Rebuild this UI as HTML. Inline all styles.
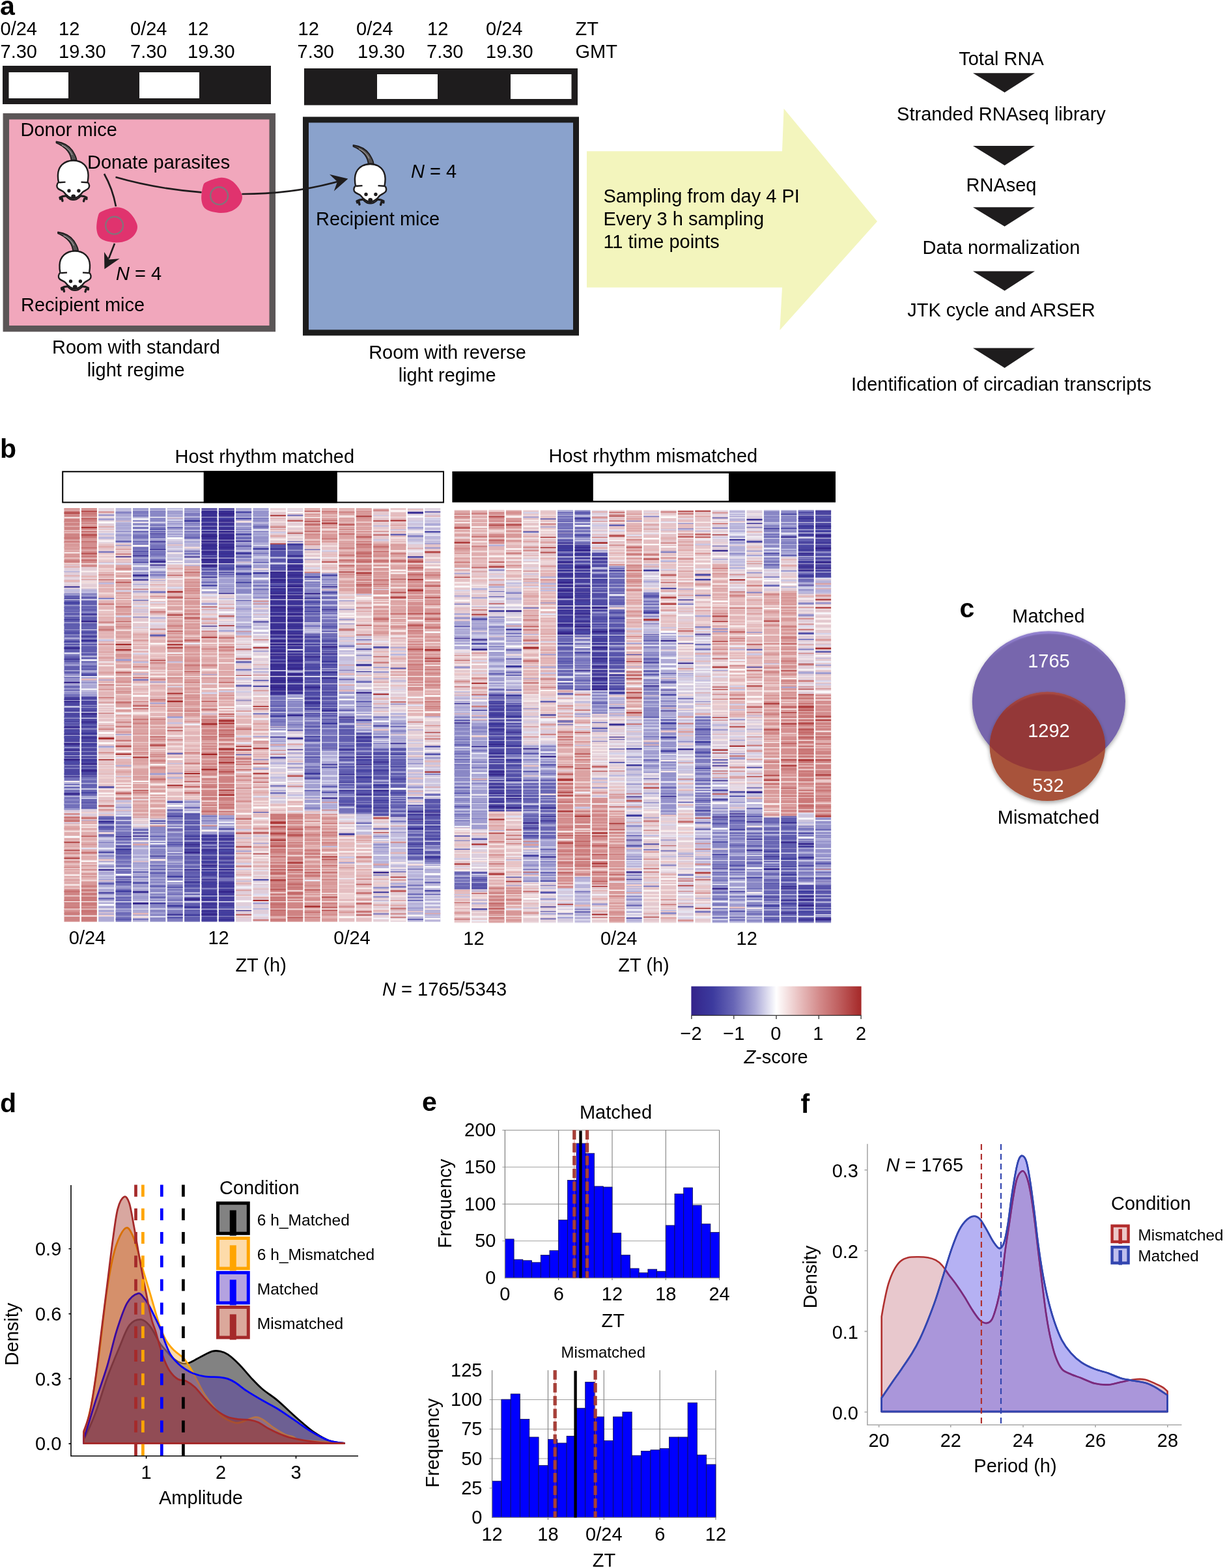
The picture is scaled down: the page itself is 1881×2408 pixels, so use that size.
<!DOCTYPE html>
<html><head><meta charset="utf-8"><title>Figure</title>
<style>
html,body{margin:0;padding:0;background:#fff;}
svg{display:block;}
</style></head><body>
<svg width="1881" height="2408" viewBox="0 0 1881 2408">
<defs><g id="mouse">
<path d="M86.5,217.5 C97,219 106,224 111,231 C114,236 117,240 117.6,246 L109.6,246 C109,240 107,236 104,232 C99,226 93,222 86.5,219.5 Z" fill="#555253" stroke="#1e1c1d" stroke-width="1.8" stroke-linejoin="round"/>
<path d="M95,223 C102,226 108,231 110.8,238" fill="none" stroke="#b8b4b5" stroke-width="1"/>
<path d="M112.5,246.5 C99,246.5 89.5,255 89,268 C88.7,274 89.5,278 90,280 C87,282 86.5,287 89,289.5 C92,292 96,293 98,295 C101,299 105,304 112.5,304.5 C120,304 124,299 127,295 C129,293 133,292 135.5,289.5 C138,287 137.5,282 134.5,280 C135,277 135.8,273 135.5,268 C135,255 126,246.5 112.5,246.5 Z" fill="#fff" stroke="#1e1c1d" stroke-width="2.4"/>
<path d="M91,280.2 L100.5,279.6 M134,280.2 L124.5,279.6" fill="none" stroke="#1e1c1d" stroke-width="2.4"/>
<circle cx="106" cy="293" r="2.7" fill="#1e1c1d"/><circle cx="120.9" cy="293" r="2.7" fill="#1e1c1d"/>
<path d="M101,299.5 C105,303.5 109,305.5 112.7,305.5 C116.5,305.5 120.5,303.5 124.5,299.5 L124.5,302 C120,307 116,308 112.7,308 C109,308 105,307 101,302 Z" fill="#1e1c1d"/>
<ellipse cx="112.7" cy="301.5" rx="3.4" ry="3" fill="#1e1c1d"/>
<path d="M92,303.5 C95,301.5 99,300.5 103,301 M94.5,302.5 L96,308.5 M92.5,305.5 L95,303 M122,301 C126,300.5 130,301.5 133,303.5 M130.5,302.5 L128.5,309 M133,305.5 L130.5,303" fill="none" stroke="#1e1c1d" stroke-width="3.4" stroke-linecap="round"/>
</g></defs>
<rect width="1881" height="2408" fill="#fff"/>
<g font-family="Liberation Sans, Arial, Helvetica, sans-serif" font-size="29" fill="#000">
<text x="0.0" y="22.5" font-size="41" font-weight="bold">a</text>
<text x="0.5" y="54.0">0/24</text>
<text x="90.0" y="54.0">12</text>
<text x="200.0" y="54.0">0/24</text>
<text x="288.0" y="54.0">12</text>
<text x="457.5" y="54.0">12</text>
<text x="547.0" y="54.0">0/24</text>
<text x="656.0" y="54.0">12</text>
<text x="746.0" y="54.0">0/24</text>
<text x="883.5" y="54.0">ZT</text>
<text x="0.5" y="89.0">7.30</text>
<text x="90.0" y="89.0">19.30</text>
<text x="200.0" y="89.0">7.30</text>
<text x="288.0" y="89.0">19.30</text>
<text x="456.5" y="89.0">7.30</text>
<text x="549.0" y="89.0">19.30</text>
<text x="655.0" y="89.0">7.30</text>
<text x="746.0" y="89.0">19.30</text>
<text x="883.5" y="89.0">GMT</text>
<rect x="4" y="101" width="412" height="59" fill="#1e1c1d"/>
<rect x="13.5" y="111" width="91.5" height="40" fill="#fff"/>
<rect x="214" y="111" width="92" height="40" fill="#fff"/>
<rect x="467" y="105" width="420" height="56.5" fill="#1e1c1d"/>
<rect x="579" y="114" width="93" height="38" fill="#fff"/>
<rect x="784" y="114" width="93.5" height="38" fill="#fff"/>
<rect x="9.3" y="178.7" width="409" height="326" fill="#f1a7bc" stroke="#5b5657" stroke-width="9.5"/>
<rect x="469.5" y="183.9" width="415" height="327" fill="#8aa2cc" stroke="#1c1c1c" stroke-width="9"/>
<polygon points="901,232.3 1201,232.3 1203.6,166.7 1347,340 1197.4,507 1201,441.6 901,441.6" fill="#f3f5bd"/>
<text x="926.4" y="310.8">Sampling from day 4 PI</text>
<text x="926.4" y="346.2">Every 3 h sampling</text>
<text x="926.4" y="380.6">11 time points</text>
<text x="1537.5" y="99.6" text-anchor="middle">Total RNA</text>
<text x="1537.5" y="184.6" text-anchor="middle">Stranded RNAseq library</text>
<text x="1537.5" y="293.6" text-anchor="middle">RNAseq</text>
<text x="1537.5" y="390.3" text-anchor="middle">Data normalization</text>
<text x="1537.5" y="485.5" text-anchor="middle">JTK cycle and ARSER</text>
<text x="1537.5" y="600.4" text-anchor="middle">Identification of circadian transcripts</text>
<polygon points="1494,112.2 1589,112.2 1542.6,142" fill="#1e1c1d"/>
<polygon points="1494,224 1589,224 1542.6,254" fill="#1e1c1d"/>
<polygon points="1494,318.2 1589,318.2 1542.6,347.8" fill="#1e1c1d"/>
<polygon points="1494,416.6 1589,416.6 1542.6,446.5" fill="#1e1c1d"/>
<polygon points="1494,534.5 1589,534.5 1542.6,565" fill="#1e1c1d"/>
<text x="31.5" y="209.0">Donor mice</text>
<text x="134.0" y="258.5">Donate parasites</text>
<text x="178.0" y="429.5"><tspan font-style="italic">N</tspan> = 4</text>
<text x="32.0" y="477.8">Recipient mice</text>
<text x="631.0" y="273.0"><tspan font-style="italic">N</tspan> = 4</text>
<text x="485.0" y="346.0">Recipient mice</text>
<text x="209.0" y="543.3" text-anchor="middle">Room with standard</text>
<text x="208.6" y="578.0" text-anchor="middle">light regime</text>
<text x="687.0" y="551.0" text-anchor="middle">Room with reverse</text>
<text x="686.7" y="586.0" text-anchor="middle">light regime</text>
<g transform="translate(0 0)"><path d="M317.8,279.1 C322.1,276.9 332.0,273.6 337.6,273.0 C343.2,272.4 347.3,273.4 351.6,275.3 C355.9,277.2 360.0,280.5 363.4,284.7 C366.8,288.9 371.0,295.8 371.8,300.7 C372.6,305.6 370.7,310.5 368.1,314.3 C365.5,318.1 361.4,321.6 356.3,323.7 C351.2,325.8 344.2,327.4 337.6,327.0 C331.0,326.6 321.1,324.6 316.4,321.3 C311.7,318.0 310.2,313.2 309.4,307.3 C308.6,301.4 310.3,290.8 311.7,286.1 C313.1,281.4 313.5,281.3 317.8,279.1Z" fill="#e0336e"/><circle cx="336.6" cy="300.7" r="13.4" fill="none" stroke="#86717a" stroke-width="2.4"/></g>
<g transform="translate(-161 45.5)"><path d="M317.8,279.1 C322.1,276.9 332.0,273.6 337.6,273.0 C343.2,272.4 347.3,273.4 351.6,275.3 C355.9,277.2 360.0,280.5 363.4,284.7 C366.8,288.9 371.0,295.8 371.8,300.7 C372.6,305.6 370.7,310.5 368.1,314.3 C365.5,318.1 361.4,321.6 356.3,323.7 C351.2,325.8 344.2,327.4 337.6,327.0 C331.0,326.6 321.1,324.6 316.4,321.3 C311.7,318.0 310.2,313.2 309.4,307.3 C308.6,301.4 310.3,290.8 311.7,286.1 C313.1,281.4 313.5,281.3 317.8,279.1Z" fill="#e0336e"/><circle cx="336.6" cy="300.7" r="13.4" fill="none" stroke="#86717a" stroke-width="2.4"/></g>
<path d="M160,267 Q173,290 178,317" fill="none" stroke="#1e1c1d" stroke-width="2.6"/>
<path d="M176,374 L167,397" fill="none" stroke="#1e1c1d" stroke-width="2.6"/>
<path d="M160.4,413.3 L160,387 L167.7,398.6 L183.6,397.3 Z" fill="#1e1c1d"/>
<path d="M177.5,272 Q240,290 309.5,295.4" fill="none" stroke="#1e1c1d" stroke-width="2.6"/>
<path d="M371.4,298 Q450,298 518,279" fill="none" stroke="#1e1c1d" stroke-width="2.6"/>
<path d="M534.4,274.6 L506,267.8 L518,279 L512.8,293.5 Z" fill="#1e1c1d"/>
<use href="#mouse" x="0" y="0"/>
<use href="#mouse" x="2.5" y="139"/>
<use href="#mouse" x="456" y="5.5"/>
<text x="0.0" y="702.7" font-size="41" font-weight="bold">b</text>
<text x="406.3" y="710.6" text-anchor="middle">Host rhythm matched</text>
<text x="1002.9" y="709.9" text-anchor="middle">Host rhythm mismatched</text>
<rect x="96.2" y="724.3" width="584.8" height="47.2" fill="#fff" stroke="#000" stroke-width="2"/>
<rect x="312.7" y="723.3" width="205.1" height="49.2" fill="#000"/>
<rect x="694.4" y="723.9" width="588.6" height="47.6" fill="#000"/>
<rect x="910.8" y="727" width="208.2" height="42" fill="#fff"/>
<g class="hm">
<defs><pattern id="stL" patternUnits="userSpaceOnUse" width="26.3" height="173"><rect x="0" y="0.0" width="26.3" height="1.5" fill="#fff" fill-opacity="0.78"/><rect x="0" y="11.4" width="26.3" height="1.5" fill="#fff" fill-opacity="0.58"/><rect x="0" y="22.7" width="26.3" height="1.0" fill="#fff" fill-opacity="0.44"/><rect x="0" y="30.8" width="26.3" height="1.0" fill="#fff" fill-opacity="0.40"/><rect x="0" y="37.2" width="26.3" height="0.8" fill="#fff" fill-opacity="0.62"/><rect x="0" y="48.1" width="26.3" height="0.8" fill="#fff" fill-opacity="0.65"/><rect x="0" y="55.1" width="26.3" height="1.5" fill="#fff" fill-opacity="0.68"/><rect x="0" y="64.5" width="26.3" height="1.0" fill="#fff" fill-opacity="0.66"/><rect x="0" y="75.2" width="26.3" height="0.8" fill="#fff" fill-opacity="0.38"/><rect x="0" y="80.5" width="26.3" height="1.0" fill="#fff" fill-opacity="0.65"/><rect x="0" y="90.7" width="26.3" height="1.2" fill="#fff" fill-opacity="0.57"/><rect x="0" y="101.7" width="26.3" height="1.0" fill="#fff" fill-opacity="0.67"/><rect x="0" y="109.7" width="26.3" height="0.8" fill="#fff" fill-opacity="0.58"/><rect x="0" y="115.7" width="26.3" height="0.8" fill="#fff" fill-opacity="0.70"/><rect x="0" y="122.0" width="26.3" height="1.0" fill="#fff" fill-opacity="0.61"/><rect x="0" y="126.3" width="26.3" height="0.8" fill="#fff" fill-opacity="0.55"/><rect x="0" y="136.8" width="26.3" height="1.5" fill="#fff" fill-opacity="0.38"/><rect x="0" y="141.5" width="26.3" height="0.8" fill="#fff" fill-opacity="0.46"/><rect x="0" y="152.7" width="26.3" height="0.8" fill="#fff" fill-opacity="0.58"/><rect x="0" y="164.3" width="26.3" height="1.5" fill="#fff" fill-opacity="0.56"/></pattern><pattern id="stR" patternUnits="userSpaceOnUse" width="26.3" height="173"><rect x="0" y="0.0" width="26.3" height="1.5" fill="#fff" fill-opacity="0.48"/><rect x="0" y="8.7" width="26.3" height="1.2" fill="#fff" fill-opacity="0.42"/><rect x="0" y="13.0" width="26.3" height="1.2" fill="#fff" fill-opacity="0.59"/><rect x="0" y="22.4" width="26.3" height="1.5" fill="#fff" fill-opacity="0.70"/><rect x="0" y="31.7" width="26.3" height="0.8" fill="#fff" fill-opacity="0.68"/><rect x="0" y="36.6" width="26.3" height="1.5" fill="#fff" fill-opacity="0.53"/><rect x="0" y="43.9" width="26.3" height="1.0" fill="#fff" fill-opacity="0.38"/><rect x="0" y="54.4" width="26.3" height="0.8" fill="#fff" fill-opacity="0.61"/><rect x="0" y="64.8" width="26.3" height="1.5" fill="#fff" fill-opacity="0.75"/><rect x="0" y="70.0" width="26.3" height="0.8" fill="#fff" fill-opacity="0.76"/><rect x="0" y="79.1" width="26.3" height="1.0" fill="#fff" fill-opacity="0.40"/><rect x="0" y="91.0" width="26.3" height="1.5" fill="#fff" fill-opacity="0.41"/><rect x="0" y="98.8" width="26.3" height="1.0" fill="#fff" fill-opacity="0.62"/><rect x="0" y="109.9" width="26.3" height="1.0" fill="#fff" fill-opacity="0.84"/><rect x="0" y="121.0" width="26.3" height="1.0" fill="#fff" fill-opacity="0.60"/><rect x="0" y="125.7" width="26.3" height="1.5" fill="#fff" fill-opacity="0.68"/><rect x="0" y="133.9" width="26.3" height="1.5" fill="#fff" fill-opacity="0.62"/><rect x="0" y="143.5" width="26.3" height="0.8" fill="#fff" fill-opacity="0.83"/><rect x="0" y="155.1" width="26.3" height="1.2" fill="#fff" fill-opacity="0.53"/><rect x="0" y="162.2" width="26.3" height="1.5" fill="#fff" fill-opacity="0.69"/><rect x="0" y="167.7" width="26.3" height="1.0" fill="#fff" fill-opacity="0.52"/></pattern></defs>
<g transform="translate(98.50 0)"><rect y="780.5" width="24" height="54.0" fill="#cf8484"/><rect y="834.3" width="24" height="33.6" fill="#d89999"/><rect y="867.7" width="24" height="37.1" fill="#e0ceda"/><rect y="904.6" width="24" height="7.2" fill="#c3bcdc"/><rect y="911.6" width="24" height="123.3" fill="#605daf"/><rect y="1034.7" width="24" height="33.6" fill="#9592cb"/><rect y="1068.1" width="24" height="55.2" fill="#4b45a1"/><rect y="1123.1" width="24" height="70.5" fill="#4b45a1"/><rect y="1193.5" width="24" height="49.4" fill="#7370ba"/><rect y="1242.7" width="24" height="10.8" fill="#dbcddd"/><rect y="1253.3" width="24" height="112.7" fill="#dfacad"/><rect y="1365.8" width="24" height="49.9" fill="#cf8484"/><rect y="781.3" width="24" height="1.2" fill="#d08484"/><rect y="786.5" width="24" height="2.5" fill="#b54949"/><rect y="794.8" width="24" height="1.2" fill="#fdfafa"/><rect y="799.7" width="24" height="3.0" fill="#cc7b7b"/><rect y="808.4" width="24" height="1.2" fill="#d59090"/><rect y="815.5" width="24" height="3.0" fill="#e0aaaa"/><rect y="825.2" width="24" height="2.0" fill="#cb7878"/><rect y="831.6" width="24" height="2.5" fill="#cf8080"/><rect y="839.4" width="24" height="2.5" fill="#dda2a2"/><rect y="847.6" width="24" height="2.5" fill="#f5e3e3"/><rect y="854.7" width="24" height="2.0" fill="#d69292"/><rect y="860.7" width="24" height="2.0" fill="#c87171"/><rect y="869.3" width="24" height="2.5" fill="#e1adad"/><rect y="876.8" width="24" height="1.5" fill="#7876be"/><rect y="883.3" width="24" height="2.0" fill="#e2afaf"/><rect y="890.7" width="24" height="3.0" fill="#e3b2b2"/><rect y="900.4" width="24" height="2.5" fill="#36298f"/><rect y="905.4" width="24" height="2.0" fill="#bfbde1"/><rect y="912.2" width="24" height="2.5" fill="#7b79bf"/><rect y="919.4" width="24" height="1.2" fill="#393296"/><rect y="924.7" width="24" height="2.5" fill="#3f3da0"/><rect y="931.8" width="24" height="2.0" fill="#6462b4"/><rect y="935.7" width="24" height="3.0" fill="#6c6ab8"/><rect y="944.9" width="24" height="2.0" fill="#6765b5"/><rect y="951.1" width="24" height="1.2" fill="#3a3599"/><rect y="958.4" width="24" height="3.0" fill="#5e5cb0"/><rect y="966.2" width="24" height="2.5" fill="#4644a4"/><rect y="971.4" width="24" height="1.2" fill="#413fa1"/><rect y="978.4" width="24" height="3.0" fill="#9896ce"/><rect y="985.1" width="24" height="2.0" fill="#3c3a9e"/><rect y="993.8" width="24" height="3.0" fill="#362a8f"/><rect y="1002.0" width="24" height="3.0" fill="#c9c8e6"/><rect y="1011.7" width="24" height="1.2" fill="#35278d"/><rect y="1019.7" width="24" height="3.0" fill="#a6a4d5"/><rect y="1028.6" width="24" height="3.0" fill="#5c5aaf"/><rect y="1038.3" width="24" height="2.5" fill="#5d5bb0"/><rect y="1047.1" width="24" height="3.0" fill="#34248a"/><rect y="1053.9" width="24" height="2.0" fill="#5654ac"/><rect y="1059.7" width="24" height="1.2" fill="#3b379c"/><rect y="1065.8" width="24" height="2.5" fill="#7472bc"/><rect y="1073.1" width="24" height="1.5" fill="#35288d"/><rect y="1077.0" width="24" height="1.2" fill="#34258b"/><rect y="1084.1" width="24" height="2.0" fill="#c9c8e6"/><rect y="1088.0" width="24" height="1.2" fill="#514faa"/><rect y="1093.2" width="24" height="2.0" fill="#3c3a9e"/><rect y="1100.2" width="24" height="2.0" fill="#514faa"/><rect y="1105.3" width="24" height="1.5" fill="#5957ae"/><rect y="1109.2" width="24" height="2.0" fill="#6a68b7"/><rect y="1116.2" width="24" height="2.0" fill="#35278d"/><rect y="1122.3" width="24" height="1.2" fill="#4745a4"/><rect y="1126.8" width="24" height="2.0" fill="#372e93"/><rect y="1130.9" width="24" height="3.0" fill="#4a48a5"/><rect y="1140.7" width="24" height="3.0" fill="#34248a"/><rect y="1146.5" width="24" height="2.5" fill="#716fbb"/><rect y="1151.3" width="24" height="1.5" fill="#34248a"/><rect y="1156.6" width="24" height="1.5" fill="#4e4ca8"/><rect y="1165.0" width="24" height="3.0" fill="#34248a"/><rect y="1169.7" width="24" height="3.0" fill="#4c4aa7"/><rect y="1178.6" width="24" height="2.5" fill="#5f5db1"/><rect y="1187.9" width="24" height="1.2" fill="#4947a5"/><rect y="1192.3" width="24" height="1.2" fill="#35278c"/><rect y="1199.1" width="24" height="2.5" fill="#fbf3f3"/><rect y="1206.2" width="24" height="1.5" fill="#fefcfc"/><rect y="1209.4" width="24" height="1.5" fill="#6f6dba"/><rect y="1217.7" width="24" height="3.0" fill="#35288e"/><rect y="1227.0" width="24" height="3.0" fill="#8785c6"/><rect y="1234.3" width="24" height="2.5" fill="#7270bb"/><rect y="1241.4" width="24" height="2.5" fill="#8684c5"/><rect y="1248.7" width="24" height="2.5" fill="#cf8181"/><rect y="1254.3" width="24" height="2.5" fill="#c87272"/><rect y="1258.4" width="24" height="3.0" fill="#b74d4d"/><rect y="1263.0" width="24" height="1.5" fill="#d0cfe9"/><rect y="1270.7" width="24" height="3.0" fill="#dca0a0"/><rect y="1276.4" width="24" height="1.2" fill="#f9efef"/><rect y="1283.7" width="24" height="3.0" fill="#fafafd"/><rect y="1292.0" width="24" height="2.5" fill="#af3e3e"/><rect y="1300.2" width="24" height="3.0" fill="#dda3a3"/><rect y="1305.2" width="24" height="1.5" fill="#b34646"/><rect y="1309.1" width="24" height="3.0" fill="#d69292"/><rect y="1316.9" width="24" height="2.0" fill="#b24343"/><rect y="1322.4" width="24" height="2.0" fill="#d28787"/><rect y="1331.1" width="24" height="2.5" fill="#d48c8c"/><rect y="1335.8" width="24" height="3.0" fill="#dea6a6"/><rect y="1342.6" width="24" height="2.5" fill="#f9eeee"/><rect y="1351.3" width="24" height="1.5" fill="#d58f8f"/><rect y="1357.7" width="24" height="2.5" fill="#f7e9e9"/><rect y="1362.2" width="24" height="3.0" fill="#dfa9a9"/><rect y="1368.1" width="24" height="2.0" fill="#c76f6f"/><rect y="1374.7" width="24" height="1.2" fill="#e1acac"/><rect y="1381.8" width="24" height="2.0" fill="#cb7878"/><rect y="1385.3" width="24" height="1.2" fill="#c66e6e"/><rect y="1392.9" width="24" height="1.2" fill="#ca7575"/><rect y="1396.6" width="24" height="3.0" fill="#d99999"/><rect y="1402.0" width="24" height="1.5" fill="#ca7777"/><rect y="1405.9" width="24" height="1.2" fill="#f1f0f8"/></g>
<g transform="translate(124.87 0)"><rect y="780.5" width="24" height="54.0" fill="#cb7a7a"/><rect y="834.3" width="24" height="33.6" fill="#d48e8f"/><rect y="867.7" width="24" height="37.1" fill="#e3cdd5"/><rect y="904.6" width="24" height="7.2" fill="#b8b3d9"/><rect y="911.6" width="24" height="125.0" fill="#605daf"/><rect y="1036.5" width="24" height="31.9" fill="#ada9d5"/><rect y="1068.1" width="24" height="55.2" fill="#4b45a1"/><rect y="1123.1" width="24" height="70.5" fill="#4b45a1"/><rect y="1193.5" width="24" height="49.4" fill="#6966b4"/><rect y="1242.7" width="24" height="10.8" fill="#dbcddd"/><rect y="1253.3" width="24" height="75.8" fill="#dfacad"/><rect y="1328.9" width="24" height="37.1" fill="#d89999"/><rect y="1365.8" width="24" height="49.9" fill="#cb7a7a"/><rect y="783.8" width="24" height="2.0" fill="#b34646"/><rect y="790.3" width="24" height="2.5" fill="#d18686"/><rect y="796.0" width="24" height="1.2" fill="#bd5b5b"/><rect y="798.8" width="24" height="2.0" fill="#ce7f7f"/><rect y="804.4" width="24" height="2.5" fill="#dea6a6"/><rect y="808.8" width="24" height="2.0" fill="#a52828"/><rect y="812.9" width="24" height="1.5" fill="#d69292"/><rect y="820.2" width="24" height="3.0" fill="#ba5454"/><rect y="826.7" width="24" height="1.5" fill="#dda4a4"/><rect y="832.7" width="24" height="2.0" fill="#c56b6b"/><rect y="840.7" width="24" height="1.2" fill="#c06161"/><rect y="848.8" width="24" height="2.5" fill="#bb5757"/><rect y="854.6" width="24" height="1.5" fill="#c56a6a"/><rect y="859.8" width="24" height="2.0" fill="#c66e6e"/><rect y="867.6" width="24" height="3.0" fill="#d08484"/><rect y="877.1" width="24" height="2.0" fill="#f6e6e6"/><rect y="883.9" width="24" height="3.0" fill="#e6b9b9"/><rect y="888.9" width="24" height="1.5" fill="#db9e9e"/><rect y="892.3" width="24" height="3.0" fill="#f3dede"/><rect y="901.6" width="24" height="1.2" fill="#f2d9d9"/><rect y="908.4" width="24" height="2.0" fill="#bfbde1"/><rect y="914.6" width="24" height="1.5" fill="#acaad8"/><rect y="919.4" width="24" height="3.0" fill="#9391cb"/><rect y="929.2" width="24" height="1.5" fill="#615fb2"/><rect y="932.9" width="24" height="2.0" fill="#706eba"/><rect y="938.1" width="24" height="3.0" fill="#7c7ac0"/><rect y="943.3" width="24" height="1.5" fill="#372d93"/><rect y="947.1" width="24" height="1.2" fill="#6664b5"/><rect y="953.2" width="24" height="3.0" fill="#34248a"/><rect y="962.3" width="24" height="1.5" fill="#6c6ab8"/><rect y="966.2" width="24" height="1.5" fill="#8e8cc9"/><rect y="970.6" width="24" height="1.2" fill="#4341a2"/><rect y="975.7" width="24" height="2.0" fill="#393196"/><rect y="982.1" width="24" height="3.0" fill="#393297"/><rect y="988.5" width="24" height="2.0" fill="#6361b3"/><rect y="994.7" width="24" height="2.5" fill="#5f5db1"/><rect y="1002.5" width="24" height="3.0" fill="#5553ac"/><rect y="1007.7" width="24" height="1.5" fill="#d1d0e9"/><rect y="1012.3" width="24" height="3.0" fill="#ededf7"/><rect y="1019.0" width="24" height="3.0" fill="#8f8dca"/><rect y="1024.5" width="24" height="2.0" fill="#7775bd"/><rect y="1030.7" width="24" height="2.5" fill="#a5a3d4"/><rect y="1036.0" width="24" height="2.0" fill="#3c3a9e"/><rect y="1042.2" width="24" height="2.5" fill="#e5b8b8"/><rect y="1048.0" width="24" height="3.0" fill="#8280c3"/><rect y="1057.5" width="24" height="2.0" fill="#ffffff"/><rect y="1066.1" width="24" height="3.0" fill="#a09ed2"/><rect y="1074.1" width="24" height="2.0" fill="#6462b4"/><rect y="1082.5" width="24" height="2.0" fill="#8684c5"/><rect y="1087.6" width="24" height="2.0" fill="#5553ab"/><rect y="1095.0" width="24" height="2.5" fill="#36298e"/><rect y="1102.3" width="24" height="1.2" fill="#aeacd9"/><rect y="1108.1" width="24" height="1.5" fill="#34248a"/><rect y="1112.0" width="24" height="2.5" fill="#4846a4"/><rect y="1120.1" width="24" height="1.2" fill="#7a78bf"/><rect y="1125.5" width="24" height="2.5" fill="#3a369a"/><rect y="1132.4" width="24" height="1.5" fill="#35268c"/><rect y="1138.4" width="24" height="1.2" fill="#393195"/><rect y="1142.5" width="24" height="1.2" fill="#3b399d"/><rect y="1146.6" width="24" height="1.2" fill="#5351ab"/><rect y="1153.6" width="24" height="1.2" fill="#3b379b"/><rect y="1158.8" width="24" height="1.5" fill="#6664b5"/><rect y="1166.2" width="24" height="2.5" fill="#3b369a"/><rect y="1172.4" width="24" height="2.0" fill="#34248a"/><rect y="1178.5" width="24" height="1.5" fill="#5351ab"/><rect y="1182.2" width="24" height="3.0" fill="#34248a"/><rect y="1190.3" width="24" height="2.0" fill="#383095"/><rect y="1195.2" width="24" height="3.0" fill="#8785c5"/><rect y="1202.1" width="24" height="1.2" fill="#605eb2"/><rect y="1205.0" width="24" height="3.0" fill="#615fb2"/><rect y="1210.4" width="24" height="1.5" fill="#8f8dca"/><rect y="1216.4" width="24" height="2.0" fill="#4341a2"/><rect y="1224.5" width="24" height="2.5" fill="#cac9e6"/><rect y="1232.8" width="24" height="1.5" fill="#393398"/><rect y="1240.6" width="24" height="1.5" fill="#514fa9"/><rect y="1246.7" width="24" height="2.5" fill="#ebc6c6"/><rect y="1255.7" width="24" height="1.2" fill="#ae3c3c"/><rect y="1259.0" width="24" height="1.2" fill="#7977be"/><rect y="1265.9" width="24" height="1.5" fill="#f5e3e3"/><rect y="1269.3" width="24" height="2.0" fill="#f6e6e6"/><rect y="1275.6" width="24" height="2.0" fill="#ecc9c9"/><rect y="1283.3" width="24" height="2.0" fill="#c36767"/><rect y="1289.2" width="24" height="2.0" fill="#e1adad"/><rect y="1295.7" width="24" height="2.0" fill="#d89797"/><rect y="1301.9" width="24" height="2.5" fill="#d7d6ec"/><rect y="1308.0" width="24" height="3.0" fill="#cb7878"/><rect y="1315.8" width="24" height="3.0" fill="#e1acac"/><rect y="1321.4" width="24" height="2.5" fill="#fcf5f5"/><rect y="1330.5" width="24" height="2.0" fill="#eac3c3"/><rect y="1337.9" width="24" height="2.5" fill="#eecece"/><rect y="1343.9" width="24" height="1.2" fill="#eccbcb"/><rect y="1350.3" width="24" height="3.0" fill="#eecfcf"/><rect y="1359.6" width="24" height="3.0" fill="#cd7e7e"/><rect y="1369.4" width="24" height="1.2" fill="#efd3d3"/><rect y="1375.6" width="24" height="2.0" fill="#ca7575"/><rect y="1382.6" width="24" height="2.5" fill="#cd7e7e"/><rect y="1390.9" width="24" height="2.5" fill="#d89696"/><rect y="1399.2" width="24" height="1.5" fill="#c76f6f"/><rect y="1405.5" width="24" height="2.0" fill="#f3dddd"/></g>
<g transform="translate(151.24 0)"><rect y="780.5" width="24" height="54.0" fill="#e0ceda"/><rect y="834.3" width="24" height="33.6" fill="#e5c4c8"/><rect y="867.7" width="24" height="209.4" fill="#e2b5b7"/><rect y="1076.9" width="24" height="18.3" fill="#e5c4c8"/><rect y="1095.0" width="24" height="158.5" fill="#e5c4c8"/><rect y="1253.3" width="24" height="31.9" fill="#6966b4"/><rect y="1284.9" width="24" height="130.8" fill="#ada9d5"/><rect y="785.3" width="24" height="2.5" fill="#d99898"/><rect y="790.1" width="24" height="2.0" fill="#908eca"/><rect y="796.3" width="24" height="2.5" fill="#9c9ad0"/><rect y="800.8" width="24" height="3.0" fill="#fdf9f9"/><rect y="807.7" width="24" height="2.0" fill="#d48d8d"/><rect y="812.1" width="24" height="1.5" fill="#eac4c4"/><rect y="818.9" width="24" height="2.5" fill="#c0bfe2"/><rect y="824.5" width="24" height="3.0" fill="#b5b3dc"/><rect y="830.2" width="24" height="2.0" fill="#fdf8f8"/><rect y="838.2" width="24" height="3.0" fill="#e1adad"/><rect y="846.4" width="24" height="2.5" fill="#7c7ac0"/><rect y="851.3" width="24" height="3.0" fill="#f2dbdb"/><rect y="857.3" width="24" height="3.0" fill="#f0d6d6"/><rect y="864.0" width="24" height="2.5" fill="#c2c1e2"/><rect y="872.3" width="24" height="3.0" fill="#f0d4d4"/><rect y="882.1" width="24" height="1.5" fill="#d38a8a"/><rect y="889.8" width="24" height="1.2" fill="#c26464"/><rect y="894.7" width="24" height="2.5" fill="#acaad8"/><rect y="903.8" width="24" height="1.5" fill="#e1aeae"/><rect y="910.3" width="24" height="1.5" fill="#f8ebeb"/><rect y="918.0" width="24" height="3.0" fill="#8280c3"/><rect y="926.5" width="24" height="3.0" fill="#cf8080"/><rect y="936.2" width="24" height="2.5" fill="#f5e3e3"/><rect y="941.0" width="24" height="2.5" fill="#e8c0c0"/><rect y="947.0" width="24" height="2.5" fill="#e3b2b2"/><rect y="954.9" width="24" height="2.0" fill="#b54949"/><rect y="958.8" width="24" height="1.5" fill="#fafafd"/><rect y="962.4" width="24" height="1.5" fill="#d18585"/><rect y="965.6" width="24" height="3.0" fill="#b34545"/><rect y="973.9" width="24" height="2.5" fill="#dea6a6"/><rect y="981.7" width="24" height="3.0" fill="#c7c6e5"/><rect y="987.8" width="24" height="3.0" fill="#d69191"/><rect y="996.1" width="24" height="1.2" fill="#e2afaf"/><rect y="1001.2" width="24" height="1.5" fill="#d08484"/><rect y="1009.6" width="24" height="1.5" fill="#d79595"/><rect y="1015.8" width="24" height="1.5" fill="#f1f0f8"/><rect y="1021.3" width="24" height="2.0" fill="#f8ecec"/><rect y="1029.8" width="24" height="1.2" fill="#c26666"/><rect y="1032.7" width="24" height="1.2" fill="#d58f8f"/><rect y="1037.5" width="24" height="3.0" fill="#f9efef"/><rect y="1043.6" width="24" height="1.5" fill="#a8a6d6"/><rect y="1050.8" width="24" height="1.5" fill="#c16363"/><rect y="1058.1" width="24" height="1.2" fill="#d58e8e"/><rect y="1064.5" width="24" height="1.2" fill="#e4b5b5"/><rect y="1070.3" width="24" height="2.0" fill="#cf8181"/><rect y="1078.4" width="24" height="1.2" fill="#d38a8a"/><rect y="1081.3" width="24" height="1.2" fill="#ffffff"/><rect y="1089.2" width="24" height="1.2" fill="#f1d7d7"/><rect y="1094.2" width="24" height="1.5" fill="#bf5e5e"/><rect y="1101.3" width="24" height="1.5" fill="#e6baba"/><rect y="1108.0" width="24" height="2.5" fill="#faf2f2"/><rect y="1113.4" width="24" height="1.5" fill="#d79393"/><rect y="1117.8" width="24" height="3.0" fill="#c56b6b"/><rect y="1124.2" width="24" height="3.0" fill="#fefefe"/><rect y="1132.5" width="24" height="3.0" fill="#a52828"/><rect y="1140.0" width="24" height="3.0" fill="#fcf6f6"/><rect y="1145.6" width="24" height="3.0" fill="#9d9bd1"/><rect y="1154.1" width="24" height="3.0" fill="#d79595"/><rect y="1162.5" width="24" height="1.2" fill="#efd2d2"/><rect y="1166.0" width="24" height="1.5" fill="#a52828"/><rect y="1173.7" width="24" height="1.2" fill="#e0acac"/><rect y="1180.9" width="24" height="2.5" fill="#eac3c3"/><rect y="1187.7" width="24" height="1.2" fill="#e5b7b7"/><rect y="1193.3" width="24" height="2.5" fill="#efd2d2"/><rect y="1201.0" width="24" height="2.5" fill="#e8c0c0"/><rect y="1207.4" width="24" height="3.0" fill="#5351aa"/><rect y="1213.4" width="24" height="2.0" fill="#eac4c4"/><rect y="1217.1" width="24" height="2.5" fill="#fbf4f4"/><rect y="1221.4" width="24" height="2.0" fill="#f5e2e2"/><rect y="1229.3" width="24" height="1.2" fill="#dea5a5"/><rect y="1236.7" width="24" height="2.0" fill="#b84f4f"/><rect y="1242.9" width="24" height="1.5" fill="#ca7777"/><rect y="1247.8" width="24" height="2.0" fill="#c2c1e2"/><rect y="1256.2" width="24" height="2.5" fill="#5d5bb0"/><rect y="1260.8" width="24" height="2.5" fill="#383095"/><rect y="1269.4" width="24" height="3.0" fill="#5755ad"/><rect y="1277.8" width="24" height="3.0" fill="#f4dfdf"/><rect y="1287.7" width="24" height="1.5" fill="#ecebf6"/><rect y="1291.8" width="24" height="2.5" fill="#807ec2"/><rect y="1297.7" width="24" height="3.0" fill="#a6a4d5"/><rect y="1302.6" width="24" height="2.0" fill="#f1f1f9"/><rect y="1307.8" width="24" height="2.0" fill="#3f3da0"/><rect y="1313.0" width="24" height="2.0" fill="#6462b4"/><rect y="1319.3" width="24" height="3.0" fill="#e7bcbc"/><rect y="1324.5" width="24" height="2.0" fill="#fdf9f9"/><rect y="1329.8" width="24" height="1.2" fill="#7f7dc2"/><rect y="1335.0" width="24" height="2.0" fill="#34248a"/><rect y="1343.6" width="24" height="2.5" fill="#cecde8"/><rect y="1352.0" width="24" height="1.2" fill="#e3b3b3"/><rect y="1355.5" width="24" height="3.0" fill="#5e5cb1"/><rect y="1362.7" width="24" height="2.0" fill="#d4d3eb"/><rect y="1370.3" width="24" height="2.0" fill="#3a359a"/><rect y="1379.2" width="24" height="2.0" fill="#5a58ae"/><rect y="1388.1" width="24" height="3.0" fill="#f9f9fc"/><rect y="1395.4" width="24" height="1.2" fill="#f8ecec"/><rect y="1401.2" width="24" height="1.2" fill="#efd1d1"/><rect y="1404.9" width="24" height="2.5" fill="#edcccc"/></g>
<g transform="translate(177.61 0)"><rect y="780.5" width="24" height="54.0" fill="#ada9d5"/><rect y="834.3" width="24" height="33.6" fill="#e5c4c8"/><rect y="867.7" width="24" height="232.5" fill="#dba3a3"/><rect y="1100.0" width="24" height="128.9" fill="#e2b5b7"/><rect y="1228.6" width="24" height="24.8" fill="#c3bcdc"/><rect y="1253.3" width="24" height="44.2" fill="#7370ba"/><rect y="1297.2" width="24" height="17.8" fill="#5854aa"/><rect y="1314.8" width="24" height="100.9" fill="#7370ba"/><rect y="786.4" width="24" height="2.0" fill="#7977be"/><rect y="793.8" width="24" height="1.5" fill="#a2a0d3"/><rect y="799.7" width="24" height="1.2" fill="#e9c1c1"/><rect y="807.1" width="24" height="1.5" fill="#8684c5"/><rect y="814.8" width="24" height="1.2" fill="#7c7ac0"/><rect y="820.8" width="24" height="2.5" fill="#9896ce"/><rect y="829.7" width="24" height="3.0" fill="#615fb2"/><rect y="836.9" width="24" height="1.5" fill="#9a98cf"/><rect y="842.9" width="24" height="1.5" fill="#d79595"/><rect y="850.3" width="24" height="1.2" fill="#bf5f5f"/><rect y="854.4" width="24" height="1.5" fill="#34248a"/><rect y="857.4" width="24" height="3.0" fill="#e9c2c2"/><rect y="864.6" width="24" height="2.5" fill="#aaa8d7"/><rect y="872.0" width="24" height="3.0" fill="#d38a8a"/><rect y="876.7" width="24" height="2.5" fill="#fdf9f9"/><rect y="880.8" width="24" height="2.0" fill="#e9c2c2"/><rect y="887.2" width="24" height="2.0" fill="#ffffff"/><rect y="893.6" width="24" height="2.0" fill="#bd5959"/><rect y="900.2" width="24" height="3.0" fill="#e3b1b1"/><rect y="906.3" width="24" height="2.5" fill="#d5d4eb"/><rect y="915.5" width="24" height="2.5" fill="#e9c2c2"/><rect y="922.8" width="24" height="3.0" fill="#e5b6b6"/><rect y="930.1" width="24" height="3.0" fill="#c87272"/><rect y="935.4" width="24" height="1.5" fill="#dda3a3"/><rect y="940.7" width="24" height="3.0" fill="#d99999"/><rect y="945.4" width="24" height="2.5" fill="#c8c7e5"/><rect y="954.3" width="24" height="1.2" fill="#b95252"/><rect y="962.0" width="24" height="1.2" fill="#ce8080"/><rect y="967.2" width="24" height="2.0" fill="#f1d9d9"/><rect y="974.2" width="24" height="2.5" fill="#da9b9b"/><rect y="982.6" width="24" height="2.5" fill="#f6e5e5"/><rect y="988.6" width="24" height="2.5" fill="#a82e2e"/><rect y="997.1" width="24" height="2.0" fill="#a52828"/><rect y="1005.3" width="24" height="3.0" fill="#cf8080"/><rect y="1012.1" width="24" height="3.0" fill="#9e9cd1"/><rect y="1018.1" width="24" height="2.5" fill="#e7bcbc"/><rect y="1026.4" width="24" height="2.5" fill="#f6e6e6"/><rect y="1031.6" width="24" height="2.5" fill="#c46969"/><rect y="1037.9" width="24" height="1.2" fill="#e5b7b7"/><rect y="1041.4" width="24" height="1.5" fill="#dca0a0"/><rect y="1045.7" width="24" height="2.5" fill="#d79393"/><rect y="1054.0" width="24" height="1.2" fill="#fdfbfb"/><rect y="1061.3" width="24" height="1.2" fill="#c46969"/><rect y="1066.3" width="24" height="1.2" fill="#fbf3f3"/><rect y="1071.0" width="24" height="1.2" fill="#e7bbbb"/><rect y="1077.7" width="24" height="2.5" fill="#c77070"/><rect y="1087.2" width="24" height="2.0" fill="#f9f9fc"/><rect y="1091.7" width="24" height="1.2" fill="#d48c8c"/><rect y="1094.8" width="24" height="2.5" fill="#f4f4fa"/><rect y="1099.5" width="24" height="2.5" fill="#e5b8b8"/><rect y="1108.5" width="24" height="1.2" fill="#c36868"/><rect y="1114.5" width="24" height="2.5" fill="#ce8080"/><rect y="1123.5" width="24" height="1.5" fill="#d38b8b"/><rect y="1127.4" width="24" height="2.0" fill="#9a98cf"/><rect y="1136.4" width="24" height="2.0" fill="#c66e6e"/><rect y="1144.7" width="24" height="3.0" fill="#b84f4f"/><rect y="1152.6" width="24" height="2.5" fill="#fbfbfd"/><rect y="1157.2" width="24" height="2.0" fill="#a52828"/><rect y="1162.1" width="24" height="3.0" fill="#dddcef"/><rect y="1170.1" width="24" height="2.0" fill="#e2b0b0"/><rect y="1174.8" width="24" height="2.0" fill="#908eca"/><rect y="1179.8" width="24" height="1.5" fill="#f3dcdc"/><rect y="1183.9" width="24" height="3.0" fill="#dda4a4"/><rect y="1191.8" width="24" height="1.2" fill="#cbcae7"/><rect y="1195.4" width="24" height="2.5" fill="#eecfcf"/><rect y="1200.9" width="24" height="2.5" fill="#edcdcd"/><rect y="1206.0" width="24" height="2.0" fill="#fbf4f4"/><rect y="1212.8" width="24" height="1.5" fill="#faf2f2"/><rect y="1216.8" width="24" height="3.0" fill="#c36767"/><rect y="1225.1" width="24" height="3.0" fill="#d18585"/><rect y="1232.5" width="24" height="1.5" fill="#ebc7c7"/><rect y="1239.1" width="24" height="1.5" fill="#9492cc"/><rect y="1243.9" width="24" height="1.5" fill="#e7bcbc"/><rect y="1251.8" width="24" height="2.0" fill="#ebebf6"/><rect y="1259.8" width="24" height="1.2" fill="#cdcce8"/><rect y="1265.6" width="24" height="1.2" fill="#6f6db9"/><rect y="1271.5" width="24" height="2.0" fill="#9593cc"/><rect y="1277.3" width="24" height="1.2" fill="#7b79bf"/><rect y="1284.5" width="24" height="1.5" fill="#35288d"/><rect y="1288.0" width="24" height="1.5" fill="#5c5ab0"/><rect y="1295.7" width="24" height="2.0" fill="#cbcae7"/><rect y="1302.5" width="24" height="3.0" fill="#3d3b9f"/><rect y="1308.9" width="24" height="1.2" fill="#5d5bb0"/><rect y="1313.0" width="24" height="1.5" fill="#4846a5"/><rect y="1316.4" width="24" height="1.2" fill="#5c5ab0"/><rect y="1320.8" width="24" height="1.5" fill="#6664b5"/><rect y="1324.0" width="24" height="1.5" fill="#7e7cc1"/><rect y="1332.0" width="24" height="2.0" fill="#c5c4e4"/><rect y="1336.9" width="24" height="2.0" fill="#4f4da8"/><rect y="1341.9" width="24" height="3.0" fill="#f9f9fc"/><rect y="1347.0" width="24" height="1.5" fill="#372c91"/><rect y="1353.3" width="24" height="2.0" fill="#3a3599"/><rect y="1360.2" width="24" height="3.0" fill="#a2a0d3"/><rect y="1367.4" width="24" height="2.5" fill="#3d3b9f"/><rect y="1376.3" width="24" height="2.0" fill="#5e5cb1"/><rect y="1382.8" width="24" height="1.2" fill="#5755ad"/><rect y="1386.8" width="24" height="2.5" fill="#5c5aaf"/><rect y="1392.4" width="24" height="1.2" fill="#6866b6"/><rect y="1398.0" width="24" height="2.5" fill="#9e9cd1"/><rect y="1402.7" width="24" height="1.2" fill="#6765b6"/><rect y="1410.7" width="24" height="2.0" fill="#5755ad"/></g>
<g transform="translate(203.98 0)"><rect y="780.5" width="24" height="29.4" fill="#8987c5"/><rect y="809.7" width="24" height="56.5" fill="#7370ba"/><rect y="865.9" width="24" height="24.8" fill="#a19ed0"/><rect y="890.5" width="24" height="21.3" fill="#dbcddd"/><rect y="911.6" width="24" height="60.0" fill="#e4c9cf"/><rect y="971.4" width="24" height="128.7" fill="#e2b5b7"/><rect y="1100.0" width="24" height="153.5" fill="#dba3a3"/><rect y="1253.3" width="24" height="17.8" fill="#e3cdd5"/><rect y="1270.8" width="24" height="144.9" fill="#ada9d5"/><rect y="785.6" width="24" height="3.0" fill="#7b79c0"/><rect y="791.8" width="24" height="1.5" fill="#716fba"/><rect y="795.6" width="24" height="3.0" fill="#f9f8fc"/><rect y="801.3" width="24" height="2.0" fill="#f9eeee"/><rect y="806.8" width="24" height="2.0" fill="#e0e0f1"/><rect y="812.4" width="24" height="2.5" fill="#e1e0f1"/><rect y="818.6" width="24" height="3.0" fill="#8b89c7"/><rect y="826.9" width="24" height="3.0" fill="#9593cc"/><rect y="836.7" width="24" height="3.0" fill="#fcf6f6"/><rect y="844.7" width="24" height="2.5" fill="#4b49a6"/><rect y="852.8" width="24" height="1.2" fill="#372b90"/><rect y="858.8" width="24" height="2.5" fill="#8684c5"/><rect y="864.3" width="24" height="2.0" fill="#3b379b"/><rect y="868.1" width="24" height="2.5" fill="#efeff8"/><rect y="876.4" width="24" height="1.2" fill="#edecf6"/><rect y="882.3" width="24" height="3.0" fill="#372d93"/><rect y="889.6" width="24" height="2.0" fill="#383095"/><rect y="896.2" width="24" height="2.0" fill="#a9a7d6"/><rect y="904.2" width="24" height="1.5" fill="#cc7a7a"/><rect y="907.7" width="24" height="2.0" fill="#a19fd2"/><rect y="916.0" width="24" height="1.2" fill="#e5b8b8"/><rect y="920.5" width="24" height="2.0" fill="#3d3b9e"/><rect y="925.4" width="24" height="1.2" fill="#c9c8e6"/><rect y="930.0" width="24" height="2.0" fill="#d3d2ea"/><rect y="936.0" width="24" height="1.5" fill="#c5c3e4"/><rect y="939.3" width="24" height="1.2" fill="#b6b4dd"/><rect y="946.9" width="24" height="1.5" fill="#8381c4"/><rect y="954.8" width="24" height="1.2" fill="#fefeff"/><rect y="962.8" width="24" height="1.2" fill="#d5d4eb"/><rect y="969.0" width="24" height="1.5" fill="#efd3d3"/><rect y="974.2" width="24" height="1.5" fill="#d08383"/><rect y="982.5" width="24" height="1.5" fill="#d69090"/><rect y="989.9" width="24" height="2.5" fill="#e7bcbc"/><rect y="997.4" width="24" height="1.5" fill="#f6f6fb"/><rect y="1002.8" width="24" height="2.5" fill="#d5d4eb"/><rect y="1011.9" width="24" height="1.5" fill="#f0d3d3"/><rect y="1015.7" width="24" height="2.5" fill="#b5b3dc"/><rect y="1023.3" width="24" height="1.5" fill="#ca7777"/><rect y="1028.8" width="24" height="2.5" fill="#fefeff"/><rect y="1034.4" width="24" height="1.5" fill="#b3b2db"/><rect y="1038.3" width="24" height="3.0" fill="#c46a6a"/><rect y="1042.9" width="24" height="2.5" fill="#7b79bf"/><rect y="1051.3" width="24" height="1.5" fill="#f5f5fa"/><rect y="1054.4" width="24" height="1.5" fill="#eccbcb"/><rect y="1062.8" width="24" height="1.5" fill="#f3dfdf"/><rect y="1067.1" width="24" height="3.0" fill="#fcf7f7"/><rect y="1076.7" width="24" height="1.5" fill="#d48b8b"/><rect y="1082.6" width="24" height="2.5" fill="#c26565"/><rect y="1087.9" width="24" height="1.2" fill="#b95151"/><rect y="1094.4" width="24" height="3.0" fill="#f8ebeb"/><rect y="1102.5" width="24" height="3.0" fill="#c66d6d"/><rect y="1109.6" width="24" height="3.0" fill="#d18585"/><rect y="1117.6" width="24" height="2.5" fill="#d38a8a"/><rect y="1126.1" width="24" height="1.2" fill="#d79393"/><rect y="1134.2" width="24" height="1.5" fill="#dca0a0"/><rect y="1141.9" width="24" height="2.5" fill="#e2b0b0"/><rect y="1147.4" width="24" height="2.5" fill="#d69191"/><rect y="1154.5" width="24" height="2.0" fill="#d18585"/><rect y="1162.2" width="24" height="2.5" fill="#ac3636"/><rect y="1169.3" width="24" height="2.5" fill="#dfa8a8"/><rect y="1177.1" width="24" height="1.5" fill="#f1d9d9"/><rect y="1185.2" width="24" height="2.0" fill="#dca1a1"/><rect y="1191.9" width="24" height="1.5" fill="#d69191"/><rect y="1198.9" width="24" height="2.0" fill="#fefefe"/><rect y="1207.5" width="24" height="2.0" fill="#dea4a4"/><rect y="1212.5" width="24" height="2.5" fill="#c56b6b"/><rect y="1216.6" width="24" height="1.5" fill="#cb7878"/><rect y="1220.0" width="24" height="3.0" fill="#e2afaf"/><rect y="1227.4" width="24" height="1.5" fill="#eeeef7"/><rect y="1231.8" width="24" height="1.5" fill="#e8bebe"/><rect y="1237.8" width="24" height="2.5" fill="#dfa9a9"/><rect y="1246.9" width="24" height="1.5" fill="#e7bdbd"/><rect y="1254.3" width="24" height="1.2" fill="#d18686"/><rect y="1259.3" width="24" height="1.5" fill="#f0d4d4"/><rect y="1265.5" width="24" height="1.5" fill="#cccbe7"/><rect y="1273.6" width="24" height="2.5" fill="#4d4ba7"/><rect y="1278.4" width="24" height="1.5" fill="#3a3599"/><rect y="1283.3" width="24" height="1.5" fill="#34248a"/><rect y="1287.6" width="24" height="1.5" fill="#6664b5"/><rect y="1291.1" width="24" height="2.0" fill="#f5e3e3"/><rect y="1295.7" width="24" height="2.5" fill="#dda4a4"/><rect y="1303.1" width="24" height="1.2" fill="#cac8e6"/><rect y="1309.2" width="24" height="2.5" fill="#aba9d7"/><rect y="1317.8" width="24" height="2.0" fill="#d6d5ec"/><rect y="1322.2" width="24" height="1.5" fill="#ebc6c6"/><rect y="1325.7" width="24" height="2.5" fill="#8785c5"/><rect y="1333.2" width="24" height="1.5" fill="#a8a6d6"/><rect y="1338.4" width="24" height="1.5" fill="#4846a5"/><rect y="1345.9" width="24" height="2.5" fill="#6d6bb8"/><rect y="1354.4" width="24" height="3.0" fill="#5351aa"/><rect y="1360.3" width="24" height="1.2" fill="#8886c6"/><rect y="1368.4" width="24" height="3.0" fill="#372d92"/><rect y="1375.0" width="24" height="2.5" fill="#6866b6"/><rect y="1379.2" width="24" height="1.5" fill="#9896ce"/><rect y="1385.9" width="24" height="3.0" fill="#35278d"/><rect y="1395.7" width="24" height="2.5" fill="#a9a7d6"/><rect y="1401.9" width="24" height="2.5" fill="#e5b7b7"/><rect y="1406.6" width="24" height="3.0" fill="#f3dddd"/><rect y="1411.2" width="24" height="1.2" fill="#5452ab"/></g>
<g transform="translate(230.35 0)"><rect y="780.5" width="24" height="29.4" fill="#8987c5"/><rect y="809.7" width="24" height="56.5" fill="#7370ba"/><rect y="865.9" width="24" height="26.6" fill="#ada9d5"/><rect y="892.3" width="24" height="19.5" fill="#e3cdd5"/><rect y="911.6" width="24" height="33.6" fill="#e4bdc0"/><rect y="945.0" width="24" height="26.6" fill="#e0ceda"/><rect y="971.4" width="24" height="128.7" fill="#e2b5b7"/><rect y="1100.0" width="24" height="157.0" fill="#dba3a3"/><rect y="1256.8" width="24" height="10.8" fill="#ccc4dd"/><rect y="1267.3" width="24" height="148.4" fill="#8987c5"/><rect y="785.4" width="24" height="2.0" fill="#8987c7"/><rect y="793.9" width="24" height="1.2" fill="#fcf7f7"/><rect y="801.3" width="24" height="2.5" fill="#c6c4e4"/><rect y="806.3" width="24" height="1.5" fill="#5e5cb0"/><rect y="812.1" width="24" height="3.0" fill="#5856ad"/><rect y="818.6" width="24" height="1.5" fill="#3a3398"/><rect y="827.0" width="24" height="1.2" fill="#dcdbef"/><rect y="831.6" width="24" height="1.2" fill="#35288d"/><rect y="835.3" width="24" height="1.5" fill="#8987c7"/><rect y="843.0" width="24" height="2.0" fill="#3a3398"/><rect y="846.8" width="24" height="3.0" fill="#7977bf"/><rect y="853.5" width="24" height="2.5" fill="#8e8cc9"/><rect y="861.0" width="24" height="2.5" fill="#35288d"/><rect y="866.5" width="24" height="2.0" fill="#34248a"/><rect y="873.1" width="24" height="2.5" fill="#e0dff0"/><rect y="877.1" width="24" height="2.0" fill="#6563b4"/><rect y="881.5" width="24" height="3.0" fill="#7e7cc1"/><rect y="889.0" width="24" height="2.0" fill="#eecfcf"/><rect y="896.9" width="24" height="2.0" fill="#e2b1b1"/><rect y="902.7" width="24" height="3.0" fill="#ebc6c6"/><rect y="907.8" width="24" height="3.0" fill="#7775be"/><rect y="915.2" width="24" height="1.2" fill="#d28888"/><rect y="919.9" width="24" height="3.0" fill="#faf1f1"/><rect y="924.6" width="24" height="2.0" fill="#dad9ed"/><rect y="931.6" width="24" height="3.0" fill="#fbf5f5"/><rect y="938.6" width="24" height="3.0" fill="#c77070"/><rect y="948.1" width="24" height="2.0" fill="#b4b2dc"/><rect y="953.6" width="24" height="1.5" fill="#eac3c3"/><rect y="957.2" width="24" height="2.0" fill="#dcdbee"/><rect y="965.5" width="24" height="2.5" fill="#c36666"/><rect y="974.2" width="24" height="3.0" fill="#4341a2"/><rect y="980.7" width="24" height="1.2" fill="#e3b2b2"/><rect y="987.7" width="24" height="2.5" fill="#fbf4f4"/><rect y="994.8" width="24" height="3.0" fill="#e3b2b2"/><rect y="1003.2" width="24" height="2.0" fill="#f1d9d9"/><rect y="1008.9" width="24" height="1.5" fill="#efd2d2"/><rect y="1013.4" width="24" height="1.5" fill="#b54a4a"/><rect y="1016.9" width="24" height="2.5" fill="#c36868"/><rect y="1025.3" width="24" height="1.5" fill="#db9e9e"/><rect y="1032.8" width="24" height="1.2" fill="#fffefe"/><rect y="1037.1" width="24" height="3.0" fill="#eecfcf"/><rect y="1042.3" width="24" height="2.5" fill="#d18585"/><rect y="1046.5" width="24" height="2.0" fill="#a9a7d7"/><rect y="1052.3" width="24" height="1.5" fill="#dfa8a8"/><rect y="1058.6" width="24" height="3.0" fill="#ebc7c7"/><rect y="1065.4" width="24" height="1.5" fill="#e1aeae"/><rect y="1073.8" width="24" height="3.0" fill="#be5c5c"/><rect y="1078.9" width="24" height="2.0" fill="#a6a4d5"/><rect y="1084.4" width="24" height="2.5" fill="#d89696"/><rect y="1090.3" width="24" height="3.0" fill="#e9c2c2"/><rect y="1099.9" width="24" height="1.2" fill="#faf0f0"/><rect y="1102.7" width="24" height="2.5" fill="#c97575"/><rect y="1109.7" width="24" height="1.2" fill="#d99898"/><rect y="1113.7" width="24" height="1.2" fill="#edcbcb"/><rect y="1121.6" width="24" height="1.5" fill="#dfa9a9"/><rect y="1125.7" width="24" height="2.0" fill="#db9f9f"/><rect y="1131.0" width="24" height="1.2" fill="#be5c5c"/><rect y="1134.8" width="24" height="1.5" fill="#cf8181"/><rect y="1143.0" width="24" height="3.0" fill="#bb5656"/><rect y="1149.9" width="24" height="2.5" fill="#f0d5d5"/><rect y="1159.0" width="24" height="3.0" fill="#c66e6e"/><rect y="1167.2" width="24" height="2.5" fill="#cd7c7c"/><rect y="1173.0" width="24" height="2.5" fill="#faf2f2"/><rect y="1178.1" width="24" height="3.0" fill="#c77171"/><rect y="1187.2" width="24" height="3.0" fill="#a2a0d3"/><rect y="1195.3" width="24" height="3.0" fill="#c77070"/><rect y="1203.9" width="24" height="2.5" fill="#f8ebeb"/><rect y="1211.2" width="24" height="1.5" fill="#ca7575"/><rect y="1217.1" width="24" height="3.0" fill="#fefbfb"/><rect y="1225.8" width="24" height="2.5" fill="#eccbcb"/><rect y="1231.5" width="24" height="3.0" fill="#e9c2c2"/><rect y="1240.1" width="24" height="2.5" fill="#f4e0e0"/><rect y="1246.9" width="24" height="1.5" fill="#d69292"/><rect y="1253.8" width="24" height="2.0" fill="#e9c1c1"/><rect y="1259.4" width="24" height="2.5" fill="#4a48a6"/><rect y="1263.7" width="24" height="1.2" fill="#5c5ab0"/><rect y="1266.4" width="24" height="3.0" fill="#d58e8e"/><rect y="1275.0" width="24" height="2.0" fill="#5856ad"/><rect y="1280.2" width="24" height="1.2" fill="#b6b4dd"/><rect y="1284.1" width="24" height="1.2" fill="#5553ac"/><rect y="1291.3" width="24" height="1.2" fill="#fbfbfd"/><rect y="1294.7" width="24" height="2.0" fill="#fcfcfe"/><rect y="1299.5" width="24" height="1.5" fill="#6866b6"/><rect y="1306.6" width="24" height="3.0" fill="#8381c4"/><rect y="1312.8" width="24" height="2.5" fill="#3a3498"/><rect y="1319.1" width="24" height="3.0" fill="#f4e0e0"/><rect y="1328.3" width="24" height="1.5" fill="#6b69b7"/><rect y="1333.6" width="24" height="1.5" fill="#4240a1"/><rect y="1340.0" width="24" height="1.5" fill="#4c4aa7"/><rect y="1347.0" width="24" height="2.5" fill="#8f8dc9"/><rect y="1356.4" width="24" height="2.0" fill="#b1afda"/><rect y="1359.9" width="24" height="2.0" fill="#5c5aaf"/><rect y="1364.2" width="24" height="2.0" fill="#9492cc"/><rect y="1370.1" width="24" height="2.0" fill="#cdcce7"/><rect y="1375.4" width="24" height="3.0" fill="#4d4ba7"/><rect y="1380.5" width="24" height="2.0" fill="#b0aeda"/><rect y="1386.3" width="24" height="2.0" fill="#3a359a"/><rect y="1394.0" width="24" height="2.5" fill="#aeacd9"/><rect y="1401.3" width="24" height="2.0" fill="#a9a7d6"/><rect y="1407.2" width="24" height="1.5" fill="#f7f6fb"/></g>
<g transform="translate(256.72 0)"><rect y="780.5" width="24" height="46.9" fill="#a19ed0"/><rect y="827.2" width="24" height="38.9" fill="#ccc4dd"/><rect y="865.9" width="24" height="45.9" fill="#e5c4c8"/><rect y="911.6" width="24" height="188.5" fill="#dba3a3"/><rect y="1100.0" width="24" height="128.9" fill="#e4bdc0"/><rect y="1228.6" width="24" height="17.8" fill="#b8b3d9"/><rect y="1246.2" width="24" height="169.5" fill="#7e7bbf"/><rect y="781.5" width="24" height="2.0" fill="#cecde8"/><rect y="790.1" width="24" height="1.2" fill="#bdbbe0"/><rect y="795.1" width="24" height="1.2" fill="#eed0d0"/><rect y="798.1" width="24" height="1.2" fill="#ffffff"/><rect y="805.2" width="24" height="3.0" fill="#b2b0db"/><rect y="809.7" width="24" height="1.5" fill="#5d5bb0"/><rect y="815.9" width="24" height="3.0" fill="#adabd8"/><rect y="821.8" width="24" height="1.5" fill="#cac8e6"/><rect y="825.1" width="24" height="3.0" fill="#fefdfd"/><rect y="833.5" width="24" height="1.2" fill="#9a98cf"/><rect y="836.3" width="24" height="1.5" fill="#e7bdbd"/><rect y="842.0" width="24" height="1.2" fill="#e5e4f3"/><rect y="845.7" width="24" height="1.2" fill="#8381c3"/><rect y="848.7" width="24" height="2.0" fill="#f9eded"/><rect y="856.8" width="24" height="1.5" fill="#a7a5d6"/><rect y="861.1" width="24" height="2.0" fill="#fbf4f4"/><rect y="865.1" width="24" height="1.5" fill="#d2d1ea"/><rect y="872.4" width="24" height="1.5" fill="#dea5a5"/><rect y="879.5" width="24" height="1.2" fill="#dfa8a8"/><rect y="882.7" width="24" height="1.5" fill="#bd5959"/><rect y="888.6" width="24" height="1.5" fill="#f5f5fa"/><rect y="895.6" width="24" height="2.0" fill="#ecc8c8"/><rect y="901.1" width="24" height="3.0" fill="#d0cfe9"/><rect y="907.7" width="24" height="2.5" fill="#a93131"/><rect y="916.2" width="24" height="2.5" fill="#bd5959"/><rect y="925.1" width="24" height="1.5" fill="#e7bcbc"/><rect y="928.5" width="24" height="2.5" fill="#e5b6b6"/><rect y="937.3" width="24" height="3.0" fill="#f3dede"/><rect y="943.7" width="24" height="2.0" fill="#a52828"/><rect y="949.4" width="24" height="2.0" fill="#eccaca"/><rect y="955.5" width="24" height="1.2" fill="#c87272"/><rect y="960.3" width="24" height="2.0" fill="#cc7b7b"/><rect y="968.6" width="24" height="1.5" fill="#c05f5f"/><rect y="972.5" width="24" height="1.5" fill="#d69191"/><rect y="978.8" width="24" height="1.5" fill="#d58e8e"/><rect y="983.8" width="24" height="2.0" fill="#c56a6a"/><rect y="989.0" width="24" height="2.5" fill="#ae3a3a"/><rect y="993.8" width="24" height="2.0" fill="#af3e3e"/><rect y="1002.0" width="24" height="2.0" fill="#f5f5fa"/><rect y="1005.9" width="24" height="1.5" fill="#e4b4b4"/><rect y="1009.1" width="24" height="1.5" fill="#dca0a0"/><rect y="1015.7" width="24" height="2.0" fill="#bebde0"/><rect y="1023.9" width="24" height="3.0" fill="#dfa9a9"/><rect y="1031.9" width="24" height="2.0" fill="#e4b5b5"/><rect y="1040.6" width="24" height="1.2" fill="#d28787"/><rect y="1048.7" width="24" height="3.0" fill="#e8bfbf"/><rect y="1053.5" width="24" height="2.0" fill="#dad9ed"/><rect y="1058.8" width="24" height="2.5" fill="#db9e9e"/><rect y="1064.1" width="24" height="2.0" fill="#ae3b3b"/><rect y="1071.4" width="24" height="1.2" fill="#c56b6b"/><rect y="1075.3" width="24" height="3.0" fill="#a52828"/><rect y="1084.7" width="24" height="1.5" fill="#d79595"/><rect y="1090.9" width="24" height="3.0" fill="#d48c8c"/><rect y="1100.3" width="24" height="3.0" fill="#9593cd"/><rect y="1109.2" width="24" height="2.5" fill="#c5c3e4"/><rect y="1116.4" width="24" height="2.5" fill="#d08383"/><rect y="1121.5" width="24" height="1.2" fill="#ae3b3b"/><rect y="1125.7" width="24" height="1.5" fill="#e9c0c0"/><rect y="1129.8" width="24" height="1.5" fill="#faf2f2"/><rect y="1135.5" width="24" height="1.5" fill="#cd7d7d"/><rect y="1141.9" width="24" height="1.5" fill="#e1adad"/><rect y="1145.3" width="24" height="1.5" fill="#f9eded"/><rect y="1152.1" width="24" height="1.2" fill="#f5e3e3"/><rect y="1156.0" width="24" height="2.5" fill="#6b69b8"/><rect y="1164.7" width="24" height="2.5" fill="#ffffff"/><rect y="1171.8" width="24" height="1.5" fill="#c2c1e3"/><rect y="1178.5" width="24" height="3.0" fill="#e7bdbd"/><rect y="1186.6" width="24" height="2.0" fill="#908eca"/><rect y="1193.3" width="24" height="2.5" fill="#b7b5dd"/><rect y="1199.1" width="24" height="1.2" fill="#f1d8d8"/><rect y="1205.4" width="24" height="2.0" fill="#a52828"/><rect y="1209.0" width="24" height="1.5" fill="#d79393"/><rect y="1213.4" width="24" height="2.0" fill="#f6e5e5"/><rect y="1221.7" width="24" height="2.5" fill="#eecfcf"/><rect y="1226.6" width="24" height="2.0" fill="#e8bebe"/><rect y="1230.4" width="24" height="2.5" fill="#4846a5"/><rect y="1235.9" width="24" height="3.0" fill="#fdf9f9"/><rect y="1243.1" width="24" height="2.0" fill="#4e4ca8"/><rect y="1248.4" width="24" height="2.0" fill="#4341a2"/><rect y="1252.4" width="24" height="2.0" fill="#3a369a"/><rect y="1260.7" width="24" height="2.5" fill="#6866b6"/><rect y="1270.1" width="24" height="1.5" fill="#e1e0f1"/><rect y="1274.5" width="24" height="1.5" fill="#34248a"/><rect y="1277.9" width="24" height="1.2" fill="#d2d1ea"/><rect y="1283.7" width="24" height="2.0" fill="#8b89c7"/><rect y="1292.3" width="24" height="1.5" fill="#3d3b9f"/><rect y="1295.4" width="24" height="3.0" fill="#5b59af"/><rect y="1303.8" width="24" height="2.5" fill="#a8a6d6"/><rect y="1308.1" width="24" height="2.0" fill="#d2d0ea"/><rect y="1316.2" width="24" height="2.5" fill="#7e7cc1"/><rect y="1323.2" width="24" height="1.2" fill="#ebebf6"/><rect y="1328.3" width="24" height="2.0" fill="#8381c4"/><rect y="1336.9" width="24" height="1.2" fill="#9b99d0"/><rect y="1344.9" width="24" height="3.0" fill="#4341a2"/><rect y="1352.5" width="24" height="2.5" fill="#f6f6fb"/><rect y="1356.5" width="24" height="1.5" fill="#c6c5e4"/><rect y="1362.0" width="24" height="1.5" fill="#4543a3"/><rect y="1367.8" width="24" height="2.5" fill="#9c9ad0"/><rect y="1373.2" width="24" height="1.5" fill="#7472bc"/><rect y="1378.0" width="24" height="1.5" fill="#9f9dd2"/><rect y="1383.9" width="24" height="1.5" fill="#382f94"/><rect y="1390.0" width="24" height="2.5" fill="#3b389c"/><rect y="1395.7" width="24" height="3.0" fill="#8785c6"/><rect y="1403.6" width="24" height="2.0" fill="#393196"/><rect y="1408.6" width="24" height="1.5" fill="#4341a2"/></g>
<g transform="translate(283.09 0)"><rect y="780.5" width="24" height="46.9" fill="#7e7bbf"/><rect y="827.2" width="24" height="42.4" fill="#b8b3d9"/><rect y="869.4" width="24" height="230.7" fill="#d89999"/><rect y="1100.0" width="24" height="128.9" fill="#e2b5b7"/><rect y="1228.6" width="24" height="19.5" fill="#b8b3d9"/><rect y="1248.0" width="24" height="37.1" fill="#605daf"/><rect y="1284.9" width="24" height="26.6" fill="#4b45a1"/><rect y="1311.3" width="24" height="104.4" fill="#605daf"/><rect y="785.4" width="24" height="2.0" fill="#aba9d7"/><rect y="792.5" width="24" height="1.5" fill="#a7a5d5"/><rect y="798.9" width="24" height="2.5" fill="#3b389c"/><rect y="804.9" width="24" height="1.5" fill="#9290cb"/><rect y="808.2" width="24" height="1.2" fill="#b3b1db"/><rect y="813.3" width="24" height="1.5" fill="#a09ed2"/><rect y="818.9" width="24" height="3.0" fill="#8280c3"/><rect y="824.5" width="24" height="3.0" fill="#6664b5"/><rect y="831.5" width="24" height="2.5" fill="#a19fd3"/><rect y="839.6" width="24" height="3.0" fill="#f3dddd"/><rect y="845.6" width="24" height="1.2" fill="#393296"/><rect y="848.7" width="24" height="3.0" fill="#7977be"/><rect y="854.5" width="24" height="2.0" fill="#35288e"/><rect y="858.5" width="24" height="1.2" fill="#f7eaea"/><rect y="865.3" width="24" height="2.0" fill="#efd2d2"/><rect y="871.6" width="24" height="1.5" fill="#e4b4b4"/><rect y="876.8" width="24" height="2.5" fill="#c06060"/><rect y="885.5" width="24" height="3.0" fill="#eed0d0"/><rect y="890.8" width="24" height="1.5" fill="#e0abab"/><rect y="894.9" width="24" height="1.5" fill="#ce7f7f"/><rect y="902.8" width="24" height="1.5" fill="#cf8282"/><rect y="906.1" width="24" height="1.5" fill="#d28787"/><rect y="914.5" width="24" height="3.0" fill="#e1adad"/><rect y="919.1" width="24" height="2.5" fill="#c76f6f"/><rect y="927.0" width="24" height="2.0" fill="#da9a9a"/><rect y="933.7" width="24" height="2.0" fill="#edcbcb"/><rect y="941.9" width="24" height="2.0" fill="#cc7a7a"/><rect y="947.9" width="24" height="2.5" fill="#c06060"/><rect y="952.4" width="24" height="1.2" fill="#edcbcb"/><rect y="959.7" width="24" height="3.0" fill="#dda3a3"/><rect y="969.3" width="24" height="2.0" fill="#dca0a0"/><rect y="976.1" width="24" height="2.5" fill="#edcccc"/><rect y="981.9" width="24" height="2.5" fill="#c16363"/><rect y="986.8" width="24" height="3.0" fill="#e4e3f2"/><rect y="992.4" width="24" height="3.0" fill="#d18686"/><rect y="998.6" width="24" height="3.0" fill="#dc9f9f"/><rect y="1007.3" width="24" height="2.0" fill="#dea4a4"/><rect y="1012.8" width="24" height="3.0" fill="#d69090"/><rect y="1020.6" width="24" height="2.5" fill="#cb7979"/><rect y="1030.0" width="24" height="1.5" fill="#a52828"/><rect y="1034.7" width="24" height="2.5" fill="#e0aaaa"/><rect y="1040.9" width="24" height="2.0" fill="#e5b8b8"/><rect y="1047.7" width="24" height="3.0" fill="#cf8282"/><rect y="1052.6" width="24" height="3.0" fill="#e7bcbc"/><rect y="1058.8" width="24" height="1.5" fill="#dda4a4"/><rect y="1064.2" width="24" height="2.0" fill="#ecc9c9"/><rect y="1068.2" width="24" height="2.5" fill="#cd7d7d"/><rect y="1076.6" width="24" height="1.5" fill="#dca0a0"/><rect y="1083.7" width="24" height="1.5" fill="#e8bebe"/><rect y="1091.5" width="24" height="3.0" fill="#c97575"/><rect y="1101.4" width="24" height="1.5" fill="#dfa9a9"/><rect y="1107.3" width="24" height="1.5" fill="#d58e8e"/><rect y="1111.0" width="24" height="3.0" fill="#ecebf6"/><rect y="1120.2" width="24" height="3.0" fill="#eac4c4"/><rect y="1129.0" width="24" height="2.0" fill="#ebc6c6"/><rect y="1136.8" width="24" height="1.5" fill="#e9c2c2"/><rect y="1141.1" width="24" height="2.5" fill="#eccaca"/><rect y="1148.7" width="24" height="1.5" fill="#eac4c4"/><rect y="1154.6" width="24" height="3.0" fill="#d18686"/><rect y="1163.0" width="24" height="2.0" fill="#e6baba"/><rect y="1171.4" width="24" height="2.0" fill="#c87373"/><rect y="1175.1" width="24" height="2.5" fill="#e9c1c1"/><rect y="1184.0" width="24" height="1.5" fill="#d48c8c"/><rect y="1187.0" width="24" height="2.0" fill="#a52828"/><rect y="1190.7" width="24" height="3.0" fill="#d28787"/><rect y="1199.7" width="24" height="1.2" fill="#b34444"/><rect y="1207.2" width="24" height="2.0" fill="#c06060"/><rect y="1216.1" width="24" height="3.0" fill="#c87373"/><rect y="1224.6" width="24" height="2.5" fill="#eecece"/><rect y="1230.6" width="24" height="2.0" fill="#8785c6"/><rect y="1239.2" width="24" height="2.5" fill="#6664b5"/><rect y="1246.2" width="24" height="1.5" fill="#fdfdfe"/><rect y="1250.3" width="24" height="1.5" fill="#5755ad"/><rect y="1257.0" width="24" height="2.5" fill="#5f5db1"/><rect y="1265.3" width="24" height="2.5" fill="#4947a5"/><rect y="1273.8" width="24" height="3.0" fill="#504ea9"/><rect y="1278.3" width="24" height="2.5" fill="#6e6cb9"/><rect y="1283.1" width="24" height="1.5" fill="#3c399d"/><rect y="1289.9" width="24" height="2.0" fill="#8684c5"/><rect y="1296.6" width="24" height="1.2" fill="#34258b"/><rect y="1302.1" width="24" height="1.5" fill="#383095"/><rect y="1308.3" width="24" height="2.0" fill="#34248a"/><rect y="1312.5" width="24" height="1.5" fill="#4745a4"/><rect y="1320.7" width="24" height="1.2" fill="#4543a3"/><rect y="1325.4" width="24" height="1.5" fill="#4b49a6"/><rect y="1328.5" width="24" height="1.2" fill="#9795ce"/><rect y="1335.4" width="24" height="3.0" fill="#393196"/><rect y="1343.2" width="24" height="1.2" fill="#6d6bb8"/><rect y="1346.6" width="24" height="2.5" fill="#3b369a"/><rect y="1352.8" width="24" height="3.0" fill="#393296"/><rect y="1359.4" width="24" height="2.0" fill="#4745a4"/><rect y="1366.2" width="24" height="2.0" fill="#5d5bb0"/><rect y="1370.3" width="24" height="2.0" fill="#c6c5e4"/><rect y="1374.4" width="24" height="3.0" fill="#a8a6d6"/><rect y="1379.4" width="24" height="3.0" fill="#34248a"/><rect y="1384.4" width="24" height="2.5" fill="#9694cd"/><rect y="1391.7" width="24" height="3.0" fill="#3b369b"/><rect y="1399.7" width="24" height="3.0" fill="#6664b5"/><rect y="1404.3" width="24" height="3.0" fill="#3b389c"/></g>
<g transform="translate(309.46 0)"><rect y="780.5" width="24" height="87.4" fill="#3b3094"/><rect y="867.7" width="24" height="16.0" fill="#5854aa"/><rect y="883.5" width="24" height="28.3" fill="#a19ed0"/><rect y="911.6" width="24" height="14.3" fill="#e3cdd5"/><rect y="925.7" width="24" height="45.9" fill="#dbcddd"/><rect y="971.4" width="24" height="128.7" fill="#dfacad"/><rect y="1100.0" width="24" height="151.7" fill="#cf8484"/><rect y="1251.5" width="24" height="30.1" fill="#a19ed0"/><rect y="1281.4" width="24" height="134.3" fill="#463e9d"/><rect y="785.7" width="24" height="2.5" fill="#362a90"/><rect y="792.1" width="24" height="1.2" fill="#35278d"/><rect y="798.7" width="24" height="2.5" fill="#3b369a"/><rect y="804.4" width="24" height="3.0" fill="#3a3398"/><rect y="812.5" width="24" height="2.5" fill="#4947a5"/><rect y="821.9" width="24" height="3.0" fill="#34248a"/><rect y="829.9" width="24" height="2.0" fill="#34248a"/><rect y="833.5" width="24" height="1.5" fill="#34248a"/><rect y="837.1" width="24" height="2.0" fill="#362a90"/><rect y="842.0" width="24" height="2.0" fill="#382f94"/><rect y="847.2" width="24" height="1.2" fill="#34248a"/><rect y="852.7" width="24" height="1.5" fill="#7270bb"/><rect y="858.1" width="24" height="3.0" fill="#35288e"/><rect y="867.6" width="24" height="3.0" fill="#34248a"/><rect y="872.2" width="24" height="1.5" fill="#8d8bc8"/><rect y="879.4" width="24" height="3.0" fill="#6b69b8"/><rect y="885.5" width="24" height="2.0" fill="#393196"/><rect y="893.0" width="24" height="3.0" fill="#7371bc"/><rect y="898.1" width="24" height="2.0" fill="#4341a2"/><rect y="904.9" width="24" height="3.0" fill="#fcf7f7"/><rect y="912.8" width="24" height="3.0" fill="#dcdbef"/><rect y="919.2" width="24" height="1.2" fill="#f2dada"/><rect y="922.5" width="24" height="1.2" fill="#ebc8c8"/><rect y="925.9" width="24" height="3.0" fill="#a3a1d4"/><rect y="931.3" width="24" height="1.5" fill="#bb5555"/><rect y="935.5" width="24" height="1.5" fill="#dfa8a8"/><rect y="942.3" width="24" height="3.0" fill="#ebc7c7"/><rect y="949.2" width="24" height="3.0" fill="#dc9f9f"/><rect y="955.1" width="24" height="3.0" fill="#d79393"/><rect y="961.0" width="24" height="1.2" fill="#34248a"/><rect y="968.4" width="24" height="2.5" fill="#d38a8a"/><rect y="974.8" width="24" height="1.2" fill="#ce8080"/><rect y="977.6" width="24" height="2.5" fill="#b44848"/><rect y="986.9" width="24" height="2.5" fill="#f1d7d7"/><rect y="995.9" width="24" height="1.5" fill="#cd7c7c"/><rect y="1003.2" width="24" height="1.5" fill="#dea4a4"/><rect y="1006.6" width="24" height="2.5" fill="#eac5c5"/><rect y="1012.4" width="24" height="1.5" fill="#dea6a6"/><rect y="1020.3" width="24" height="3.0" fill="#d18686"/><rect y="1026.9" width="24" height="2.5" fill="#f8ecec"/><rect y="1035.2" width="24" height="1.2" fill="#a6a4d5"/><rect y="1040.5" width="24" height="2.0" fill="#da9b9b"/><rect y="1049.5" width="24" height="1.5" fill="#d2d1ea"/><rect y="1056.8" width="24" height="2.5" fill="#faf1f1"/><rect y="1062.9" width="24" height="3.0" fill="#d5d4eb"/><rect y="1072.2" width="24" height="1.5" fill="#dda4a4"/><rect y="1075.8" width="24" height="2.0" fill="#c16262"/><rect y="1083.1" width="24" height="2.5" fill="#da9a9a"/><rect y="1088.5" width="24" height="2.5" fill="#c97474"/><rect y="1095.6" width="24" height="1.5" fill="#cecde8"/><rect y="1103.8" width="24" height="3.0" fill="#cf8181"/><rect y="1110.7" width="24" height="3.0" fill="#a52828"/><rect y="1115.3" width="24" height="2.5" fill="#d79494"/><rect y="1124.5" width="24" height="1.5" fill="#d79292"/><rect y="1129.7" width="24" height="2.5" fill="#cc7b7b"/><rect y="1137.2" width="24" height="1.5" fill="#e4b5b5"/><rect y="1142.5" width="24" height="3.0" fill="#dea6a6"/><rect y="1151.6" width="24" height="1.2" fill="#e8bebe"/><rect y="1157.4" width="24" height="3.0" fill="#a52828"/><rect y="1166.2" width="24" height="1.2" fill="#f0d6d6"/><rect y="1169.4" width="24" height="2.0" fill="#dda3a3"/><rect y="1175.4" width="24" height="1.2" fill="#d89696"/><rect y="1180.3" width="24" height="2.5" fill="#a62a2a"/><rect y="1184.5" width="24" height="3.0" fill="#d79494"/><rect y="1192.1" width="24" height="2.5" fill="#f4e1e1"/><rect y="1198.8" width="24" height="1.5" fill="#e5b7b7"/><rect y="1202.1" width="24" height="3.0" fill="#d18585"/><rect y="1207.1" width="24" height="1.2" fill="#c87272"/><rect y="1213.1" width="24" height="2.0" fill="#d58e8e"/><rect y="1220.9" width="24" height="1.2" fill="#ca7575"/><rect y="1225.2" width="24" height="2.0" fill="#cd7c7c"/><rect y="1229.2" width="24" height="2.5" fill="#efd1d1"/><rect y="1238.0" width="24" height="1.5" fill="#edcccc"/><rect y="1245.8" width="24" height="2.0" fill="#c46868"/><rect y="1252.7" width="24" height="1.5" fill="#6d6bb9"/><rect y="1259.1" width="24" height="1.5" fill="#4543a3"/><rect y="1266.7" width="24" height="2.0" fill="#c46868"/><rect y="1274.1" width="24" height="3.0" fill="#f7eaea"/><rect y="1283.4" width="24" height="1.5" fill="#3b369b"/><rect y="1287.3" width="24" height="1.5" fill="#3f3da0"/><rect y="1292.5" width="24" height="1.5" fill="#382f94"/><rect y="1296.4" width="24" height="3.0" fill="#8d8bc8"/><rect y="1305.5" width="24" height="1.2" fill="#372d92"/><rect y="1309.9" width="24" height="1.5" fill="#4d4ba7"/><rect y="1315.1" width="24" height="1.2" fill="#5b59af"/><rect y="1321.7" width="24" height="2.0" fill="#3d3b9e"/><rect y="1326.8" width="24" height="2.5" fill="#34248a"/><rect y="1332.6" width="24" height="1.2" fill="#504ea9"/><rect y="1338.2" width="24" height="3.0" fill="#413fa1"/><rect y="1345.2" width="24" height="3.0" fill="#6260b3"/><rect y="1352.7" width="24" height="1.5" fill="#382f94"/><rect y="1355.8" width="24" height="2.0" fill="#413fa1"/><rect y="1364.3" width="24" height="2.0" fill="#716fba"/><rect y="1372.8" width="24" height="2.0" fill="#3a3499"/><rect y="1376.4" width="24" height="2.5" fill="#3e3c9f"/><rect y="1380.6" width="24" height="1.2" fill="#36298e"/><rect y="1383.9" width="24" height="1.2" fill="#7270bb"/><rect y="1387.7" width="24" height="1.5" fill="#382e93"/><rect y="1394.0" width="24" height="1.2" fill="#372d92"/><rect y="1399.1" width="24" height="1.2" fill="#34248a"/><rect y="1402.8" width="24" height="3.0" fill="#35268c"/><rect y="1412.5" width="24" height="1.2" fill="#3b379b"/></g>
<g transform="translate(335.83 0)"><rect y="780.5" width="24" height="87.4" fill="#3b3094"/><rect y="867.7" width="24" height="16.0" fill="#5854aa"/><rect y="883.5" width="24" height="28.3" fill="#a19ed0"/><rect y="911.6" width="24" height="14.3" fill="#e3cdd5"/><rect y="925.7" width="24" height="45.9" fill="#dbcddd"/><rect y="971.4" width="24" height="128.7" fill="#dfacad"/><rect y="1100.0" width="24" height="151.7" fill="#cf8484"/><rect y="1251.5" width="24" height="30.1" fill="#a19ed0"/><rect y="1281.4" width="24" height="134.3" fill="#463e9d"/><rect y="782.4" width="24" height="3.0" fill="#383095"/><rect y="787.4" width="24" height="3.0" fill="#35278d"/><rect y="794.9" width="24" height="2.0" fill="#4543a3"/><rect y="799.8" width="24" height="3.0" fill="#34248a"/><rect y="807.2" width="24" height="2.5" fill="#3b379b"/><rect y="812.7" width="24" height="1.5" fill="#362a90"/><rect y="816.5" width="24" height="3.0" fill="#34248a"/><rect y="822.1" width="24" height="1.2" fill="#34248a"/><rect y="825.6" width="24" height="2.0" fill="#34248a"/><rect y="831.3" width="24" height="2.5" fill="#34248a"/><rect y="839.9" width="24" height="1.2" fill="#34248a"/><rect y="847.0" width="24" height="1.2" fill="#3b389c"/><rect y="851.8" width="24" height="2.0" fill="#3c399d"/><rect y="858.6" width="24" height="1.5" fill="#3a3499"/><rect y="866.8" width="24" height="3.0" fill="#5a58ae"/><rect y="871.5" width="24" height="3.0" fill="#4846a4"/><rect y="880.0" width="24" height="1.5" fill="#9391cb"/><rect y="884.3" width="24" height="1.5" fill="#807ec2"/><rect y="891.9" width="24" height="2.0" fill="#a2a0d3"/><rect y="895.5" width="24" height="1.2" fill="#acaad8"/><rect y="901.4" width="24" height="2.5" fill="#8886c6"/><rect y="910.7" width="24" height="1.5" fill="#383094"/><rect y="918.8" width="24" height="2.5" fill="#b7b5dd"/><rect y="927.6" width="24" height="1.2" fill="#dda4a4"/><rect y="933.0" width="24" height="2.0" fill="#dca1a1"/><rect y="938.9" width="24" height="3.0" fill="#fefcfc"/><rect y="944.9" width="24" height="2.5" fill="#a52828"/><rect y="950.8" width="24" height="3.0" fill="#f4dfdf"/><rect y="960.1" width="24" height="1.5" fill="#a52828"/><rect y="966.8" width="24" height="3.0" fill="#9f9dd1"/><rect y="971.5" width="24" height="3.0" fill="#f3dfdf"/><rect y="978.7" width="24" height="2.5" fill="#c16464"/><rect y="986.9" width="24" height="1.5" fill="#f7eaea"/><rect y="992.4" width="24" height="3.0" fill="#cc7b7b"/><rect y="997.1" width="24" height="3.0" fill="#d38b8b"/><rect y="1004.5" width="24" height="3.0" fill="#d99999"/><rect y="1009.9" width="24" height="2.0" fill="#edcdcd"/><rect y="1017.4" width="24" height="1.5" fill="#fcf6f6"/><rect y="1025.6" width="24" height="2.0" fill="#dfa9a9"/><rect y="1029.8" width="24" height="2.0" fill="#d69090"/><rect y="1036.7" width="24" height="1.5" fill="#dfa9a9"/><rect y="1040.9" width="24" height="1.2" fill="#d48d8d"/><rect y="1047.1" width="24" height="2.5" fill="#ca7575"/><rect y="1055.9" width="24" height="2.5" fill="#fcf7f7"/><rect y="1060.5" width="24" height="2.5" fill="#c4c2e3"/><rect y="1067.6" width="24" height="1.2" fill="#cc7b7b"/><rect y="1071.7" width="24" height="1.5" fill="#d99999"/><rect y="1077.7" width="24" height="3.0" fill="#e6bbbb"/><rect y="1084.7" width="24" height="2.0" fill="#f9efef"/><rect y="1089.5" width="24" height="1.5" fill="#fffefe"/><rect y="1096.4" width="24" height="1.2" fill="#b34646"/><rect y="1101.5" width="24" height="1.5" fill="#e7e7f4"/><rect y="1105.8" width="24" height="2.5" fill="#a52828"/><rect y="1110.0" width="24" height="2.0" fill="#b34545"/><rect y="1117.0" width="24" height="1.5" fill="#cf8181"/><rect y="1120.2" width="24" height="2.5" fill="#c76f6f"/><rect y="1127.9" width="24" height="2.5" fill="#a52828"/><rect y="1132.9" width="24" height="1.2" fill="#ebc7c7"/><rect y="1137.9" width="24" height="3.0" fill="#e5b7b7"/><rect y="1144.7" width="24" height="2.5" fill="#eac3c3"/><rect y="1149.1" width="24" height="2.5" fill="#a52828"/><rect y="1154.0" width="24" height="2.5" fill="#c16262"/><rect y="1162.3" width="24" height="3.0" fill="#b84f4f"/><rect y="1170.2" width="24" height="2.0" fill="#a92f2f"/><rect y="1175.3" width="24" height="2.0" fill="#d28787"/><rect y="1184.0" width="24" height="2.5" fill="#bc5858"/><rect y="1189.5" width="24" height="2.0" fill="#e4b4b4"/><rect y="1196.0" width="24" height="3.0" fill="#cf8181"/><rect y="1204.1" width="24" height="2.0" fill="#cb7979"/><rect y="1211.5" width="24" height="2.5" fill="#a52929"/><rect y="1219.9" width="24" height="2.0" fill="#a52828"/><rect y="1226.1" width="24" height="1.5" fill="#cb7878"/><rect y="1230.0" width="24" height="2.5" fill="#d99999"/><rect y="1234.3" width="24" height="1.2" fill="#b84f4f"/><rect y="1240.6" width="24" height="1.2" fill="#c06060"/><rect y="1243.6" width="24" height="1.2" fill="#fcf7f7"/><rect y="1249.8" width="24" height="2.0" fill="#d89696"/><rect y="1256.6" width="24" height="1.2" fill="#7371bc"/><rect y="1261.4" width="24" height="2.5" fill="#efeff8"/><rect y="1267.0" width="24" height="1.5" fill="#cecce8"/><rect y="1271.9" width="24" height="2.5" fill="#504ea9"/><rect y="1278.3" width="24" height="2.5" fill="#6c6ab8"/><rect y="1287.0" width="24" height="2.0" fill="#382e93"/><rect y="1295.8" width="24" height="2.5" fill="#6a68b7"/><rect y="1305.2" width="24" height="3.0" fill="#4b49a6"/><rect y="1314.6" width="24" height="1.5" fill="#5e5cb1"/><rect y="1322.2" width="24" height="1.2" fill="#6c6ab8"/><rect y="1327.9" width="24" height="2.5" fill="#514faa"/><rect y="1335.3" width="24" height="1.5" fill="#383095"/><rect y="1342.5" width="24" height="2.0" fill="#5654ac"/><rect y="1349.6" width="24" height="2.5" fill="#7a78bf"/><rect y="1356.3" width="24" height="1.2" fill="#393196"/><rect y="1360.3" width="24" height="1.5" fill="#3a3599"/><rect y="1368.3" width="24" height="2.5" fill="#34248a"/><rect y="1375.6" width="24" height="2.0" fill="#3a3499"/><rect y="1384.2" width="24" height="2.0" fill="#6866b6"/><rect y="1392.0" width="24" height="3.0" fill="#514fa9"/><rect y="1400.6" width="24" height="1.5" fill="#413fa1"/><rect y="1404.6" width="24" height="1.5" fill="#3c3a9e"/><rect y="1411.5" width="24" height="2.5" fill="#383095"/></g>
<g transform="translate(362.20 0)"><rect y="780.5" width="24" height="85.6" fill="#9592cb"/><rect y="865.9" width="24" height="49.4" fill="#8987c5"/><rect y="915.2" width="24" height="63.5" fill="#b8b3d9"/><rect y="978.5" width="24" height="121.7" fill="#e0ceda"/><rect y="1100.0" width="24" height="181.6" fill="#e2b5b7"/><rect y="1281.4" width="24" height="77.6" fill="#e5c4c8"/><rect y="1358.8" width="24" height="56.9" fill="#e0ceda"/><rect y="785.7" width="24" height="2.0" fill="#413fa1"/><rect y="792.2" width="24" height="1.2" fill="#7876be"/><rect y="795.3" width="24" height="2.0" fill="#4644a4"/><rect y="799.6" width="24" height="3.0" fill="#f3dede"/><rect y="807.6" width="24" height="2.0" fill="#a7a5d6"/><rect y="813.0" width="24" height="1.2" fill="#716fbb"/><rect y="818.9" width="24" height="3.0" fill="#4a48a6"/><rect y="825.1" width="24" height="2.5" fill="#6260b3"/><rect y="829.4" width="24" height="2.5" fill="#393196"/><rect y="838.1" width="24" height="1.2" fill="#3a3599"/><rect y="845.5" width="24" height="1.2" fill="#dad9ee"/><rect y="848.3" width="24" height="3.0" fill="#3b369a"/><rect y="854.7" width="24" height="2.5" fill="#4d4ba7"/><rect y="862.7" width="24" height="1.5" fill="#f1d7d7"/><rect y="868.6" width="24" height="3.0" fill="#514fa9"/><rect y="875.3" width="24" height="1.5" fill="#9997ce"/><rect y="879.9" width="24" height="3.0" fill="#413fa1"/><rect y="885.8" width="24" height="1.2" fill="#9290cb"/><rect y="893.7" width="24" height="2.5" fill="#4745a4"/><rect y="902.7" width="24" height="2.0" fill="#aaa8d7"/><rect y="911.7" width="24" height="3.0" fill="#d0cfe9"/><rect y="921.1" width="24" height="1.5" fill="#3c3a9e"/><rect y="927.4" width="24" height="3.0" fill="#b9b7de"/><rect y="934.1" width="24" height="2.5" fill="#9e9cd1"/><rect y="941.6" width="24" height="2.0" fill="#bfbde1"/><rect y="945.9" width="24" height="2.0" fill="#908eca"/><rect y="954.7" width="24" height="1.2" fill="#e7e7f4"/><rect y="962.0" width="24" height="1.2" fill="#7f7dc1"/><rect y="966.1" width="24" height="1.5" fill="#cbcae7"/><rect y="969.3" width="24" height="1.2" fill="#d58d8d"/><rect y="976.0" width="24" height="3.0" fill="#e0abab"/><rect y="984.1" width="24" height="1.2" fill="#fbf4f4"/><rect y="988.7" width="24" height="1.2" fill="#e5b8b8"/><rect y="996.0" width="24" height="2.5" fill="#c56c6c"/><rect y="1004.6" width="24" height="1.5" fill="#efeff8"/><rect y="1010.5" width="24" height="2.5" fill="#c36767"/><rect y="1015.5" width="24" height="3.0" fill="#5856ad"/><rect y="1022.1" width="24" height="3.0" fill="#eed0d0"/><rect y="1027.6" width="24" height="3.0" fill="#6563b5"/><rect y="1036.8" width="24" height="1.2" fill="#b54949"/><rect y="1041.1" width="24" height="2.5" fill="#c5c4e4"/><rect y="1045.6" width="24" height="1.2" fill="#fdfafa"/><rect y="1051.6" width="24" height="3.0" fill="#6462b4"/><rect y="1061.3" width="24" height="2.0" fill="#c7c6e5"/><rect y="1070.1" width="24" height="1.5" fill="#f6e5e5"/><rect y="1074.8" width="24" height="1.5" fill="#382e93"/><rect y="1082.9" width="24" height="2.0" fill="#fdfcfe"/><rect y="1091.2" width="24" height="2.5" fill="#d99898"/><rect y="1098.9" width="24" height="2.0" fill="#e4b5b5"/><rect y="1103.0" width="24" height="2.0" fill="#e4b6b6"/><rect y="1111.6" width="24" height="1.5" fill="#f9efef"/><rect y="1117.7" width="24" height="3.0" fill="#b64b4b"/><rect y="1124.8" width="24" height="1.5" fill="#e3b3b3"/><rect y="1130.1" width="24" height="2.0" fill="#d5d4eb"/><rect y="1134.2" width="24" height="1.2" fill="#d38a8a"/><rect y="1139.8" width="24" height="3.0" fill="#e1e0f1"/><rect y="1145.6" width="24" height="1.5" fill="#a52828"/><rect y="1150.6" width="24" height="2.0" fill="#a52828"/><rect y="1158.4" width="24" height="1.5" fill="#5d5bb0"/><rect y="1163.7" width="24" height="2.5" fill="#b84f4f"/><rect y="1169.2" width="24" height="1.5" fill="#c97373"/><rect y="1172.8" width="24" height="2.5" fill="#ca7676"/><rect y="1181.4" width="24" height="1.5" fill="#c36767"/><rect y="1185.3" width="24" height="2.0" fill="#eeedf7"/><rect y="1190.7" width="24" height="2.0" fill="#c36666"/><rect y="1197.3" width="24" height="1.5" fill="#cf8181"/><rect y="1202.9" width="24" height="3.0" fill="#e1adad"/><rect y="1210.4" width="24" height="2.0" fill="#a52828"/><rect y="1218.3" width="24" height="1.5" fill="#dea6a6"/><rect y="1222.7" width="24" height="1.5" fill="#bc5959"/><rect y="1229.5" width="24" height="2.0" fill="#d18686"/><rect y="1237.1" width="24" height="1.5" fill="#e3b3b3"/><rect y="1242.3" width="24" height="3.0" fill="#e4b4b4"/><rect y="1248.6" width="24" height="2.5" fill="#fbf3f3"/><rect y="1256.4" width="24" height="2.5" fill="#c46a6a"/><rect y="1264.5" width="24" height="2.0" fill="#e0aaaa"/><rect y="1273.2" width="24" height="2.5" fill="#c9c7e5"/><rect y="1278.4" width="24" height="2.5" fill="#c06060"/><rect y="1286.3" width="24" height="1.2" fill="#acaad8"/><rect y="1292.3" width="24" height="1.2" fill="#d38b8b"/><rect y="1299.2" width="24" height="3.0" fill="#bc5858"/><rect y="1306.2" width="24" height="2.0" fill="#a5a3d5"/><rect y="1310.0" width="24" height="1.5" fill="#d99898"/><rect y="1317.1" width="24" height="1.5" fill="#d99a9a"/><rect y="1325.2" width="24" height="2.5" fill="#c8c7e5"/><rect y="1329.7" width="24" height="1.5" fill="#c66d6d"/><rect y="1333.9" width="24" height="2.0" fill="#d4d3eb"/><rect y="1342.7" width="24" height="1.2" fill="#dca1a1"/><rect y="1346.2" width="24" height="3.0" fill="#f0eff8"/><rect y="1352.4" width="24" height="1.5" fill="#b2b1db"/><rect y="1356.5" width="24" height="1.2" fill="#dea6a6"/><rect y="1361.0" width="24" height="3.0" fill="#edecf6"/><rect y="1366.3" width="24" height="2.0" fill="#db9f9f"/><rect y="1374.2" width="24" height="2.0" fill="#dda3a3"/><rect y="1382.6" width="24" height="2.5" fill="#fdfdfe"/><rect y="1391.7" width="24" height="2.5" fill="#d5d4eb"/><rect y="1397.9" width="24" height="1.2" fill="#372d92"/><rect y="1403.8" width="24" height="2.0" fill="#bd5a5a"/><rect y="1407.5" width="24" height="1.2" fill="#e7bcbc"/></g>
<g transform="translate(388.57 0)"><rect y="780.5" width="24" height="54.0" fill="#9592cb"/><rect y="834.3" width="24" height="81.1" fill="#a19ed0"/><rect y="915.2" width="24" height="61.7" fill="#c3bcdc"/><rect y="976.7" width="24" height="89.9" fill="#e0ceda"/><rect y="1066.4" width="24" height="33.8" fill="#e5c4c8"/><rect y="1100.0" width="24" height="181.6" fill="#e4bdc0"/><rect y="1281.4" width="24" height="68.8" fill="#e4c9cf"/><rect y="1350.0" width="24" height="65.7" fill="#e0ceda"/><rect y="784.3" width="24" height="2.0" fill="#9997cf"/><rect y="789.1" width="24" height="2.0" fill="#9a98cf"/><rect y="795.4" width="24" height="1.5" fill="#7b79bf"/><rect y="798.5" width="24" height="2.5" fill="#8e8cc9"/><rect y="802.7" width="24" height="2.0" fill="#bcbadf"/><rect y="807.3" width="24" height="2.5" fill="#3c399d"/><rect y="812.9" width="24" height="1.5" fill="#fefdfd"/><rect y="820.7" width="24" height="3.0" fill="#acabd8"/><rect y="829.0" width="24" height="1.2" fill="#5755ad"/><rect y="836.7" width="24" height="1.5" fill="#eeeef7"/><rect y="841.5" width="24" height="3.0" fill="#4341a2"/><rect y="849.2" width="24" height="1.2" fill="#6664b5"/><rect y="853.8" width="24" height="2.5" fill="#cbc9e6"/><rect y="863.0" width="24" height="3.0" fill="#7371bc"/><rect y="872.7" width="24" height="2.5" fill="#f6e5e5"/><rect y="879.0" width="24" height="2.5" fill="#3c3a9e"/><rect y="884.2" width="24" height="1.2" fill="#908eca"/><rect y="887.3" width="24" height="3.0" fill="#f1f1f9"/><rect y="893.2" width="24" height="2.5" fill="#8381c4"/><rect y="898.9" width="24" height="1.2" fill="#5b59af"/><rect y="904.2" width="24" height="2.0" fill="#716fba"/><rect y="911.4" width="24" height="3.0" fill="#908eca"/><rect y="915.9" width="24" height="3.0" fill="#9391cc"/><rect y="922.3" width="24" height="2.0" fill="#d69191"/><rect y="926.7" width="24" height="1.5" fill="#d58f8f"/><rect y="933.4" width="24" height="2.5" fill="#f1d9d9"/><rect y="940.4" width="24" height="1.2" fill="#e7e6f4"/><rect y="943.2" width="24" height="1.2" fill="#e9c2c2"/><rect y="948.8" width="24" height="3.0" fill="#faf1f1"/><rect y="954.2" width="24" height="2.5" fill="#3a3498"/><rect y="961.8" width="24" height="1.5" fill="#ededf7"/><rect y="967.3" width="24" height="3.0" fill="#ffffff"/><rect y="973.6" width="24" height="2.0" fill="#fbf4f4"/><rect y="981.7" width="24" height="1.5" fill="#ca7575"/><rect y="988.4" width="24" height="3.0" fill="#fcfcfe"/><rect y="993.7" width="24" height="2.0" fill="#a52828"/><rect y="999.2" width="24" height="2.0" fill="#a7a5d6"/><rect y="1007.4" width="24" height="3.0" fill="#fbf3f3"/><rect y="1015.5" width="24" height="1.2" fill="#f6e6e6"/><rect y="1020.0" width="24" height="1.5" fill="#e4b4b4"/><rect y="1026.6" width="24" height="1.2" fill="#9f9dd1"/><rect y="1030.7" width="24" height="2.0" fill="#b2b0db"/><rect y="1036.3" width="24" height="1.2" fill="#d28787"/><rect y="1044.1" width="24" height="2.0" fill="#6a68b7"/><rect y="1052.9" width="24" height="2.0" fill="#4644a4"/><rect y="1059.8" width="24" height="2.0" fill="#d08383"/><rect y="1068.3" width="24" height="2.0" fill="#f8f8fc"/><rect y="1075.0" width="24" height="1.5" fill="#eccaca"/><rect y="1080.1" width="24" height="1.2" fill="#f2dada"/><rect y="1084.0" width="24" height="2.0" fill="#b34444"/><rect y="1087.7" width="24" height="2.0" fill="#cb7878"/><rect y="1094.9" width="24" height="2.5" fill="#8280c3"/><rect y="1103.2" width="24" height="2.5" fill="#ececf6"/><rect y="1110.6" width="24" height="2.5" fill="#dca0a0"/><rect y="1118.8" width="24" height="2.5" fill="#d99999"/><rect y="1123.3" width="24" height="1.5" fill="#fdfafa"/><rect y="1130.2" width="24" height="2.0" fill="#a8a6d6"/><rect y="1134.4" width="24" height="2.5" fill="#fefcfc"/><rect y="1138.6" width="24" height="3.0" fill="#c77070"/><rect y="1147.9" width="24" height="2.5" fill="#a52828"/><rect y="1154.0" width="24" height="1.5" fill="#e7bdbd"/><rect y="1158.9" width="24" height="3.0" fill="#dca0a0"/><rect y="1165.8" width="24" height="1.5" fill="#8a88c7"/><rect y="1171.9" width="24" height="1.5" fill="#b44747"/><rect y="1175.1" width="24" height="1.5" fill="#fbfbfd"/><rect y="1178.8" width="24" height="3.0" fill="#9d9bd0"/><rect y="1183.3" width="24" height="2.0" fill="#f7e8e8"/><rect y="1187.1" width="24" height="2.0" fill="#ad3939"/><rect y="1194.2" width="24" height="1.5" fill="#c76f6f"/><rect y="1200.5" width="24" height="2.0" fill="#c66d6d"/><rect y="1208.2" width="24" height="1.5" fill="#d79494"/><rect y="1215.4" width="24" height="3.0" fill="#e1acac"/><rect y="1222.2" width="24" height="2.5" fill="#cbcae7"/><rect y="1229.5" width="24" height="2.5" fill="#f3dddd"/><rect y="1234.8" width="24" height="1.2" fill="#f3dede"/><rect y="1238.6" width="24" height="3.0" fill="#fffefe"/><rect y="1246.9" width="24" height="1.5" fill="#4e4ca8"/><rect y="1255.4" width="24" height="3.0" fill="#f4f4fa"/><rect y="1264.9" width="24" height="1.2" fill="#f9efef"/><rect y="1271.2" width="24" height="2.5" fill="#d69090"/><rect y="1277.6" width="24" height="3.0" fill="#be5d5d"/><rect y="1283.3" width="24" height="1.5" fill="#c7c6e5"/><rect y="1289.4" width="24" height="1.2" fill="#e8bfbf"/><rect y="1294.5" width="24" height="1.5" fill="#a7a5d5"/><rect y="1299.9" width="24" height="3.0" fill="#d48c8c"/><rect y="1307.5" width="24" height="1.5" fill="#fcf6f6"/><rect y="1310.8" width="24" height="1.2" fill="#a93030"/><rect y="1316.0" width="24" height="2.5" fill="#f7e8e8"/><rect y="1323.2" width="24" height="2.0" fill="#e5b8b8"/><rect y="1329.3" width="24" height="2.0" fill="#dfa8a8"/><rect y="1336.1" width="24" height="1.5" fill="#dbdbee"/><rect y="1343.7" width="24" height="1.2" fill="#ebebf6"/><rect y="1350.0" width="24" height="2.5" fill="#5250aa"/><rect y="1355.7" width="24" height="1.2" fill="#ffffff"/><rect y="1360.4" width="24" height="1.2" fill="#e2e1f1"/><rect y="1364.3" width="24" height="1.2" fill="#dca1a1"/><rect y="1372.5" width="24" height="2.5" fill="#dcdbef"/><rect y="1377.1" width="24" height="3.0" fill="#e1adad"/><rect y="1381.8" width="24" height="2.5" fill="#a52828"/><rect y="1385.9" width="24" height="2.5" fill="#a09ed2"/><rect y="1395.0" width="24" height="2.0" fill="#8280c3"/><rect y="1403.6" width="24" height="3.0" fill="#dfdff0"/><rect y="1411.8" width="24" height="2.5" fill="#cd7c7c"/></g>
<g transform="translate(414.94 0)"><rect y="780.5" width="24" height="54.0" fill="#e4c9cf"/><rect y="834.3" width="24" height="42.4" fill="#5854aa"/><rect y="876.5" width="24" height="190.1" fill="#3b3094"/><rect y="1066.4" width="24" height="33.8" fill="#7370ba"/><rect y="1100.0" width="24" height="21.6" fill="#7370ba"/><rect y="1121.4" width="24" height="26.6" fill="#b8b3d9"/><rect y="1147.8" width="24" height="88.1" fill="#d4cade"/><rect y="1235.7" width="24" height="14.3" fill="#e4bdc0"/><rect y="1249.7" width="24" height="166.0" fill="#cb7a7a"/><rect y="784.3" width="24" height="1.5" fill="#fcf7f7"/><rect y="790.8" width="24" height="2.0" fill="#ad3939"/><rect y="795.1" width="24" height="1.5" fill="#e3b3b3"/><rect y="800.5" width="24" height="1.5" fill="#f3dddd"/><rect y="807.4" width="24" height="3.0" fill="#c87373"/><rect y="812.5" width="24" height="2.5" fill="#e1acac"/><rect y="816.7" width="24" height="2.5" fill="#c3c2e3"/><rect y="822.0" width="24" height="2.5" fill="#dea5a5"/><rect y="827.0" width="24" height="2.0" fill="#f8ecec"/><rect y="834.1" width="24" height="2.0" fill="#b54a4a"/><rect y="842.0" width="24" height="3.0" fill="#393196"/><rect y="849.7" width="24" height="3.0" fill="#5654ac"/><rect y="855.3" width="24" height="1.2" fill="#dad9ee"/><rect y="863.4" width="24" height="3.0" fill="#b3b1db"/><rect y="871.3" width="24" height="1.2" fill="#4a48a5"/><rect y="878.4" width="24" height="1.5" fill="#34248a"/><rect y="885.3" width="24" height="3.0" fill="#362b90"/><rect y="890.1" width="24" height="1.5" fill="#34248a"/><rect y="897.2" width="24" height="2.5" fill="#5452ab"/><rect y="906.5" width="24" height="1.5" fill="#3f3da0"/><rect y="914.0" width="24" height="2.5" fill="#34248a"/><rect y="920.0" width="24" height="2.0" fill="#372d92"/><rect y="928.1" width="24" height="1.2" fill="#413fa1"/><rect y="931.3" width="24" height="2.5" fill="#34248a"/><rect y="939.3" width="24" height="1.5" fill="#3a359a"/><rect y="946.4" width="24" height="2.0" fill="#362a8f"/><rect y="955.2" width="24" height="1.5" fill="#382f94"/><rect y="961.5" width="24" height="2.0" fill="#382e93"/><rect y="969.4" width="24" height="3.0" fill="#35278d"/><rect y="978.9" width="24" height="2.0" fill="#5d5bb0"/><rect y="983.7" width="24" height="1.2" fill="#34248a"/><rect y="987.1" width="24" height="2.5" fill="#34248a"/><rect y="995.8" width="24" height="1.2" fill="#5a58af"/><rect y="1000.6" width="24" height="2.0" fill="#34248a"/><rect y="1005.4" width="24" height="3.0" fill="#34248a"/><rect y="1012.3" width="24" height="2.0" fill="#6866b6"/><rect y="1021.2" width="24" height="2.5" fill="#372b90"/><rect y="1029.1" width="24" height="1.5" fill="#a9a7d7"/><rect y="1036.9" width="24" height="1.2" fill="#35288e"/><rect y="1044.9" width="24" height="1.5" fill="#34248a"/><rect y="1048.7" width="24" height="1.5" fill="#34248a"/><rect y="1053.9" width="24" height="3.0" fill="#34248a"/><rect y="1059.5" width="24" height="1.5" fill="#34248a"/><rect y="1065.9" width="24" height="1.2" fill="#372c92"/><rect y="1070.1" width="24" height="2.0" fill="#7573bc"/><rect y="1075.5" width="24" height="1.5" fill="#6664b5"/><rect y="1082.9" width="24" height="2.5" fill="#6260b3"/><rect y="1090.8" width="24" height="2.0" fill="#5654ac"/><rect y="1098.5" width="24" height="2.5" fill="#403ea0"/><rect y="1104.4" width="24" height="2.5" fill="#7d7bc1"/><rect y="1110.1" width="24" height="1.2" fill="#9997cf"/><rect y="1115.6" width="24" height="1.2" fill="#f1d8d8"/><rect y="1118.3" width="24" height="1.5" fill="#d1d0e9"/><rect y="1122.0" width="24" height="2.5" fill="#fefcfc"/><rect y="1131.3" width="24" height="1.5" fill="#3b369b"/><rect y="1137.5" width="24" height="3.0" fill="#9d9bd1"/><rect y="1142.9" width="24" height="2.0" fill="#dca1a1"/><rect y="1151.9" width="24" height="1.2" fill="#d18585"/><rect y="1157.6" width="24" height="1.5" fill="#d38989"/><rect y="1162.4" width="24" height="3.0" fill="#393397"/><rect y="1170.8" width="24" height="2.5" fill="#b2b0db"/><rect y="1178.0" width="24" height="1.5" fill="#fcf6f6"/><rect y="1185.7" width="24" height="2.5" fill="#f3dede"/><rect y="1193.1" width="24" height="2.5" fill="#bdbbe0"/><rect y="1200.7" width="24" height="2.0" fill="#fdfbfb"/><rect y="1206.0" width="24" height="2.0" fill="#716fba"/><rect y="1212.9" width="24" height="1.2" fill="#a2a0d3"/><rect y="1216.7" width="24" height="2.5" fill="#6f6db9"/><rect y="1222.6" width="24" height="1.2" fill="#cf8181"/><rect y="1227.7" width="24" height="1.2" fill="#fefdfd"/><rect y="1234.1" width="24" height="1.5" fill="#e3b2b2"/><rect y="1238.2" width="24" height="3.0" fill="#f8eaea"/><rect y="1245.9" width="24" height="1.2" fill="#f6e6e6"/><rect y="1254.0" width="24" height="1.2" fill="#ce7f7f"/><rect y="1261.9" width="24" height="3.0" fill="#ac3636"/><rect y="1268.9" width="24" height="1.5" fill="#b54949"/><rect y="1272.7" width="24" height="2.0" fill="#d58f8f"/><rect y="1278.9" width="24" height="2.5" fill="#b34444"/><rect y="1283.6" width="24" height="3.0" fill="#dc9f9f"/><rect y="1289.4" width="24" height="2.5" fill="#a82e2e"/><rect y="1298.1" width="24" height="3.0" fill="#be5b5b"/><rect y="1305.4" width="24" height="1.2" fill="#cf8181"/><rect y="1310.1" width="24" height="1.5" fill="#d99999"/><rect y="1317.0" width="24" height="3.0" fill="#dca0a0"/><rect y="1322.4" width="24" height="1.5" fill="#e2afaf"/><rect y="1325.4" width="24" height="3.0" fill="#d38989"/><rect y="1330.7" width="24" height="3.0" fill="#cd7c7c"/><rect y="1335.7" width="24" height="1.2" fill="#c06161"/><rect y="1340.4" width="24" height="1.5" fill="#be5b5b"/><rect y="1343.9" width="24" height="2.5" fill="#e7bbbb"/><rect y="1350.9" width="24" height="2.5" fill="#a52828"/><rect y="1355.1" width="24" height="2.0" fill="#d28888"/><rect y="1363.9" width="24" height="2.5" fill="#b95252"/><rect y="1369.6" width="24" height="2.5" fill="#ecc9c9"/><rect y="1376.8" width="24" height="1.2" fill="#c87171"/><rect y="1383.4" width="24" height="2.5" fill="#c16363"/><rect y="1387.5" width="24" height="2.5" fill="#c66e6e"/><rect y="1396.5" width="24" height="1.5" fill="#bc5858"/><rect y="1401.1" width="24" height="2.5" fill="#ce7f7f"/><rect y="1407.7" width="24" height="3.0" fill="#e3b2b2"/></g>
<g transform="translate(441.31 0)"><rect y="780.5" width="24" height="54.0" fill="#e3cdd5"/><rect y="834.3" width="24" height="24.8" fill="#605daf"/><rect y="858.9" width="24" height="207.7" fill="#3e3497"/><rect y="1066.4" width="24" height="33.8" fill="#8987c5"/><rect y="1100.0" width="24" height="21.6" fill="#9592cb"/><rect y="1121.4" width="24" height="105.7" fill="#dbcddd"/><rect y="1226.9" width="24" height="23.1" fill="#e2b5b7"/><rect y="1249.7" width="24" height="166.0" fill="#cf8484"/><rect y="782.8" width="24" height="1.2" fill="#d5d4eb"/><rect y="785.9" width="24" height="2.0" fill="#fdfdfe"/><rect y="790.5" width="24" height="2.0" fill="#6b69b7"/><rect y="798.5" width="24" height="2.5" fill="#c16262"/><rect y="807.6" width="24" height="2.5" fill="#f9eded"/><rect y="813.6" width="24" height="2.5" fill="#e8bfbf"/><rect y="817.7" width="24" height="2.0" fill="#a52828"/><rect y="823.8" width="24" height="2.0" fill="#f5e4e4"/><rect y="831.1" width="24" height="1.2" fill="#6e6cb9"/><rect y="835.0" width="24" height="2.5" fill="#3a369a"/><rect y="844.2" width="24" height="1.5" fill="#7b79bf"/><rect y="852.5" width="24" height="2.5" fill="#382f94"/><rect y="860.9" width="24" height="3.0" fill="#3c399d"/><rect y="869.4" width="24" height="1.2" fill="#34248a"/><rect y="874.8" width="24" height="2.5" fill="#34258b"/><rect y="882.4" width="24" height="2.0" fill="#36298f"/><rect y="889.8" width="24" height="2.5" fill="#3b389c"/><rect y="899.3" width="24" height="3.0" fill="#34248a"/><rect y="908.5" width="24" height="2.0" fill="#5b59af"/><rect y="913.1" width="24" height="2.5" fill="#34248a"/><rect y="918.6" width="24" height="3.0" fill="#34248a"/><rect y="925.4" width="24" height="2.0" fill="#393297"/><rect y="934.0" width="24" height="2.5" fill="#35278d"/><rect y="943.1" width="24" height="2.0" fill="#34248a"/><rect y="951.2" width="24" height="3.0" fill="#35288e"/><rect y="960.6" width="24" height="2.0" fill="#372d92"/><rect y="968.0" width="24" height="1.5" fill="#3c3a9e"/><rect y="973.3" width="24" height="1.2" fill="#34248a"/><rect y="976.7" width="24" height="1.2" fill="#34248a"/><rect y="980.4" width="24" height="3.0" fill="#35278d"/><rect y="989.9" width="24" height="2.0" fill="#34248a"/><rect y="996.8" width="24" height="2.0" fill="#e0e0f1"/><rect y="1000.9" width="24" height="2.5" fill="#383095"/><rect y="1006.5" width="24" height="2.0" fill="#34248a"/><rect y="1013.6" width="24" height="1.5" fill="#34248a"/><rect y="1017.1" width="24" height="1.5" fill="#34248a"/><rect y="1020.7" width="24" height="1.2" fill="#36288e"/><rect y="1025.4" width="24" height="2.0" fill="#34248a"/><rect y="1030.6" width="24" height="2.5" fill="#b5b4dc"/><rect y="1034.8" width="24" height="2.0" fill="#34248a"/><rect y="1043.6" width="24" height="2.0" fill="#35278d"/><rect y="1048.0" width="24" height="2.0" fill="#4947a5"/><rect y="1056.0" width="24" height="1.2" fill="#372b90"/><rect y="1059.4" width="24" height="1.5" fill="#34248a"/><rect y="1066.8" width="24" height="1.5" fill="#b6b4dd"/><rect y="1071.4" width="24" height="2.0" fill="#fdfbfb"/><rect y="1078.0" width="24" height="2.5" fill="#908eca"/><rect y="1085.0" width="24" height="2.5" fill="#8a88c7"/><rect y="1092.4" width="24" height="2.5" fill="#7371bb"/><rect y="1097.0" width="24" height="3.0" fill="#382f94"/><rect y="1102.0" width="24" height="1.5" fill="#5957ae"/><rect y="1106.9" width="24" height="1.2" fill="#c3c1e3"/><rect y="1112.6" width="24" height="1.5" fill="#4b49a6"/><rect y="1121.0" width="24" height="1.5" fill="#5957ae"/><rect y="1127.5" width="24" height="1.2" fill="#faf0f0"/><rect y="1132.5" width="24" height="3.0" fill="#3a3398"/><rect y="1137.3" width="24" height="2.5" fill="#e3e2f2"/><rect y="1142.1" width="24" height="2.0" fill="#dfa7a7"/><rect y="1150.7" width="24" height="1.2" fill="#362b90"/><rect y="1155.9" width="24" height="1.2" fill="#8f8dca"/><rect y="1162.2" width="24" height="1.5" fill="#b1b0db"/><rect y="1168.5" width="24" height="1.5" fill="#e6baba"/><rect y="1172.0" width="24" height="2.0" fill="#9c9ad0"/><rect y="1178.6" width="24" height="1.2" fill="#6361b3"/><rect y="1184.0" width="24" height="2.5" fill="#fcf8f8"/><rect y="1190.0" width="24" height="3.0" fill="#b34444"/><rect y="1199.1" width="24" height="1.5" fill="#fdfcfe"/><rect y="1202.1" width="24" height="2.0" fill="#e6b9b9"/><rect y="1206.8" width="24" height="1.5" fill="#ca7777"/><rect y="1213.6" width="24" height="2.5" fill="#fbf3f3"/><rect y="1220.2" width="24" height="3.0" fill="#bfbde1"/><rect y="1226.9" width="24" height="3.0" fill="#f9eeee"/><rect y="1236.6" width="24" height="3.0" fill="#fdf9f9"/><rect y="1244.9" width="24" height="2.5" fill="#e4e4f2"/><rect y="1252.6" width="24" height="1.5" fill="#cb7878"/><rect y="1257.7" width="24" height="2.0" fill="#d99999"/><rect y="1262.4" width="24" height="2.5" fill="#d79494"/><rect y="1268.8" width="24" height="1.2" fill="#d99898"/><rect y="1272.3" width="24" height="3.0" fill="#c36666"/><rect y="1281.1" width="24" height="3.0" fill="#ba5555"/><rect y="1287.4" width="24" height="3.0" fill="#dea7a7"/><rect y="1295.4" width="24" height="1.2" fill="#e0aaaa"/><rect y="1303.1" width="24" height="1.2" fill="#e9c2c2"/><rect y="1306.2" width="24" height="1.2" fill="#e4b5b5"/><rect y="1313.7" width="24" height="1.5" fill="#f2dbdb"/><rect y="1319.7" width="24" height="1.2" fill="#c46a6a"/><rect y="1324.3" width="24" height="2.0" fill="#a52828"/><rect y="1331.4" width="24" height="2.0" fill="#c56c6c"/><rect y="1335.8" width="24" height="1.2" fill="#ae3a3a"/><rect y="1340.5" width="24" height="2.5" fill="#e2b1b1"/><rect y="1349.5" width="24" height="1.2" fill="#ca7575"/><rect y="1357.2" width="24" height="1.2" fill="#b95151"/><rect y="1363.2" width="24" height="1.5" fill="#b03e3e"/><rect y="1367.3" width="24" height="1.5" fill="#fbf4f4"/><rect y="1370.4" width="24" height="3.0" fill="#c36767"/><rect y="1376.6" width="24" height="2.0" fill="#ca7676"/><rect y="1380.3" width="24" height="1.5" fill="#e7bcbc"/><rect y="1387.5" width="24" height="1.2" fill="#d38a8a"/><rect y="1391.0" width="24" height="1.2" fill="#d38a8a"/><rect y="1395.0" width="24" height="3.0" fill="#dea5a5"/><rect y="1399.9" width="24" height="2.0" fill="#cf8181"/><rect y="1408.4" width="24" height="1.5" fill="#bd5b5b"/></g>
<g transform="translate(467.68 0)"><rect y="780.5" width="24" height="54.0" fill="#d89999"/><rect y="834.3" width="24" height="45.9" fill="#e4c9cf"/><rect y="880.0" width="24" height="31.9" fill="#8987c5"/><rect y="911.6" width="24" height="42.4" fill="#6966b4"/><rect y="953.8" width="24" height="21.3" fill="#ada9d5"/><rect y="974.9" width="24" height="125.2" fill="#514ca6"/><rect y="1100.0" width="24" height="93.7" fill="#7370ba"/><rect y="1193.5" width="24" height="51.2" fill="#a19ed0"/><rect y="1244.5" width="24" height="5.5" fill="#dbcddd"/><rect y="1249.7" width="24" height="166.0" fill="#d89999"/><rect y="784.2" width="24" height="1.2" fill="#ba5353"/><rect y="786.9" width="24" height="1.5" fill="#f7eaea"/><rect y="790.9" width="24" height="1.2" fill="#e7bcbc"/><rect y="794.0" width="24" height="1.5" fill="#f7e8e8"/><rect y="800.0" width="24" height="2.0" fill="#b95353"/><rect y="804.3" width="24" height="3.0" fill="#c46a6a"/><rect y="809.3" width="24" height="1.5" fill="#db9d9d"/><rect y="814.7" width="24" height="1.2" fill="#ab3535"/><rect y="820.1" width="24" height="1.2" fill="#d08383"/><rect y="827.6" width="24" height="2.5" fill="#e7bdbd"/><rect y="834.2" width="24" height="3.0" fill="#d59090"/><rect y="843.4" width="24" height="1.5" fill="#5d5bb0"/><rect y="850.0" width="24" height="1.5" fill="#faf0f0"/><rect y="855.3" width="24" height="1.5" fill="#fbf3f3"/><rect y="858.6" width="24" height="1.2" fill="#9b99cf"/><rect y="866.6" width="24" height="1.2" fill="#faf2f2"/><rect y="871.2" width="24" height="2.5" fill="#d9d8ed"/><rect y="877.6" width="24" height="2.5" fill="#d08282"/><rect y="885.0" width="24" height="2.5" fill="#4a48a6"/><rect y="891.1" width="24" height="1.5" fill="#fbf5f5"/><rect y="894.8" width="24" height="3.0" fill="#7876be"/><rect y="903.4" width="24" height="1.2" fill="#aaa8d7"/><rect y="910.8" width="24" height="2.0" fill="#34248a"/><rect y="914.8" width="24" height="1.2" fill="#9d9bd0"/><rect y="918.6" width="24" height="2.5" fill="#3a3599"/><rect y="923.7" width="24" height="2.0" fill="#4846a5"/><rect y="932.2" width="24" height="1.2" fill="#3c3a9e"/><rect y="938.6" width="24" height="1.5" fill="#403ea0"/><rect y="946.0" width="24" height="1.2" fill="#4a48a6"/><rect y="953.5" width="24" height="2.0" fill="#5c5aaf"/><rect y="960.2" width="24" height="2.5" fill="#7371bc"/><rect y="968.8" width="24" height="2.5" fill="#cecce8"/><rect y="973.4" width="24" height="1.5" fill="#3b369b"/><rect y="979.7" width="24" height="1.2" fill="#5c5ab0"/><rect y="984.8" width="24" height="2.5" fill="#5250aa"/><rect y="991.0" width="24" height="2.0" fill="#5755ad"/><rect y="999.7" width="24" height="3.0" fill="#4442a2"/><rect y="1006.7" width="24" height="3.0" fill="#362a8f"/><rect y="1015.3" width="24" height="2.0" fill="#8684c5"/><rect y="1024.2" width="24" height="2.0" fill="#4a48a5"/><rect y="1032.4" width="24" height="2.5" fill="#403ea0"/><rect y="1038.0" width="24" height="2.0" fill="#acaad8"/><rect y="1044.3" width="24" height="2.0" fill="#6361b3"/><rect y="1048.1" width="24" height="2.0" fill="#5c5ab0"/><rect y="1054.1" width="24" height="3.0" fill="#362a90"/><rect y="1063.3" width="24" height="1.5" fill="#4b49a6"/><rect y="1067.7" width="24" height="2.0" fill="#504ea9"/><rect y="1072.3" width="24" height="1.2" fill="#372d92"/><rect y="1078.1" width="24" height="3.0" fill="#382f94"/><rect y="1086.6" width="24" height="1.2" fill="#413fa1"/><rect y="1090.8" width="24" height="1.5" fill="#9b99d0"/><rect y="1096.3" width="24" height="2.5" fill="#6b69b8"/><rect y="1101.1" width="24" height="2.5" fill="#6e6cb9"/><rect y="1105.3" width="24" height="3.0" fill="#adabd8"/><rect y="1114.7" width="24" height="1.2" fill="#4e4ca8"/><rect y="1119.5" width="24" height="2.0" fill="#5654ac"/><rect y="1126.0" width="24" height="2.5" fill="#7977be"/><rect y="1130.1" width="24" height="2.0" fill="#4b49a6"/><rect y="1135.4" width="24" height="3.0" fill="#5250aa"/><rect y="1140.1" width="24" height="3.0" fill="#a09ed2"/><rect y="1145.1" width="24" height="2.0" fill="#7c7ac0"/><rect y="1152.7" width="24" height="3.0" fill="#6f6dba"/><rect y="1162.6" width="24" height="2.5" fill="#504ea9"/><rect y="1171.6" width="24" height="3.0" fill="#a4a2d4"/><rect y="1179.5" width="24" height="1.5" fill="#817fc3"/><rect y="1186.8" width="24" height="2.5" fill="#3b379b"/><rect y="1193.6" width="24" height="3.0" fill="#514fa9"/><rect y="1198.5" width="24" height="1.5" fill="#cccae7"/><rect y="1206.8" width="24" height="1.5" fill="#a3a1d3"/><rect y="1213.2" width="24" height="2.0" fill="#6a68b7"/><rect y="1221.4" width="24" height="1.5" fill="#a5a3d4"/><rect y="1226.7" width="24" height="1.2" fill="#f4e0e0"/><rect y="1233.2" width="24" height="2.0" fill="#e4e3f2"/><rect y="1240.5" width="24" height="2.0" fill="#6866b6"/><rect y="1246.2" width="24" height="2.5" fill="#e6b9b9"/><rect y="1252.2" width="24" height="3.0" fill="#dda2a2"/><rect y="1257.4" width="24" height="2.5" fill="#e5b9b9"/><rect y="1262.8" width="24" height="2.0" fill="#f4e1e1"/><rect y="1269.6" width="24" height="2.0" fill="#ca7777"/><rect y="1276.1" width="24" height="2.5" fill="#e0a9a9"/><rect y="1280.9" width="24" height="2.5" fill="#ce7f7f"/><rect y="1290.1" width="24" height="1.5" fill="#cc7a7a"/><rect y="1297.4" width="24" height="3.0" fill="#e5b6b6"/><rect y="1305.0" width="24" height="2.0" fill="#cc7b7b"/><rect y="1310.7" width="24" height="2.0" fill="#c26666"/><rect y="1315.5" width="24" height="1.2" fill="#c87171"/><rect y="1318.6" width="24" height="2.0" fill="#eecfcf"/><rect y="1324.8" width="24" height="2.5" fill="#dfa9a9"/><rect y="1330.2" width="24" height="3.0" fill="#d79292"/><rect y="1335.5" width="24" height="1.5" fill="#d28888"/><rect y="1339.1" width="24" height="2.0" fill="#c26464"/><rect y="1343.4" width="24" height="3.0" fill="#ca7676"/><rect y="1350.8" width="24" height="2.5" fill="#e8e7f4"/><rect y="1359.4" width="24" height="1.2" fill="#cf8282"/><rect y="1365.7" width="24" height="2.0" fill="#c26565"/><rect y="1371.8" width="24" height="1.2" fill="#e8bebe"/><rect y="1379.8" width="24" height="2.0" fill="#d28787"/><rect y="1385.5" width="24" height="2.0" fill="#d79494"/><rect y="1390.9" width="24" height="2.5" fill="#a93030"/><rect y="1399.8" width="24" height="2.0" fill="#c87171"/><rect y="1407.8" width="24" height="1.5" fill="#c97373"/></g>
<g transform="translate(494.05 0)"><rect y="780.5" width="24" height="54.0" fill="#d89999"/><rect y="834.3" width="24" height="45.9" fill="#e5c4c8"/><rect y="880.0" width="24" height="31.9" fill="#a19ed0"/><rect y="911.6" width="24" height="60.0" fill="#7370ba"/><rect y="971.4" width="24" height="128.7" fill="#5854aa"/><rect y="1100.0" width="24" height="51.5" fill="#7370ba"/><rect y="1151.3" width="24" height="93.4" fill="#ada9d5"/><rect y="1244.5" width="24" height="5.5" fill="#dbcddd"/><rect y="1249.7" width="24" height="166.0" fill="#d89999"/><rect y="784.0" width="24" height="3.0" fill="#d18686"/><rect y="789.9" width="24" height="2.0" fill="#e9c3c3"/><rect y="794.1" width="24" height="2.5" fill="#dea5a5"/><rect y="798.8" width="24" height="1.2" fill="#c66d6d"/><rect y="802.1" width="24" height="2.5" fill="#aa3232"/><rect y="811.5" width="24" height="2.5" fill="#f1d7d7"/><rect y="819.0" width="24" height="1.5" fill="#dfa7a7"/><rect y="826.7" width="24" height="2.0" fill="#c97575"/><rect y="832.1" width="24" height="1.5" fill="#dfa8a8"/><rect y="837.6" width="24" height="2.0" fill="#f6e5e5"/><rect y="844.8" width="24" height="2.5" fill="#cbcae7"/><rect y="851.2" width="24" height="1.5" fill="#e7bbbb"/><rect y="856.0" width="24" height="1.2" fill="#ebebf6"/><rect y="861.7" width="24" height="2.5" fill="#c26464"/><rect y="871.2" width="24" height="1.5" fill="#e4b4b4"/><rect y="875.7" width="24" height="2.5" fill="#f5e3e3"/><rect y="882.3" width="24" height="2.5" fill="#4846a5"/><rect y="887.8" width="24" height="3.0" fill="#817fc3"/><rect y="896.9" width="24" height="1.2" fill="#7270bb"/><rect y="900.4" width="24" height="2.5" fill="#372d92"/><rect y="904.9" width="24" height="1.5" fill="#ebc8c8"/><rect y="908.4" width="24" height="3.0" fill="#5250aa"/><rect y="914.1" width="24" height="1.5" fill="#d6d5ec"/><rect y="917.7" width="24" height="1.2" fill="#6a68b7"/><rect y="920.9" width="24" height="2.0" fill="#a8a6d6"/><rect y="927.9" width="24" height="2.5" fill="#a7a5d6"/><rect y="935.7" width="24" height="1.2" fill="#372d92"/><rect y="943.0" width="24" height="2.5" fill="#a9a7d7"/><rect y="948.7" width="24" height="2.5" fill="#a6a4d5"/><rect y="955.7" width="24" height="1.5" fill="#5654ac"/><rect y="961.2" width="24" height="2.5" fill="#5856ad"/><rect y="966.7" width="24" height="1.5" fill="#7d7bc0"/><rect y="971.2" width="24" height="1.2" fill="#fefbfb"/><rect y="977.9" width="24" height="1.2" fill="#9e9cd1"/><rect y="980.6" width="24" height="2.0" fill="#403ea0"/><rect y="986.5" width="24" height="1.2" fill="#6462b4"/><rect y="991.6" width="24" height="3.0" fill="#34248a"/><rect y="998.3" width="24" height="1.2" fill="#8f8dca"/><rect y="1001.7" width="24" height="3.0" fill="#372d92"/><rect y="1008.0" width="24" height="2.0" fill="#514faa"/><rect y="1014.8" width="24" height="3.0" fill="#3b389c"/><rect y="1020.1" width="24" height="1.5" fill="#4442a2"/><rect y="1026.3" width="24" height="1.5" fill="#b3b1db"/><rect y="1030.5" width="24" height="3.0" fill="#383095"/><rect y="1040.4" width="24" height="2.0" fill="#372c91"/><rect y="1043.9" width="24" height="2.5" fill="#5654ac"/><rect y="1052.8" width="24" height="2.5" fill="#5e5cb1"/><rect y="1061.9" width="24" height="1.2" fill="#3a3498"/><rect y="1068.9" width="24" height="2.0" fill="#7e7cc1"/><rect y="1076.9" width="24" height="1.5" fill="#7371bb"/><rect y="1082.2" width="24" height="1.5" fill="#7876be"/><rect y="1090.0" width="24" height="3.0" fill="#393297"/><rect y="1096.5" width="24" height="1.2" fill="#908eca"/><rect y="1103.3" width="24" height="1.2" fill="#3b369b"/><rect y="1109.9" width="24" height="2.5" fill="#3d3b9f"/><rect y="1117.6" width="24" height="2.5" fill="#817fc3"/><rect y="1124.4" width="24" height="3.0" fill="#7d7bc0"/><rect y="1131.6" width="24" height="2.0" fill="#6c6ab8"/><rect y="1139.3" width="24" height="1.2" fill="#8381c4"/><rect y="1143.0" width="24" height="2.5" fill="#6b69b8"/><rect y="1147.6" width="24" height="1.5" fill="#372d92"/><rect y="1151.1" width="24" height="2.0" fill="#8482c4"/><rect y="1158.7" width="24" height="2.0" fill="#bab8df"/><rect y="1165.8" width="24" height="3.0" fill="#cdcce8"/><rect y="1173.3" width="24" height="2.5" fill="#3a3599"/><rect y="1177.4" width="24" height="2.5" fill="#514faa"/><rect y="1182.2" width="24" height="1.5" fill="#bfbee1"/><rect y="1190.4" width="24" height="2.5" fill="#d6d5ec"/><rect y="1197.9" width="24" height="3.0" fill="#d0cfe9"/><rect y="1206.6" width="24" height="2.5" fill="#615fb2"/><rect y="1215.5" width="24" height="2.5" fill="#5a58af"/><rect y="1224.7" width="24" height="2.0" fill="#36288e"/><rect y="1231.5" width="24" height="1.5" fill="#da9a9a"/><rect y="1237.9" width="24" height="1.5" fill="#b0aeda"/><rect y="1243.4" width="24" height="1.5" fill="#d28787"/><rect y="1251.9" width="24" height="2.0" fill="#ecc8c8"/><rect y="1257.3" width="24" height="1.2" fill="#cd7e7e"/><rect y="1261.2" width="24" height="1.2" fill="#e3b3b3"/><rect y="1264.2" width="24" height="1.2" fill="#cc7b7b"/><rect y="1269.8" width="24" height="1.2" fill="#e8bebe"/><rect y="1276.6" width="24" height="3.0" fill="#cf8181"/><rect y="1282.0" width="24" height="1.2" fill="#cb7979"/><rect y="1287.1" width="24" height="1.5" fill="#ecc9c9"/><rect y="1292.6" width="24" height="3.0" fill="#d18585"/><rect y="1299.1" width="24" height="2.0" fill="#c1bfe2"/><rect y="1307.8" width="24" height="3.0" fill="#f6e6e6"/><rect y="1315.1" width="24" height="1.5" fill="#ac3737"/><rect y="1319.4" width="24" height="2.0" fill="#b34444"/><rect y="1328.1" width="24" height="2.0" fill="#cc7a7a"/><rect y="1335.1" width="24" height="2.0" fill="#dea5a5"/><rect y="1339.2" width="24" height="1.2" fill="#c06060"/><rect y="1342.2" width="24" height="1.5" fill="#e7bcbc"/><rect y="1345.5" width="24" height="1.2" fill="#d99898"/><rect y="1349.8" width="24" height="3.0" fill="#d28989"/><rect y="1359.3" width="24" height="2.5" fill="#dea5a5"/><rect y="1364.3" width="24" height="1.2" fill="#d08282"/><rect y="1371.3" width="24" height="1.5" fill="#faf0f0"/><rect y="1376.4" width="24" height="2.0" fill="#ad3a3a"/><rect y="1383.3" width="24" height="1.2" fill="#d89797"/><rect y="1386.4" width="24" height="2.0" fill="#ce7e7e"/><rect y="1392.8" width="24" height="1.2" fill="#b74d4d"/><rect y="1397.5" width="24" height="1.5" fill="#b85050"/><rect y="1403.6" width="24" height="2.0" fill="#d48c8c"/><rect y="1408.0" width="24" height="2.5" fill="#e4b5b5"/></g>
<g transform="translate(520.42 0)"><rect y="780.5" width="24" height="131.3" fill="#dba3a3"/><rect y="911.6" width="24" height="63.5" fill="#e3cdd5"/><rect y="974.9" width="24" height="84.6" fill="#c3bcdc"/><rect y="1059.3" width="24" height="40.8" fill="#a19ed0"/><rect y="1100.0" width="24" height="150.0" fill="#605daf"/><rect y="1249.7" width="24" height="31.9" fill="#e0ceda"/><rect y="1281.4" width="24" height="134.3" fill="#e4bdc0"/><rect y="786.2" width="24" height="1.5" fill="#cf8080"/><rect y="791.3" width="24" height="3.0" fill="#f4e0e0"/><rect y="797.1" width="24" height="2.0" fill="#dea6a6"/><rect y="804.6" width="24" height="2.5" fill="#be5b5b"/><rect y="813.3" width="24" height="1.2" fill="#bf5f5f"/><rect y="818.5" width="24" height="2.5" fill="#c56b6b"/><rect y="827.4" width="24" height="3.0" fill="#e4b5b5"/><rect y="833.4" width="24" height="1.5" fill="#d08383"/><rect y="841.2" width="24" height="1.2" fill="#c56c6c"/><rect y="845.7" width="24" height="1.2" fill="#e9c1c1"/><rect y="851.9" width="24" height="1.5" fill="#c26666"/><rect y="856.7" width="24" height="1.2" fill="#eac3c3"/><rect y="859.7" width="24" height="2.5" fill="#c87373"/><rect y="867.8" width="24" height="2.0" fill="#c66d6d"/><rect y="872.7" width="24" height="1.5" fill="#ecc8c8"/><rect y="877.0" width="24" height="2.0" fill="#a52828"/><rect y="881.6" width="24" height="1.2" fill="#d28888"/><rect y="888.5" width="24" height="3.0" fill="#ebc7c7"/><rect y="897.6" width="24" height="1.2" fill="#d89797"/><rect y="901.0" width="24" height="2.0" fill="#e1adad"/><rect y="907.9" width="24" height="3.0" fill="#e8c0c0"/><rect y="916.0" width="24" height="3.0" fill="#eac5c5"/><rect y="921.8" width="24" height="1.5" fill="#9a98cf"/><rect y="928.7" width="24" height="2.0" fill="#f4dfdf"/><rect y="935.3" width="24" height="1.2" fill="#7f7dc1"/><rect y="941.8" width="24" height="2.0" fill="#fefdfd"/><rect y="945.5" width="24" height="2.5" fill="#f9eded"/><rect y="950.4" width="24" height="2.0" fill="#9694cd"/><rect y="954.5" width="24" height="1.2" fill="#f9f9fc"/><rect y="957.5" width="24" height="1.2" fill="#9997ce"/><rect y="965.6" width="24" height="3.0" fill="#ae3a3a"/><rect y="975.1" width="24" height="3.0" fill="#e8bfbf"/><rect y="983.4" width="24" height="2.0" fill="#f0d4d4"/><rect y="991.0" width="24" height="2.0" fill="#4442a3"/><rect y="995.9" width="24" height="2.5" fill="#fcf6f6"/><rect y="1004.9" width="24" height="3.0" fill="#f9efef"/><rect y="1014.9" width="24" height="1.2" fill="#d1d0ea"/><rect y="1020.7" width="24" height="1.5" fill="#dfa7a7"/><rect y="1028.9" width="24" height="1.5" fill="#35268c"/><rect y="1033.7" width="24" height="3.0" fill="#e6b9b9"/><rect y="1042.4" width="24" height="2.0" fill="#6462b4"/><rect y="1050.9" width="24" height="2.0" fill="#e0a9a9"/><rect y="1059.5" width="24" height="2.5" fill="#e0a9a9"/><rect y="1066.1" width="24" height="2.0" fill="#fdfafa"/><rect y="1073.0" width="24" height="2.0" fill="#fbf5f5"/><rect y="1081.8" width="24" height="2.5" fill="#e6e5f3"/><rect y="1090.1" width="24" height="1.2" fill="#3b379b"/><rect y="1094.2" width="24" height="1.2" fill="#c7c6e5"/><rect y="1101.2" width="24" height="3.0" fill="#35278c"/><rect y="1110.4" width="24" height="2.5" fill="#c8c7e5"/><rect y="1118.9" width="24" height="2.5" fill="#504ea9"/><rect y="1127.3" width="24" height="1.5" fill="#5654ac"/><rect y="1134.6" width="24" height="1.2" fill="#5d5bb0"/><rect y="1142.0" width="24" height="1.5" fill="#8d8bc8"/><rect y="1150.3" width="24" height="2.0" fill="#383095"/><rect y="1157.6" width="24" height="1.5" fill="#9b99cf"/><rect y="1162.8" width="24" height="2.0" fill="#383095"/><rect y="1169.3" width="24" height="3.0" fill="#b4b3dc"/><rect y="1176.1" width="24" height="3.0" fill="#5553ac"/><rect y="1181.1" width="24" height="2.0" fill="#6967b6"/><rect y="1188.7" width="24" height="1.5" fill="#372d92"/><rect y="1196.5" width="24" height="1.5" fill="#7573bc"/><rect y="1201.0" width="24" height="2.5" fill="#393397"/><rect y="1206.6" width="24" height="3.0" fill="#7f7dc2"/><rect y="1213.8" width="24" height="1.2" fill="#362a8f"/><rect y="1219.1" width="24" height="3.0" fill="#8482c4"/><rect y="1229.0" width="24" height="3.0" fill="#5654ac"/><rect y="1233.7" width="24" height="2.0" fill="#372c91"/><rect y="1238.5" width="24" height="2.5" fill="#c9c8e6"/><rect y="1244.9" width="24" height="1.2" fill="#9997cf"/><rect y="1251.4" width="24" height="1.2" fill="#f8eaea"/><rect y="1256.8" width="24" height="2.5" fill="#e1e1f1"/><rect y="1263.2" width="24" height="2.0" fill="#dda4a4"/><rect y="1270.2" width="24" height="3.0" fill="#f9eded"/><rect y="1279.6" width="24" height="3.0" fill="#3d3b9e"/><rect y="1286.1" width="24" height="1.5" fill="#fffefe"/><rect y="1294.3" width="24" height="3.0" fill="#e6baba"/><rect y="1302.9" width="24" height="2.5" fill="#e5b6b6"/><rect y="1307.2" width="24" height="2.0" fill="#fdf8f8"/><rect y="1315.2" width="24" height="3.0" fill="#cccae7"/><rect y="1324.0" width="24" height="2.0" fill="#a4a2d4"/><rect y="1332.7" width="24" height="1.2" fill="#a52828"/><rect y="1337.5" width="24" height="2.0" fill="#e8c0c0"/><rect y="1344.7" width="24" height="1.2" fill="#eccbcb"/><rect y="1349.0" width="24" height="1.5" fill="#e7e6f4"/><rect y="1357.4" width="24" height="1.2" fill="#f6e6e6"/><rect y="1363.7" width="24" height="1.2" fill="#e4b4b4"/><rect y="1371.1" width="24" height="3.0" fill="#f3dede"/><rect y="1378.1" width="24" height="2.0" fill="#f2dada"/><rect y="1384.3" width="24" height="3.0" fill="#eac5c5"/><rect y="1390.8" width="24" height="3.0" fill="#d79494"/><rect y="1399.6" width="24" height="2.5" fill="#d99999"/><rect y="1407.1" width="24" height="3.0" fill="#faf2f2"/></g>
<g transform="translate(546.79 0)"><rect y="780.5" width="24" height="50.5" fill="#d89999"/><rect y="830.8" width="24" height="81.1" fill="#cf8484"/><rect y="911.6" width="24" height="63.5" fill="#e5c4c8"/><rect y="974.9" width="24" height="84.6" fill="#d4cade"/><rect y="1059.3" width="24" height="40.8" fill="#a19ed0"/><rect y="1100.0" width="24" height="21.6" fill="#a19ed0"/><rect y="1121.4" width="24" height="128.6" fill="#5854aa"/><rect y="1249.7" width="24" height="31.9" fill="#c3bcdc"/><rect y="1281.4" width="24" height="134.3" fill="#e4bdc0"/><rect y="782.1" width="24" height="3.0" fill="#d48d8d"/><rect y="792.1" width="24" height="3.0" fill="#a72c2c"/><rect y="800.5" width="24" height="2.5" fill="#e6baba"/><rect y="809.7" width="24" height="3.0" fill="#dda3a3"/><rect y="817.2" width="24" height="1.5" fill="#db9d9d"/><rect y="823.6" width="24" height="2.0" fill="#ba5454"/><rect y="832.3" width="24" height="1.2" fill="#d58f8f"/><rect y="835.2" width="24" height="1.5" fill="#c36868"/><rect y="842.2" width="24" height="1.5" fill="#dfa8a8"/><rect y="848.1" width="24" height="3.0" fill="#c46a6a"/><rect y="854.2" width="24" height="2.0" fill="#c97474"/><rect y="860.9" width="24" height="2.0" fill="#c26565"/><rect y="866.5" width="24" height="1.5" fill="#dfa7a7"/><rect y="869.5" width="24" height="3.0" fill="#db9e9e"/><rect y="876.1" width="24" height="1.5" fill="#d08282"/><rect y="879.2" width="24" height="2.0" fill="#ad3939"/><rect y="884.9" width="24" height="1.5" fill="#e4b4b4"/><rect y="892.3" width="24" height="1.5" fill="#ecc9c9"/><rect y="896.4" width="24" height="3.0" fill="#c06060"/><rect y="903.0" width="24" height="1.5" fill="#d18585"/><rect y="909.5" width="24" height="1.2" fill="#d08484"/><rect y="912.5" width="24" height="1.5" fill="#9d9bd0"/><rect y="916.5" width="24" height="3.0" fill="#fbf4f4"/><rect y="925.2" width="24" height="1.5" fill="#d99a9a"/><rect y="932.7" width="24" height="1.5" fill="#cc7a7a"/><rect y="938.5" width="24" height="1.2" fill="#dca1a1"/><rect y="946.7" width="24" height="2.0" fill="#faf0f0"/><rect y="951.6" width="24" height="2.5" fill="#ecc9c9"/><rect y="959.6" width="24" height="1.5" fill="#b95151"/><rect y="966.2" width="24" height="2.0" fill="#ebc6c6"/><rect y="974.2" width="24" height="2.0" fill="#b54a4a"/><rect y="981.7" width="24" height="1.5" fill="#5f5db1"/><rect y="987.4" width="24" height="2.5" fill="#cf8080"/><rect y="995.8" width="24" height="2.5" fill="#5654ac"/><rect y="1001.5" width="24" height="1.5" fill="#dfdef0"/><rect y="1005.8" width="24" height="1.5" fill="#5f5db1"/><rect y="1013.0" width="24" height="2.5" fill="#edcdcd"/><rect y="1019.8" width="24" height="3.0" fill="#393398"/><rect y="1024.6" width="24" height="1.5" fill="#f2d9d9"/><rect y="1030.6" width="24" height="1.5" fill="#393297"/><rect y="1036.4" width="24" height="3.0" fill="#e5b7b7"/><rect y="1045.6" width="24" height="3.0" fill="#6d6bb9"/><rect y="1055.4" width="24" height="2.5" fill="#fdf8f8"/><rect y="1062.9" width="24" height="2.0" fill="#34248a"/><rect y="1068.2" width="24" height="1.5" fill="#9391cb"/><rect y="1076.0" width="24" height="2.5" fill="#6563b4"/><rect y="1085.2" width="24" height="1.2" fill="#4b49a6"/><rect y="1092.6" width="24" height="1.2" fill="#9c9ad0"/><rect y="1096.6" width="24" height="2.0" fill="#faf2f2"/><rect y="1104.8" width="24" height="2.5" fill="#3f3da0"/><rect y="1111.1" width="24" height="1.2" fill="#e2b1b1"/><rect y="1115.4" width="24" height="1.5" fill="#f1d9d9"/><rect y="1122.0" width="24" height="3.0" fill="#c5c3e4"/><rect y="1131.4" width="24" height="2.0" fill="#372c92"/><rect y="1137.4" width="24" height="2.0" fill="#383095"/><rect y="1143.0" width="24" height="2.0" fill="#4b49a6"/><rect y="1151.8" width="24" height="2.0" fill="#8a88c7"/><rect y="1155.5" width="24" height="1.5" fill="#6260b3"/><rect y="1162.1" width="24" height="1.5" fill="#34248a"/><rect y="1166.5" width="24" height="1.5" fill="#3c399e"/><rect y="1173.6" width="24" height="2.0" fill="#34248a"/><rect y="1182.5" width="24" height="2.5" fill="#4442a2"/><rect y="1186.9" width="24" height="2.5" fill="#6462b4"/><rect y="1192.0" width="24" height="3.0" fill="#3c399d"/><rect y="1200.1" width="24" height="1.5" fill="#4c4aa7"/><rect y="1203.7" width="24" height="2.5" fill="#7a78bf"/><rect y="1210.5" width="24" height="3.0" fill="#3b389c"/><rect y="1219.0" width="24" height="1.5" fill="#362a90"/><rect y="1222.5" width="24" height="1.2" fill="#5856ad"/><rect y="1230.1" width="24" height="1.2" fill="#8785c5"/><rect y="1237.0" width="24" height="2.5" fill="#3e3c9f"/><rect y="1242.1" width="24" height="1.5" fill="#393397"/><rect y="1247.7" width="24" height="1.5" fill="#3b379b"/><rect y="1253.8" width="24" height="3.0" fill="#c6c4e4"/><rect y="1263.3" width="24" height="1.5" fill="#4e4ca8"/><rect y="1267.3" width="24" height="2.0" fill="#a2a0d3"/><rect y="1274.4" width="24" height="2.5" fill="#e7e6f4"/><rect y="1280.0" width="24" height="1.5" fill="#bbb9df"/><rect y="1284.6" width="24" height="3.0" fill="#d79494"/><rect y="1290.4" width="24" height="2.0" fill="#d38a8a"/><rect y="1295.1" width="24" height="1.5" fill="#f0f0f8"/><rect y="1302.0" width="24" height="1.5" fill="#fefefe"/><rect y="1306.9" width="24" height="2.5" fill="#fbf3f3"/><rect y="1315.1" width="24" height="2.5" fill="#ca7777"/><rect y="1321.1" width="24" height="2.0" fill="#d69292"/><rect y="1325.6" width="24" height="2.5" fill="#e7e6f4"/><rect y="1334.9" width="24" height="3.0" fill="#e3b2b2"/><rect y="1343.5" width="24" height="3.0" fill="#e2afaf"/><rect y="1349.3" width="24" height="1.2" fill="#c36767"/><rect y="1357.2" width="24" height="2.0" fill="#c56b6b"/><rect y="1363.3" width="24" height="2.0" fill="#f6e7e7"/><rect y="1370.3" width="24" height="2.5" fill="#c56c6c"/><rect y="1376.9" width="24" height="1.5" fill="#f0d5d5"/><rect y="1380.1" width="24" height="2.5" fill="#da9c9c"/><rect y="1386.2" width="24" height="3.0" fill="#c46a6a"/><rect y="1394.4" width="24" height="1.2" fill="#e8c0c0"/><rect y="1398.9" width="24" height="2.5" fill="#c56c6c"/><rect y="1404.6" width="24" height="1.2" fill="#a52828"/><rect y="1408.2" width="24" height="1.2" fill="#f9efef"/></g>
<g transform="translate(573.16 0)"><rect y="780.5" width="24" height="54.0" fill="#e4c9cf"/><rect y="834.3" width="24" height="140.9" fill="#d89999"/><rect y="974.9" width="24" height="84.6" fill="#e4c9cf"/><rect y="1059.3" width="24" height="40.8" fill="#dbcddd"/><rect y="1100.0" width="24" height="48.0" fill="#ada9d5"/><rect y="1147.8" width="24" height="105.7" fill="#5854aa"/><rect y="1253.3" width="24" height="28.3" fill="#e4c9cf"/><rect y="1281.4" width="24" height="56.5" fill="#b8b3d9"/><rect y="1337.7" width="24" height="78.0" fill="#e3cdd5"/><rect y="782.0" width="24" height="3.0" fill="#c16363"/><rect y="791.0" width="24" height="1.2" fill="#cac9e6"/><rect y="798.8" width="24" height="2.5" fill="#be5d5d"/><rect y="807.1" width="24" height="1.5" fill="#9b99d0"/><rect y="812.3" width="24" height="1.2" fill="#f1d8d8"/><rect y="815.1" width="24" height="1.5" fill="#d48d8d"/><rect y="820.5" width="24" height="2.0" fill="#c16262"/><rect y="828.4" width="24" height="2.0" fill="#b3b1db"/><rect y="832.5" width="24" height="2.5" fill="#dfa8a8"/><rect y="838.2" width="24" height="3.0" fill="#c87373"/><rect y="845.7" width="24" height="2.0" fill="#c97474"/><rect y="851.7" width="24" height="3.0" fill="#d58e8e"/><rect y="857.4" width="24" height="1.2" fill="#e3b1b1"/><rect y="860.5" width="24" height="2.0" fill="#c06060"/><rect y="865.4" width="24" height="1.5" fill="#e5b6b6"/><rect y="870.1" width="24" height="2.0" fill="#f8ecec"/><rect y="875.8" width="24" height="1.5" fill="#d38a8a"/><rect y="883.4" width="24" height="1.5" fill="#dea6a6"/><rect y="889.7" width="24" height="2.5" fill="#cb7979"/><rect y="895.9" width="24" height="2.0" fill="#c36666"/><rect y="904.8" width="24" height="1.2" fill="#dcdbee"/><rect y="913.0" width="24" height="3.0" fill="#f6f6fb"/><rect y="922.6" width="24" height="2.5" fill="#f1d8d8"/><rect y="926.8" width="24" height="3.0" fill="#f6e6e6"/><rect y="933.9" width="24" height="3.0" fill="#eac3c3"/><rect y="943.4" width="24" height="2.0" fill="#dda2a2"/><rect y="949.2" width="24" height="3.0" fill="#c56c6c"/><rect y="956.8" width="24" height="3.0" fill="#ebc7c7"/><rect y="963.1" width="24" height="2.0" fill="#e6baba"/><rect y="967.9" width="24" height="2.0" fill="#dfa7a7"/><rect y="975.0" width="24" height="1.5" fill="#d99a9a"/><rect y="979.6" width="24" height="1.2" fill="#e8bebe"/><rect y="983.9" width="24" height="2.5" fill="#e8e7f4"/><rect y="992.6" width="24" height="3.0" fill="#504ea9"/><rect y="1000.0" width="24" height="3.0" fill="#e4b5b5"/><rect y="1007.4" width="24" height="2.0" fill="#c66e6e"/><rect y="1011.2" width="24" height="3.0" fill="#ebc6c6"/><rect y="1016.5" width="24" height="2.5" fill="#bf5e5e"/><rect y="1024.0" width="24" height="2.0" fill="#a4a2d4"/><rect y="1030.8" width="24" height="2.5" fill="#9795ce"/><rect y="1038.5" width="24" height="1.5" fill="#c56c6c"/><rect y="1041.8" width="24" height="1.2" fill="#9c9ad0"/><rect y="1046.6" width="24" height="2.0" fill="#e0abab"/><rect y="1054.7" width="24" height="1.2" fill="#fefefe"/><rect y="1061.9" width="24" height="1.2" fill="#fdf9f9"/><rect y="1065.2" width="24" height="2.0" fill="#a52828"/><rect y="1071.8" width="24" height="3.0" fill="#e5b6b6"/><rect y="1079.8" width="24" height="2.0" fill="#e2aeae"/><rect y="1086.0" width="24" height="1.2" fill="#34248a"/><rect y="1091.8" width="24" height="2.5" fill="#e4b5b5"/><rect y="1100.4" width="24" height="3.0" fill="#6c6ab8"/><rect y="1106.5" width="24" height="2.5" fill="#fafafd"/><rect y="1113.3" width="24" height="2.5" fill="#413fa0"/><rect y="1119.5" width="24" height="2.5" fill="#e9c2c2"/><rect y="1126.7" width="24" height="1.5" fill="#8c8ac8"/><rect y="1130.5" width="24" height="2.5" fill="#5f5db1"/><rect y="1136.2" width="24" height="1.2" fill="#fefcfc"/><rect y="1140.9" width="24" height="1.2" fill="#6d6bb9"/><rect y="1147.9" width="24" height="2.5" fill="#817fc3"/><rect y="1152.1" width="24" height="1.5" fill="#8785c6"/><rect y="1155.4" width="24" height="2.0" fill="#4c4aa7"/><rect y="1159.6" width="24" height="1.5" fill="#5a58ae"/><rect y="1164.4" width="24" height="1.5" fill="#4f4da8"/><rect y="1169.6" width="24" height="1.5" fill="#372b90"/><rect y="1174.3" width="24" height="3.0" fill="#5250aa"/><rect y="1179.8" width="24" height="1.2" fill="#5755ad"/><rect y="1182.7" width="24" height="1.5" fill="#393398"/><rect y="1189.8" width="24" height="1.2" fill="#605eb2"/><rect y="1197.5" width="24" height="3.0" fill="#b3b1db"/><rect y="1204.9" width="24" height="2.5" fill="#3c3a9e"/><rect y="1213.0" width="24" height="2.5" fill="#372c91"/><rect y="1220.2" width="24" height="1.2" fill="#3c3a9e"/><rect y="1226.0" width="24" height="1.2" fill="#6462b4"/><rect y="1228.9" width="24" height="1.2" fill="#3b379c"/><rect y="1232.7" width="24" height="1.5" fill="#3b379b"/><rect y="1240.2" width="24" height="2.5" fill="#393195"/><rect y="1247.7" width="24" height="3.0" fill="#5553ac"/><rect y="1254.9" width="24" height="3.0" fill="#c06060"/><rect y="1264.4" width="24" height="1.5" fill="#dad9ed"/><rect y="1271.6" width="24" height="2.5" fill="#716fbb"/><rect y="1278.0" width="24" height="1.2" fill="#b34545"/><rect y="1284.2" width="24" height="1.2" fill="#8785c5"/><rect y="1288.3" width="24" height="2.0" fill="#fbf5f5"/><rect y="1292.2" width="24" height="2.0" fill="#e8c0c0"/><rect y="1296.1" width="24" height="2.0" fill="#908eca"/><rect y="1301.3" width="24" height="1.5" fill="#4f4da8"/><rect y="1307.3" width="24" height="1.2" fill="#a2a0d3"/><rect y="1312.7" width="24" height="1.5" fill="#ffffff"/><rect y="1316.7" width="24" height="1.2" fill="#b9b7de"/><rect y="1319.8" width="24" height="3.0" fill="#b9b8de"/><rect y="1326.3" width="24" height="2.5" fill="#d18585"/><rect y="1333.8" width="24" height="3.0" fill="#fdf8f8"/><rect y="1338.7" width="24" height="2.5" fill="#35268b"/><rect y="1342.8" width="24" height="2.0" fill="#8886c6"/><rect y="1348.8" width="24" height="2.0" fill="#e1aeae"/><rect y="1355.5" width="24" height="3.0" fill="#eecece"/><rect y="1362.1" width="24" height="3.0" fill="#8482c4"/><rect y="1369.3" width="24" height="2.0" fill="#3a359a"/><rect y="1375.7" width="24" height="2.5" fill="#7270bb"/><rect y="1383.1" width="24" height="1.5" fill="#a19fd2"/><rect y="1388.9" width="24" height="2.0" fill="#dda3a3"/><rect y="1397.3" width="24" height="3.0" fill="#e5b7b7"/><rect y="1402.5" width="24" height="2.0" fill="#7674bd"/><rect y="1409.2" width="24" height="2.5" fill="#f5f4fa"/></g>
<g transform="translate(599.53 0)"><rect y="780.5" width="24" height="54.0" fill="#e4bdc0"/><rect y="834.3" width="24" height="140.9" fill="#dba3a3"/><rect y="974.9" width="24" height="67.0" fill="#e5c4c8"/><rect y="1041.8" width="24" height="58.4" fill="#e0ceda"/><rect y="1100.0" width="24" height="48.0" fill="#ada9d5"/><rect y="1147.8" width="24" height="105.7" fill="#605daf"/><rect y="1253.3" width="24" height="84.6" fill="#c3bcdc"/><rect y="1337.7" width="24" height="78.0" fill="#e3cdd5"/><rect y="783.5" width="24" height="3.0" fill="#fbf3f3"/><rect y="791.2" width="24" height="1.2" fill="#e6b9b9"/><rect y="798.5" width="24" height="2.0" fill="#a92f2f"/><rect y="805.9" width="24" height="2.5" fill="#dca1a1"/><rect y="813.1" width="24" height="2.0" fill="#bcbadf"/><rect y="819.8" width="24" height="2.5" fill="#6260b3"/><rect y="825.0" width="24" height="2.5" fill="#f5e4e4"/><rect y="832.7" width="24" height="2.0" fill="#edcccc"/><rect y="836.5" width="24" height="2.0" fill="#da9c9c"/><rect y="845.0" width="24" height="2.5" fill="#f4e0e0"/><rect y="849.6" width="24" height="1.5" fill="#c66e6e"/><rect y="854.8" width="24" height="1.2" fill="#e1adad"/><rect y="860.3" width="24" height="2.5" fill="#c16363"/><rect y="866.5" width="24" height="3.0" fill="#e1adad"/><rect y="874.7" width="24" height="2.0" fill="#fcf8f8"/><rect y="879.0" width="24" height="2.5" fill="#f9efef"/><rect y="888.5" width="24" height="1.2" fill="#aa3333"/><rect y="896.6" width="24" height="1.2" fill="#e9c0c0"/><rect y="901.2" width="24" height="2.5" fill="#f2dbdb"/><rect y="909.0" width="24" height="1.5" fill="#b24343"/><rect y="916.0" width="24" height="3.0" fill="#b64b4b"/><rect y="925.6" width="24" height="2.0" fill="#e0a9a9"/><rect y="933.3" width="24" height="2.5" fill="#e0aaaa"/><rect y="941.0" width="24" height="3.0" fill="#ce7e7e"/><rect y="948.9" width="24" height="1.2" fill="#f9efef"/><rect y="954.8" width="24" height="1.5" fill="#e2b0b0"/><rect y="958.4" width="24" height="1.2" fill="#fbf4f4"/><rect y="961.7" width="24" height="2.0" fill="#d38989"/><rect y="968.0" width="24" height="2.5" fill="#f8eaea"/><rect y="976.4" width="24" height="1.5" fill="#f5f5fa"/><rect y="980.0" width="24" height="1.2" fill="#d58e8e"/><rect y="985.5" width="24" height="2.0" fill="#efd3d3"/><rect y="993.5" width="24" height="2.0" fill="#a9a7d6"/><rect y="999.1" width="24" height="2.5" fill="#cbcae7"/><rect y="1004.0" width="24" height="3.0" fill="#b8b6dd"/><rect y="1009.9" width="24" height="3.0" fill="#e2b0b0"/><rect y="1017.6" width="24" height="1.2" fill="#f2f2f9"/><rect y="1025.4" width="24" height="2.0" fill="#5553ac"/><rect y="1031.0" width="24" height="1.2" fill="#d48d8d"/><rect y="1035.8" width="24" height="2.5" fill="#dda4a4"/><rect y="1045.0" width="24" height="1.5" fill="#b1afda"/><rect y="1051.7" width="24" height="2.5" fill="#e9c2c2"/><rect y="1058.2" width="24" height="1.5" fill="#d7d6ec"/><rect y="1063.4" width="24" height="1.2" fill="#fefdfd"/><rect y="1070.7" width="24" height="2.5" fill="#e9c1c1"/><rect y="1077.1" width="24" height="2.0" fill="#c66e6e"/><rect y="1080.7" width="24" height="1.2" fill="#7e7cc1"/><rect y="1087.7" width="24" height="1.5" fill="#f7eaea"/><rect y="1094.8" width="24" height="3.0" fill="#b8b6de"/><rect y="1104.4" width="24" height="1.2" fill="#f1f1f8"/><rect y="1110.1" width="24" height="2.5" fill="#918fca"/><rect y="1115.0" width="24" height="1.2" fill="#4f4da8"/><rect y="1121.3" width="24" height="3.0" fill="#8886c6"/><rect y="1127.6" width="24" height="1.2" fill="#ebc8c8"/><rect y="1133.0" width="24" height="1.5" fill="#a2a0d3"/><rect y="1140.1" width="24" height="2.5" fill="#382f94"/><rect y="1149.2" width="24" height="2.5" fill="#5250aa"/><rect y="1153.4" width="24" height="1.2" fill="#9795cd"/><rect y="1157.7" width="24" height="1.2" fill="#3f3da0"/><rect y="1161.7" width="24" height="1.2" fill="#807ec2"/><rect y="1169.0" width="24" height="1.2" fill="#6b69b8"/><rect y="1174.4" width="24" height="3.0" fill="#3b379b"/><rect y="1184.4" width="24" height="2.5" fill="#a5a3d5"/><rect y="1190.5" width="24" height="3.0" fill="#5e5cb1"/><rect y="1195.8" width="24" height="1.2" fill="#3a3499"/><rect y="1203.8" width="24" height="1.2" fill="#6e6cb9"/><rect y="1209.8" width="24" height="3.0" fill="#fcf6f6"/><rect y="1216.5" width="24" height="2.5" fill="#4a48a6"/><rect y="1225.4" width="24" height="1.5" fill="#a19fd3"/><rect y="1229.0" width="24" height="1.2" fill="#aaa8d7"/><rect y="1235.6" width="24" height="2.0" fill="#6967b7"/><rect y="1241.9" width="24" height="3.0" fill="#8583c5"/><rect y="1247.3" width="24" height="3.0" fill="#8b89c8"/><rect y="1253.1" width="24" height="1.2" fill="#382f94"/><rect y="1259.7" width="24" height="3.0" fill="#7d7bc1"/><rect y="1267.6" width="24" height="1.5" fill="#dfa7a7"/><rect y="1272.0" width="24" height="1.5" fill="#a19fd2"/><rect y="1277.6" width="24" height="1.5" fill="#9b99cf"/><rect y="1285.3" width="24" height="3.0" fill="#cfcee9"/><rect y="1292.2" width="24" height="2.5" fill="#d38989"/><rect y="1301.6" width="24" height="1.2" fill="#f7e9e9"/><rect y="1308.7" width="24" height="2.5" fill="#e4b6b6"/><rect y="1316.3" width="24" height="2.0" fill="#b1b0db"/><rect y="1323.5" width="24" height="3.0" fill="#f9eded"/><rect y="1332.1" width="24" height="2.0" fill="#f3dddd"/><rect y="1338.0" width="24" height="1.5" fill="#5f5db1"/><rect y="1346.2" width="24" height="2.0" fill="#b24343"/><rect y="1351.0" width="24" height="1.2" fill="#c97575"/><rect y="1355.7" width="24" height="3.0" fill="#afadd9"/><rect y="1360.5" width="24" height="3.0" fill="#7371bc"/><rect y="1366.9" width="24" height="3.0" fill="#c06060"/><rect y="1376.7" width="24" height="1.2" fill="#f2dcdc"/><rect y="1382.5" width="24" height="2.5" fill="#db9e9e"/><rect y="1389.3" width="24" height="2.5" fill="#e0abab"/><rect y="1394.3" width="24" height="3.0" fill="#b03f3f"/><rect y="1402.7" width="24" height="1.5" fill="#c87272"/><rect y="1407.8" width="24" height="1.5" fill="#c16262"/><rect y="1411.2" width="24" height="2.5" fill="#f9eeee"/></g>
<g transform="translate(625.90 0)"><rect y="780.5" width="24" height="18.8" fill="#dbcddd"/><rect y="799.1" width="24" height="35.4" fill="#ccc4dd"/><rect y="834.3" width="24" height="23.1" fill="#e3cdd5"/><rect y="857.1" width="24" height="205.9" fill="#d48e8f"/><rect y="1062.9" width="24" height="37.3" fill="#e2b5b7"/><rect y="1100.0" width="24" height="48.0" fill="#e3cdd5"/><rect y="1147.8" width="24" height="88.1" fill="#c3bcdc"/><rect y="1235.7" width="24" height="88.1" fill="#605daf"/><rect y="1323.6" width="24" height="92.1" fill="#b8b3d9"/><rect y="781.8" width="24" height="2.0" fill="#dfa9a9"/><rect y="785.9" width="24" height="3.0" fill="#393095"/><rect y="791.6" width="24" height="3.0" fill="#f7f6fb"/><rect y="801.2" width="24" height="2.5" fill="#c8c7e5"/><rect y="809.0" width="24" height="3.0" fill="#a5a3d5"/><rect y="815.3" width="24" height="3.0" fill="#f9eeee"/><rect y="821.9" width="24" height="3.0" fill="#8583c5"/><rect y="828.7" width="24" height="1.5" fill="#8e8cc9"/><rect y="832.6" width="24" height="3.0" fill="#d5d4eb"/><rect y="841.5" width="24" height="1.2" fill="#dca0a0"/><rect y="845.4" width="24" height="3.0" fill="#ecebf6"/><rect y="854.3" width="24" height="3.0" fill="#393196"/><rect y="860.7" width="24" height="3.0" fill="#b95252"/><rect y="867.7" width="24" height="1.2" fill="#d18585"/><rect y="871.4" width="24" height="1.5" fill="#ba5353"/><rect y="877.2" width="24" height="1.5" fill="#f3dcdc"/><rect y="881.5" width="24" height="2.0" fill="#c16363"/><rect y="888.6" width="24" height="2.5" fill="#b03f3f"/><rect y="897.1" width="24" height="1.5" fill="#d89797"/><rect y="905.1" width="24" height="3.0" fill="#ae3a3a"/><rect y="912.5" width="24" height="2.0" fill="#dda2a2"/><rect y="916.3" width="24" height="2.0" fill="#da9a9a"/><rect y="922.8" width="24" height="1.5" fill="#ecc8c8"/><rect y="929.1" width="24" height="1.2" fill="#c66d6d"/><rect y="936.1" width="24" height="3.0" fill="#d48b8b"/><rect y="940.9" width="24" height="2.5" fill="#c16262"/><rect y="945.4" width="24" height="2.5" fill="#dea5a5"/><rect y="951.6" width="24" height="3.0" fill="#f9efef"/><rect y="959.2" width="24" height="2.5" fill="#bb5656"/><rect y="967.4" width="24" height="1.5" fill="#c06161"/><rect y="973.9" width="24" height="3.0" fill="#d99898"/><rect y="978.7" width="24" height="2.5" fill="#e5b6b6"/><rect y="982.8" width="24" height="1.5" fill="#e6b9b9"/><rect y="988.9" width="24" height="2.5" fill="#d58d8d"/><rect y="996.0" width="24" height="2.5" fill="#ba5454"/><rect y="1002.2" width="24" height="1.2" fill="#cd7d7d"/><rect y="1006.5" width="24" height="1.5" fill="#d79595"/><rect y="1012.1" width="24" height="1.2" fill="#eccaca"/><rect y="1019.0" width="24" height="3.0" fill="#cd7d7d"/><rect y="1028.5" width="24" height="2.0" fill="#c26565"/><rect y="1037.4" width="24" height="2.5" fill="#d69191"/><rect y="1045.3" width="24" height="1.5" fill="#e5b6b6"/><rect y="1053.0" width="24" height="2.0" fill="#f0d5d5"/><rect y="1061.3" width="24" height="2.0" fill="#e6b9b9"/><rect y="1070.1" width="24" height="2.0" fill="#f9f9fc"/><rect y="1078.1" width="24" height="1.5" fill="#d79494"/><rect y="1081.7" width="24" height="3.0" fill="#e1e0f1"/><rect y="1088.7" width="24" height="1.2" fill="#fcf7f7"/><rect y="1091.9" width="24" height="2.5" fill="#e5b8b8"/><rect y="1099.6" width="24" height="3.0" fill="#f8ecec"/><rect y="1107.8" width="24" height="2.0" fill="#d38a8a"/><rect y="1114.1" width="24" height="1.2" fill="#fdf9f9"/><rect y="1120.1" width="24" height="1.5" fill="#b1afda"/><rect y="1127.7" width="24" height="1.2" fill="#f5e2e2"/><rect y="1131.3" width="24" height="1.2" fill="#f1d9d9"/><rect y="1135.9" width="24" height="1.5" fill="#c0bee1"/><rect y="1139.8" width="24" height="2.0" fill="#c0bfe2"/><rect y="1148.2" width="24" height="1.2" fill="#a7a5d6"/><rect y="1153.2" width="24" height="1.5" fill="#f0d5d5"/><rect y="1159.5" width="24" height="3.0" fill="#e8bebe"/><rect y="1165.1" width="24" height="2.0" fill="#9e9cd1"/><rect y="1172.0" width="24" height="1.2" fill="#8987c7"/><rect y="1178.6" width="24" height="3.0" fill="#f9f9fc"/><rect y="1185.9" width="24" height="1.5" fill="#efd2d2"/><rect y="1194.2" width="24" height="2.5" fill="#e9c1c1"/><rect y="1203.2" width="24" height="2.0" fill="#efd1d1"/><rect y="1207.7" width="24" height="3.0" fill="#9a98cf"/><rect y="1214.4" width="24" height="2.0" fill="#e3b2b2"/><rect y="1219.8" width="24" height="2.0" fill="#e9c2c2"/><rect y="1224.1" width="24" height="2.5" fill="#6361b3"/><rect y="1229.2" width="24" height="2.5" fill="#edcccc"/><rect y="1233.9" width="24" height="1.5" fill="#f7e9e9"/><rect y="1238.3" width="24" height="2.0" fill="#9c9ad0"/><rect y="1245.9" width="24" height="2.0" fill="#36288e"/><rect y="1250.5" width="24" height="1.5" fill="#393398"/><rect y="1257.6" width="24" height="3.0" fill="#34248a"/><rect y="1266.9" width="24" height="1.2" fill="#6d6bb8"/><rect y="1271.0" width="24" height="3.0" fill="#393297"/><rect y="1278.5" width="24" height="1.5" fill="#adabd9"/><rect y="1284.6" width="24" height="1.2" fill="#b8b6de"/><rect y="1291.6" width="24" height="1.2" fill="#5351ab"/><rect y="1295.7" width="24" height="1.2" fill="#382f94"/><rect y="1303.7" width="24" height="1.2" fill="#3c3a9e"/><rect y="1310.5" width="24" height="1.2" fill="#4240a1"/><rect y="1314.1" width="24" height="1.5" fill="#817fc3"/><rect y="1321.6" width="24" height="3.0" fill="#dedef0"/><rect y="1326.4" width="24" height="3.0" fill="#f1d7d7"/><rect y="1333.7" width="24" height="1.2" fill="#4745a4"/><rect y="1340.2" width="24" height="2.5" fill="#c5c4e4"/><rect y="1349.0" width="24" height="3.0" fill="#9593cd"/><rect y="1358.8" width="24" height="1.5" fill="#5b59af"/><rect y="1364.2" width="24" height="1.2" fill="#3a359a"/><rect y="1371.9" width="24" height="3.0" fill="#7876be"/><rect y="1376.5" width="24" height="2.5" fill="#7e7cc1"/><rect y="1382.4" width="24" height="2.5" fill="#5d5bb0"/><rect y="1390.0" width="24" height="2.5" fill="#bdbce0"/><rect y="1394.4" width="24" height="3.0" fill="#7977bf"/><rect y="1399.0" width="24" height="1.5" fill="#ebc7c7"/><rect y="1404.6" width="24" height="2.5" fill="#fbf4f4"/><rect y="1411.2" width="24" height="1.5" fill="#4b49a6"/></g>
<g transform="translate(652.27 0)"><rect y="780.5" width="24" height="18.8" fill="#dbcddd"/><rect y="799.1" width="24" height="35.4" fill="#c3bcdc"/><rect y="834.3" width="24" height="40.6" fill="#e5c4c8"/><rect y="874.7" width="24" height="225.5" fill="#d89999"/><rect y="1100.0" width="24" height="48.0" fill="#e3cdd5"/><rect y="1147.8" width="24" height="79.3" fill="#ccc4dd"/><rect y="1226.9" width="24" height="96.9" fill="#5854aa"/><rect y="1323.6" width="24" height="92.1" fill="#b8b3d9"/><rect y="785.5" width="24" height="1.5" fill="#4a48a6"/><rect y="792.1" width="24" height="1.2" fill="#db9e9e"/><rect y="795.8" width="24" height="3.0" fill="#d2d1ea"/><rect y="804.2" width="24" height="2.5" fill="#a9a7d7"/><rect y="808.3" width="24" height="1.5" fill="#fefbfb"/><rect y="815.8" width="24" height="2.0" fill="#3c3a9e"/><rect y="820.4" width="24" height="2.5" fill="#e9e8f5"/><rect y="824.8" width="24" height="2.0" fill="#b8b6dd"/><rect y="833.7" width="24" height="2.0" fill="#9492cc"/><rect y="840.5" width="24" height="2.0" fill="#9896ce"/><rect y="846.4" width="24" height="3.0" fill="#b54949"/><rect y="855.2" width="24" height="3.0" fill="#f1d7d7"/><rect y="862.8" width="24" height="1.2" fill="#c6c4e4"/><rect y="869.9" width="24" height="2.5" fill="#fdf9f9"/><rect y="874.4" width="24" height="2.5" fill="#dfa9a9"/><rect y="882.5" width="24" height="1.5" fill="#c87171"/><rect y="889.9" width="24" height="3.0" fill="#f9eeee"/><rect y="898.8" width="24" height="2.0" fill="#bd5a5a"/><rect y="904.1" width="24" height="1.2" fill="#f2d9d9"/><rect y="911.1" width="24" height="2.5" fill="#e3b2b2"/><rect y="917.0" width="24" height="1.2" fill="#ae3c3c"/><rect y="920.1" width="24" height="2.0" fill="#b85050"/><rect y="927.5" width="24" height="1.5" fill="#cd7c7c"/><rect y="931.2" width="24" height="3.0" fill="#f0d5d5"/><rect y="940.4" width="24" height="3.0" fill="#c05f5f"/><rect y="949.5" width="24" height="2.5" fill="#c06161"/><rect y="956.3" width="24" height="1.2" fill="#f3dede"/><rect y="962.2" width="24" height="3.0" fill="#ca7676"/><rect y="969.4" width="24" height="3.0" fill="#fbfbfd"/><rect y="979.0" width="24" height="2.5" fill="#da9c9c"/><rect y="985.6" width="24" height="1.5" fill="#f1d8d8"/><rect y="989.3" width="24" height="2.0" fill="#e8c0c0"/><rect y="996.9" width="24" height="2.5" fill="#a52828"/><rect y="1001.8" width="24" height="2.0" fill="#dca1a1"/><rect y="1010.2" width="24" height="2.0" fill="#b74e4e"/><rect y="1014.7" width="24" height="1.2" fill="#ac3737"/><rect y="1021.0" width="24" height="1.5" fill="#fefdfd"/><rect y="1028.2" width="24" height="2.0" fill="#bf5e5e"/><rect y="1033.6" width="24" height="1.5" fill="#cf8181"/><rect y="1038.9" width="24" height="1.2" fill="#e7bcbc"/><rect y="1045.8" width="24" height="1.5" fill="#cf8181"/><rect y="1049.4" width="24" height="3.0" fill="#c76f6f"/><rect y="1057.7" width="24" height="2.5" fill="#f0d6d6"/><rect y="1062.6" width="24" height="3.0" fill="#e8bfbf"/><rect y="1067.2" width="24" height="3.0" fill="#fcf6f6"/><rect y="1076.9" width="24" height="1.5" fill="#ca7676"/><rect y="1085.1" width="24" height="2.5" fill="#c06060"/><rect y="1092.2" width="24" height="3.0" fill="#f8ebeb"/><rect y="1100.2" width="24" height="1.2" fill="#aba9d7"/><rect y="1104.5" width="24" height="3.0" fill="#f7e9e9"/><rect y="1113.2" width="24" height="2.0" fill="#d58e8e"/><rect y="1117.4" width="24" height="3.0" fill="#ebc6c6"/><rect y="1124.3" width="24" height="1.2" fill="#a52828"/><rect y="1128.9" width="24" height="2.0" fill="#d28989"/><rect y="1133.7" width="24" height="2.0" fill="#cc7a7a"/><rect y="1141.4" width="24" height="1.2" fill="#fdf9f9"/><rect y="1145.4" width="24" height="2.5" fill="#4644a4"/><rect y="1151.7" width="24" height="2.5" fill="#fbf3f3"/><rect y="1156.9" width="24" height="3.0" fill="#5b59af"/><rect y="1163.6" width="24" height="1.5" fill="#5351ab"/><rect y="1167.7" width="24" height="3.0" fill="#e5b8b8"/><rect y="1174.7" width="24" height="2.0" fill="#e1aeae"/><rect y="1180.1" width="24" height="1.2" fill="#d6d5ec"/><rect y="1184.6" width="24" height="2.0" fill="#a52828"/><rect y="1188.2" width="24" height="2.0" fill="#817fc2"/><rect y="1193.5" width="24" height="1.2" fill="#fcf7f7"/><rect y="1200.1" width="24" height="1.2" fill="#cccbe7"/><rect y="1208.0" width="24" height="1.5" fill="#e1aeae"/><rect y="1215.6" width="24" height="2.0" fill="#faf0f0"/><rect y="1219.1" width="24" height="3.0" fill="#6b69b7"/><rect y="1227.5" width="24" height="1.5" fill="#514faa"/><rect y="1235.8" width="24" height="1.5" fill="#6361b4"/><rect y="1243.5" width="24" height="1.5" fill="#403ea0"/><rect y="1246.7" width="24" height="2.0" fill="#34248a"/><rect y="1251.0" width="24" height="1.2" fill="#34248a"/><rect y="1257.0" width="24" height="1.2" fill="#5f5db1"/><rect y="1264.9" width="24" height="1.2" fill="#4947a5"/><rect y="1268.6" width="24" height="1.2" fill="#3c399d"/><rect y="1273.4" width="24" height="3.0" fill="#5654ac"/><rect y="1280.1" width="24" height="1.5" fill="#7977bf"/><rect y="1286.3" width="24" height="2.0" fill="#3d3b9f"/><rect y="1291.1" width="24" height="1.2" fill="#d0cfe9"/><rect y="1297.8" width="24" height="2.5" fill="#a19fd3"/><rect y="1303.8" width="24" height="3.0" fill="#bcbbe0"/><rect y="1311.2" width="24" height="2.0" fill="#8381c3"/><rect y="1315.2" width="24" height="2.5" fill="#3a3398"/><rect y="1324.0" width="24" height="3.0" fill="#8987c7"/><rect y="1330.2" width="24" height="2.0" fill="#fdf9f9"/><rect y="1335.8" width="24" height="3.0" fill="#9f9dd2"/><rect y="1340.9" width="24" height="3.0" fill="#fefefe"/><rect y="1346.2" width="24" height="1.5" fill="#9694cd"/><rect y="1354.3" width="24" height="2.0" fill="#5856ad"/><rect y="1360.6" width="24" height="3.0" fill="#fefdfd"/><rect y="1367.1" width="24" height="2.0" fill="#403ea0"/><rect y="1373.0" width="24" height="1.2" fill="#5a58ae"/><rect y="1378.9" width="24" height="1.2" fill="#e1e1f1"/><rect y="1383.2" width="24" height="3.0" fill="#d1d0ea"/><rect y="1389.0" width="24" height="2.5" fill="#eae9f5"/><rect y="1395.1" width="24" height="2.0" fill="#edcccc"/><rect y="1402.2" width="24" height="1.5" fill="#dfa8a8"/><rect y="1409.7" width="24" height="2.5" fill="#fdf9f9"/></g>
<rect x="98.5" y="780.5" width="580.1" height="635.0" fill="url(#stL)"/>
<g transform="translate(697.70 0)"><rect y="783.4" width="24" height="93.3" fill="#dba3a3"/><rect y="876.5" width="24" height="28.3" fill="#e4c1c4"/><rect y="904.6" width="24" height="49.4" fill="#e4cbd2"/><rect y="953.8" width="24" height="44.2" fill="#ada9d5"/><rect y="997.8" width="24" height="68.8" fill="#e4c9cf"/><rect y="1066.4" width="24" height="33.8" fill="#b8b3d9"/><rect y="1100.0" width="24" height="171.1" fill="#8987c5"/><rect y="1270.8" width="24" height="67.0" fill="#e4c9cf"/><rect y="1337.7" width="24" height="28.3" fill="#6966b4"/><rect y="1365.8" width="24" height="51.4" fill="#e4bdc0"/><rect y="789.1" width="24" height="1.2" fill="#c87272"/><rect y="792.8" width="24" height="2.0" fill="#cf8282"/><rect y="797.6" width="24" height="1.5" fill="#f7e9e9"/><rect y="801.5" width="24" height="2.5" fill="#f2dada"/><rect y="809.0" width="24" height="3.0" fill="#be5c5c"/><rect y="816.0" width="24" height="2.0" fill="#e7bcbc"/><rect y="824.4" width="24" height="1.2" fill="#efeef7"/><rect y="832.1" width="24" height="2.5" fill="#ad3a3a"/><rect y="841.0" width="24" height="3.0" fill="#d48d8d"/><rect y="846.8" width="24" height="1.5" fill="#cf8181"/><rect y="851.6" width="24" height="1.5" fill="#f5e2e2"/><rect y="857.4" width="24" height="3.0" fill="#dea6a6"/><rect y="862.9" width="24" height="2.5" fill="#d18484"/><rect y="871.9" width="24" height="2.0" fill="#ebebf6"/><rect y="879.7" width="24" height="2.0" fill="#aba9d8"/><rect y="885.7" width="24" height="2.5" fill="#ba5454"/><rect y="893.6" width="24" height="2.5" fill="#f9f0f0"/><rect y="899.2" width="24" height="2.5" fill="#fcfcfe"/><rect y="905.9" width="24" height="2.0" fill="#d8d7ed"/><rect y="914.4" width="24" height="2.0" fill="#a7a5d6"/><rect y="921.0" width="24" height="3.0" fill="#fbf4f4"/><rect y="926.7" width="24" height="2.0" fill="#908eca"/><rect y="934.7" width="24" height="1.5" fill="#d18484"/><rect y="942.0" width="24" height="2.5" fill="#a4a2d4"/><rect y="947.7" width="24" height="3.0" fill="#9593cc"/><rect y="955.6" width="24" height="2.5" fill="#7f7dc2"/><rect y="961.3" width="24" height="1.5" fill="#5755ad"/><rect y="968.0" width="24" height="1.2" fill="#b4b2dc"/><rect y="975.0" width="24" height="2.0" fill="#8c8ac8"/><rect y="979.6" width="24" height="1.2" fill="#34248a"/><rect y="982.6" width="24" height="1.2" fill="#a2a0d3"/><rect y="990.1" width="24" height="1.2" fill="#fefdfd"/><rect y="997.0" width="24" height="1.5" fill="#e3e2f2"/><rect y="1001.1" width="24" height="1.2" fill="#e0e0f1"/><rect y="1006.2" width="24" height="1.2" fill="#d38a8a"/><rect y="1010.2" width="24" height="1.2" fill="#e7bcbc"/><rect y="1013.4" width="24" height="1.2" fill="#b95151"/><rect y="1016.2" width="24" height="2.0" fill="#eac3c3"/><rect y="1020.4" width="24" height="1.5" fill="#f6e7e7"/><rect y="1023.4" width="24" height="3.0" fill="#9391cb"/><rect y="1028.2" width="24" height="1.5" fill="#edcccc"/><rect y="1033.1" width="24" height="3.0" fill="#ebc6c6"/><rect y="1041.0" width="24" height="1.2" fill="#fbf5f5"/><rect y="1045.4" width="24" height="3.0" fill="#ca7777"/><rect y="1054.1" width="24" height="1.2" fill="#c26464"/><rect y="1061.6" width="24" height="1.5" fill="#aeacd9"/><rect y="1067.2" width="24" height="1.5" fill="#e7bbbb"/><rect y="1074.8" width="24" height="1.2" fill="#f4e1e1"/><rect y="1079.9" width="24" height="1.5" fill="#383095"/><rect y="1085.6" width="24" height="2.0" fill="#a5a3d4"/><rect y="1089.9" width="24" height="2.0" fill="#b3b1db"/><rect y="1095.7" width="24" height="1.2" fill="#e3b3b3"/><rect y="1102.3" width="24" height="1.5" fill="#6765b5"/><rect y="1106.0" width="24" height="1.5" fill="#5755ad"/><rect y="1109.5" width="24" height="1.5" fill="#34248a"/><rect y="1117.6" width="24" height="1.5" fill="#7775be"/><rect y="1121.9" width="24" height="2.5" fill="#a19fd2"/><rect y="1127.2" width="24" height="3.0" fill="#9290cb"/><rect y="1135.6" width="24" height="2.0" fill="#6967b7"/><rect y="1143.2" width="24" height="1.5" fill="#5351ab"/><rect y="1146.4" width="24" height="2.5" fill="#b9b7de"/><rect y="1150.9" width="24" height="1.2" fill="#ddddef"/><rect y="1154.1" width="24" height="1.5" fill="#8381c4"/><rect y="1157.3" width="24" height="2.5" fill="#615fb2"/><rect y="1163.8" width="24" height="3.0" fill="#6361b3"/><rect y="1173.3" width="24" height="1.5" fill="#5e5cb0"/><rect y="1180.3" width="24" height="2.5" fill="#7472bc"/><rect y="1187.5" width="24" height="2.5" fill="#8b89c7"/><rect y="1196.6" width="24" height="3.0" fill="#9290cb"/><rect y="1205.5" width="24" height="2.0" fill="#a4a2d4"/><rect y="1209.2" width="24" height="1.2" fill="#5957ae"/><rect y="1217.3" width="24" height="2.0" fill="#5e5cb1"/><rect y="1222.5" width="24" height="2.5" fill="#bebce0"/><rect y="1231.1" width="24" height="1.2" fill="#acaad8"/><rect y="1238.2" width="24" height="1.2" fill="#4745a4"/><rect y="1242.1" width="24" height="3.0" fill="#b6b5dd"/><rect y="1250.0" width="24" height="1.2" fill="#7371bb"/><rect y="1257.8" width="24" height="1.2" fill="#d7d6ec"/><rect y="1261.7" width="24" height="2.5" fill="#a8a6d6"/><rect y="1267.9" width="24" height="2.5" fill="#f1f1f9"/><rect y="1272.6" width="24" height="2.0" fill="#fafafd"/><rect y="1276.8" width="24" height="1.2" fill="#e8bebe"/><rect y="1282.9" width="24" height="2.0" fill="#6765b6"/><rect y="1290.2" width="24" height="1.2" fill="#4e4ca8"/><rect y="1296.3" width="24" height="2.5" fill="#e9c1c1"/><rect y="1303.0" width="24" height="2.0" fill="#6a68b7"/><rect y="1311.8" width="24" height="1.5" fill="#eac5c5"/><rect y="1317.7" width="24" height="2.5" fill="#cbc9e6"/><rect y="1325.7" width="24" height="2.5" fill="#b34646"/><rect y="1331.3" width="24" height="1.5" fill="#c6c5e4"/><rect y="1335.2" width="24" height="3.0" fill="#f5e2e2"/><rect y="1343.4" width="24" height="1.2" fill="#a2a0d3"/><rect y="1349.3" width="24" height="3.0" fill="#8f8dc9"/><rect y="1359.3" width="24" height="1.5" fill="#7f7dc1"/><rect y="1366.7" width="24" height="1.2" fill="#d58e8e"/><rect y="1373.2" width="24" height="1.2" fill="#6664b5"/><rect y="1376.6" width="24" height="2.0" fill="#c0bee1"/><rect y="1385.0" width="24" height="2.0" fill="#ca7777"/><rect y="1390.9" width="24" height="3.0" fill="#eecfcf"/><rect y="1400.8" width="24" height="2.5" fill="#d89696"/><rect y="1405.3" width="24" height="3.0" fill="#eac3c3"/><rect y="1410.8" width="24" height="1.5" fill="#c46868"/></g>
<g transform="translate(724.10 0)"><rect y="783.4" width="24" height="86.2" fill="#dfacad"/><rect y="869.4" width="24" height="77.6" fill="#e5c7cc"/><rect y="946.8" width="24" height="51.2" fill="#ada9d5"/><rect y="997.8" width="24" height="68.8" fill="#e5c4c8"/><rect y="1066.4" width="24" height="33.8" fill="#c3bcdc"/><rect y="1100.0" width="24" height="171.1" fill="#a19ed0"/><rect y="1270.8" width="24" height="67.0" fill="#dbcddd"/><rect y="1337.7" width="24" height="28.3" fill="#5854aa"/><rect y="1365.8" width="24" height="51.4" fill="#e4c9cf"/><rect y="787.6" width="24" height="2.5" fill="#cf8080"/><rect y="795.8" width="24" height="1.5" fill="#f3dede"/><rect y="801.4" width="24" height="1.2" fill="#d79494"/><rect y="808.1" width="24" height="2.5" fill="#faf1f1"/><rect y="814.9" width="24" height="2.5" fill="#e4b6b6"/><rect y="823.0" width="24" height="2.5" fill="#cc7b7b"/><rect y="830.8" width="24" height="2.5" fill="#f7e9e9"/><rect y="838.8" width="24" height="1.2" fill="#c66e6e"/><rect y="845.7" width="24" height="1.5" fill="#f2dcdc"/><rect y="853.2" width="24" height="2.5" fill="#e5b7b7"/><rect y="862.5" width="24" height="1.2" fill="#eed0d0"/><rect y="870.2" width="24" height="2.5" fill="#c97575"/><rect y="877.8" width="24" height="1.2" fill="#a52828"/><rect y="884.5" width="24" height="3.0" fill="#e8bebe"/><rect y="891.1" width="24" height="1.5" fill="#e5b6b6"/><rect y="898.6" width="24" height="1.5" fill="#faf2f2"/><rect y="903.1" width="24" height="3.0" fill="#b3b2dc"/><rect y="911.0" width="24" height="1.2" fill="#efeff8"/><rect y="917.1" width="24" height="2.5" fill="#9f9dd2"/><rect y="922.0" width="24" height="1.5" fill="#ecc9c9"/><rect y="930.4" width="24" height="1.2" fill="#9694cd"/><rect y="936.0" width="24" height="1.2" fill="#b24343"/><rect y="942.8" width="24" height="2.5" fill="#a82e2e"/><rect y="949.4" width="24" height="3.0" fill="#5250aa"/><rect y="956.4" width="24" height="1.2" fill="#6765b6"/><rect y="963.3" width="24" height="2.5" fill="#706eba"/><rect y="968.7" width="24" height="1.5" fill="#f2dbdb"/><rect y="977.1" width="24" height="2.0" fill="#dbdaee"/><rect y="981.5" width="24" height="2.0" fill="#34248a"/><rect y="987.0" width="24" height="3.0" fill="#5957ae"/><rect y="996.2" width="24" height="3.0" fill="#362a8f"/><rect y="1002.4" width="24" height="1.5" fill="#d69292"/><rect y="1008.0" width="24" height="3.0" fill="#f5e2e2"/><rect y="1014.0" width="24" height="2.0" fill="#d8d7ed"/><rect y="1019.1" width="24" height="2.0" fill="#f9f8fc"/><rect y="1027.3" width="24" height="1.2" fill="#d8d8ed"/><rect y="1032.8" width="24" height="1.5" fill="#c8c6e5"/><rect y="1040.4" width="24" height="3.0" fill="#d48c8c"/><rect y="1048.4" width="24" height="2.0" fill="#a52828"/><rect y="1055.0" width="24" height="3.0" fill="#d99a9a"/><rect y="1061.0" width="24" height="1.2" fill="#bf5d5d"/><rect y="1065.8" width="24" height="2.0" fill="#c66d6d"/><rect y="1070.5" width="24" height="2.0" fill="#eac4c4"/><rect y="1074.9" width="24" height="2.5" fill="#faf1f1"/><rect y="1083.7" width="24" height="2.5" fill="#cd7e7e"/><rect y="1090.1" width="24" height="1.5" fill="#4240a1"/><rect y="1098.2" width="24" height="2.0" fill="#e5b6b6"/><rect y="1104.3" width="24" height="2.0" fill="#e6b9b9"/><rect y="1108.8" width="24" height="1.5" fill="#b2b1db"/><rect y="1116.3" width="24" height="2.5" fill="#615fb2"/><rect y="1122.5" width="24" height="2.0" fill="#8280c3"/><rect y="1129.2" width="24" height="3.0" fill="#ebc8c8"/><rect y="1137.5" width="24" height="2.0" fill="#9795ce"/><rect y="1145.8" width="24" height="2.0" fill="#383095"/><rect y="1152.2" width="24" height="1.2" fill="#6361b3"/><rect y="1155.9" width="24" height="2.0" fill="#efeff8"/><rect y="1161.8" width="24" height="1.2" fill="#d4d3eb"/><rect y="1169.8" width="24" height="1.5" fill="#7a78bf"/><rect y="1178.1" width="24" height="1.2" fill="#6b69b7"/><rect y="1185.9" width="24" height="2.5" fill="#f1f1f9"/><rect y="1189.9" width="24" height="2.0" fill="#adabd9"/><rect y="1195.6" width="24" height="2.0" fill="#e2afaf"/><rect y="1201.6" width="24" height="1.5" fill="#7775bd"/><rect y="1207.4" width="24" height="1.5" fill="#d6d5ec"/><rect y="1214.7" width="24" height="2.0" fill="#9e9cd1"/><rect y="1219.6" width="24" height="2.0" fill="#faf2f2"/><rect y="1224.1" width="24" height="1.5" fill="#9a98cf"/><rect y="1232.3" width="24" height="3.0" fill="#8280c3"/><rect y="1237.1" width="24" height="1.5" fill="#adabd9"/><rect y="1242.5" width="24" height="2.0" fill="#c0bee1"/><rect y="1246.8" width="24" height="3.0" fill="#7674bd"/><rect y="1254.8" width="24" height="3.0" fill="#8987c7"/><rect y="1264.6" width="24" height="1.5" fill="#fcf6f6"/><rect y="1270.2" width="24" height="3.0" fill="#9d9bd0"/><rect y="1279.5" width="24" height="3.0" fill="#e2b1b1"/><rect y="1287.2" width="24" height="3.0" fill="#605eb2"/><rect y="1295.4" width="24" height="2.5" fill="#ae3b3b"/><rect y="1301.9" width="24" height="2.5" fill="#eae9f5"/><rect y="1308.0" width="24" height="2.5" fill="#edcccc"/><rect y="1317.5" width="24" height="1.5" fill="#faf0f0"/><rect y="1321.1" width="24" height="3.0" fill="#f1d8d8"/><rect y="1327.3" width="24" height="1.2" fill="#dfdef0"/><rect y="1331.4" width="24" height="2.0" fill="#fdfafa"/><rect y="1337.3" width="24" height="1.2" fill="#f6e6e6"/><rect y="1341.8" width="24" height="2.5" fill="#d0cfe9"/><rect y="1347.1" width="24" height="2.5" fill="#6c6ab8"/><rect y="1351.9" width="24" height="1.2" fill="#7371bb"/><rect y="1354.9" width="24" height="1.5" fill="#7d7bc0"/><rect y="1360.9" width="24" height="1.2" fill="#6563b4"/><rect y="1367.4" width="24" height="1.5" fill="#a09ed2"/><rect y="1371.2" width="24" height="2.5" fill="#c66e6e"/><rect y="1376.5" width="24" height="2.5" fill="#f2dada"/><rect y="1381.7" width="24" height="1.2" fill="#a5a3d4"/><rect y="1386.2" width="24" height="2.5" fill="#b2b0db"/><rect y="1395.2" width="24" height="3.0" fill="#3c399d"/><rect y="1400.6" width="24" height="1.2" fill="#f6e5e5"/><rect y="1407.9" width="24" height="1.5" fill="#f0f0f8"/><rect y="1413.0" width="24" height="2.0" fill="#eeeef7"/></g>
<g transform="translate(750.50 0)"><rect y="783.4" width="24" height="52.8" fill="#d48e8f"/><rect y="836.0" width="24" height="33.6" fill="#e2b5b7"/><rect y="869.4" width="24" height="81.1" fill="#dbcddd"/><rect y="950.3" width="24" height="116.3" fill="#a19ed0"/><rect y="1066.4" width="24" height="33.8" fill="#463e9d"/><rect y="1100.0" width="24" height="146.5" fill="#4b45a1"/><rect y="1246.2" width="24" height="116.3" fill="#e2b5b7"/><rect y="1362.3" width="24" height="54.9" fill="#cf8484"/><rect y="784.3" width="24" height="1.5" fill="#f3dede"/><rect y="791.7" width="24" height="3.0" fill="#bc5858"/><rect y="796.8" width="24" height="2.0" fill="#dca0a0"/><rect y="805.7" width="24" height="1.5" fill="#ad3a3a"/><rect y="811.0" width="24" height="1.5" fill="#dea6a6"/><rect y="814.2" width="24" height="3.0" fill="#f2dbdb"/><rect y="822.8" width="24" height="1.5" fill="#ca7676"/><rect y="829.4" width="24" height="1.2" fill="#b85050"/><rect y="836.2" width="24" height="2.5" fill="#b0aeda"/><rect y="844.9" width="24" height="1.5" fill="#f1d9d9"/><rect y="852.5" width="24" height="3.0" fill="#f7e7e7"/><rect y="862.5" width="24" height="1.5" fill="#bb5656"/><rect y="869.0" width="24" height="3.0" fill="#b95252"/><rect y="874.0" width="24" height="2.5" fill="#8381c3"/><rect y="881.4" width="24" height="1.5" fill="#ecc9c9"/><rect y="888.9" width="24" height="3.0" fill="#e1adad"/><rect y="896.6" width="24" height="2.5" fill="#ce7f7f"/><rect y="900.8" width="24" height="2.0" fill="#7d7bc1"/><rect y="907.9" width="24" height="1.2" fill="#6765b5"/><rect y="915.8" width="24" height="1.2" fill="#5957ae"/><rect y="919.7" width="24" height="2.0" fill="#edecf6"/><rect y="926.4" width="24" height="1.5" fill="#bd5959"/><rect y="931.8" width="24" height="1.5" fill="#a19fd2"/><rect y="937.2" width="24" height="2.5" fill="#3b379b"/><rect y="946.6" width="24" height="2.5" fill="#8e8cc9"/><rect y="951.6" width="24" height="2.5" fill="#aaa8d7"/><rect y="958.1" width="24" height="2.5" fill="#d8d7ed"/><rect y="962.5" width="24" height="2.0" fill="#5f5db1"/><rect y="969.3" width="24" height="2.5" fill="#b6b5dd"/><rect y="976.9" width="24" height="1.5" fill="#f1d9d9"/><rect y="983.7" width="24" height="2.0" fill="#fbfafd"/><rect y="991.7" width="24" height="1.2" fill="#5553ac"/><rect y="994.5" width="24" height="1.2" fill="#bbb9df"/><rect y="998.9" width="24" height="2.0" fill="#f8f8fc"/><rect y="1006.8" width="24" height="2.0" fill="#afadd9"/><rect y="1012.9" width="24" height="1.2" fill="#7e7cc1"/><rect y="1017.1" width="24" height="3.0" fill="#c7c6e5"/><rect y="1025.0" width="24" height="2.5" fill="#cbcae7"/><rect y="1032.9" width="24" height="3.0" fill="#5d5bb0"/><rect y="1037.9" width="24" height="2.5" fill="#b9b7de"/><rect y="1046.3" width="24" height="1.5" fill="#d3d2ea"/><rect y="1054.6" width="24" height="1.5" fill="#e9e8f5"/><rect y="1058.7" width="24" height="2.0" fill="#3d3b9f"/><rect y="1065.1" width="24" height="1.5" fill="#5957ae"/><rect y="1071.6" width="24" height="3.0" fill="#7472bc"/><rect y="1076.9" width="24" height="3.0" fill="#4c4aa7"/><rect y="1085.4" width="24" height="2.5" fill="#5755ad"/><rect y="1091.6" width="24" height="2.5" fill="#5452ab"/><rect y="1097.2" width="24" height="1.5" fill="#3c3a9e"/><rect y="1104.7" width="24" height="1.2" fill="#7775bd"/><rect y="1110.7" width="24" height="3.0" fill="#3b379b"/><rect y="1119.1" width="24" height="2.5" fill="#3a3398"/><rect y="1124.3" width="24" height="2.0" fill="#6664b5"/><rect y="1130.7" width="24" height="2.5" fill="#5b59af"/><rect y="1137.9" width="24" height="2.5" fill="#3b389d"/><rect y="1142.0" width="24" height="2.5" fill="#362b90"/><rect y="1146.3" width="24" height="1.5" fill="#4543a3"/><rect y="1149.5" width="24" height="1.5" fill="#5b59af"/><rect y="1156.1" width="24" height="1.2" fill="#36298e"/><rect y="1162.5" width="24" height="1.5" fill="#34258b"/><rect y="1167.9" width="24" height="1.5" fill="#7472bc"/><rect y="1172.4" width="24" height="1.2" fill="#4745a4"/><rect y="1180.3" width="24" height="2.0" fill="#4240a1"/><rect y="1184.3" width="24" height="2.0" fill="#34248a"/><rect y="1188.4" width="24" height="2.0" fill="#34248a"/><rect y="1195.4" width="24" height="2.5" fill="#a19fd2"/><rect y="1204.3" width="24" height="3.0" fill="#383095"/><rect y="1209.1" width="24" height="2.5" fill="#393397"/><rect y="1217.7" width="24" height="1.2" fill="#34248a"/><rect y="1223.3" width="24" height="1.2" fill="#bdbbe0"/><rect y="1230.8" width="24" height="1.2" fill="#393095"/><rect y="1237.7" width="24" height="2.5" fill="#34248a"/><rect y="1244.0" width="24" height="1.5" fill="#4341a2"/><rect y="1250.3" width="24" height="2.0" fill="#dea5a5"/><rect y="1257.5" width="24" height="2.0" fill="#a72c2c"/><rect y="1266.3" width="24" height="3.0" fill="#dea6a6"/><rect y="1275.1" width="24" height="1.5" fill="#9c9ad0"/><rect y="1278.7" width="24" height="3.0" fill="#c06060"/><rect y="1288.3" width="24" height="1.5" fill="#e4b4b4"/><rect y="1291.3" width="24" height="2.5" fill="#d28888"/><rect y="1295.7" width="24" height="2.0" fill="#f7eaea"/><rect y="1302.1" width="24" height="3.0" fill="#f0d4d4"/><rect y="1311.7" width="24" height="2.5" fill="#d89797"/><rect y="1318.0" width="24" height="2.5" fill="#edcdcd"/><rect y="1326.1" width="24" height="1.2" fill="#bf5f5f"/><rect y="1331.6" width="24" height="2.5" fill="#ecc9c9"/><rect y="1340.8" width="24" height="3.0" fill="#b14141"/><rect y="1348.9" width="24" height="1.5" fill="#f5e4e4"/><rect y="1354.6" width="24" height="1.5" fill="#dc9f9f"/><rect y="1359.0" width="24" height="1.5" fill="#f3dcdc"/><rect y="1367.4" width="24" height="2.5" fill="#dfa7a7"/><rect y="1373.8" width="24" height="2.5" fill="#d79393"/><rect y="1378.8" width="24" height="2.5" fill="#d18787"/><rect y="1387.0" width="24" height="1.2" fill="#c06161"/><rect y="1394.2" width="24" height="3.0" fill="#c46868"/><rect y="1403.8" width="24" height="1.2" fill="#e4b3b3"/><rect y="1411.9" width="24" height="3.0" fill="#e1acac"/></g>
<g transform="translate(776.90 0)"><rect y="783.4" width="24" height="52.8" fill="#d89999"/><rect y="836.0" width="24" height="54.7" fill="#e2b5b7"/><rect y="890.5" width="24" height="63.5" fill="#d4cade"/><rect y="953.8" width="24" height="112.7" fill="#b8b3d9"/><rect y="1066.4" width="24" height="33.8" fill="#605daf"/><rect y="1100.0" width="24" height="146.5" fill="#5854aa"/><rect y="1246.2" width="24" height="116.3" fill="#e5c4c8"/><rect y="1362.3" width="24" height="54.9" fill="#d89999"/><rect y="786.2" width="24" height="2.5" fill="#d69090"/><rect y="792.2" width="24" height="3.0" fill="#faf1f1"/><rect y="799.8" width="24" height="3.0" fill="#d08383"/><rect y="805.1" width="24" height="2.0" fill="#b04040"/><rect y="811.0" width="24" height="3.0" fill="#e4b5b5"/><rect y="819.2" width="24" height="1.5" fill="#d99999"/><rect y="827.5" width="24" height="1.2" fill="#fbf2f2"/><rect y="832.6" width="24" height="2.5" fill="#ebc7c7"/><rect y="841.9" width="24" height="2.5" fill="#fcf6f6"/><rect y="848.4" width="24" height="2.0" fill="#c56b6b"/><rect y="852.8" width="24" height="1.5" fill="#f9eded"/><rect y="859.4" width="24" height="1.5" fill="#f3f3f9"/><rect y="867.9" width="24" height="1.5" fill="#d28989"/><rect y="873.1" width="24" height="2.0" fill="#fbfbfd"/><rect y="880.2" width="24" height="2.0" fill="#f2dbdb"/><rect y="887.3" width="24" height="1.2" fill="#eccbcb"/><rect y="892.5" width="24" height="1.2" fill="#fdf9f9"/><rect y="895.3" width="24" height="2.0" fill="#b5b3dc"/><rect y="901.0" width="24" height="2.0" fill="#e5b8b8"/><rect y="908.8" width="24" height="3.0" fill="#7d7bc1"/><rect y="918.4" width="24" height="2.5" fill="#9997cf"/><rect y="927.3" width="24" height="3.0" fill="#faf0f0"/><rect y="934.5" width="24" height="1.2" fill="#f3f2f9"/><rect y="937.2" width="24" height="2.5" fill="#34248a"/><rect y="946.6" width="24" height="2.5" fill="#f8ecec"/><rect y="954.1" width="24" height="3.0" fill="#f9f9fc"/><rect y="960.4" width="24" height="2.0" fill="#dca1a1"/><rect y="965.5" width="24" height="2.5" fill="#3c399d"/><rect y="972.1" width="24" height="2.0" fill="#7472bc"/><rect y="976.1" width="24" height="1.5" fill="#7472bc"/><rect y="983.7" width="24" height="1.5" fill="#9795ce"/><rect y="991.6" width="24" height="3.0" fill="#fcf8f8"/><rect y="997.4" width="24" height="3.0" fill="#3b389c"/><rect y="1004.5" width="24" height="2.5" fill="#f4dfdf"/><rect y="1011.3" width="24" height="1.5" fill="#5856ad"/><rect y="1014.3" width="24" height="2.5" fill="#b1afda"/><rect y="1022.0" width="24" height="3.0" fill="#3c399e"/><rect y="1031.6" width="24" height="2.5" fill="#4341a2"/><rect y="1036.3" width="24" height="1.5" fill="#4d4ba7"/><rect y="1044.8" width="24" height="1.5" fill="#f2f2f9"/><rect y="1052.1" width="24" height="1.5" fill="#bdbbe0"/><rect y="1059.1" width="24" height="2.0" fill="#3b379c"/><rect y="1062.7" width="24" height="1.2" fill="#eac5c5"/><rect y="1067.1" width="24" height="3.0" fill="#3c399d"/><rect y="1072.0" width="24" height="2.5" fill="#7f7dc1"/><rect y="1077.0" width="24" height="2.5" fill="#9f9dd2"/><rect y="1082.4" width="24" height="2.5" fill="#3b369b"/><rect y="1089.4" width="24" height="3.0" fill="#4d4ba7"/><rect y="1098.9" width="24" height="3.0" fill="#3a369a"/><rect y="1108.3" width="24" height="1.5" fill="#c8c7e5"/><rect y="1112.4" width="24" height="2.0" fill="#8583c5"/><rect y="1118.4" width="24" height="1.5" fill="#817fc2"/><rect y="1123.9" width="24" height="1.2" fill="#36288e"/><rect y="1127.5" width="24" height="1.5" fill="#6664b5"/><rect y="1132.2" width="24" height="1.2" fill="#393397"/><rect y="1139.5" width="24" height="1.5" fill="#5a58ae"/><rect y="1144.3" width="24" height="2.0" fill="#3a3499"/><rect y="1148.4" width="24" height="1.2" fill="#34248a"/><rect y="1156.4" width="24" height="3.0" fill="#4b49a6"/><rect y="1161.7" width="24" height="1.5" fill="#aaa8d7"/><rect y="1165.8" width="24" height="3.0" fill="#3c399d"/><rect y="1174.5" width="24" height="1.2" fill="#403ea0"/><rect y="1177.6" width="24" height="3.0" fill="#6361b3"/><rect y="1186.2" width="24" height="1.5" fill="#8d8bc9"/><rect y="1191.5" width="24" height="2.0" fill="#4543a3"/><rect y="1197.6" width="24" height="2.0" fill="#3a359a"/><rect y="1202.0" width="24" height="1.2" fill="#cecde8"/><rect y="1204.7" width="24" height="1.2" fill="#7270bb"/><rect y="1212.1" width="24" height="1.5" fill="#3b379b"/><rect y="1220.3" width="24" height="3.0" fill="#372d92"/><rect y="1225.5" width="24" height="1.5" fill="#34248a"/><rect y="1231.6" width="24" height="1.5" fill="#8482c4"/><rect y="1239.4" width="24" height="2.5" fill="#34248a"/><rect y="1244.6" width="24" height="1.2" fill="#615fb2"/><rect y="1252.4" width="24" height="3.0" fill="#deddef"/><rect y="1258.8" width="24" height="1.5" fill="#fefdfd"/><rect y="1266.5" width="24" height="1.5" fill="#f1d7d7"/><rect y="1273.3" width="24" height="2.5" fill="#cb7878"/><rect y="1281.4" width="24" height="2.0" fill="#c16262"/><rect y="1288.2" width="24" height="1.2" fill="#b64c4c"/><rect y="1294.9" width="24" height="1.5" fill="#cd7d7d"/><rect y="1299.0" width="24" height="3.0" fill="#f4e0e0"/><rect y="1308.7" width="24" height="1.5" fill="#f9efef"/><rect y="1314.5" width="24" height="1.5" fill="#eeedf7"/><rect y="1320.0" width="24" height="2.0" fill="#9a98cf"/><rect y="1324.7" width="24" height="2.0" fill="#e9c2c2"/><rect y="1328.9" width="24" height="2.0" fill="#eac5c5"/><rect y="1334.3" width="24" height="1.5" fill="#faf2f2"/><rect y="1338.1" width="24" height="1.5" fill="#da9b9b"/><rect y="1346.2" width="24" height="1.5" fill="#3d3b9f"/><rect y="1352.8" width="24" height="2.5" fill="#a93030"/><rect y="1359.3" width="24" height="1.2" fill="#9997cf"/><rect y="1366.6" width="24" height="1.5" fill="#c77070"/><rect y="1372.0" width="24" height="1.5" fill="#d28787"/><rect y="1376.7" width="24" height="1.5" fill="#efd1d1"/><rect y="1380.7" width="24" height="2.0" fill="#cd7d7d"/><rect y="1389.5" width="24" height="2.0" fill="#f5e2e2"/><rect y="1394.7" width="24" height="2.5" fill="#e0dff0"/><rect y="1400.8" width="24" height="2.0" fill="#d89696"/><rect y="1409.7" width="24" height="1.5" fill="#e7bcbc"/></g>
<g transform="translate(803.30 0)"><rect y="783.4" width="24" height="51.1" fill="#e5c4c8"/><rect y="834.3" width="24" height="56.5" fill="#e4c9cf"/><rect y="890.5" width="24" height="176.0" fill="#e2b5b7"/><rect y="1066.4" width="24" height="33.8" fill="#e4c9cf"/><rect y="1100.0" width="24" height="44.5" fill="#e0ceda"/><rect y="1144.2" width="24" height="53.0" fill="#ada9d5"/><rect y="1197.0" width="24" height="91.6" fill="#6966b4"/><rect y="1288.4" width="24" height="67.0" fill="#ada9d5"/><rect y="1355.2" width="24" height="62.0" fill="#e4c9cf"/><rect y="786.2" width="24" height="2.5" fill="#d4d3eb"/><rect y="793.3" width="24" height="2.0" fill="#a4a2d4"/><rect y="798.2" width="24" height="2.5" fill="#f8ecec"/><rect y="807.1" width="24" height="2.5" fill="#f9efef"/><rect y="815.8" width="24" height="3.0" fill="#5654ac"/><rect y="822.9" width="24" height="2.0" fill="#e1aeae"/><rect y="830.8" width="24" height="1.5" fill="#db9d9d"/><rect y="839.3" width="24" height="2.5" fill="#d58e8e"/><rect y="844.3" width="24" height="2.5" fill="#d48d8d"/><rect y="853.2" width="24" height="1.5" fill="#dea6a6"/><rect y="858.7" width="24" height="3.0" fill="#dad9ee"/><rect y="863.7" width="24" height="2.0" fill="#fdf9f9"/><rect y="871.6" width="24" height="1.2" fill="#dbdaee"/><rect y="876.7" width="24" height="1.2" fill="#cf8080"/><rect y="881.0" width="24" height="1.5" fill="#cbcae6"/><rect y="888.0" width="24" height="1.5" fill="#ae3b3b"/><rect y="894.2" width="24" height="1.5" fill="#c2c1e2"/><rect y="899.9" width="24" height="2.0" fill="#d1cfe9"/><rect y="904.3" width="24" height="3.0" fill="#f2dbdb"/><rect y="914.1" width="24" height="3.0" fill="#dda4a4"/><rect y="922.9" width="24" height="1.5" fill="#ebc6c6"/><rect y="928.9" width="24" height="2.0" fill="#edcbcb"/><rect y="932.7" width="24" height="2.0" fill="#7a78bf"/><rect y="937.2" width="24" height="1.2" fill="#e0a9a9"/><rect y="944.0" width="24" height="2.0" fill="#cf8282"/><rect y="951.2" width="24" height="2.0" fill="#cc7c7c"/><rect y="957.0" width="24" height="1.5" fill="#dea5a5"/><rect y="961.0" width="24" height="2.5" fill="#c77070"/><rect y="966.6" width="24" height="1.5" fill="#c36767"/><rect y="973.8" width="24" height="1.2" fill="#a9a7d6"/><rect y="981.9" width="24" height="3.0" fill="#ca7676"/><rect y="987.2" width="24" height="1.2" fill="#9997cf"/><rect y="993.5" width="24" height="3.0" fill="#a62a2a"/><rect y="1000.6" width="24" height="3.0" fill="#efd3d3"/><rect y="1009.7" width="24" height="1.2" fill="#fdfbfb"/><rect y="1013.6" width="24" height="3.0" fill="#c87272"/><rect y="1022.9" width="24" height="1.2" fill="#c4c3e3"/><rect y="1026.5" width="24" height="2.0" fill="#e6b9b9"/><rect y="1033.2" width="24" height="2.0" fill="#e0aaaa"/><rect y="1041.7" width="24" height="1.2" fill="#aaa8d7"/><rect y="1047.8" width="24" height="1.5" fill="#bb5656"/><rect y="1053.1" width="24" height="1.5" fill="#e2b0b0"/><rect y="1059.5" width="24" height="2.5" fill="#d48c8c"/><rect y="1066.5" width="24" height="1.2" fill="#f9f9fc"/><rect y="1072.4" width="24" height="1.2" fill="#faf0f0"/><rect y="1076.3" width="24" height="1.5" fill="#fbf5f5"/><rect y="1084.3" width="24" height="1.2" fill="#e5e4f3"/><rect y="1087.9" width="24" height="1.2" fill="#8e8cc9"/><rect y="1092.2" width="24" height="1.2" fill="#d0cfe9"/><rect y="1099.7" width="24" height="1.5" fill="#bcbadf"/><rect y="1107.9" width="24" height="1.2" fill="#8684c5"/><rect y="1112.6" width="24" height="1.5" fill="#f1d9d9"/><rect y="1115.6" width="24" height="1.5" fill="#d59090"/><rect y="1123.1" width="24" height="3.0" fill="#deddef"/><rect y="1130.6" width="24" height="2.0" fill="#d89595"/><rect y="1139.6" width="24" height="1.2" fill="#f1d8d8"/><rect y="1147.8" width="24" height="3.0" fill="#34248a"/><rect y="1155.9" width="24" height="3.0" fill="#6462b4"/><rect y="1165.4" width="24" height="2.5" fill="#8b89c8"/><rect y="1174.9" width="24" height="2.5" fill="#eac3c3"/><rect y="1184.1" width="24" height="1.5" fill="#4846a5"/><rect y="1190.7" width="24" height="1.5" fill="#eecece"/><rect y="1194.0" width="24" height="1.2" fill="#6b69b8"/><rect y="1200.1" width="24" height="2.5" fill="#9b99d0"/><rect y="1206.7" width="24" height="3.0" fill="#6765b6"/><rect y="1214.8" width="24" height="2.5" fill="#7876be"/><rect y="1220.7" width="24" height="2.5" fill="#5856ad"/><rect y="1225.4" width="24" height="3.0" fill="#5b59af"/><rect y="1235.0" width="24" height="1.2" fill="#deddf0"/><rect y="1237.8" width="24" height="1.5" fill="#4a48a6"/><rect y="1245.9" width="24" height="1.5" fill="#d5d4eb"/><rect y="1250.0" width="24" height="1.2" fill="#7b79bf"/><rect y="1253.4" width="24" height="3.0" fill="#6462b4"/><rect y="1263.0" width="24" height="2.5" fill="#35268c"/><rect y="1271.1" width="24" height="1.2" fill="#34258b"/><rect y="1274.8" width="24" height="1.5" fill="#6866b6"/><rect y="1281.7" width="24" height="3.0" fill="#4f4da9"/><rect y="1291.3" width="24" height="2.0" fill="#d28888"/><rect y="1295.8" width="24" height="3.0" fill="#db9e9e"/><rect y="1301.9" width="24" height="3.0" fill="#edcbcb"/><rect y="1306.6" width="24" height="1.2" fill="#fcf7f7"/><rect y="1313.0" width="24" height="2.5" fill="#3c399d"/><rect y="1320.2" width="24" height="1.5" fill="#cfcee8"/><rect y="1327.7" width="24" height="2.0" fill="#8a88c7"/><rect y="1335.0" width="24" height="1.2" fill="#6b69b8"/><rect y="1338.6" width="24" height="1.5" fill="#c16363"/><rect y="1343.2" width="24" height="2.5" fill="#e4b5b5"/><rect y="1352.6" width="24" height="2.0" fill="#7e7cc1"/><rect y="1357.9" width="24" height="1.5" fill="#fdfafa"/><rect y="1364.1" width="24" height="1.5" fill="#e5b8b8"/><rect y="1367.8" width="24" height="2.5" fill="#cb7979"/><rect y="1375.4" width="24" height="2.0" fill="#f5e3e3"/><rect y="1379.1" width="24" height="2.5" fill="#fefdfd"/><rect y="1387.1" width="24" height="1.5" fill="#e5b9b9"/><rect y="1393.6" width="24" height="1.2" fill="#b0aeda"/><rect y="1400.6" width="24" height="3.0" fill="#d79494"/><rect y="1407.6" width="24" height="2.0" fill="#f8ebeb"/></g>
<g transform="translate(829.70 0)"><rect y="783.4" width="24" height="93.3" fill="#e5c4c8"/><rect y="876.5" width="24" height="190.1" fill="#e2b5b7"/><rect y="1066.4" width="24" height="33.8" fill="#e5c4c8"/><rect y="1100.0" width="24" height="44.5" fill="#dbcddd"/><rect y="1144.2" width="24" height="53.0" fill="#9592cb"/><rect y="1197.0" width="24" height="91.6" fill="#6966b4"/><rect y="1288.4" width="24" height="67.0" fill="#a19ed0"/><rect y="1355.2" width="24" height="62.0" fill="#e0ceda"/><rect y="788.7" width="24" height="1.5" fill="#eccbcb"/><rect y="796.2" width="24" height="1.5" fill="#5856ad"/><rect y="804.1" width="24" height="1.5" fill="#c87272"/><rect y="808.6" width="24" height="1.5" fill="#a6a4d5"/><rect y="813.8" width="24" height="2.5" fill="#f5e4e4"/><rect y="821.5" width="24" height="1.2" fill="#f2dbdb"/><rect y="824.6" width="24" height="1.5" fill="#a52828"/><rect y="831.5" width="24" height="3.0" fill="#dda3a3"/><rect y="840.2" width="24" height="1.5" fill="#a93131"/><rect y="846.9" width="24" height="2.5" fill="#a52828"/><rect y="856.4" width="24" height="3.0" fill="#e5b7b7"/><rect y="862.4" width="24" height="1.2" fill="#faf2f2"/><rect y="868.6" width="24" height="2.0" fill="#d89696"/><rect y="876.6" width="24" height="2.5" fill="#dea5a5"/><rect y="885.4" width="24" height="2.5" fill="#adabd8"/><rect y="889.5" width="24" height="2.0" fill="#d79292"/><rect y="895.3" width="24" height="3.0" fill="#a3a1d3"/><rect y="901.0" width="24" height="2.5" fill="#a6a4d5"/><rect y="905.5" width="24" height="2.5" fill="#c0bee1"/><rect y="912.6" width="24" height="2.0" fill="#edcccc"/><rect y="919.5" width="24" height="1.5" fill="#f1d9d9"/><rect y="925.3" width="24" height="1.2" fill="#918fca"/><rect y="929.8" width="24" height="1.2" fill="#ececf6"/><rect y="936.0" width="24" height="2.5" fill="#ffffff"/><rect y="941.8" width="24" height="3.0" fill="#dfdff0"/><rect y="946.6" width="24" height="1.5" fill="#fcf8f8"/><rect y="950.4" width="24" height="2.0" fill="#e8c0c0"/><rect y="958.4" width="24" height="1.5" fill="#efd2d2"/><rect y="966.2" width="24" height="1.2" fill="#e2afaf"/><rect y="973.1" width="24" height="2.5" fill="#dca0a0"/><rect y="979.3" width="24" height="1.5" fill="#f1d6d6"/><rect y="984.6" width="24" height="2.0" fill="#d1d0e9"/><rect y="989.0" width="24" height="3.0" fill="#e5b7b7"/><rect y="998.0" width="24" height="2.0" fill="#ce7f7f"/><rect y="1004.2" width="24" height="2.0" fill="#a3a1d4"/><rect y="1009.5" width="24" height="1.2" fill="#da9c9c"/><rect y="1015.6" width="24" height="1.2" fill="#e6b9b9"/><rect y="1023.3" width="24" height="2.5" fill="#aaa8d7"/><rect y="1032.6" width="24" height="2.5" fill="#b5b3dc"/><rect y="1038.1" width="24" height="1.2" fill="#cecde8"/><rect y="1042.2" width="24" height="1.2" fill="#bc5959"/><rect y="1046.8" width="24" height="1.5" fill="#e7bdbd"/><rect y="1055.0" width="24" height="1.2" fill="#c97474"/><rect y="1059.4" width="24" height="2.0" fill="#fdfafa"/><rect y="1063.1" width="24" height="2.0" fill="#f1d7d7"/><rect y="1071.8" width="24" height="1.5" fill="#e1e1f1"/><rect y="1076.2" width="24" height="2.5" fill="#5d5bb0"/><rect y="1083.2" width="24" height="2.0" fill="#f3dede"/><rect y="1089.8" width="24" height="3.0" fill="#e8bebe"/><rect y="1096.8" width="24" height="2.5" fill="#4f4da8"/><rect y="1101.3" width="24" height="1.2" fill="#cd7d7d"/><rect y="1104.6" width="24" height="2.5" fill="#f8f8fc"/><rect y="1111.3" width="24" height="3.0" fill="#da9c9c"/><rect y="1118.2" width="24" height="2.0" fill="#ebc7c7"/><rect y="1126.8" width="24" height="2.5" fill="#cf8282"/><rect y="1133.7" width="24" height="2.5" fill="#f9efef"/><rect y="1142.6" width="24" height="1.5" fill="#cbcae7"/><rect y="1146.6" width="24" height="2.0" fill="#7b79bf"/><rect y="1154.0" width="24" height="2.0" fill="#f7f7fb"/><rect y="1161.1" width="24" height="2.0" fill="#34248a"/><rect y="1166.8" width="24" height="1.5" fill="#bebce0"/><rect y="1172.6" width="24" height="3.0" fill="#4e4ca8"/><rect y="1179.1" width="24" height="2.0" fill="#cecce8"/><rect y="1184.2" width="24" height="1.5" fill="#918fca"/><rect y="1187.3" width="24" height="1.5" fill="#716fba"/><rect y="1191.4" width="24" height="2.0" fill="#d6d5ec"/><rect y="1199.8" width="24" height="3.0" fill="#6967b7"/><rect y="1205.6" width="24" height="1.2" fill="#6a68b7"/><rect y="1210.4" width="24" height="1.5" fill="#4c4aa7"/><rect y="1218.7" width="24" height="2.5" fill="#f2dada"/><rect y="1227.3" width="24" height="2.0" fill="#9e9cd1"/><rect y="1231.6" width="24" height="3.0" fill="#7a78bf"/><rect y="1239.6" width="24" height="2.5" fill="#383095"/><rect y="1248.1" width="24" height="1.5" fill="#9997ce"/><rect y="1253.4" width="24" height="1.5" fill="#382f94"/><rect y="1259.9" width="24" height="1.5" fill="#372e93"/><rect y="1266.7" width="24" height="2.5" fill="#adabd8"/><rect y="1275.7" width="24" height="2.0" fill="#6967b7"/><rect y="1280.4" width="24" height="2.5" fill="#7775be"/><rect y="1285.4" width="24" height="1.5" fill="#6563b5"/><rect y="1290.3" width="24" height="3.0" fill="#a8a6d6"/><rect y="1300.0" width="24" height="1.2" fill="#e5e4f3"/><rect y="1303.2" width="24" height="2.0" fill="#5654ac"/><rect y="1310.9" width="24" height="1.5" fill="#8f8dca"/><rect y="1315.1" width="24" height="2.0" fill="#383095"/><rect y="1321.1" width="24" height="3.0" fill="#8684c5"/><rect y="1327.5" width="24" height="1.5" fill="#8987c6"/><rect y="1332.8" width="24" height="3.0" fill="#a4a2d4"/><rect y="1339.5" width="24" height="1.5" fill="#504ea9"/><rect y="1344.1" width="24" height="1.5" fill="#6260b3"/><rect y="1352.0" width="24" height="2.0" fill="#5250aa"/><rect y="1359.3" width="24" height="1.2" fill="#6d6bb8"/><rect y="1362.9" width="24" height="2.0" fill="#c2c1e3"/><rect y="1369.2" width="24" height="3.0" fill="#5755ad"/><rect y="1379.0" width="24" height="3.0" fill="#9b99d0"/><rect y="1384.7" width="24" height="2.0" fill="#cecde8"/><rect y="1391.9" width="24" height="2.0" fill="#34248a"/><rect y="1399.0" width="24" height="1.2" fill="#5f5db1"/><rect y="1401.7" width="24" height="3.0" fill="#b1afda"/><rect y="1410.5" width="24" height="1.2" fill="#3e3c9f"/></g>
<g transform="translate(856.10 0)"><rect y="783.4" width="24" height="49.3" fill="#7370ba"/><rect y="832.5" width="24" height="144.4" fill="#41399a"/><rect y="976.7" width="24" height="82.8" fill="#6966b4"/><rect y="1059.3" width="24" height="40.8" fill="#e0ceda"/><rect y="1100.0" width="24" height="21.6" fill="#e4c9cf"/><rect y="1121.4" width="24" height="72.3" fill="#dfacad"/><rect y="1193.5" width="24" height="170.8" fill="#d48e8f"/><rect y="1364.0" width="24" height="53.2" fill="#d4cade"/><rect y="784.6" width="24" height="1.2" fill="#c6c5e4"/><rect y="788.2" width="24" height="1.5" fill="#918fca"/><rect y="794.5" width="24" height="2.0" fill="#8f8dca"/><rect y="801.2" width="24" height="1.2" fill="#4a48a6"/><rect y="807.7" width="24" height="3.0" fill="#7a78bf"/><rect y="817.2" width="24" height="2.5" fill="#34248a"/><rect y="825.5" width="24" height="1.5" fill="#918fcb"/><rect y="829.2" width="24" height="1.5" fill="#5452ab"/><rect y="834.0" width="24" height="1.2" fill="#382e93"/><rect y="839.1" width="24" height="1.2" fill="#3d3b9f"/><rect y="842.9" width="24" height="2.5" fill="#3e3c9f"/><rect y="848.3" width="24" height="2.5" fill="#605eb2"/><rect y="855.8" width="24" height="1.5" fill="#7f7dc1"/><rect y="859.2" width="24" height="1.5" fill="#504ea9"/><rect y="863.4" width="24" height="2.5" fill="#35268c"/><rect y="868.4" width="24" height="3.0" fill="#4644a4"/><rect y="874.4" width="24" height="3.0" fill="#3a3498"/><rect y="881.9" width="24" height="2.0" fill="#372d92"/><rect y="888.5" width="24" height="1.5" fill="#3c399d"/><rect y="893.7" width="24" height="2.5" fill="#34248a"/><rect y="899.3" width="24" height="2.0" fill="#34258b"/><rect y="906.4" width="24" height="2.5" fill="#34248a"/><rect y="915.9" width="24" height="2.0" fill="#34248a"/><rect y="920.0" width="24" height="1.5" fill="#a19fd2"/><rect y="928.2" width="24" height="2.5" fill="#372c91"/><rect y="934.4" width="24" height="2.5" fill="#382e93"/><rect y="943.6" width="24" height="1.2" fill="#5553ab"/><rect y="950.1" width="24" height="1.5" fill="#4442a2"/><rect y="958.5" width="24" height="2.0" fill="#34248a"/><rect y="965.3" width="24" height="3.0" fill="#5e5cb1"/><rect y="971.2" width="24" height="3.0" fill="#34248a"/><rect y="978.0" width="24" height="1.5" fill="#7977bf"/><rect y="986.1" width="24" height="3.0" fill="#4a48a6"/><rect y="994.6" width="24" height="1.5" fill="#4c4aa7"/><rect y="998.2" width="24" height="1.2" fill="#3b389c"/><rect y="1005.4" width="24" height="1.5" fill="#7c7ac0"/><rect y="1010.1" width="24" height="1.5" fill="#605eb2"/><rect y="1015.4" width="24" height="1.5" fill="#5654ac"/><rect y="1019.4" width="24" height="3.0" fill="#5856ad"/><rect y="1024.5" width="24" height="1.5" fill="#7e7cc1"/><rect y="1028.7" width="24" height="1.5" fill="#6967b6"/><rect y="1033.0" width="24" height="1.2" fill="#6866b6"/><rect y="1038.5" width="24" height="3.0" fill="#d4d3eb"/><rect y="1045.9" width="24" height="2.0" fill="#fdfafa"/><rect y="1050.7" width="24" height="3.0" fill="#6563b4"/><rect y="1060.0" width="24" height="2.5" fill="#ba5454"/><rect y="1064.2" width="24" height="3.0" fill="#6260b3"/><rect y="1071.6" width="24" height="1.2" fill="#d99898"/><rect y="1075.3" width="24" height="3.0" fill="#f8ecec"/><rect y="1082.4" width="24" height="3.0" fill="#d79393"/><rect y="1087.0" width="24" height="2.5" fill="#dfa8a8"/><rect y="1094.4" width="24" height="2.5" fill="#e1adad"/><rect y="1099.0" width="24" height="2.5" fill="#dea7a7"/><rect y="1106.6" width="24" height="3.0" fill="#393196"/><rect y="1112.3" width="24" height="1.2" fill="#5e5cb0"/><rect y="1116.7" width="24" height="2.5" fill="#eac5c5"/><rect y="1123.4" width="24" height="2.0" fill="#c77070"/><rect y="1130.1" width="24" height="2.5" fill="#c56b6b"/><rect y="1135.8" width="24" height="1.2" fill="#b34444"/><rect y="1143.3" width="24" height="1.2" fill="#c36666"/><rect y="1147.8" width="24" height="2.0" fill="#dea4a4"/><rect y="1156.3" width="24" height="2.0" fill="#f3dede"/><rect y="1163.4" width="24" height="2.0" fill="#ae3a3a"/><rect y="1167.4" width="24" height="3.0" fill="#e9c0c0"/><rect y="1172.5" width="24" height="1.2" fill="#c46868"/><rect y="1176.6" width="24" height="2.0" fill="#b95151"/><rect y="1183.3" width="24" height="1.2" fill="#e4e3f2"/><rect y="1187.7" width="24" height="2.5" fill="#bf5e5e"/><rect y="1196.1" width="24" height="3.0" fill="#ab3434"/><rect y="1202.8" width="24" height="2.0" fill="#c56b6b"/><rect y="1210.1" width="24" height="2.0" fill="#bf5e5e"/><rect y="1216.1" width="24" height="1.2" fill="#a52828"/><rect y="1220.4" width="24" height="2.0" fill="#ab3434"/><rect y="1224.3" width="24" height="2.0" fill="#eac3c3"/><rect y="1230.6" width="24" height="3.0" fill="#c87373"/><rect y="1237.1" width="24" height="2.0" fill="#d38a8a"/><rect y="1244.8" width="24" height="3.0" fill="#b24343"/><rect y="1254.7" width="24" height="3.0" fill="#d28888"/><rect y="1262.5" width="24" height="2.0" fill="#d48d8d"/><rect y="1269.6" width="24" height="1.2" fill="#c36666"/><rect y="1276.8" width="24" height="1.5" fill="#f8ebeb"/><rect y="1280.5" width="24" height="3.0" fill="#ba5353"/><rect y="1288.5" width="24" height="2.0" fill="#f7f7fb"/><rect y="1293.4" width="24" height="2.5" fill="#b54949"/><rect y="1297.6" width="24" height="2.5" fill="#d69090"/><rect y="1305.8" width="24" height="2.5" fill="#cc7a7a"/><rect y="1310.6" width="24" height="1.2" fill="#ba5353"/><rect y="1314.8" width="24" height="3.0" fill="#dfa9a9"/><rect y="1323.9" width="24" height="2.5" fill="#c77070"/><rect y="1332.0" width="24" height="1.2" fill="#f0d4d4"/><rect y="1339.6" width="24" height="1.5" fill="#bc5757"/><rect y="1345.3" width="24" height="1.2" fill="#d28888"/><rect y="1349.3" width="24" height="3.0" fill="#d89696"/><rect y="1358.5" width="24" height="1.5" fill="#f7e7e7"/><rect y="1365.0" width="24" height="3.0" fill="#c9c8e6"/><rect y="1373.4" width="24" height="3.0" fill="#c7c6e5"/><rect y="1382.3" width="24" height="1.5" fill="#efd2d2"/><rect y="1387.9" width="24" height="2.0" fill="#b95252"/><rect y="1394.0" width="24" height="1.2" fill="#fcf7f7"/><rect y="1398.1" width="24" height="3.0" fill="#f9efef"/><rect y="1402.7" width="24" height="1.2" fill="#5e5cb1"/><rect y="1407.5" width="24" height="3.0" fill="#a7a5d6"/></g>
<g transform="translate(882.50 0)"><rect y="783.4" width="24" height="51.1" fill="#7370ba"/><rect y="834.3" width="24" height="142.6" fill="#463e9d"/><rect y="976.7" width="24" height="82.8" fill="#7e7bbf"/><rect y="1059.3" width="24" height="40.8" fill="#e0ceda"/><rect y="1100.0" width="24" height="48.0" fill="#e4bdc0"/><rect y="1147.8" width="24" height="96.9" fill="#dba3a3"/><rect y="1244.5" width="24" height="102.2" fill="#cf8484"/><rect y="1346.5" width="24" height="70.7" fill="#b8b3d9"/><rect y="787.2" width="24" height="1.2" fill="#4341a2"/><rect y="791.8" width="24" height="2.0" fill="#bfbee1"/><rect y="795.4" width="24" height="2.0" fill="#3b379b"/><rect y="801.7" width="24" height="2.5" fill="#9d9bd0"/><rect y="806.3" width="24" height="2.5" fill="#fefcfc"/><rect y="814.8" width="24" height="2.5" fill="#7775bd"/><rect y="820.7" width="24" height="2.5" fill="#4f4da9"/><rect y="828.5" width="24" height="3.0" fill="#c2c0e2"/><rect y="834.8" width="24" height="1.5" fill="#372d92"/><rect y="840.0" width="24" height="1.2" fill="#34248a"/><rect y="844.2" width="24" height="2.0" fill="#34248a"/><rect y="850.0" width="24" height="3.0" fill="#3a3599"/><rect y="858.9" width="24" height="1.5" fill="#9d9bd0"/><rect y="862.6" width="24" height="3.0" fill="#6260b3"/><rect y="869.4" width="24" height="3.0" fill="#34248a"/><rect y="879.3" width="24" height="2.0" fill="#3b379b"/><rect y="886.6" width="24" height="2.5" fill="#382e93"/><rect y="895.0" width="24" height="2.0" fill="#7a78bf"/><rect y="900.1" width="24" height="3.0" fill="#34248a"/><rect y="907.9" width="24" height="3.0" fill="#372c91"/><rect y="914.7" width="24" height="1.2" fill="#3b369a"/><rect y="919.7" width="24" height="1.5" fill="#34248a"/><rect y="924.5" width="24" height="2.5" fill="#4543a3"/><rect y="933.2" width="24" height="2.0" fill="#35268c"/><rect y="942.0" width="24" height="2.5" fill="#35288d"/><rect y="949.4" width="24" height="2.5" fill="#6462b4"/><rect y="954.7" width="24" height="1.5" fill="#34258b"/><rect y="961.5" width="24" height="3.0" fill="#34248a"/><rect y="969.3" width="24" height="3.0" fill="#4c4aa7"/><rect y="979.3" width="24" height="1.5" fill="#f7eaea"/><rect y="984.5" width="24" height="2.5" fill="#cdcce8"/><rect y="993.2" width="24" height="2.0" fill="#fdf9f9"/><rect y="1001.0" width="24" height="2.5" fill="#4d4ba7"/><rect y="1006.6" width="24" height="1.5" fill="#9694cd"/><rect y="1012.7" width="24" height="2.0" fill="#7270bb"/><rect y="1016.4" width="24" height="2.0" fill="#817fc3"/><rect y="1020.1" width="24" height="2.0" fill="#4c4aa7"/><rect y="1027.7" width="24" height="2.5" fill="#35268c"/><rect y="1032.9" width="24" height="3.0" fill="#d6d5ec"/><rect y="1040.5" width="24" height="1.5" fill="#8a88c7"/><rect y="1044.6" width="24" height="2.5" fill="#605eb2"/><rect y="1052.9" width="24" height="1.2" fill="#6f6dba"/><rect y="1058.0" width="24" height="2.5" fill="#5654ac"/><rect y="1065.5" width="24" height="2.5" fill="#d08383"/><rect y="1069.9" width="24" height="1.2" fill="#dad9ed"/><rect y="1076.9" width="24" height="2.5" fill="#bdbbe0"/><rect y="1081.3" width="24" height="3.0" fill="#e6b9b9"/><rect y="1089.6" width="24" height="2.0" fill="#c97575"/><rect y="1095.4" width="24" height="2.5" fill="#a2a0d3"/><rect y="1099.4" width="24" height="1.5" fill="#adabd9"/><rect y="1107.4" width="24" height="2.5" fill="#cc7b7b"/><rect y="1112.1" width="24" height="3.0" fill="#ebeaf5"/><rect y="1118.8" width="24" height="2.5" fill="#d7d7ec"/><rect y="1123.9" width="24" height="2.0" fill="#c36767"/><rect y="1129.6" width="24" height="1.2" fill="#e5e5f3"/><rect y="1137.5" width="24" height="3.0" fill="#da9a9a"/><rect y="1143.9" width="24" height="1.5" fill="#c0bfe1"/><rect y="1148.0" width="24" height="2.0" fill="#da9c9c"/><rect y="1156.8" width="24" height="3.0" fill="#bf5e5e"/><rect y="1161.5" width="24" height="1.2" fill="#cc7a7a"/><rect y="1164.9" width="24" height="3.0" fill="#d28787"/><rect y="1173.7" width="24" height="1.2" fill="#cc7a7a"/><rect y="1179.6" width="24" height="2.0" fill="#bb5555"/><rect y="1187.2" width="24" height="3.0" fill="#dda2a2"/><rect y="1192.8" width="24" height="2.0" fill="#ce7e7e"/><rect y="1201.0" width="24" height="2.5" fill="#e4b4b4"/><rect y="1209.0" width="24" height="2.0" fill="#d38989"/><rect y="1215.7" width="24" height="3.0" fill="#efeef7"/><rect y="1220.5" width="24" height="2.0" fill="#c77070"/><rect y="1225.7" width="24" height="2.5" fill="#d99999"/><rect y="1234.3" width="24" height="2.0" fill="#d58f8f"/><rect y="1238.9" width="24" height="3.0" fill="#c8c6e5"/><rect y="1248.8" width="24" height="1.5" fill="#d89696"/><rect y="1252.5" width="24" height="2.5" fill="#b03f3f"/><rect y="1258.7" width="24" height="2.0" fill="#d58e8e"/><rect y="1264.9" width="24" height="1.5" fill="#fbf5f5"/><rect y="1272.4" width="24" height="2.0" fill="#faf1f1"/><rect y="1275.9" width="24" height="1.2" fill="#e2afaf"/><rect y="1282.0" width="24" height="1.2" fill="#c16262"/><rect y="1285.7" width="24" height="1.2" fill="#cf8282"/><rect y="1290.3" width="24" height="2.0" fill="#ba5353"/><rect y="1297.7" width="24" height="1.5" fill="#c36767"/><rect y="1305.4" width="24" height="2.0" fill="#ce7e7e"/><rect y="1309.7" width="24" height="2.0" fill="#b85050"/><rect y="1314.5" width="24" height="2.5" fill="#e3b2b2"/><rect y="1319.6" width="24" height="2.5" fill="#c26565"/><rect y="1327.7" width="24" height="2.0" fill="#c97474"/><rect y="1335.2" width="24" height="1.5" fill="#e5b6b6"/><rect y="1339.4" width="24" height="1.2" fill="#e8c0c0"/><rect y="1347.2" width="24" height="1.2" fill="#9e9cd1"/><rect y="1355.3" width="24" height="2.5" fill="#e4e3f2"/><rect y="1364.3" width="24" height="1.2" fill="#f9efef"/><rect y="1368.9" width="24" height="1.2" fill="#6664b5"/><rect y="1373.0" width="24" height="2.0" fill="#a4a2d4"/><rect y="1381.2" width="24" height="1.2" fill="#bab9df"/><rect y="1389.2" width="24" height="3.0" fill="#e4b5b5"/><rect y="1396.3" width="24" height="1.5" fill="#504ea9"/><rect y="1399.8" width="24" height="1.5" fill="#4b49a6"/><rect y="1405.0" width="24" height="1.2" fill="#9c9ad0"/><rect y="1412.1" width="24" height="1.2" fill="#f9f8fc"/></g>
<g transform="translate(908.90 0)"><rect y="783.4" width="24" height="65.1" fill="#dbcddd"/><rect y="848.3" width="24" height="130.3" fill="#514ca6"/><rect y="978.5" width="24" height="81.1" fill="#463e9d"/><rect y="1059.3" width="24" height="40.8" fill="#8987c5"/><rect y="1100.0" width="24" height="93.7" fill="#e3cdd5"/><rect y="1193.5" width="24" height="31.9" fill="#e5c4c8"/><rect y="1225.1" width="24" height="133.8" fill="#d48e8f"/><rect y="1358.8" width="24" height="58.4" fill="#e4c9cf"/><rect y="785.2" width="24" height="2.0" fill="#e2afaf"/><rect y="793.3" width="24" height="3.0" fill="#d79494"/><rect y="800.0" width="24" height="1.5" fill="#dca0a0"/><rect y="805.8" width="24" height="2.5" fill="#cac9e6"/><rect y="813.1" width="24" height="1.5" fill="#e7bdbd"/><rect y="820.4" width="24" height="1.5" fill="#e9c1c1"/><rect y="824.6" width="24" height="2.0" fill="#ca7676"/><rect y="832.5" width="24" height="2.5" fill="#a52828"/><rect y="840.0" width="24" height="3.0" fill="#e4b5b5"/><rect y="845.0" width="24" height="2.5" fill="#a5a3d5"/><rect y="852.5" width="24" height="2.0" fill="#4947a5"/><rect y="857.5" width="24" height="2.0" fill="#35278d"/><rect y="864.8" width="24" height="2.0" fill="#3c399d"/><rect y="870.9" width="24" height="3.0" fill="#c0bfe1"/><rect y="879.0" width="24" height="2.5" fill="#9c9ad0"/><rect y="888.2" width="24" height="2.5" fill="#3d3b9e"/><rect y="896.6" width="24" height="1.2" fill="#4240a1"/><rect y="904.3" width="24" height="2.0" fill="#7371bb"/><rect y="909.4" width="24" height="1.5" fill="#8d8bc8"/><rect y="917.5" width="24" height="2.5" fill="#6c6ab8"/><rect y="926.9" width="24" height="1.5" fill="#4c4aa7"/><rect y="932.1" width="24" height="2.5" fill="#34248a"/><rect y="939.3" width="24" height="3.0" fill="#9c9ad0"/><rect y="946.1" width="24" height="1.2" fill="#6765b6"/><rect y="952.2" width="24" height="2.5" fill="#5c5ab0"/><rect y="960.1" width="24" height="2.0" fill="#6e6cb9"/><rect y="968.6" width="24" height="3.0" fill="#34248a"/><rect y="976.6" width="24" height="2.0" fill="#4745a4"/><rect y="984.5" width="24" height="2.5" fill="#3b379c"/><rect y="993.8" width="24" height="2.0" fill="#34248a"/><rect y="1000.1" width="24" height="1.5" fill="#7b79c0"/><rect y="1004.8" width="24" height="1.5" fill="#4745a4"/><rect y="1009.8" width="24" height="2.5" fill="#393196"/><rect y="1017.4" width="24" height="3.0" fill="#5c5ab0"/><rect y="1022.8" width="24" height="1.2" fill="#34248a"/><rect y="1026.8" width="24" height="3.0" fill="#382e93"/><rect y="1032.5" width="24" height="2.0" fill="#35278c"/><rect y="1041.5" width="24" height="2.0" fill="#34248a"/><rect y="1046.1" width="24" height="3.0" fill="#4341a2"/><rect y="1052.4" width="24" height="2.0" fill="#362a90"/><rect y="1057.7" width="24" height="2.5" fill="#35268c"/><rect y="1064.9" width="24" height="1.5" fill="#d3d2eb"/><rect y="1069.6" width="24" height="2.5" fill="#a19fd3"/><rect y="1078.6" width="24" height="2.0" fill="#5e5cb1"/><rect y="1087.1" width="24" height="3.0" fill="#a8a6d6"/><rect y="1096.4" width="24" height="3.0" fill="#f1d7d7"/><rect y="1103.4" width="24" height="1.5" fill="#f5e3e3"/><rect y="1108.3" width="24" height="2.0" fill="#6664b5"/><rect y="1116.8" width="24" height="3.0" fill="#5250aa"/><rect y="1121.3" width="24" height="2.5" fill="#9593cd"/><rect y="1127.0" width="24" height="1.2" fill="#f0d4d4"/><rect y="1131.9" width="24" height="1.2" fill="#c3c2e3"/><rect y="1137.5" width="24" height="1.2" fill="#5c5ab0"/><rect y="1142.2" width="24" height="2.5" fill="#f4e1e1"/><rect y="1151.2" width="24" height="2.5" fill="#f7e8e8"/><rect y="1156.5" width="24" height="1.2" fill="#fdfafa"/><rect y="1164.0" width="24" height="1.5" fill="#e0aaaa"/><rect y="1168.4" width="24" height="2.0" fill="#ececf6"/><rect y="1175.9" width="24" height="3.0" fill="#c46969"/><rect y="1183.7" width="24" height="1.5" fill="#bf5f5f"/><rect y="1191.3" width="24" height="1.2" fill="#f7e9e9"/><rect y="1194.3" width="24" height="3.0" fill="#b4b2dc"/><rect y="1200.1" width="24" height="2.0" fill="#8583c4"/><rect y="1208.9" width="24" height="2.0" fill="#9694cd"/><rect y="1215.8" width="24" height="3.0" fill="#da9b9b"/><rect y="1221.6" width="24" height="2.0" fill="#c5c3e4"/><rect y="1227.2" width="24" height="1.5" fill="#d79494"/><rect y="1234.2" width="24" height="1.5" fill="#efeff7"/><rect y="1240.7" width="24" height="1.5" fill="#e5b7b7"/><rect y="1245.2" width="24" height="2.5" fill="#d08383"/><rect y="1251.3" width="24" height="2.5" fill="#d08484"/><rect y="1260.4" width="24" height="1.5" fill="#dca0a0"/><rect y="1268.5" width="24" height="2.5" fill="#dfa8a8"/><rect y="1272.5" width="24" height="1.5" fill="#cd7c7c"/><rect y="1278.2" width="24" height="2.5" fill="#ad3939"/><rect y="1283.2" width="24" height="2.0" fill="#be5d5d"/><rect y="1288.0" width="24" height="1.2" fill="#d18585"/><rect y="1292.0" width="24" height="2.5" fill="#eed0d0"/><rect y="1297.5" width="24" height="2.5" fill="#c16363"/><rect y="1303.8" width="24" height="1.5" fill="#dea5a5"/><rect y="1311.7" width="24" height="1.5" fill="#ba5454"/><rect y="1320.2" width="24" height="1.2" fill="#f4f4fa"/><rect y="1324.8" width="24" height="2.5" fill="#af3d3d"/><rect y="1329.6" width="24" height="2.0" fill="#bd5a5a"/><rect y="1334.1" width="24" height="1.5" fill="#fdfafa"/><rect y="1338.2" width="24" height="1.5" fill="#b74e4e"/><rect y="1345.8" width="24" height="3.0" fill="#d69090"/><rect y="1352.9" width="24" height="2.5" fill="#b64c4c"/><rect y="1360.6" width="24" height="1.5" fill="#a52828"/><rect y="1367.1" width="24" height="1.2" fill="#d89797"/><rect y="1372.9" width="24" height="2.5" fill="#e3e3f2"/><rect y="1378.8" width="24" height="2.5" fill="#db9d9d"/><rect y="1387.2" width="24" height="3.0" fill="#9d9bd1"/><rect y="1393.4" width="24" height="2.0" fill="#e0e0f1"/><rect y="1397.8" width="24" height="2.5" fill="#e2afaf"/><rect y="1403.5" width="24" height="2.0" fill="#a52828"/><rect y="1408.0" width="24" height="1.2" fill="#c16262"/><rect y="1410.8" width="24" height="2.0" fill="#f5e4e4"/></g>
<g transform="translate(935.30 0)"><rect y="783.4" width="24" height="86.2" fill="#e5c4c8"/><rect y="869.4" width="24" height="84.6" fill="#6966b4"/><rect y="953.8" width="24" height="112.7" fill="#5854aa"/><rect y="1066.4" width="24" height="33.8" fill="#b8b3d9"/><rect y="1100.0" width="24" height="93.7" fill="#e0ceda"/><rect y="1193.5" width="24" height="51.2" fill="#e3cdd5"/><rect y="1244.5" width="24" height="172.7" fill="#d89999"/><rect y="785.9" width="24" height="2.0" fill="#cb7878"/><rect y="790.3" width="24" height="3.0" fill="#ad3939"/><rect y="799.0" width="24" height="2.0" fill="#ce7f7f"/><rect y="805.5" width="24" height="2.5" fill="#615fb2"/><rect y="813.4" width="24" height="3.0" fill="#d6d5ec"/><rect y="821.4" width="24" height="3.0" fill="#b74d4d"/><rect y="828.7" width="24" height="2.0" fill="#fdfdfe"/><rect y="836.2" width="24" height="1.5" fill="#c66d6d"/><rect y="841.0" width="24" height="3.0" fill="#f0d6d6"/><rect y="848.0" width="24" height="2.0" fill="#e1acac"/><rect y="852.0" width="24" height="1.2" fill="#ebc8c8"/><rect y="855.3" width="24" height="2.5" fill="#e8bfbf"/><rect y="860.7" width="24" height="1.2" fill="#eaeaf5"/><rect y="866.1" width="24" height="2.0" fill="#d08383"/><rect y="870.0" width="24" height="2.0" fill="#a2a0d3"/><rect y="875.8" width="24" height="1.5" fill="#3a3499"/><rect y="881.3" width="24" height="3.0" fill="#7977be"/><rect y="888.1" width="24" height="1.2" fill="#5e5cb0"/><rect y="894.5" width="24" height="2.5" fill="#5d5bb0"/><rect y="903.9" width="24" height="2.0" fill="#6c6ab8"/><rect y="912.3" width="24" height="3.0" fill="#eae9f5"/><rect y="918.7" width="24" height="2.5" fill="#5654ac"/><rect y="924.6" width="24" height="3.0" fill="#5e5cb1"/><rect y="932.3" width="24" height="3.0" fill="#efd2d2"/><rect y="939.6" width="24" height="2.0" fill="#4b49a6"/><rect y="948.4" width="24" height="2.0" fill="#3b389c"/><rect y="954.3" width="24" height="1.5" fill="#716fbb"/><rect y="960.6" width="24" height="2.0" fill="#5d5bb0"/><rect y="967.6" width="24" height="2.5" fill="#362a90"/><rect y="976.5" width="24" height="2.0" fill="#4f4da8"/><rect y="983.2" width="24" height="3.0" fill="#5553ab"/><rect y="992.2" width="24" height="2.5" fill="#7e7cc1"/><rect y="999.6" width="24" height="2.5" fill="#7573bd"/><rect y="1004.5" width="24" height="3.0" fill="#5755ad"/><rect y="1013.5" width="24" height="1.5" fill="#4442a2"/><rect y="1020.1" width="24" height="1.2" fill="#4341a2"/><rect y="1028.2" width="24" height="1.2" fill="#4b49a6"/><rect y="1032.9" width="24" height="2.0" fill="#f7e8e8"/><rect y="1036.8" width="24" height="2.0" fill="#34248a"/><rect y="1042.2" width="24" height="2.5" fill="#7a78bf"/><rect y="1051.3" width="24" height="1.5" fill="#5553ac"/><rect y="1057.0" width="24" height="1.5" fill="#4341a2"/><rect y="1062.6" width="24" height="3.0" fill="#413fa1"/><rect y="1067.6" width="24" height="2.5" fill="#ecc9c9"/><rect y="1073.6" width="24" height="2.0" fill="#9795cd"/><rect y="1081.0" width="24" height="1.2" fill="#e0aaaa"/><rect y="1086.4" width="24" height="1.5" fill="#372d92"/><rect y="1091.8" width="24" height="1.2" fill="#c8c7e5"/><rect y="1095.8" width="24" height="1.2" fill="#e3b3b3"/><rect y="1103.7" width="24" height="1.2" fill="#dda3a3"/><rect y="1111.3" width="24" height="3.0" fill="#372d92"/><rect y="1118.2" width="24" height="1.5" fill="#edcccc"/><rect y="1125.0" width="24" height="1.5" fill="#e4e4f3"/><rect y="1131.4" width="24" height="1.2" fill="#34248a"/><rect y="1135.1" width="24" height="1.2" fill="#6260b3"/><rect y="1141.6" width="24" height="2.0" fill="#eaeaf5"/><rect y="1149.7" width="24" height="1.2" fill="#4e4ca8"/><rect y="1155.7" width="24" height="3.0" fill="#d4d3eb"/><rect y="1164.5" width="24" height="1.2" fill="#f4e1e1"/><rect y="1170.0" width="24" height="2.5" fill="#5e5cb0"/><rect y="1177.6" width="24" height="2.0" fill="#f2dada"/><rect y="1183.5" width="24" height="1.2" fill="#ce7f7f"/><rect y="1189.9" width="24" height="2.5" fill="#bdbbe0"/><rect y="1198.7" width="24" height="2.0" fill="#d9d8ed"/><rect y="1207.6" width="24" height="2.0" fill="#eac3c3"/><rect y="1211.8" width="24" height="2.5" fill="#e5b8b8"/><rect y="1219.1" width="24" height="2.5" fill="#cd7d7d"/><rect y="1223.1" width="24" height="3.0" fill="#ca7676"/><rect y="1230.9" width="24" height="3.0" fill="#e8c0c0"/><rect y="1238.4" width="24" height="1.5" fill="#be5c5c"/><rect y="1242.6" width="24" height="2.0" fill="#eccaca"/><rect y="1250.7" width="24" height="2.5" fill="#ebc8c8"/><rect y="1258.7" width="24" height="1.5" fill="#da9b9b"/><rect y="1263.9" width="24" height="2.5" fill="#a52828"/><rect y="1273.1" width="24" height="2.0" fill="#c46a6a"/><rect y="1277.1" width="24" height="2.5" fill="#ce8080"/><rect y="1285.3" width="24" height="2.0" fill="#efd3d3"/><rect y="1293.9" width="24" height="2.5" fill="#ebc7c7"/><rect y="1301.2" width="24" height="2.5" fill="#be5b5b"/><rect y="1309.7" width="24" height="2.5" fill="#c76f6f"/><rect y="1318.5" width="24" height="1.2" fill="#d58f8f"/><rect y="1326.4" width="24" height="2.5" fill="#db9d9d"/><rect y="1334.9" width="24" height="3.0" fill="#d69292"/><rect y="1342.4" width="24" height="2.0" fill="#c36868"/><rect y="1349.1" width="24" height="2.0" fill="#c56c6c"/><rect y="1353.4" width="24" height="2.0" fill="#e2e2f1"/><rect y="1360.8" width="24" height="1.2" fill="#dca1a1"/><rect y="1366.9" width="24" height="1.2" fill="#fefcfc"/><rect y="1374.3" width="24" height="3.0" fill="#d38a8a"/><rect y="1381.0" width="24" height="2.0" fill="#ebc7c7"/><rect y="1388.5" width="24" height="2.0" fill="#ecc9c9"/><rect y="1394.6" width="24" height="2.5" fill="#dfa9a9"/><rect y="1401.1" width="24" height="1.2" fill="#d28787"/><rect y="1406.6" width="24" height="3.0" fill="#d28787"/></g>
<g transform="translate(961.70 0)"><rect y="783.4" width="24" height="82.7" fill="#e2b5b7"/><rect y="865.9" width="24" height="35.4" fill="#d89999"/><rect y="901.1" width="24" height="140.9" fill="#e2b5b7"/><rect y="1041.8" width="24" height="58.4" fill="#dba3a3"/><rect y="1100.0" width="24" height="176.4" fill="#ccc4dd"/><rect y="1276.1" width="24" height="141.1" fill="#b8b3d9"/><rect y="789.0" width="24" height="1.5" fill="#d89696"/><rect y="796.2" width="24" height="1.2" fill="#d79595"/><rect y="799.5" width="24" height="1.5" fill="#9694cd"/><rect y="806.8" width="24" height="3.0" fill="#e1aeae"/><rect y="812.0" width="24" height="3.0" fill="#d89696"/><rect y="820.8" width="24" height="2.5" fill="#e0dff0"/><rect y="827.6" width="24" height="2.5" fill="#d38b8b"/><rect y="834.7" width="24" height="2.5" fill="#efd3d3"/><rect y="839.1" width="24" height="3.0" fill="#c87171"/><rect y="844.0" width="24" height="3.0" fill="#da9a9a"/><rect y="849.8" width="24" height="3.0" fill="#cc7b7b"/><rect y="856.8" width="24" height="2.0" fill="#d99a9a"/><rect y="864.3" width="24" height="2.0" fill="#e9c2c2"/><rect y="868.0" width="24" height="1.2" fill="#cf8282"/><rect y="875.0" width="24" height="1.5" fill="#bf5d5d"/><rect y="883.1" width="24" height="2.0" fill="#d48c8c"/><rect y="886.7" width="24" height="3.0" fill="#d28989"/><rect y="891.9" width="24" height="1.2" fill="#ce7f7f"/><rect y="897.0" width="24" height="1.2" fill="#e2b0b0"/><rect y="904.7" width="24" height="3.0" fill="#d18686"/><rect y="910.3" width="24" height="1.5" fill="#e8bebe"/><rect y="914.5" width="24" height="2.0" fill="#eac5c5"/><rect y="920.3" width="24" height="2.5" fill="#dca0a0"/><rect y="924.6" width="24" height="2.5" fill="#dea6a6"/><rect y="930.9" width="24" height="2.0" fill="#e5b8b8"/><rect y="938.1" width="24" height="2.5" fill="#d79393"/><rect y="943.7" width="24" height="2.5" fill="#d18686"/><rect y="948.8" width="24" height="1.2" fill="#fefbfb"/><rect y="955.7" width="24" height="1.5" fill="#c97575"/><rect y="958.7" width="24" height="1.5" fill="#eac4c4"/><rect y="964.6" width="24" height="3.0" fill="#cbcae7"/><rect y="971.7" width="24" height="1.5" fill="#dcdbee"/><rect y="975.1" width="24" height="3.0" fill="#d69191"/><rect y="981.6" width="24" height="1.5" fill="#faf0f0"/><rect y="986.7" width="24" height="2.5" fill="#a9a7d6"/><rect y="993.9" width="24" height="2.0" fill="#dca0a0"/><rect y="998.3" width="24" height="1.2" fill="#fefdfd"/><rect y="1004.8" width="24" height="1.2" fill="#4e4ca8"/><rect y="1011.3" width="24" height="2.0" fill="#da9c9c"/><rect y="1014.9" width="24" height="2.0" fill="#bd5a5a"/><rect y="1023.4" width="24" height="1.2" fill="#b3b1db"/><rect y="1027.4" width="24" height="2.0" fill="#fbf5f5"/><rect y="1031.1" width="24" height="2.5" fill="#c36666"/><rect y="1035.7" width="24" height="3.0" fill="#bf5f5f"/><rect y="1041.7" width="24" height="1.2" fill="#a52828"/><rect y="1045.6" width="24" height="1.2" fill="#fbfbfd"/><rect y="1052.5" width="24" height="3.0" fill="#f2f1f9"/><rect y="1057.6" width="24" height="2.5" fill="#d58f8f"/><rect y="1062.6" width="24" height="2.0" fill="#b74d4d"/><rect y="1069.6" width="24" height="3.0" fill="#af3c3c"/><rect y="1079.3" width="24" height="1.2" fill="#f9efef"/><rect y="1086.7" width="24" height="3.0" fill="#f7e9e9"/><rect y="1093.1" width="24" height="2.5" fill="#b14141"/><rect y="1102.4" width="24" height="2.0" fill="#e1aeae"/><rect y="1111.1" width="24" height="2.0" fill="#c97575"/><rect y="1119.8" width="24" height="1.5" fill="#e6e6f3"/><rect y="1122.9" width="24" height="1.5" fill="#ebc7c7"/><rect y="1131.1" width="24" height="1.2" fill="#f1d7d7"/><rect y="1138.2" width="24" height="1.2" fill="#fcf6f6"/><rect y="1142.1" width="24" height="1.2" fill="#f6e6e6"/><rect y="1148.2" width="24" height="3.0" fill="#3b379c"/><rect y="1156.0" width="24" height="2.5" fill="#dbdaee"/><rect y="1161.9" width="24" height="3.0" fill="#9694cd"/><rect y="1167.8" width="24" height="2.5" fill="#dcdcef"/><rect y="1173.9" width="24" height="2.5" fill="#3b379b"/><rect y="1180.5" width="24" height="2.5" fill="#7e7cc1"/><rect y="1188.4" width="24" height="2.5" fill="#b0aeda"/><rect y="1195.6" width="24" height="3.0" fill="#cbcae6"/><rect y="1203.5" width="24" height="2.0" fill="#9795cd"/><rect y="1211.3" width="24" height="1.2" fill="#c0bfe2"/><rect y="1218.6" width="24" height="1.2" fill="#b85151"/><rect y="1222.9" width="24" height="2.5" fill="#34248a"/><rect y="1228.4" width="24" height="3.0" fill="#bd5b5b"/><rect y="1237.9" width="24" height="2.5" fill="#d79494"/><rect y="1244.0" width="24" height="2.5" fill="#f6e6e6"/><rect y="1251.0" width="24" height="3.0" fill="#413fa1"/><rect y="1258.6" width="24" height="1.2" fill="#eaeaf5"/><rect y="1262.8" width="24" height="1.2" fill="#e1aeae"/><rect y="1267.1" width="24" height="3.0" fill="#918fcb"/><rect y="1276.1" width="24" height="1.5" fill="#9f9dd1"/><rect y="1282.3" width="24" height="2.0" fill="#6e6cb9"/><rect y="1289.4" width="24" height="2.0" fill="#34248a"/><rect y="1297.4" width="24" height="3.0" fill="#5d5bb0"/><rect y="1302.2" width="24" height="2.0" fill="#e0abab"/><rect y="1307.9" width="24" height="2.0" fill="#d1d0e9"/><rect y="1314.8" width="24" height="1.5" fill="#9593cd"/><rect y="1319.1" width="24" height="1.2" fill="#7977be"/><rect y="1323.0" width="24" height="3.0" fill="#c9c7e5"/><rect y="1327.8" width="24" height="1.2" fill="#dad9ee"/><rect y="1333.3" width="24" height="3.0" fill="#ecc9c9"/><rect y="1338.0" width="24" height="2.5" fill="#34248a"/><rect y="1344.0" width="24" height="2.0" fill="#6563b4"/><rect y="1349.9" width="24" height="1.2" fill="#3c3a9e"/><rect y="1358.0" width="24" height="3.0" fill="#edcbcb"/><rect y="1362.8" width="24" height="1.2" fill="#f2d9d9"/><rect y="1370.0" width="24" height="2.0" fill="#e1adad"/><rect y="1375.8" width="24" height="1.5" fill="#8583c4"/><rect y="1379.6" width="24" height="3.0" fill="#9593cd"/><rect y="1389.5" width="24" height="2.0" fill="#605eb1"/><rect y="1395.9" width="24" height="3.0" fill="#e8e7f4"/><rect y="1402.4" width="24" height="2.0" fill="#fbf5f5"/><rect y="1406.0" width="24" height="1.2" fill="#f9eeee"/><rect y="1409.4" width="24" height="1.5" fill="#4846a5"/></g>
<g transform="translate(988.10 0)"><rect y="783.4" width="24" height="38.8" fill="#e4c9cf"/><rect y="822.0" width="24" height="47.7" fill="#e4bdc0"/><rect y="869.4" width="24" height="42.4" fill="#d4cade"/><rect y="911.6" width="24" height="31.9" fill="#7370ba"/><rect y="943.3" width="24" height="33.6" fill="#c3bcdc"/><rect y="976.7" width="24" height="123.5" fill="#8987c5"/><rect y="1100.0" width="24" height="90.2" fill="#a19ed0"/><rect y="1190.0" width="24" height="53.0" fill="#d4cade"/><rect y="1242.7" width="24" height="174.5" fill="#e4c9cf"/><rect y="786.1" width="24" height="1.2" fill="#dddcef"/><rect y="792.2" width="24" height="2.0" fill="#8c8ac8"/><rect y="798.4" width="24" height="3.0" fill="#ecc8c8"/><rect y="805.3" width="24" height="1.5" fill="#d79393"/><rect y="812.3" width="24" height="1.5" fill="#c77070"/><rect y="818.9" width="24" height="1.2" fill="#dddcef"/><rect y="826.1" width="24" height="2.5" fill="#fdfafa"/><rect y="835.3" width="24" height="2.0" fill="#fffefe"/><rect y="842.9" width="24" height="2.0" fill="#e6b9b9"/><rect y="850.3" width="24" height="3.0" fill="#cd7d7d"/><rect y="857.4" width="24" height="3.0" fill="#b95252"/><rect y="866.5" width="24" height="1.2" fill="#b6b4dd"/><rect y="869.7" width="24" height="1.5" fill="#dca1a1"/><rect y="874.4" width="24" height="3.0" fill="#3b389c"/><rect y="883.8" width="24" height="2.0" fill="#fafafd"/><rect y="891.6" width="24" height="3.0" fill="#acaad8"/><rect y="896.3" width="24" height="1.2" fill="#c9c8e6"/><rect y="902.7" width="24" height="2.5" fill="#efd2d2"/><rect y="909.3" width="24" height="3.0" fill="#7c7ac0"/><rect y="914.2" width="24" height="2.5" fill="#514faa"/><rect y="919.7" width="24" height="3.0" fill="#a19fd3"/><rect y="925.4" width="24" height="1.2" fill="#c8c7e5"/><rect y="932.0" width="24" height="1.5" fill="#8583c5"/><rect y="938.9" width="24" height="3.0" fill="#4543a3"/><rect y="945.4" width="24" height="2.0" fill="#8280c3"/><rect y="950.3" width="24" height="3.0" fill="#ab3535"/><rect y="956.9" width="24" height="1.5" fill="#6563b5"/><rect y="963.4" width="24" height="3.0" fill="#c1bfe2"/><rect y="969.1" width="24" height="3.0" fill="#bbbadf"/><rect y="974.0" width="24" height="2.5" fill="#3b379b"/><rect y="983.0" width="24" height="1.2" fill="#5351aa"/><rect y="990.4" width="24" height="1.5" fill="#e6e6f3"/><rect y="996.4" width="24" height="1.2" fill="#d3d2ea"/><rect y="1001.6" width="24" height="2.5" fill="#9492cc"/><rect y="1010.6" width="24" height="3.0" fill="#6361b3"/><rect y="1016.6" width="24" height="1.5" fill="#3b379b"/><rect y="1024.3" width="24" height="2.5" fill="#a19fd3"/><rect y="1030.1" width="24" height="1.2" fill="#3c3a9e"/><rect y="1035.5" width="24" height="1.5" fill="#4c4aa7"/><rect y="1040.0" width="24" height="2.5" fill="#e4e3f2"/><rect y="1046.3" width="24" height="1.5" fill="#8785c6"/><rect y="1052.4" width="24" height="2.0" fill="#372c91"/><rect y="1059.5" width="24" height="1.5" fill="#3c399d"/><rect y="1067.5" width="24" height="1.2" fill="#f1d7d7"/><rect y="1075.2" width="24" height="1.2" fill="#a4a2d4"/><rect y="1079.7" width="24" height="2.0" fill="#a7a5d5"/><rect y="1084.4" width="24" height="1.5" fill="#c1c0e2"/><rect y="1091.9" width="24" height="1.2" fill="#4947a5"/><rect y="1100.1" width="24" height="3.0" fill="#6765b5"/><rect y="1106.9" width="24" height="2.5" fill="#9b99cf"/><rect y="1112.4" width="24" height="1.5" fill="#cdcce8"/><rect y="1117.4" width="24" height="2.0" fill="#d3d2ea"/><rect y="1123.1" width="24" height="1.2" fill="#cccbe7"/><rect y="1129.5" width="24" height="2.5" fill="#7371bc"/><rect y="1136.6" width="24" height="3.0" fill="#e9c0c0"/><rect y="1143.1" width="24" height="1.5" fill="#e2afaf"/><rect y="1150.1" width="24" height="2.0" fill="#d0cfe9"/><rect y="1158.9" width="24" height="1.2" fill="#9896ce"/><rect y="1166.4" width="24" height="2.0" fill="#6664b5"/><rect y="1171.5" width="24" height="1.2" fill="#bfbde1"/><rect y="1175.8" width="24" height="1.2" fill="#7b79c0"/><rect y="1182.5" width="24" height="2.5" fill="#b9b8de"/><rect y="1187.3" width="24" height="2.5" fill="#f9efef"/><rect y="1195.3" width="24" height="1.2" fill="#5f5db1"/><rect y="1202.6" width="24" height="3.0" fill="#d79494"/><rect y="1208.7" width="24" height="3.0" fill="#ba5353"/><rect y="1217.2" width="24" height="2.5" fill="#a9a7d6"/><rect y="1224.5" width="24" height="3.0" fill="#f8ecec"/><rect y="1232.5" width="24" height="1.5" fill="#5f5db1"/><rect y="1239.6" width="24" height="1.2" fill="#fefcfc"/><rect y="1245.3" width="24" height="3.0" fill="#f8ecec"/><rect y="1254.9" width="24" height="1.5" fill="#7c7ac0"/><rect y="1259.8" width="24" height="2.5" fill="#cc7a7a"/><rect y="1266.8" width="24" height="1.2" fill="#e2b1b1"/><rect y="1271.3" width="24" height="1.2" fill="#fdf9f9"/><rect y="1274.9" width="24" height="2.0" fill="#c16363"/><rect y="1282.0" width="24" height="2.5" fill="#c0bee1"/><rect y="1286.3" width="24" height="2.5" fill="#fdfdfe"/><rect y="1295.4" width="24" height="2.0" fill="#5250aa"/><rect y="1303.9" width="24" height="2.0" fill="#807ec2"/><rect y="1307.5" width="24" height="2.0" fill="#d99999"/><rect y="1311.6" width="24" height="3.0" fill="#f3dddd"/><rect y="1318.3" width="24" height="3.0" fill="#db9d9d"/><rect y="1327.4" width="24" height="2.5" fill="#e5b8b8"/><rect y="1332.9" width="24" height="1.5" fill="#c26464"/><rect y="1338.1" width="24" height="2.0" fill="#cf8181"/><rect y="1345.5" width="24" height="3.0" fill="#e4b5b5"/><rect y="1354.4" width="24" height="2.0" fill="#cac9e6"/><rect y="1360.1" width="24" height="2.0" fill="#807ec2"/><rect y="1364.3" width="24" height="1.2" fill="#e8bfbf"/><rect y="1367.2" width="24" height="2.0" fill="#fdf8f8"/><rect y="1372.7" width="24" height="3.0" fill="#ebc8c8"/><rect y="1377.6" width="24" height="2.5" fill="#f6e6e6"/><rect y="1382.2" width="24" height="2.5" fill="#eecfcf"/><rect y="1391.4" width="24" height="1.2" fill="#f8eaea"/><rect y="1399.3" width="24" height="1.2" fill="#f2d9d9"/><rect y="1402.4" width="24" height="1.2" fill="#dda3a3"/><rect y="1406.9" width="24" height="2.0" fill="#a52929"/></g>
<g transform="translate(1014.50 0)"><rect y="783.4" width="24" height="188.2" fill="#e5c4c8"/><rect y="971.4" width="24" height="128.7" fill="#ada9d5"/><rect y="1100.0" width="24" height="153.5" fill="#9592cb"/><rect y="1253.3" width="24" height="88.1" fill="#e0ceda"/><rect y="1341.2" width="24" height="76.0" fill="#e5c4c8"/><rect y="785.3" width="24" height="2.0" fill="#ce7f7f"/><rect y="792.6" width="24" height="3.0" fill="#fefdfd"/><rect y="800.8" width="24" height="2.5" fill="#d9d8ed"/><rect y="809.3" width="24" height="1.2" fill="#eed1d1"/><rect y="812.8" width="24" height="1.5" fill="#9c9ad0"/><rect y="818.7" width="24" height="1.2" fill="#f3f2f9"/><rect y="825.5" width="24" height="2.5" fill="#cb7878"/><rect y="833.2" width="24" height="1.5" fill="#ca7676"/><rect y="838.8" width="24" height="2.0" fill="#fffefe"/><rect y="846.5" width="24" height="2.5" fill="#5351ab"/><rect y="855.2" width="24" height="2.5" fill="#d69090"/><rect y="860.0" width="24" height="3.0" fill="#b5b3dc"/><rect y="866.0" width="24" height="1.5" fill="#e2b0b0"/><rect y="873.9" width="24" height="2.0" fill="#c0bee1"/><rect y="881.9" width="24" height="2.5" fill="#be5b5b"/><rect y="889.4" width="24" height="1.5" fill="#e6b9b9"/><rect y="894.0" width="24" height="1.2" fill="#be5c5c"/><rect y="902.2" width="24" height="2.5" fill="#3a3498"/><rect y="907.1" width="24" height="1.2" fill="#d69292"/><rect y="910.3" width="24" height="2.5" fill="#eeeef7"/><rect y="916.3" width="24" height="3.0" fill="#b34545"/><rect y="922.5" width="24" height="2.0" fill="#f9eeee"/><rect y="926.0" width="24" height="3.0" fill="#b85050"/><rect y="935.7" width="24" height="2.0" fill="#d58f8f"/><rect y="939.9" width="24" height="2.5" fill="#eeeef7"/><rect y="944.9" width="24" height="1.2" fill="#d69191"/><rect y="950.3" width="24" height="1.2" fill="#eecfcf"/><rect y="955.2" width="24" height="1.2" fill="#e1acac"/><rect y="963.2" width="24" height="2.0" fill="#aeacd9"/><rect y="968.7" width="24" height="3.0" fill="#ffffff"/><rect y="974.2" width="24" height="1.2" fill="#fdf9f9"/><rect y="978.1" width="24" height="1.2" fill="#d2d1ea"/><rect y="983.1" width="24" height="2.0" fill="#362a8f"/><rect y="989.9" width="24" height="2.0" fill="#c7c5e5"/><rect y="997.6" width="24" height="1.2" fill="#edcccc"/><rect y="1004.2" width="24" height="1.2" fill="#9b99d0"/><rect y="1009.4" width="24" height="2.5" fill="#f7f6fb"/><rect y="1018.8" width="24" height="2.5" fill="#f9f8fc"/><rect y="1025.1" width="24" height="2.5" fill="#f5f5fa"/><rect y="1033.1" width="24" height="1.5" fill="#3c399d"/><rect y="1041.1" width="24" height="1.5" fill="#ecc9c9"/><rect y="1045.9" width="24" height="3.0" fill="#3a3599"/><rect y="1054.4" width="24" height="2.5" fill="#fcf7f7"/><rect y="1059.2" width="24" height="2.5" fill="#372c92"/><rect y="1065.8" width="24" height="2.5" fill="#4c4aa7"/><rect y="1075.1" width="24" height="2.0" fill="#5f5db1"/><rect y="1079.3" width="24" height="1.5" fill="#acaad8"/><rect y="1083.2" width="24" height="2.0" fill="#716fba"/><rect y="1086.8" width="24" height="1.2" fill="#e1aeae"/><rect y="1091.1" width="24" height="2.0" fill="#382f94"/><rect y="1099.6" width="24" height="1.2" fill="#c5c3e4"/><rect y="1103.9" width="24" height="2.5" fill="#6462b4"/><rect y="1109.2" width="24" height="3.0" fill="#4341a2"/><rect y="1117.2" width="24" height="2.5" fill="#6765b5"/><rect y="1121.7" width="24" height="3.0" fill="#ecc8c8"/><rect y="1130.9" width="24" height="3.0" fill="#4846a4"/><rect y="1137.3" width="24" height="1.2" fill="#dbdaee"/><rect y="1142.9" width="24" height="3.0" fill="#9896ce"/><rect y="1152.2" width="24" height="2.5" fill="#403ea0"/><rect y="1157.6" width="24" height="1.2" fill="#f0f0f8"/><rect y="1160.9" width="24" height="2.5" fill="#bab8df"/><rect y="1166.7" width="24" height="2.5" fill="#f9efef"/><rect y="1171.1" width="24" height="2.5" fill="#6c6ab8"/><rect y="1176.4" width="24" height="2.5" fill="#b9b7de"/><rect y="1183.6" width="24" height="2.5" fill="#f8ebeb"/><rect y="1192.9" width="24" height="1.2" fill="#5e5cb1"/><rect y="1199.4" width="24" height="3.0" fill="#cdcce7"/><rect y="1208.7" width="24" height="3.0" fill="#6664b5"/><rect y="1218.5" width="24" height="2.0" fill="#6361b3"/><rect y="1222.4" width="24" height="3.0" fill="#372d92"/><rect y="1232.0" width="24" height="2.0" fill="#9795ce"/><rect y="1240.9" width="24" height="1.2" fill="#9492cc"/><rect y="1246.1" width="24" height="2.5" fill="#8a88c7"/><rect y="1251.1" width="24" height="2.5" fill="#eac4c4"/><rect y="1260.5" width="24" height="2.0" fill="#eed0d0"/><rect y="1265.6" width="24" height="2.0" fill="#d0cfe9"/><rect y="1274.4" width="24" height="3.0" fill="#f4dfdf"/><rect y="1283.0" width="24" height="2.0" fill="#e8e7f4"/><rect y="1289.6" width="24" height="1.5" fill="#6d6bb9"/><rect y="1298.1" width="24" height="1.2" fill="#c36767"/><rect y="1305.9" width="24" height="1.5" fill="#6765b6"/><rect y="1314.4" width="24" height="2.0" fill="#bdbbe0"/><rect y="1321.8" width="24" height="3.0" fill="#ecc9c9"/><rect y="1327.7" width="24" height="2.0" fill="#8280c3"/><rect y="1334.4" width="24" height="1.5" fill="#faf9fc"/><rect y="1341.6" width="24" height="2.0" fill="#e0abab"/><rect y="1348.9" width="24" height="2.0" fill="#fffefe"/><rect y="1357.8" width="24" height="1.5" fill="#fffefe"/><rect y="1365.8" width="24" height="3.0" fill="#eecfcf"/><rect y="1373.8" width="24" height="2.0" fill="#e8bebe"/><rect y="1381.0" width="24" height="1.2" fill="#d38a8a"/><rect y="1388.5" width="24" height="1.5" fill="#c97474"/><rect y="1397.0" width="24" height="2.0" fill="#a7a5d6"/><rect y="1401.0" width="24" height="3.0" fill="#8d8bc8"/><rect y="1408.4" width="24" height="3.0" fill="#e1acac"/></g>
<g transform="translate(1040.90 0)"><rect y="783.4" width="24" height="126.7" fill="#e4bdc0"/><rect y="909.9" width="24" height="44.2" fill="#e0ceda"/><rect y="953.8" width="24" height="53.0" fill="#e4c9cf"/><rect y="1006.6" width="24" height="60.0" fill="#d4cade"/><rect y="1066.4" width="24" height="33.8" fill="#c3bcdc"/><rect y="1100.0" width="24" height="142.9" fill="#ccc4dd"/><rect y="1242.7" width="24" height="98.7" fill="#e3cdd5"/><rect y="1341.2" width="24" height="76.0" fill="#dbcddd"/><rect y="784.3" width="24" height="2.0" fill="#b24343"/><rect y="788.2" width="24" height="2.0" fill="#c97474"/><rect y="795.9" width="24" height="1.5" fill="#e7e7f4"/><rect y="803.0" width="24" height="1.5" fill="#9a98cf"/><rect y="811.4" width="24" height="3.0" fill="#8b89c8"/><rect y="818.9" width="24" height="2.0" fill="#d28888"/><rect y="823.2" width="24" height="2.5" fill="#bf5f5f"/><rect y="831.4" width="24" height="1.2" fill="#d99a9a"/><rect y="835.6" width="24" height="2.0" fill="#d18585"/><rect y="843.6" width="24" height="2.5" fill="#e2afaf"/><rect y="850.3" width="24" height="2.0" fill="#f0d5d5"/><rect y="857.3" width="24" height="2.5" fill="#d28888"/><rect y="863.4" width="24" height="2.5" fill="#ebc6c6"/><rect y="869.3" width="24" height="1.2" fill="#fefdfd"/><rect y="877.4" width="24" height="1.5" fill="#ca7676"/><rect y="885.6" width="24" height="2.0" fill="#e0a9a9"/><rect y="891.9" width="24" height="1.5" fill="#fbfbfd"/><rect y="895.3" width="24" height="3.0" fill="#d99898"/><rect y="904.0" width="24" height="1.5" fill="#aba9d8"/><rect y="908.2" width="24" height="3.0" fill="#e8c0c0"/><rect y="913.3" width="24" height="2.0" fill="#dca1a1"/><rect y="920.5" width="24" height="1.5" fill="#382e93"/><rect y="926.5" width="24" height="2.5" fill="#8f8dc9"/><rect y="931.2" width="24" height="1.2" fill="#e9c1c1"/><rect y="934.4" width="24" height="2.0" fill="#db9e9e"/><rect y="938.7" width="24" height="1.2" fill="#e2b0b0"/><rect y="943.4" width="24" height="2.5" fill="#fbf5f5"/><rect y="948.7" width="24" height="1.2" fill="#ebc7c7"/><rect y="956.1" width="24" height="1.5" fill="#db9e9e"/><rect y="964.5" width="24" height="1.5" fill="#d89696"/><rect y="967.8" width="24" height="2.5" fill="#c87171"/><rect y="975.2" width="24" height="3.0" fill="#b7b5dd"/><rect y="984.3" width="24" height="1.5" fill="#fefdfd"/><rect y="987.5" width="24" height="1.5" fill="#6765b6"/><rect y="994.1" width="24" height="2.0" fill="#f6e7e7"/><rect y="999.2" width="24" height="2.0" fill="#f0d4d4"/><rect y="1007.6" width="24" height="2.0" fill="#eecfcf"/><rect y="1012.0" width="24" height="3.0" fill="#eccaca"/><rect y="1017.6" width="24" height="2.0" fill="#362a8f"/><rect y="1026.1" width="24" height="3.0" fill="#cb7878"/><rect y="1034.0" width="24" height="1.2" fill="#9896ce"/><rect y="1037.0" width="24" height="3.0" fill="#acaad8"/><rect y="1045.1" width="24" height="1.5" fill="#dcdbef"/><rect y="1049.4" width="24" height="2.5" fill="#fbf3f3"/><rect y="1055.7" width="24" height="1.5" fill="#e5e5f3"/><rect y="1061.7" width="24" height="1.2" fill="#fcf6f6"/><rect y="1065.8" width="24" height="3.0" fill="#f2dbdb"/><rect y="1072.2" width="24" height="1.5" fill="#6260b3"/><rect y="1080.0" width="24" height="2.5" fill="#f7eaea"/><rect y="1087.9" width="24" height="2.5" fill="#f1d7d7"/><rect y="1092.3" width="24" height="1.2" fill="#f7e9e9"/><rect y="1099.7" width="24" height="2.5" fill="#dca0a0"/><rect y="1106.6" width="24" height="1.2" fill="#c9c8e6"/><rect y="1110.3" width="24" height="2.0" fill="#ce7f7f"/><rect y="1118.9" width="24" height="2.0" fill="#e8c0c0"/><rect y="1122.4" width="24" height="3.0" fill="#dc9f9f"/><rect y="1128.9" width="24" height="1.5" fill="#d99999"/><rect y="1136.7" width="24" height="3.0" fill="#8f8dc9"/><rect y="1141.8" width="24" height="2.0" fill="#f0d4d4"/><rect y="1149.4" width="24" height="2.5" fill="#372e93"/><rect y="1158.7" width="24" height="2.0" fill="#f3f3f9"/><rect y="1165.6" width="24" height="2.0" fill="#f6e6e6"/><rect y="1171.0" width="24" height="1.5" fill="#cf8282"/><rect y="1174.2" width="24" height="1.2" fill="#f1f1f9"/><rect y="1180.7" width="24" height="2.5" fill="#b4b2dc"/><rect y="1188.0" width="24" height="3.0" fill="#f8ebeb"/><rect y="1195.9" width="24" height="1.5" fill="#cd7d7d"/><rect y="1201.7" width="24" height="3.0" fill="#e8bfbf"/><rect y="1211.5" width="24" height="3.0" fill="#e5b7b7"/><rect y="1219.2" width="24" height="2.5" fill="#8785c5"/><rect y="1228.5" width="24" height="1.5" fill="#f8ebeb"/><rect y="1231.5" width="24" height="1.5" fill="#6967b6"/><rect y="1234.8" width="24" height="2.5" fill="#e7bcbc"/><rect y="1240.7" width="24" height="2.5" fill="#f7f7fb"/><rect y="1248.8" width="24" height="2.5" fill="#e6bbbb"/><rect y="1255.0" width="24" height="3.0" fill="#e5b8b8"/><rect y="1260.5" width="24" height="3.0" fill="#c56b6b"/><rect y="1266.5" width="24" height="3.0" fill="#fdfdfe"/><rect y="1271.1" width="24" height="2.5" fill="#eecfcf"/><rect y="1276.5" width="24" height="3.0" fill="#ebc8c8"/><rect y="1282.9" width="24" height="3.0" fill="#dfdef0"/><rect y="1291.2" width="24" height="2.0" fill="#fbf4f4"/><rect y="1298.4" width="24" height="1.5" fill="#eecfcf"/><rect y="1303.1" width="24" height="3.0" fill="#eed0d0"/><rect y="1309.3" width="24" height="3.0" fill="#9b99cf"/><rect y="1314.3" width="24" height="1.5" fill="#aaa8d7"/><rect y="1321.2" width="24" height="1.2" fill="#bebde1"/><rect y="1325.3" width="24" height="2.0" fill="#eac3c3"/><rect y="1333.6" width="24" height="1.5" fill="#c8c7e5"/><rect y="1339.1" width="24" height="1.5" fill="#faf0f0"/><rect y="1342.5" width="24" height="2.5" fill="#6e6cb9"/><rect y="1349.0" width="24" height="1.5" fill="#cf8282"/><rect y="1352.2" width="24" height="1.5" fill="#c26565"/><rect y="1359.2" width="24" height="2.0" fill="#b85050"/><rect y="1368.2" width="24" height="1.2" fill="#cf8282"/><rect y="1373.2" width="24" height="2.0" fill="#f0f0f8"/><rect y="1379.8" width="24" height="1.5" fill="#ecc8c8"/><rect y="1386.7" width="24" height="1.2" fill="#e0aaaa"/><rect y="1391.7" width="24" height="2.0" fill="#393195"/><rect y="1399.2" width="24" height="2.5" fill="#e8e8f4"/><rect y="1407.1" width="24" height="3.0" fill="#d8d7ed"/><rect y="1412.2" width="24" height="3.0" fill="#d79393"/></g>
<g transform="translate(1067.30 0)"><rect y="783.4" width="24" height="188.2" fill="#e5c4c8"/><rect y="971.4" width="24" height="128.7" fill="#d4cade"/><rect y="1100.0" width="24" height="153.5" fill="#7e7bbf"/><rect y="1253.3" width="24" height="88.1" fill="#c3bcdc"/><rect y="1341.2" width="24" height="76.0" fill="#e4c9cf"/><rect y="783.8" width="24" height="2.0" fill="#a52828"/><rect y="790.9" width="24" height="3.0" fill="#e0a9a9"/><rect y="800.9" width="24" height="1.2" fill="#f3dddd"/><rect y="808.8" width="24" height="1.5" fill="#ececf6"/><rect y="814.5" width="24" height="2.0" fill="#c5c4e4"/><rect y="819.1" width="24" height="3.0" fill="#c56c6c"/><rect y="824.0" width="24" height="2.0" fill="#bf5e5e"/><rect y="828.0" width="24" height="2.0" fill="#efeff8"/><rect y="834.8" width="24" height="2.5" fill="#aeacd9"/><rect y="842.6" width="24" height="2.5" fill="#f4e0e0"/><rect y="848.7" width="24" height="2.5" fill="#da9b9b"/><rect y="857.9" width="24" height="2.0" fill="#f5e4e4"/><rect y="864.0" width="24" height="2.5" fill="#f9efef"/><rect y="872.8" width="24" height="3.0" fill="#deddef"/><rect y="881.3" width="24" height="3.0" fill="#4c4aa7"/><rect y="888.4" width="24" height="3.0" fill="#403ea0"/><rect y="895.8" width="24" height="3.0" fill="#cb7979"/><rect y="902.8" width="24" height="2.5" fill="#fcf6f6"/><rect y="910.6" width="24" height="1.2" fill="#e7bdbd"/><rect y="913.4" width="24" height="2.0" fill="#6d6bb8"/><rect y="920.5" width="24" height="2.0" fill="#fcf6f6"/><rect y="926.9" width="24" height="1.5" fill="#f8ebeb"/><rect y="931.3" width="24" height="2.0" fill="#dca0a0"/><rect y="937.3" width="24" height="1.2" fill="#db9e9e"/><rect y="944.4" width="24" height="3.0" fill="#a7a5d6"/><rect y="953.9" width="24" height="1.5" fill="#f3dddd"/><rect y="961.9" width="24" height="3.0" fill="#7b79bf"/><rect y="967.0" width="24" height="2.5" fill="#e1e0f1"/><rect y="973.4" width="24" height="3.0" fill="#34248a"/><rect y="978.2" width="24" height="2.0" fill="#e3e3f2"/><rect y="982.5" width="24" height="2.0" fill="#f3f3fa"/><rect y="988.9" width="24" height="3.0" fill="#5957ae"/><rect y="995.8" width="24" height="3.0" fill="#7775be"/><rect y="1002.8" width="24" height="2.5" fill="#e0a9a9"/><rect y="1007.3" width="24" height="1.2" fill="#a09ed2"/><rect y="1014.6" width="24" height="2.0" fill="#e6bbbb"/><rect y="1021.0" width="24" height="2.0" fill="#f5e2e2"/><rect y="1025.9" width="24" height="2.0" fill="#dcdbee"/><rect y="1030.8" width="24" height="1.5" fill="#f8f8fc"/><rect y="1038.0" width="24" height="1.2" fill="#c26666"/><rect y="1044.2" width="24" height="1.5" fill="#c0bfe2"/><rect y="1047.3" width="24" height="2.0" fill="#f0eff8"/><rect y="1054.8" width="24" height="1.5" fill="#f9efef"/><rect y="1063.3" width="24" height="1.5" fill="#e4b5b5"/><rect y="1071.4" width="24" height="1.2" fill="#f7e9e9"/><rect y="1076.7" width="24" height="1.2" fill="#9290cb"/><rect y="1081.0" width="24" height="1.2" fill="#db9f9f"/><rect y="1085.7" width="24" height="3.0" fill="#f8ebeb"/><rect y="1095.0" width="24" height="3.0" fill="#e1adad"/><rect y="1101.4" width="24" height="3.0" fill="#6d6bb9"/><rect y="1106.6" width="24" height="2.0" fill="#6866b6"/><rect y="1112.8" width="24" height="2.5" fill="#a2a0d3"/><rect y="1118.5" width="24" height="3.0" fill="#504ea9"/><rect y="1128.1" width="24" height="1.5" fill="#5957ae"/><rect y="1133.3" width="24" height="3.0" fill="#8987c7"/><rect y="1137.9" width="24" height="3.0" fill="#4240a1"/><rect y="1145.1" width="24" height="2.5" fill="#cac9e6"/><rect y="1154.2" width="24" height="2.5" fill="#504ea9"/><rect y="1159.8" width="24" height="2.0" fill="#6563b4"/><rect y="1167.0" width="24" height="1.2" fill="#7977be"/><rect y="1174.3" width="24" height="1.2" fill="#bebce0"/><rect y="1179.2" width="24" height="3.0" fill="#4a48a5"/><rect y="1184.8" width="24" height="1.2" fill="#cfcee8"/><rect y="1190.3" width="24" height="2.5" fill="#b1afda"/><rect y="1198.5" width="24" height="1.2" fill="#5755ad"/><rect y="1206.5" width="24" height="1.5" fill="#f5f5fa"/><rect y="1211.9" width="24" height="1.2" fill="#c9c7e5"/><rect y="1214.9" width="24" height="2.0" fill="#e6e5f3"/><rect y="1221.3" width="24" height="1.2" fill="#716fbb"/><rect y="1228.9" width="24" height="1.2" fill="#504ea9"/><rect y="1236.7" width="24" height="1.2" fill="#d2d1ea"/><rect y="1243.4" width="24" height="2.0" fill="#3c399d"/><rect y="1248.4" width="24" height="1.2" fill="#3b379c"/><rect y="1255.5" width="24" height="1.5" fill="#a52828"/><rect y="1262.3" width="24" height="2.5" fill="#6b69b7"/><rect y="1267.3" width="24" height="2.0" fill="#f3dfdf"/><rect y="1272.5" width="24" height="2.0" fill="#5a58ae"/><rect y="1280.6" width="24" height="2.0" fill="#c5c4e4"/><rect y="1287.2" width="24" height="2.0" fill="#7f7dc1"/><rect y="1294.7" width="24" height="1.5" fill="#d28787"/><rect y="1302.8" width="24" height="2.0" fill="#c26666"/><rect y="1308.8" width="24" height="1.2" fill="#ebc7c7"/><rect y="1311.8" width="24" height="2.5" fill="#efd2d2"/><rect y="1318.2" width="24" height="1.5" fill="#9290cb"/><rect y="1326.0" width="24" height="2.5" fill="#d38b8b"/><rect y="1330.6" width="24" height="2.0" fill="#ffffff"/><rect y="1335.8" width="24" height="1.2" fill="#aeacd9"/><rect y="1338.9" width="24" height="3.0" fill="#b74d4d"/><rect y="1345.0" width="24" height="2.5" fill="#8684c5"/><rect y="1350.4" width="24" height="1.2" fill="#b14040"/><rect y="1356.7" width="24" height="1.2" fill="#ededf7"/><rect y="1360.9" width="24" height="2.0" fill="#e9c3c3"/><rect y="1367.5" width="24" height="1.2" fill="#dea5a5"/><rect y="1370.2" width="24" height="2.5" fill="#d99999"/><rect y="1378.9" width="24" height="1.2" fill="#8482c4"/><rect y="1383.9" width="24" height="2.5" fill="#f2dbdb"/><rect y="1388.4" width="24" height="3.0" fill="#e0dff1"/><rect y="1393.9" width="24" height="2.0" fill="#b74e4e"/><rect y="1398.7" width="24" height="3.0" fill="#7977bf"/><rect y="1407.6" width="24" height="3.0" fill="#e7e6f4"/></g>
<g transform="translate(1093.70 0)"><rect y="783.4" width="24" height="82.7" fill="#e0ceda"/><rect y="865.9" width="24" height="140.9" fill="#dfacad"/><rect y="1006.6" width="24" height="93.6" fill="#e4c9cf"/><rect y="1100.0" width="24" height="93.7" fill="#dbcddd"/><rect y="1193.5" width="24" height="53.0" fill="#b8b3d9"/><rect y="1246.2" width="24" height="171.0" fill="#8987c5"/><rect y="786.5" width="24" height="2.0" fill="#d69292"/><rect y="794.8" width="24" height="1.2" fill="#4442a2"/><rect y="798.8" width="24" height="1.2" fill="#fdfafa"/><rect y="802.7" width="24" height="2.5" fill="#d18585"/><rect y="809.9" width="24" height="2.0" fill="#8c8ac8"/><rect y="816.6" width="24" height="1.2" fill="#edcbcb"/><rect y="820.8" width="24" height="1.2" fill="#a52828"/><rect y="825.0" width="24" height="2.5" fill="#c0bee1"/><rect y="833.0" width="24" height="1.2" fill="#eed0d0"/><rect y="838.0" width="24" height="1.2" fill="#706eba"/><rect y="844.6" width="24" height="2.5" fill="#36298e"/><rect y="853.0" width="24" height="2.5" fill="#faf1f1"/><rect y="858.5" width="24" height="1.5" fill="#9b99cf"/><rect y="865.6" width="24" height="1.5" fill="#db9e9e"/><rect y="872.3" width="24" height="2.0" fill="#c97474"/><rect y="880.4" width="24" height="1.2" fill="#d69292"/><rect y="888.2" width="24" height="3.0" fill="#efd1d1"/><rect y="895.5" width="24" height="2.5" fill="#f4dfdf"/><rect y="902.3" width="24" height="1.2" fill="#cf8181"/><rect y="909.7" width="24" height="1.5" fill="#efd2d2"/><rect y="914.6" width="24" height="2.5" fill="#e7bdbd"/><rect y="922.1" width="24" height="3.0" fill="#fefefe"/><rect y="927.2" width="24" height="1.5" fill="#f9efef"/><rect y="930.5" width="24" height="1.5" fill="#e2aeae"/><rect y="937.2" width="24" height="1.2" fill="#e4b5b5"/><rect y="941.9" width="24" height="1.5" fill="#d38a8a"/><rect y="945.0" width="24" height="2.5" fill="#b74d4d"/><rect y="953.8" width="24" height="1.2" fill="#a52828"/><rect y="957.6" width="24" height="2.5" fill="#f2dada"/><rect y="965.0" width="24" height="1.5" fill="#8482c4"/><rect y="968.9" width="24" height="2.0" fill="#9e9cd1"/><rect y="975.5" width="24" height="2.5" fill="#e5b8b8"/><rect y="984.3" width="24" height="2.0" fill="#b64c4c"/><rect y="988.7" width="24" height="3.0" fill="#da9a9a"/><rect y="996.5" width="24" height="2.0" fill="#d79393"/><rect y="1003.1" width="24" height="1.2" fill="#d58e8e"/><rect y="1010.5" width="24" height="2.0" fill="#c66e6e"/><rect y="1016.6" width="24" height="2.5" fill="#f7eaea"/><rect y="1023.3" width="24" height="2.5" fill="#b14242"/><rect y="1028.3" width="24" height="2.0" fill="#a09ed2"/><rect y="1032.8" width="24" height="1.2" fill="#e6e5f3"/><rect y="1038.1" width="24" height="2.5" fill="#d7d6ec"/><rect y="1047.0" width="24" height="1.5" fill="#f6f5fb"/><rect y="1054.5" width="24" height="1.2" fill="#b24242"/><rect y="1058.0" width="24" height="2.0" fill="#c87373"/><rect y="1065.7" width="24" height="1.2" fill="#cc7a7a"/><rect y="1073.1" width="24" height="2.0" fill="#d38a8a"/><rect y="1079.7" width="24" height="3.0" fill="#efd1d1"/><rect y="1085.3" width="24" height="1.5" fill="#eccbcb"/><rect y="1090.7" width="24" height="2.0" fill="#f6e6e6"/><rect y="1094.9" width="24" height="2.5" fill="#f1d8d8"/><rect y="1101.0" width="24" height="2.5" fill="#bc5858"/><rect y="1105.2" width="24" height="1.5" fill="#d99999"/><rect y="1112.3" width="24" height="2.5" fill="#b7b6dd"/><rect y="1119.8" width="24" height="2.0" fill="#9593cc"/><rect y="1127.1" width="24" height="1.2" fill="#e5b6b6"/><rect y="1134.7" width="24" height="2.5" fill="#f3dede"/><rect y="1143.4" width="24" height="1.5" fill="#fbf4f4"/><rect y="1150.8" width="24" height="2.0" fill="#a52828"/><rect y="1155.9" width="24" height="1.2" fill="#b14141"/><rect y="1163.1" width="24" height="1.2" fill="#dda2a2"/><rect y="1166.2" width="24" height="1.5" fill="#4442a2"/><rect y="1170.7" width="24" height="2.5" fill="#4644a4"/><rect y="1175.3" width="24" height="1.5" fill="#34248a"/><rect y="1180.2" width="24" height="1.2" fill="#e8e7f4"/><rect y="1183.5" width="24" height="1.2" fill="#be5d5d"/><rect y="1187.2" width="24" height="1.5" fill="#d38b8b"/><rect y="1193.3" width="24" height="1.5" fill="#cb7777"/><rect y="1198.3" width="24" height="1.5" fill="#372b91"/><rect y="1205.0" width="24" height="3.0" fill="#f3f3fa"/><rect y="1212.0" width="24" height="3.0" fill="#4d4ba7"/><rect y="1218.6" width="24" height="2.0" fill="#ac3636"/><rect y="1226.5" width="24" height="3.0" fill="#4846a4"/><rect y="1231.6" width="24" height="3.0" fill="#fbf5f5"/><rect y="1240.9" width="24" height="1.5" fill="#7775be"/><rect y="1247.9" width="24" height="1.5" fill="#b4b2dc"/><rect y="1253.9" width="24" height="2.5" fill="#34248a"/><rect y="1257.9" width="24" height="1.5" fill="#5654ac"/><rect y="1263.8" width="24" height="3.0" fill="#3c3a9e"/><rect y="1271.3" width="24" height="3.0" fill="#f9f9fc"/><rect y="1276.6" width="24" height="1.2" fill="#6765b6"/><rect y="1281.9" width="24" height="1.5" fill="#c0bfe2"/><rect y="1286.8" width="24" height="2.0" fill="#b7b6dd"/><rect y="1292.5" width="24" height="1.5" fill="#4a48a6"/><rect y="1295.6" width="24" height="1.5" fill="#8b89c7"/><rect y="1303.4" width="24" height="1.5" fill="#f5e3e3"/><rect y="1311.3" width="24" height="2.0" fill="#4a48a6"/><rect y="1315.5" width="24" height="1.2" fill="#716fba"/><rect y="1320.4" width="24" height="1.5" fill="#8684c5"/><rect y="1326.9" width="24" height="2.5" fill="#6e6cb9"/><rect y="1331.5" width="24" height="2.5" fill="#372c91"/><rect y="1339.0" width="24" height="1.2" fill="#6563b4"/><rect y="1341.7" width="24" height="2.5" fill="#7e7cc1"/><rect y="1351.2" width="24" height="2.0" fill="#7a78bf"/><rect y="1357.4" width="24" height="1.5" fill="#f9f9fc"/><rect y="1363.8" width="24" height="3.0" fill="#34248a"/><rect y="1370.1" width="24" height="1.5" fill="#6a68b7"/><rect y="1373.5" width="24" height="1.2" fill="#9c9ad0"/><rect y="1378.5" width="24" height="2.5" fill="#5250aa"/><rect y="1382.9" width="24" height="3.0" fill="#d7d6ec"/><rect y="1388.4" width="24" height="1.2" fill="#6d6bb8"/><rect y="1391.9" width="24" height="2.0" fill="#f8ebeb"/><rect y="1400.2" width="24" height="2.5" fill="#7977be"/><rect y="1408.3" width="24" height="1.2" fill="#716fbb"/><rect y="1411.3" width="24" height="2.0" fill="#dedef0"/></g>
<g transform="translate(1120.10 0)"><rect y="783.4" width="24" height="86.2" fill="#b8b3d9"/><rect y="869.4" width="24" height="38.9" fill="#e0ceda"/><rect y="908.1" width="24" height="192.0" fill="#e2b5b7"/><rect y="1100.0" width="24" height="118.3" fill="#e0ceda"/><rect y="1218.1" width="24" height="26.6" fill="#c3bcdc"/><rect y="1244.5" width="24" height="96.9" fill="#7e7bbf"/><rect y="1341.2" width="24" height="76.0" fill="#a19ed0"/><rect y="787.5" width="24" height="1.5" fill="#e1e0f1"/><rect y="794.6" width="24" height="1.2" fill="#fefbfb"/><rect y="800.5" width="24" height="2.0" fill="#ebc6c6"/><rect y="805.3" width="24" height="2.5" fill="#bfbde1"/><rect y="814.3" width="24" height="3.0" fill="#b4b2dc"/><rect y="819.6" width="24" height="3.0" fill="#eeedf7"/><rect y="824.1" width="24" height="1.5" fill="#9c9ad0"/><rect y="828.0" width="24" height="2.0" fill="#3a3499"/><rect y="832.5" width="24" height="2.5" fill="#a19fd3"/><rect y="837.1" width="24" height="1.2" fill="#f2d9d9"/><rect y="840.6" width="24" height="3.0" fill="#b3b1db"/><rect y="849.4" width="24" height="2.0" fill="#8c8ac8"/><rect y="856.3" width="24" height="1.5" fill="#f9efef"/><rect y="862.3" width="24" height="2.0" fill="#c7c6e5"/><rect y="871.0" width="24" height="3.0" fill="#b6b4dd"/><rect y="878.3" width="24" height="1.2" fill="#f2d9d9"/><rect y="881.8" width="24" height="1.5" fill="#d38989"/><rect y="889.5" width="24" height="2.0" fill="#a52828"/><rect y="894.3" width="24" height="2.5" fill="#e3b3b3"/><rect y="901.6" width="24" height="1.5" fill="#e7e6f4"/><rect y="908.6" width="24" height="1.2" fill="#a52828"/><rect y="913.4" width="24" height="3.0" fill="#d08383"/><rect y="921.7" width="24" height="2.5" fill="#eac4c4"/><rect y="930.1" width="24" height="1.2" fill="#f5e2e2"/><rect y="933.0" width="24" height="3.0" fill="#d08484"/><rect y="942.9" width="24" height="3.0" fill="#eed0d0"/><rect y="950.9" width="24" height="3.0" fill="#eac5c5"/><rect y="960.2" width="24" height="3.0" fill="#f8ebeb"/><rect y="969.0" width="24" height="3.0" fill="#c87272"/><rect y="974.7" width="24" height="2.5" fill="#eac3c3"/><rect y="979.5" width="24" height="2.0" fill="#d08383"/><rect y="983.4" width="24" height="1.5" fill="#d28888"/><rect y="991.4" width="24" height="2.5" fill="#e8e7f4"/><rect y="996.6" width="24" height="2.0" fill="#b8b6de"/><rect y="1000.6" width="24" height="1.5" fill="#efd1d1"/><rect y="1003.8" width="24" height="3.0" fill="#ebc8c8"/><rect y="1012.3" width="24" height="3.0" fill="#eeeef7"/><rect y="1016.9" width="24" height="3.0" fill="#f9eeee"/><rect y="1021.8" width="24" height="1.2" fill="#c87272"/><rect y="1027.3" width="24" height="2.5" fill="#fefbfb"/><rect y="1033.7" width="24" height="2.0" fill="#fdfafa"/><rect y="1040.3" width="24" height="1.2" fill="#f3dcdc"/><rect y="1048.3" width="24" height="2.0" fill="#f9efef"/><rect y="1052.8" width="24" height="2.5" fill="#d2d1ea"/><rect y="1058.1" width="24" height="2.5" fill="#c3c1e3"/><rect y="1065.7" width="24" height="3.0" fill="#d59090"/><rect y="1072.6" width="24" height="1.5" fill="#bc5959"/><rect y="1080.8" width="24" height="2.5" fill="#c7c6e5"/><rect y="1089.1" width="24" height="2.0" fill="#c9c7e5"/><rect y="1096.9" width="24" height="1.2" fill="#dea5a5"/><rect y="1099.9" width="24" height="1.5" fill="#e4b4b4"/><rect y="1103.0" width="24" height="3.0" fill="#8e8cc9"/><rect y="1110.5" width="24" height="1.2" fill="#e1acac"/><rect y="1115.1" width="24" height="2.5" fill="#b95252"/><rect y="1121.8" width="24" height="2.0" fill="#c6c5e4"/><rect y="1130.4" width="24" height="2.0" fill="#d4d3eb"/><rect y="1136.4" width="24" height="1.5" fill="#706eba"/><rect y="1144.8" width="24" height="2.0" fill="#a52828"/><rect y="1151.0" width="24" height="1.2" fill="#fcf6f6"/><rect y="1157.1" width="24" height="1.2" fill="#8e8cc9"/><rect y="1160.4" width="24" height="1.2" fill="#a52828"/><rect y="1163.3" width="24" height="2.5" fill="#4240a2"/><rect y="1167.6" width="24" height="1.2" fill="#f7e7e7"/><rect y="1171.6" width="24" height="2.0" fill="#ebc7c7"/><rect y="1177.2" width="24" height="2.5" fill="#d38b8b"/><rect y="1183.8" width="24" height="1.2" fill="#d28787"/><rect y="1187.4" width="24" height="2.5" fill="#d4d3eb"/><rect y="1192.3" width="24" height="3.0" fill="#cc7a7a"/><rect y="1200.9" width="24" height="2.0" fill="#ebc6c6"/><rect y="1208.2" width="24" height="1.2" fill="#ebeaf6"/><rect y="1215.1" width="24" height="2.5" fill="#4846a4"/><rect y="1221.7" width="24" height="2.5" fill="#5d5bb0"/><rect y="1226.3" width="24" height="1.2" fill="#bebce0"/><rect y="1231.5" width="24" height="2.5" fill="#9c9ad0"/><rect y="1239.5" width="24" height="2.0" fill="#eccaca"/><rect y="1248.1" width="24" height="2.0" fill="#34248a"/><rect y="1253.6" width="24" height="2.0" fill="#382e93"/><rect y="1259.6" width="24" height="2.0" fill="#4e4ca8"/><rect y="1263.5" width="24" height="3.0" fill="#6664b5"/><rect y="1272.9" width="24" height="2.5" fill="#4b49a6"/><rect y="1279.8" width="24" height="2.5" fill="#615fb2"/><rect y="1284.3" width="24" height="2.0" fill="#a3a1d3"/><rect y="1292.0" width="24" height="3.0" fill="#a8a6d6"/><rect y="1297.6" width="24" height="1.5" fill="#5f5db1"/><rect y="1304.0" width="24" height="1.5" fill="#908eca"/><rect y="1311.8" width="24" height="3.0" fill="#b8b6dd"/><rect y="1319.4" width="24" height="2.0" fill="#7674bd"/><rect y="1328.0" width="24" height="2.0" fill="#5452ab"/><rect y="1335.3" width="24" height="2.0" fill="#4846a5"/><rect y="1342.2" width="24" height="2.0" fill="#8c8ac8"/><rect y="1348.2" width="24" height="1.5" fill="#5e5cb1"/><rect y="1352.6" width="24" height="2.5" fill="#dbdbee"/><rect y="1361.8" width="24" height="1.5" fill="#fefdfd"/><rect y="1368.8" width="24" height="1.2" fill="#393196"/><rect y="1376.7" width="24" height="1.5" fill="#6765b5"/><rect y="1380.9" width="24" height="2.0" fill="#8d8bc8"/><rect y="1385.8" width="24" height="1.5" fill="#dad9ed"/><rect y="1392.5" width="24" height="2.5" fill="#e2aeae"/><rect y="1397.9" width="24" height="2.5" fill="#514faa"/><rect y="1406.8" width="24" height="2.0" fill="#393398"/><rect y="1412.3" width="24" height="1.2" fill="#5856ad"/></g>
<g transform="translate(1146.50 0)"><rect y="783.4" width="24" height="47.6" fill="#dbcddd"/><rect y="830.8" width="24" height="60.0" fill="#e3cdd5"/><rect y="890.5" width="24" height="209.6" fill="#e4bdc0"/><rect y="1100.0" width="24" height="118.3" fill="#dbcddd"/><rect y="1218.1" width="24" height="26.6" fill="#b8b3d9"/><rect y="1244.5" width="24" height="172.7" fill="#8987c5"/><rect y="788.4" width="24" height="1.5" fill="#f7e9e9"/><rect y="796.8" width="24" height="2.5" fill="#382f94"/><rect y="802.5" width="24" height="2.0" fill="#382f94"/><rect y="809.3" width="24" height="1.2" fill="#6664b5"/><rect y="816.3" width="24" height="2.0" fill="#dda3a3"/><rect y="823.6" width="24" height="1.5" fill="#fcfcfd"/><rect y="830.4" width="24" height="3.0" fill="#4846a5"/><rect y="839.4" width="24" height="2.0" fill="#e7bbbb"/><rect y="845.6" width="24" height="2.0" fill="#9795ce"/><rect y="851.9" width="24" height="3.0" fill="#a6a4d5"/><rect y="861.1" width="24" height="2.0" fill="#e2afaf"/><rect y="865.0" width="24" height="1.2" fill="#a72c2c"/><rect y="871.3" width="24" height="3.0" fill="#fdfafa"/><rect y="878.3" width="24" height="2.0" fill="#7876be"/><rect y="886.2" width="24" height="1.5" fill="#d28787"/><rect y="889.6" width="24" height="1.5" fill="#fdf9f9"/><rect y="898.0" width="24" height="2.5" fill="#d08383"/><rect y="903.6" width="24" height="1.2" fill="#eccaca"/><rect y="908.8" width="24" height="2.0" fill="#6a68b7"/><rect y="915.7" width="24" height="1.5" fill="#f6f6fb"/><rect y="919.9" width="24" height="2.5" fill="#dda4a4"/><rect y="927.7" width="24" height="2.5" fill="#e6bbbb"/><rect y="933.3" width="24" height="3.0" fill="#cf8181"/><rect y="942.3" width="24" height="1.2" fill="#d48b8b"/><rect y="946.2" width="24" height="1.2" fill="#f3dfdf"/><rect y="952.7" width="24" height="2.5" fill="#f6e4e4"/><rect y="962.1" width="24" height="2.0" fill="#e6baba"/><rect y="970.5" width="24" height="1.5" fill="#9694cd"/><rect y="975.6" width="24" height="1.5" fill="#ffffff"/><rect y="983.2" width="24" height="2.5" fill="#e3b2b2"/><rect y="989.1" width="24" height="3.0" fill="#b95252"/><rect y="996.6" width="24" height="2.5" fill="#6361b3"/><rect y="1003.3" width="24" height="3.0" fill="#cac9e6"/><rect y="1007.8" width="24" height="3.0" fill="#d99898"/><rect y="1017.7" width="24" height="2.5" fill="#e8bebe"/><rect y="1023.8" width="24" height="1.5" fill="#4240a1"/><rect y="1028.1" width="24" height="2.5" fill="#c26464"/><rect y="1034.6" width="24" height="2.0" fill="#dea5a5"/><rect y="1038.1" width="24" height="2.5" fill="#cd7e7e"/><rect y="1046.5" width="24" height="1.5" fill="#fffefe"/><rect y="1052.2" width="24" height="2.5" fill="#b85050"/><rect y="1060.4" width="24" height="1.5" fill="#f0d6d6"/><rect y="1068.7" width="24" height="3.0" fill="#fcf5f5"/><rect y="1076.4" width="24" height="3.0" fill="#fdf8f8"/><rect y="1084.5" width="24" height="2.5" fill="#c16262"/><rect y="1093.0" width="24" height="1.5" fill="#c36666"/><rect y="1098.3" width="24" height="1.2" fill="#bdbbe0"/><rect y="1101.4" width="24" height="3.0" fill="#e3b3b3"/><rect y="1110.8" width="24" height="2.5" fill="#f6e5e5"/><rect y="1119.6" width="24" height="1.2" fill="#aaa8d7"/><rect y="1125.1" width="24" height="3.0" fill="#f1d8d8"/><rect y="1131.0" width="24" height="1.2" fill="#d28787"/><rect y="1136.5" width="24" height="1.2" fill="#e7bdbd"/><rect y="1143.8" width="24" height="2.0" fill="#ca7777"/><rect y="1151.7" width="24" height="3.0" fill="#d99999"/><rect y="1156.9" width="24" height="2.0" fill="#d3d2ea"/><rect y="1164.4" width="24" height="3.0" fill="#dda4a4"/><rect y="1171.6" width="24" height="3.0" fill="#fdf8f8"/><rect y="1177.8" width="24" height="1.5" fill="#3c3a9e"/><rect y="1181.2" width="24" height="2.0" fill="#f8ecec"/><rect y="1187.2" width="24" height="1.2" fill="#dda2a2"/><rect y="1192.0" width="24" height="2.0" fill="#b03f3f"/><rect y="1200.5" width="24" height="2.5" fill="#e3b1b1"/><rect y="1209.4" width="24" height="1.2" fill="#4947a5"/><rect y="1215.1" width="24" height="3.0" fill="#35288e"/><rect y="1223.7" width="24" height="3.0" fill="#dda3a3"/><rect y="1232.0" width="24" height="2.5" fill="#fdfafa"/><rect y="1237.5" width="24" height="1.2" fill="#dfdff0"/><rect y="1241.1" width="24" height="2.0" fill="#514fa9"/><rect y="1244.9" width="24" height="2.0" fill="#bab8de"/><rect y="1253.2" width="24" height="2.0" fill="#4e4ca8"/><rect y="1261.3" width="24" height="1.5" fill="#34248a"/><rect y="1267.8" width="24" height="2.5" fill="#f8ebeb"/><rect y="1272.4" width="24" height="1.2" fill="#403ea0"/><rect y="1280.1" width="24" height="1.5" fill="#3c399d"/><rect y="1283.9" width="24" height="1.2" fill="#5c5ab0"/><rect y="1288.1" width="24" height="1.5" fill="#382e93"/><rect y="1291.3" width="24" height="1.2" fill="#8482c4"/><rect y="1298.5" width="24" height="1.2" fill="#3c399d"/><rect y="1304.8" width="24" height="2.0" fill="#382f94"/><rect y="1313.0" width="24" height="1.2" fill="#fefdfd"/><rect y="1319.5" width="24" height="2.5" fill="#615fb2"/><rect y="1324.4" width="24" height="2.0" fill="#514fa9"/><rect y="1331.9" width="24" height="2.5" fill="#ffffff"/><rect y="1337.0" width="24" height="2.5" fill="#9a98cf"/><rect y="1346.2" width="24" height="2.5" fill="#4a48a6"/><rect y="1354.5" width="24" height="1.2" fill="#6664b5"/><rect y="1357.9" width="24" height="1.2" fill="#8a88c7"/><rect y="1364.6" width="24" height="1.2" fill="#5e5cb0"/><rect y="1369.6" width="24" height="3.0" fill="#faf2f2"/><rect y="1375.4" width="24" height="2.5" fill="#5553ac"/><rect y="1382.9" width="24" height="1.2" fill="#fdfdfe"/><rect y="1389.7" width="24" height="2.0" fill="#5957ae"/><rect y="1394.1" width="24" height="2.0" fill="#faf0f0"/><rect y="1403.0" width="24" height="1.2" fill="#5e5cb1"/><rect y="1409.5" width="24" height="3.0" fill="#b1afda"/></g>
<g transform="translate(1172.90 0)"><rect y="783.4" width="24" height="89.8" fill="#8987c5"/><rect y="873.0" width="24" height="35.4" fill="#dbcddd"/><rect y="908.1" width="24" height="158.5" fill="#dfacad"/><rect y="1066.4" width="24" height="33.8" fill="#d89999"/><rect y="1100.0" width="24" height="153.5" fill="#d89999"/><rect y="1253.3" width="24" height="163.9" fill="#6966b4"/><rect y="783.4" width="24" height="1.2" fill="#b9b7de"/><rect y="790.6" width="24" height="1.2" fill="#5a58ae"/><rect y="795.7" width="24" height="1.2" fill="#9a98cf"/><rect y="803.8" width="24" height="1.5" fill="#d1d0ea"/><rect y="811.4" width="24" height="3.0" fill="#3a359a"/><rect y="818.9" width="24" height="2.0" fill="#6c6ab8"/><rect y="823.9" width="24" height="2.0" fill="#6765b6"/><rect y="828.9" width="24" height="1.5" fill="#8d8bc8"/><rect y="834.2" width="24" height="3.0" fill="#9997ce"/><rect y="840.9" width="24" height="3.0" fill="#e4e4f3"/><rect y="845.6" width="24" height="2.0" fill="#bbb9df"/><rect y="849.3" width="24" height="1.5" fill="#4b49a6"/><rect y="854.5" width="24" height="1.2" fill="#d4d3eb"/><rect y="860.6" width="24" height="1.5" fill="#6361b3"/><rect y="865.9" width="24" height="2.0" fill="#4f4da8"/><rect y="870.0" width="24" height="1.2" fill="#9694cd"/><rect y="872.9" width="24" height="1.2" fill="#bbb9df"/><rect y="878.6" width="24" height="1.2" fill="#d0cfe9"/><rect y="885.3" width="24" height="2.0" fill="#7876be"/><rect y="890.1" width="24" height="3.0" fill="#fdfafa"/><rect y="897.7" width="24" height="3.0" fill="#6967b7"/><rect y="902.4" width="24" height="1.2" fill="#f2dbdb"/><rect y="908.6" width="24" height="1.2" fill="#f5e3e3"/><rect y="911.8" width="24" height="2.5" fill="#d18686"/><rect y="919.6" width="24" height="2.0" fill="#db9d9d"/><rect y="924.3" width="24" height="2.5" fill="#db9e9e"/><rect y="933.2" width="24" height="2.5" fill="#f9efef"/><rect y="939.1" width="24" height="1.2" fill="#d28787"/><rect y="946.8" width="24" height="1.2" fill="#f5e3e3"/><rect y="952.5" width="24" height="2.5" fill="#bd5a5a"/><rect y="959.4" width="24" height="2.0" fill="#d38989"/><rect y="965.9" width="24" height="1.5" fill="#e1adad"/><rect y="973.4" width="24" height="2.0" fill="#e8bebe"/><rect y="980.8" width="24" height="1.2" fill="#e2b1b1"/><rect y="987.9" width="24" height="1.2" fill="#d28787"/><rect y="991.0" width="24" height="2.5" fill="#eac3c3"/><rect y="995.3" width="24" height="2.0" fill="#e5b7b7"/><rect y="1003.8" width="24" height="1.5" fill="#d38b8b"/><rect y="1011.5" width="24" height="1.2" fill="#f5e4e4"/><rect y="1018.7" width="24" height="1.5" fill="#c5c4e4"/><rect y="1024.3" width="24" height="3.0" fill="#d59090"/><rect y="1031.3" width="24" height="3.0" fill="#c46969"/><rect y="1040.1" width="24" height="1.5" fill="#e2afaf"/><rect y="1044.2" width="24" height="3.0" fill="#dea4a4"/><rect y="1053.0" width="24" height="1.2" fill="#efd2d2"/><rect y="1060.6" width="24" height="3.0" fill="#eccbcb"/><rect y="1068.4" width="24" height="1.2" fill="#d69191"/><rect y="1071.8" width="24" height="2.5" fill="#db9f9f"/><rect y="1079.4" width="24" height="3.0" fill="#b14141"/><rect y="1086.9" width="24" height="2.5" fill="#e9c1c1"/><rect y="1096.1" width="24" height="1.2" fill="#c46a6a"/><rect y="1100.5" width="24" height="1.5" fill="#e3b2b2"/><rect y="1103.8" width="24" height="3.0" fill="#dda4a4"/><rect y="1109.9" width="24" height="2.5" fill="#d89595"/><rect y="1114.1" width="24" height="2.5" fill="#eccbcb"/><rect y="1119.3" width="24" height="2.5" fill="#bb5757"/><rect y="1124.8" width="24" height="2.5" fill="#d08484"/><rect y="1129.0" width="24" height="1.2" fill="#d38b8b"/><rect y="1132.1" width="24" height="2.0" fill="#e5b8b8"/><rect y="1139.1" width="24" height="2.0" fill="#f4dfdf"/><rect y="1147.6" width="24" height="1.2" fill="#ebc7c7"/><rect y="1152.3" width="24" height="3.0" fill="#e5b6b6"/><rect y="1158.1" width="24" height="1.2" fill="#d48d8d"/><rect y="1165.0" width="24" height="1.2" fill="#e3e3f2"/><rect y="1169.6" width="24" height="1.5" fill="#c66e6e"/><rect y="1175.3" width="24" height="1.5" fill="#d79393"/><rect y="1181.4" width="24" height="1.5" fill="#dfa9a9"/><rect y="1189.8" width="24" height="2.0" fill="#b85050"/><rect y="1196.9" width="24" height="2.0" fill="#b03f3f"/><rect y="1203.2" width="24" height="2.0" fill="#c56b6b"/><rect y="1211.2" width="24" height="1.2" fill="#eac5c5"/><rect y="1218.1" width="24" height="3.0" fill="#dca0a0"/><rect y="1226.3" width="24" height="2.5" fill="#e0acac"/><rect y="1233.8" width="24" height="2.5" fill="#f7e8e8"/><rect y="1240.3" width="24" height="3.0" fill="#e7bdbd"/><rect y="1245.4" width="24" height="1.5" fill="#fbfbfd"/><rect y="1253.1" width="24" height="2.0" fill="#f2dada"/><rect y="1258.8" width="24" height="1.5" fill="#7270bb"/><rect y="1267.2" width="24" height="3.0" fill="#b7b6dd"/><rect y="1276.8" width="24" height="1.5" fill="#504ea9"/><rect y="1281.1" width="24" height="3.0" fill="#9896ce"/><rect y="1289.5" width="24" height="1.2" fill="#4b49a6"/><rect y="1296.9" width="24" height="1.2" fill="#8482c4"/><rect y="1302.1" width="24" height="1.2" fill="#7775bd"/><rect y="1306.5" width="24" height="2.0" fill="#4341a2"/><rect y="1314.8" width="24" height="1.5" fill="#393196"/><rect y="1318.0" width="24" height="1.5" fill="#5452ab"/><rect y="1324.0" width="24" height="2.5" fill="#b7b6dd"/><rect y="1328.2" width="24" height="1.2" fill="#9e9cd1"/><rect y="1333.3" width="24" height="3.0" fill="#382e93"/><rect y="1338.9" width="24" height="1.5" fill="#9c9ad0"/><rect y="1347.4" width="24" height="2.0" fill="#aaa8d7"/><rect y="1354.2" width="24" height="2.5" fill="#4e4ca8"/><rect y="1360.3" width="24" height="2.0" fill="#6765b5"/><rect y="1368.9" width="24" height="2.0" fill="#6967b7"/><rect y="1372.4" width="24" height="1.5" fill="#5250aa"/><rect y="1377.3" width="24" height="2.5" fill="#393297"/><rect y="1386.7" width="24" height="1.5" fill="#cdcce8"/><rect y="1390.1" width="24" height="3.0" fill="#3c3a9e"/><rect y="1395.5" width="24" height="2.0" fill="#8e8cc9"/><rect y="1403.1" width="24" height="1.5" fill="#5b59af"/><rect y="1411.5" width="24" height="1.5" fill="#4c4aa7"/></g>
<g transform="translate(1199.30 0)"><rect y="783.4" width="24" height="72.2" fill="#8987c5"/><rect y="855.4" width="24" height="53.0" fill="#e3cdd5"/><rect y="908.1" width="24" height="192.0" fill="#d89999"/><rect y="1100.0" width="24" height="153.5" fill="#d48e8f"/><rect y="1253.3" width="24" height="163.9" fill="#605daf"/><rect y="788.7" width="24" height="2.5" fill="#4b49a6"/><rect y="797.3" width="24" height="2.5" fill="#8381c4"/><rect y="806.1" width="24" height="2.5" fill="#aba9d7"/><rect y="810.6" width="24" height="3.0" fill="#5755ad"/><rect y="818.8" width="24" height="2.5" fill="#dad9ee"/><rect y="823.6" width="24" height="3.0" fill="#382e93"/><rect y="828.9" width="24" height="1.2" fill="#9a98cf"/><rect y="833.7" width="24" height="2.5" fill="#6c6ab8"/><rect y="842.6" width="24" height="2.5" fill="#b6b5dd"/><rect y="849.6" width="24" height="1.2" fill="#cecde8"/><rect y="852.6" width="24" height="2.5" fill="#5654ac"/><rect y="859.2" width="24" height="1.2" fill="#d48b8b"/><rect y="867.2" width="24" height="3.0" fill="#e0aaaa"/><rect y="875.6" width="24" height="3.0" fill="#9f9dd2"/><rect y="885.4" width="24" height="2.0" fill="#eac4c4"/><rect y="890.4" width="24" height="2.5" fill="#c8c7e5"/><rect y="895.9" width="24" height="3.0" fill="#fefcfc"/><rect y="901.0" width="24" height="1.5" fill="#8583c5"/><rect y="907.6" width="24" height="2.0" fill="#dca1a1"/><rect y="915.1" width="24" height="1.5" fill="#e0aaaa"/><rect y="918.6" width="24" height="1.5" fill="#cb7878"/><rect y="924.1" width="24" height="3.0" fill="#dca1a1"/><rect y="930.6" width="24" height="2.5" fill="#d48d8d"/><rect y="938.1" width="24" height="1.5" fill="#e6bbbb"/><rect y="945.8" width="24" height="2.5" fill="#efd2d2"/><rect y="953.7" width="24" height="2.5" fill="#e3b3b3"/><rect y="958.0" width="24" height="1.5" fill="#ebc7c7"/><rect y="961.9" width="24" height="2.5" fill="#c87272"/><rect y="968.8" width="24" height="2.5" fill="#e3b3b3"/><rect y="977.9" width="24" height="3.0" fill="#cd7c7c"/><rect y="987.0" width="24" height="3.0" fill="#ca7777"/><rect y="996.3" width="24" height="1.5" fill="#d58f8f"/><rect y="1000.2" width="24" height="2.5" fill="#d79393"/><rect y="1006.4" width="24" height="1.2" fill="#f4e0e0"/><rect y="1014.3" width="24" height="2.0" fill="#cb7878"/><rect y="1022.1" width="24" height="2.5" fill="#d58f8f"/><rect y="1027.8" width="24" height="3.0" fill="#be5c5c"/><rect y="1034.3" width="24" height="1.2" fill="#d18585"/><rect y="1040.7" width="24" height="2.5" fill="#f9eded"/><rect y="1045.2" width="24" height="3.0" fill="#c77070"/><rect y="1050.5" width="24" height="2.0" fill="#dca2a2"/><rect y="1054.6" width="24" height="2.0" fill="#a8a6d6"/><rect y="1061.1" width="24" height="2.5" fill="#d69292"/><rect y="1069.9" width="24" height="3.0" fill="#c77070"/><rect y="1077.6" width="24" height="2.5" fill="#eccaca"/><rect y="1084.5" width="24" height="2.5" fill="#bf5e5e"/><rect y="1088.7" width="24" height="1.2" fill="#fcf8f8"/><rect y="1092.7" width="24" height="2.5" fill="#b74d4d"/><rect y="1100.6" width="24" height="1.5" fill="#c77171"/><rect y="1107.1" width="24" height="1.5" fill="#d48c8c"/><rect y="1110.9" width="24" height="1.5" fill="#a52828"/><rect y="1119.2" width="24" height="2.0" fill="#d69090"/><rect y="1125.3" width="24" height="2.5" fill="#ecc9c9"/><rect y="1134.7" width="24" height="1.2" fill="#d28989"/><rect y="1141.0" width="24" height="1.5" fill="#be5d5d"/><rect y="1146.0" width="24" height="2.5" fill="#dca1a1"/><rect y="1152.6" width="24" height="3.0" fill="#d59090"/><rect y="1157.8" width="24" height="2.5" fill="#d99999"/><rect y="1165.4" width="24" height="3.0" fill="#bd5959"/><rect y="1175.0" width="24" height="2.0" fill="#af3d3d"/><rect y="1180.7" width="24" height="2.0" fill="#a93030"/><rect y="1188.2" width="24" height="2.5" fill="#dda2a2"/><rect y="1192.3" width="24" height="2.0" fill="#e2b0b0"/><rect y="1199.0" width="24" height="2.5" fill="#e0abab"/><rect y="1205.9" width="24" height="1.2" fill="#ce7e7e"/><rect y="1210.4" width="24" height="1.2" fill="#a52828"/><rect y="1216.7" width="24" height="2.0" fill="#d38989"/><rect y="1221.2" width="24" height="3.0" fill="#cf8181"/><rect y="1227.5" width="24" height="1.2" fill="#e4b4b4"/><rect y="1231.5" width="24" height="2.5" fill="#d48b8b"/><rect y="1236.3" width="24" height="2.5" fill="#dea6a6"/><rect y="1243.9" width="24" height="1.5" fill="#cd7d7d"/><rect y="1248.5" width="24" height="3.0" fill="#d58e8e"/><rect y="1255.3" width="24" height="1.2" fill="#4d4ba7"/><rect y="1262.6" width="24" height="2.0" fill="#382e93"/><rect y="1266.7" width="24" height="2.0" fill="#7876be"/><rect y="1274.1" width="24" height="1.2" fill="#7d7bc1"/><rect y="1277.8" width="24" height="2.5" fill="#5f5db1"/><rect y="1285.9" width="24" height="2.0" fill="#5b59af"/><rect y="1292.8" width="24" height="2.0" fill="#34248a"/><rect y="1301.8" width="24" height="1.5" fill="#362b90"/><rect y="1309.4" width="24" height="1.5" fill="#b7b5dd"/><rect y="1317.3" width="24" height="3.0" fill="#4442a2"/><rect y="1324.9" width="24" height="2.0" fill="#605eb1"/><rect y="1330.5" width="24" height="1.5" fill="#4846a4"/><rect y="1336.0" width="24" height="1.5" fill="#6462b4"/><rect y="1342.3" width="24" height="3.0" fill="#403ea0"/><rect y="1351.1" width="24" height="1.2" fill="#4a48a6"/><rect y="1353.8" width="24" height="2.0" fill="#8381c4"/><rect y="1360.8" width="24" height="2.0" fill="#372d92"/><rect y="1364.3" width="24" height="2.0" fill="#382e93"/><rect y="1373.0" width="24" height="1.2" fill="#5553ac"/><rect y="1377.5" width="24" height="1.2" fill="#6866b6"/><rect y="1382.2" width="24" height="3.0" fill="#383095"/><rect y="1387.0" width="24" height="2.0" fill="#4341a2"/><rect y="1392.2" width="24" height="3.0" fill="#6967b6"/><rect y="1401.4" width="24" height="1.5" fill="#36298e"/><rect y="1405.6" width="24" height="3.0" fill="#5c5ab0"/></g>
<g transform="translate(1225.70 0)"><rect y="783.4" width="24" height="107.3" fill="#4b45a1"/><rect y="890.5" width="24" height="21.3" fill="#a19ed0"/><rect y="911.6" width="24" height="154.9" fill="#e0ceda"/><rect y="1066.4" width="24" height="33.8" fill="#cb7a7a"/><rect y="1100.0" width="24" height="148.2" fill="#cb7a7a"/><rect y="1248.0" width="24" height="23.1" fill="#ccc4dd"/><rect y="1270.8" width="24" height="88.1" fill="#7e7bbf"/><rect y="1358.8" width="24" height="58.4" fill="#514ca6"/><rect y="783.5" width="24" height="3.0" fill="#6d6bb9"/><rect y="788.4" width="24" height="1.5" fill="#7977be"/><rect y="795.4" width="24" height="1.5" fill="#383095"/><rect y="799.4" width="24" height="1.2" fill="#4e4ca8"/><rect y="803.8" width="24" height="2.0" fill="#706eba"/><rect y="807.5" width="24" height="2.5" fill="#3b389c"/><rect y="812.4" width="24" height="3.0" fill="#5a58ae"/><rect y="820.8" width="24" height="1.2" fill="#393397"/><rect y="824.2" width="24" height="2.0" fill="#dcdbee"/><rect y="828.3" width="24" height="3.0" fill="#6563b4"/><rect y="837.5" width="24" height="2.0" fill="#4c4aa7"/><rect y="843.8" width="24" height="1.2" fill="#3a369a"/><rect y="849.9" width="24" height="1.2" fill="#34248a"/><rect y="857.0" width="24" height="1.2" fill="#9e9cd1"/><rect y="862.1" width="24" height="1.5" fill="#3b389c"/><rect y="865.3" width="24" height="3.0" fill="#372c91"/><rect y="869.9" width="24" height="1.5" fill="#34248a"/><rect y="873.3" width="24" height="3.0" fill="#34248a"/><rect y="879.6" width="24" height="2.0" fill="#7c7ac0"/><rect y="883.5" width="24" height="2.0" fill="#3c399d"/><rect y="891.2" width="24" height="2.0" fill="#5b59af"/><rect y="897.8" width="24" height="1.2" fill="#34248a"/><rect y="902.6" width="24" height="1.5" fill="#dcdbef"/><rect y="908.2" width="24" height="1.5" fill="#bcbadf"/><rect y="914.6" width="24" height="2.5" fill="#e5b8b8"/><rect y="918.7" width="24" height="2.0" fill="#f9eeee"/><rect y="925.3" width="24" height="3.0" fill="#8684c5"/><rect y="931.6" width="24" height="2.0" fill="#d99999"/><rect y="939.7" width="24" height="1.5" fill="#f4e1e1"/><rect y="943.3" width="24" height="3.0" fill="#7573bc"/><rect y="949.2" width="24" height="2.0" fill="#d58f8f"/><rect y="957.7" width="24" height="1.5" fill="#cf8080"/><rect y="961.1" width="24" height="2.5" fill="#deddef"/><rect y="965.9" width="24" height="2.0" fill="#cc7a7a"/><rect y="971.3" width="24" height="3.0" fill="#5250aa"/><rect y="981.0" width="24" height="2.0" fill="#807ec2"/><rect y="989.9" width="24" height="1.2" fill="#c46969"/><rect y="996.1" width="24" height="2.5" fill="#8e8cc9"/><rect y="1002.8" width="24" height="1.5" fill="#d28787"/><rect y="1011.2" width="24" height="1.5" fill="#f9efef"/><rect y="1019.2" width="24" height="2.5" fill="#a52828"/><rect y="1028.4" width="24" height="1.2" fill="#f9f8fc"/><rect y="1031.6" width="24" height="3.0" fill="#8a88c7"/><rect y="1041.1" width="24" height="1.2" fill="#f2dada"/><rect y="1044.6" width="24" height="3.0" fill="#c87272"/><rect y="1054.3" width="24" height="1.2" fill="#cd7d7d"/><rect y="1057.3" width="24" height="2.0" fill="#c26666"/><rect y="1065.8" width="24" height="1.2" fill="#b44747"/><rect y="1073.7" width="24" height="1.5" fill="#d38a8a"/><rect y="1077.3" width="24" height="1.5" fill="#e3b1b1"/><rect y="1084.1" width="24" height="3.0" fill="#b03e3e"/><rect y="1089.9" width="24" height="2.0" fill="#bf5f5f"/><rect y="1096.5" width="24" height="1.2" fill="#e4b4b4"/><rect y="1101.3" width="24" height="1.5" fill="#cb7777"/><rect y="1109.3" width="24" height="3.0" fill="#b54a4a"/><rect y="1114.5" width="24" height="2.5" fill="#d99999"/><rect y="1119.4" width="24" height="2.0" fill="#b85050"/><rect y="1123.7" width="24" height="2.5" fill="#c56b6b"/><rect y="1131.2" width="24" height="2.0" fill="#bf5f5f"/><rect y="1136.1" width="24" height="1.2" fill="#f1d6d6"/><rect y="1141.9" width="24" height="3.0" fill="#e4b4b4"/><rect y="1149.5" width="24" height="3.0" fill="#c97474"/><rect y="1156.9" width="24" height="2.5" fill="#c97373"/><rect y="1166.0" width="24" height="3.0" fill="#b03f3f"/><rect y="1171.7" width="24" height="1.5" fill="#b85050"/><rect y="1175.2" width="24" height="2.5" fill="#e4b5b5"/><rect y="1180.1" width="24" height="3.0" fill="#dda2a2"/><rect y="1185.9" width="24" height="1.5" fill="#d58d8d"/><rect y="1192.9" width="24" height="2.5" fill="#d58e8e"/><rect y="1201.7" width="24" height="3.0" fill="#d48b8b"/><rect y="1207.9" width="24" height="3.0" fill="#e6bbbb"/><rect y="1215.0" width="24" height="2.0" fill="#e9c0c0"/><rect y="1222.9" width="24" height="3.0" fill="#ca7575"/><rect y="1229.3" width="24" height="2.5" fill="#cb7878"/><rect y="1236.7" width="24" height="2.0" fill="#c36767"/><rect y="1242.8" width="24" height="1.5" fill="#e1adad"/><rect y="1248.3" width="24" height="3.0" fill="#d0cfe9"/><rect y="1256.1" width="24" height="2.5" fill="#fafafd"/><rect y="1262.5" width="24" height="2.5" fill="#bcbae0"/><rect y="1268.3" width="24" height="1.5" fill="#7775bd"/><rect y="1272.4" width="24" height="2.5" fill="#7b79c0"/><rect y="1279.3" width="24" height="2.5" fill="#4947a5"/><rect y="1284.8" width="24" height="3.0" fill="#ffffff"/><rect y="1294.8" width="24" height="2.5" fill="#35268c"/><rect y="1299.2" width="24" height="2.0" fill="#393297"/><rect y="1308.1" width="24" height="1.2" fill="#c7c5e4"/><rect y="1315.6" width="24" height="3.0" fill="#393397"/><rect y="1322.1" width="24" height="1.2" fill="#bfbde1"/><rect y="1328.8" width="24" height="1.2" fill="#3a3499"/><rect y="1336.6" width="24" height="1.5" fill="#706eba"/><rect y="1341.6" width="24" height="2.5" fill="#8a88c7"/><rect y="1348.6" width="24" height="1.2" fill="#4e4ca8"/><rect y="1355.6" width="24" height="3.0" fill="#e3e2f2"/><rect y="1364.6" width="24" height="1.5" fill="#4d4ba7"/><rect y="1368.0" width="24" height="2.5" fill="#3e3c9f"/><rect y="1374.8" width="24" height="2.5" fill="#382e93"/><rect y="1380.9" width="24" height="2.0" fill="#34248a"/><rect y="1389.3" width="24" height="2.5" fill="#34248a"/><rect y="1395.3" width="24" height="1.2" fill="#4846a4"/><rect y="1399.0" width="24" height="3.0" fill="#4846a4"/><rect y="1403.8" width="24" height="1.2" fill="#5755ad"/><rect y="1407.0" width="24" height="2.0" fill="#a19fd2"/><rect y="1411.8" width="24" height="1.5" fill="#382e93"/></g>
<g transform="translate(1252.10 0)"><rect y="783.4" width="24" height="103.8" fill="#4b45a1"/><rect y="887.0" width="24" height="24.8" fill="#b8b3d9"/><rect y="911.6" width="24" height="154.9" fill="#e4c9cf"/><rect y="1066.4" width="24" height="33.8" fill="#d48e8f"/><rect y="1100.0" width="24" height="155.3" fill="#cf8484"/><rect y="1255.0" width="24" height="103.9" fill="#9592cb"/><rect y="1358.8" width="24" height="58.4" fill="#5854aa"/><rect y="783.7" width="24" height="2.0" fill="#372e93"/><rect y="792.6" width="24" height="3.0" fill="#5250aa"/><rect y="800.4" width="24" height="1.2" fill="#6462b4"/><rect y="806.8" width="24" height="3.0" fill="#383095"/><rect y="814.3" width="24" height="2.0" fill="#3f3da0"/><rect y="821.3" width="24" height="3.0" fill="#34248a"/><rect y="826.4" width="24" height="1.2" fill="#372c91"/><rect y="833.3" width="24" height="3.0" fill="#382f94"/><rect y="840.6" width="24" height="3.0" fill="#34248a"/><rect y="847.5" width="24" height="3.0" fill="#6b69b8"/><rect y="852.2" width="24" height="3.0" fill="#5a58af"/><rect y="857.3" width="24" height="1.2" fill="#504ea9"/><rect y="862.8" width="24" height="2.5" fill="#34248a"/><rect y="871.8" width="24" height="2.0" fill="#34248a"/><rect y="878.6" width="24" height="1.5" fill="#5351aa"/><rect y="884.1" width="24" height="3.0" fill="#4e4ca8"/><rect y="889.7" width="24" height="1.2" fill="#f1d7d7"/><rect y="895.6" width="24" height="2.5" fill="#d48b8b"/><rect y="903.4" width="24" height="1.5" fill="#e2aeae"/><rect y="907.9" width="24" height="2.5" fill="#acaad8"/><rect y="913.3" width="24" height="3.0" fill="#d79393"/><rect y="919.4" width="24" height="2.5" fill="#a62b2b"/><rect y="925.0" width="24" height="2.5" fill="#9492cc"/><rect y="932.1" width="24" height="2.5" fill="#b64c4c"/><rect y="940.4" width="24" height="3.0" fill="#f8f8fc"/><rect y="948.8" width="24" height="3.0" fill="#faf0f0"/><rect y="956.3" width="24" height="3.0" fill="#faf0f0"/><rect y="965.5" width="24" height="1.5" fill="#fcf7f7"/><rect y="972.0" width="24" height="2.5" fill="#d7d6ec"/><rect y="981.4" width="24" height="2.5" fill="#d99898"/><rect y="990.5" width="24" height="1.2" fill="#8f8dc9"/><rect y="994.6" width="24" height="2.5" fill="#a82e2e"/><rect y="999.0" width="24" height="3.0" fill="#3c399d"/><rect y="1005.5" width="24" height="2.5" fill="#f6f6fb"/><rect y="1010.2" width="24" height="1.2" fill="#b8b6de"/><rect y="1014.9" width="24" height="3.0" fill="#ebebf6"/><rect y="1020.3" width="24" height="2.0" fill="#7f7dc1"/><rect y="1025.1" width="24" height="3.0" fill="#e5e5f3"/><rect y="1032.1" width="24" height="3.0" fill="#8886c6"/><rect y="1038.7" width="24" height="1.2" fill="#e9c1c1"/><rect y="1044.7" width="24" height="2.5" fill="#d4d3eb"/><rect y="1050.4" width="24" height="2.0" fill="#aeacd9"/><rect y="1057.2" width="24" height="1.2" fill="#d18585"/><rect y="1061.5" width="24" height="3.0" fill="#fbfbfd"/><rect y="1068.9" width="24" height="2.0" fill="#dfa9a9"/><rect y="1074.0" width="24" height="1.2" fill="#f0d5d5"/><rect y="1081.7" width="24" height="1.5" fill="#e6bbbb"/><rect y="1086.8" width="24" height="1.5" fill="#da9c9c"/><rect y="1091.2" width="24" height="1.5" fill="#d79393"/><rect y="1099.3" width="24" height="2.0" fill="#b44747"/><rect y="1104.3" width="24" height="3.0" fill="#b84f4f"/><rect y="1113.3" width="24" height="1.5" fill="#e0aaaa"/><rect y="1116.4" width="24" height="2.0" fill="#cf8080"/><rect y="1121.9" width="24" height="2.5" fill="#f4e1e1"/><rect y="1131.1" width="24" height="1.2" fill="#bf5e5e"/><rect y="1138.8" width="24" height="1.5" fill="#edcdcd"/><rect y="1144.1" width="24" height="2.5" fill="#e6b9b9"/><rect y="1150.8" width="24" height="2.5" fill="#dca0a0"/><rect y="1159.8" width="24" height="1.5" fill="#dfa8a8"/><rect y="1166.3" width="24" height="2.0" fill="#b74d4d"/><rect y="1171.5" width="24" height="2.5" fill="#dda4a4"/><rect y="1180.9" width="24" height="1.5" fill="#d99999"/><rect y="1189.4" width="24" height="1.5" fill="#a52828"/><rect y="1192.6" width="24" height="2.0" fill="#d08383"/><rect y="1197.0" width="24" height="3.0" fill="#eccaca"/><rect y="1204.3" width="24" height="1.5" fill="#cb7979"/><rect y="1210.8" width="24" height="3.0" fill="#c26565"/><rect y="1217.4" width="24" height="1.2" fill="#e4b5b5"/><rect y="1223.8" width="24" height="2.0" fill="#bb5656"/><rect y="1231.1" width="24" height="2.5" fill="#e4b4b4"/><rect y="1238.2" width="24" height="1.2" fill="#c87171"/><rect y="1244.2" width="24" height="2.0" fill="#cf8282"/><rect y="1252.1" width="24" height="3.0" fill="#b54949"/><rect y="1259.0" width="24" height="2.0" fill="#e4e4f2"/><rect y="1266.7" width="24" height="1.5" fill="#9694cd"/><rect y="1273.0" width="24" height="2.5" fill="#6c6ab8"/><rect y="1281.3" width="24" height="1.5" fill="#7f7dc1"/><rect y="1287.6" width="24" height="1.5" fill="#d1d0e9"/><rect y="1293.1" width="24" height="3.0" fill="#a6a4d5"/><rect y="1302.6" width="24" height="1.2" fill="#eeeef7"/><rect y="1310.1" width="24" height="3.0" fill="#9e9cd1"/><rect y="1316.9" width="24" height="1.2" fill="#e8e7f4"/><rect y="1324.5" width="24" height="3.0" fill="#5b59af"/><rect y="1334.5" width="24" height="1.2" fill="#d08383"/><rect y="1338.0" width="24" height="2.5" fill="#6f6dba"/><rect y="1347.4" width="24" height="3.0" fill="#5856ad"/><rect y="1353.9" width="24" height="1.2" fill="#34248a"/><rect y="1358.8" width="24" height="1.2" fill="#6765b6"/><rect y="1364.9" width="24" height="1.2" fill="#5755ad"/><rect y="1370.7" width="24" height="2.5" fill="#615fb2"/><rect y="1377.8" width="24" height="1.5" fill="#a09ed2"/><rect y="1385.3" width="24" height="1.5" fill="#b5b3dc"/><rect y="1391.3" width="24" height="1.2" fill="#393196"/><rect y="1394.6" width="24" height="2.5" fill="#5d5bb0"/><rect y="1404.0" width="24" height="1.5" fill="#e3e2f2"/><rect y="1410.1" width="24" height="3.0" fill="#34248a"/></g>
<rect x="697.7" y="783.4" width="580.8" height="633.6" fill="url(#stR)"/>
</g>
<text x="134.0" y="1449.8" text-anchor="middle">0/24</text>
<text x="335.6" y="1449.8" text-anchor="middle">12</text>
<text x="540.5" y="1449.8" text-anchor="middle">0/24</text>
<text x="727.5" y="1450.8" text-anchor="middle">12</text>
<text x="950.2" y="1450.8" text-anchor="middle">0/24</text>
<text x="1146.7" y="1450.8" text-anchor="middle">12</text>
<text x="400.6" y="1492.0" text-anchor="middle">ZT (h)</text>
<text x="988.5" y="1492.2" text-anchor="middle">ZT (h)</text>
<text x="682.6" y="1529.0" text-anchor="middle"><tspan font-style="italic">N</tspan> = 1765/5343</text>
<defs><linearGradient id="cb" x1="0" x2="1" y1="0" y2="0"><stop offset="0.0000" stop-color="#34248a"/><stop offset="0.1250" stop-color="#3c3a9e"/><stop offset="0.2500" stop-color="#6866b6"/><stop offset="0.3750" stop-color="#acaad8"/><stop offset="0.5000" stop-color="#ffffff"/><stop offset="0.6250" stop-color="#eac4c4"/><stop offset="0.7500" stop-color="#d48c8c"/><stop offset="0.8750" stop-color="#be5c5c"/><stop offset="1.0000" stop-color="#a52828"/></linearGradient></defs>
<rect x="1061.4" y="1514.7" width="261.2" height="44.6" fill="url(#cb)"/>
<path d="M1061.4,1559.3 H1322.6 M1061.9,1559.3 V1565 M1126.8,1559.3 V1565 M1192,1559.3 V1565 M1257.3,1559.3 V1565 M1322.1,1559.3 V1565" stroke="#333" stroke-width="1.3" fill="none"/>
<text x="1061.0" y="1597.4" text-anchor="middle">−2</text>
<text x="1126.8" y="1597.4" text-anchor="middle">−1</text>
<text x="1191.4" y="1597.4" text-anchor="middle">0</text>
<text x="1256.4" y="1597.4" text-anchor="middle">1</text>
<text x="1322.0" y="1597.4" text-anchor="middle">2</text>
<text x="1191.6" y="1633.4" text-anchor="middle"><tspan font-style="italic">Z</tspan>-score</text>
<text x="1473.5" y="947.5" font-size="41" font-weight="bold">c</text>
<text x="1609.9" y="956.4" text-anchor="middle">Matched</text>
<text x="1609.9" y="1264.7" text-anchor="middle">Mismatched</text>
<defs><filter id="sh" x="-20%" y="-20%" width="140%" height="140%"><feGaussianBlur in="SourceAlpha" stdDeviation="3"/><feOffset dy="3"/><feComponentTransfer><feFuncA type="linear" slope="0.35"/></feComponentTransfer><feMerge><feMergeNode/><feMergeNode in="SourceGraphic"/></feMerge></filter><filter id="soft"><feGaussianBlur stdDeviation="0.9"/></filter><clipPath id="bigc"><ellipse cx="1610.4" cy="1077" rx="117.6" ry="107.5"/></clipPath></defs>
<ellipse cx="1610.4" cy="1077" rx="117.6" ry="107.5" fill="#7766ad" filter="url(#sh)"/>
<defs><linearGradient id="rimg" x1="0" x2="0" y1="0" y2="1"><stop offset="0" stop-color="#9d8cdf" stop-opacity="1"/><stop offset="0.22" stop-color="#9d8cdf" stop-opacity="0"/></linearGradient><linearGradient id="rimr" x1="0" x2="0" y1="0" y2="1"><stop offset="0" stop-color="#b4554a" stop-opacity="0.8"/><stop offset="0.2" stop-color="#b4554a" stop-opacity="0"/></linearGradient></defs>
<ellipse cx="1610.4" cy="1077" rx="116" ry="105.8" fill="none" stroke="url(#rimg)" stroke-width="3" filter="url(#soft)"/>
<ellipse cx="1608.4" cy="1146.4" rx="88.7" ry="83.6" fill="#a8533b" filter="url(#sh)"/>
<ellipse cx="1608.4" cy="1146.4" rx="88.7" ry="83.6" fill="#943838" clip-path="url(#bigc)"/>
<ellipse cx="1608.4" cy="1146.4" rx="87.2" ry="82.1" fill="none" stroke="url(#rimr)" stroke-width="3" filter="url(#soft)"/>
<text x="1610.4" y="1025.0" text-anchor="middle" fill="#fff">1765</text>
<text x="1610.4" y="1132.2" text-anchor="middle" fill="#fff">1292</text>
<text x="1609.4" y="1215.9" text-anchor="middle" fill="#fff">532</text>
<text x="0.0" y="1707.5" font-size="41" font-weight="bold">d</text>
<path d="M128.6,2207.0 C128.9,2207.0 127.7,2213.1 130.7,2206.8 C133.7,2200.5 141.2,2184.5 146.8,2169.3 C152.5,2154.1 158.7,2132.1 164.6,2115.7 C170.5,2099.3 176.8,2084.5 182.5,2071.1 C188.2,2057.7 192.9,2042.9 198.6,2035.4 C204.2,2028.0 211.1,2026.1 216.4,2026.4 C221.8,2026.7 225.9,2031.1 230.7,2037.1 C235.5,2043.0 241.2,2056.1 245.0,2062.1 C248.8,2068.1 250.2,2068.7 253.8,2072.8 C257.4,2076.9 262.4,2083.5 266.7,2086.9 C270.9,2090.3 275.2,2092.5 279.3,2093.5 C283.4,2094.5 286.1,2094.5 291.0,2092.8 C295.9,2091.1 302.7,2086.3 308.6,2083.4 C314.5,2080.5 321.3,2076.6 326.2,2075.2 C331.1,2073.8 334.0,2074.4 337.9,2075.2 C341.8,2076.0 344.7,2076.6 349.6,2079.9 C354.5,2083.2 361.3,2089.3 367.2,2095.2 C373.1,2101.1 378.9,2108.8 384.8,2115.1 C390.7,2121.3 395.6,2126.8 402.4,2132.7 C409.2,2138.6 418.7,2144.4 425.8,2150.3 C432.9,2156.2 438.7,2162.2 445.1,2168.0 C451.5,2173.8 457.7,2179.5 464.0,2184.8 C470.3,2190.1 476.2,2195.5 482.9,2200.0 C489.6,2204.5 496.8,2209.2 504.4,2212.0 C512.0,2214.8 524.7,2215.8 528.7,2216.5 L528.7,2216.5 L128.6,2216.5 Z" fill="#000000" fill-opacity="0.49" stroke="#000" stroke-width="2.8" stroke-linejoin="round"/>
<path d="M128.6,2200.0 C128.9,2199.3 128.6,2204.1 130.7,2196.0 C132.8,2187.9 137.8,2170.7 141.4,2151.4 C145.0,2132.1 148.5,2106.8 152.1,2080.0 C155.7,2053.2 159.3,2015.7 162.9,1990.7 C166.5,1965.7 170.0,1945.5 173.6,1930.0 C177.2,1914.5 180.7,1905.3 184.3,1897.9 C187.9,1890.5 191.7,1885.4 195.0,1885.4 C198.3,1885.4 201.2,1892.2 203.9,1897.9 C206.6,1903.6 208.4,1910.4 211.1,1919.3 C213.8,1928.2 216.7,1940.1 220.0,1951.4 C223.3,1962.7 226.5,1973.1 230.7,1987.1 C234.9,2001.1 240.8,2023.2 245.0,2035.4 C249.2,2047.6 252.2,2053.6 256.0,2060.0 C259.8,2066.4 263.7,2070.2 267.6,2074.1 C271.5,2078.0 276.2,2080.6 279.3,2083.4 C282.4,2086.2 283.3,2087.1 286.0,2091.0 C288.7,2094.9 292.9,2101.9 295.7,2106.9 C298.5,2111.9 299.9,2115.2 303.0,2121.0 C306.1,2126.8 309.6,2134.6 314.5,2142.0 C319.4,2149.4 327.2,2159.6 332.1,2165.5 C337.0,2171.4 338.9,2173.9 343.8,2177.2 C348.7,2180.4 356.5,2184.0 361.4,2185.0 C366.3,2186.0 368.2,2184.5 373.1,2183.1 C378.0,2181.7 385.8,2177.2 390.7,2176.6 C395.6,2176.0 397.5,2176.9 402.4,2179.6 C407.3,2182.2 414.1,2188.6 420.0,2192.5 C425.9,2196.4 432.6,2200.7 437.6,2203.0 C442.6,2205.3 445.6,2205.2 450.0,2206.6 C454.4,2208.0 450.9,2210.0 464.0,2211.7 C477.1,2213.3 517.9,2215.7 528.7,2216.5 L528.7,2216.5 L128.6,2216.5 Z" fill="#f8b75a" fill-opacity="0.509" stroke="#ffa500" stroke-width="2.8" stroke-linejoin="round"/>
<path d="M128.6,2204.0 C128.9,2203.9 127.7,2212.0 130.7,2203.2 C133.7,2194.4 141.2,2168.9 146.8,2151.4 C152.5,2133.9 159.2,2115.8 164.6,2097.9 C169.9,2080.1 173.8,2060.4 178.9,2044.3 C184.0,2028.2 189.5,2011.1 195.0,2001.4 C200.5,1991.7 207.5,1987.5 212.0,1986.3 C216.5,1985.1 219.0,1991.2 221.8,1994.3 C224.6,1997.4 226.2,2000.2 228.9,2005.0 C231.6,2009.8 234.9,2016.7 237.9,2022.9 C240.9,2029.1 244.2,2035.5 246.8,2042.0 C249.5,2048.5 251.3,2055.7 253.8,2062.0 C256.3,2068.3 258.4,2074.7 261.7,2080.0 C265.0,2085.3 269.5,2090.2 273.4,2094.0 C277.3,2097.8 281.1,2100.5 285.0,2103.0 C288.9,2105.5 292.0,2107.4 296.9,2109.2 C301.8,2111.0 307.7,2112.9 314.5,2113.9 C321.3,2114.9 332.0,2114.5 337.9,2115.1 C343.8,2115.7 345.7,2116.0 349.6,2117.4 C353.5,2118.8 356.5,2120.2 361.4,2123.3 C366.3,2126.4 372.2,2131.7 379.0,2136.2 C385.8,2140.7 394.6,2145.8 402.4,2150.3 C410.2,2154.8 417.9,2158.3 425.8,2163.2 C433.7,2168.0 441.4,2173.6 450.0,2179.4 C458.6,2185.2 468.4,2192.8 477.5,2198.2 C486.6,2203.6 495.9,2208.9 504.4,2212.0 C512.9,2215.1 524.7,2215.8 528.7,2216.5 L528.7,2216.5 L128.6,2216.5 Z" fill="#5232a9" fill-opacity="0.431" stroke="#0000ff" stroke-width="2.8" stroke-linejoin="round"/>
<path d="M128.6,2198.0 C130.2,2193.2 134.9,2183.0 137.9,2169.3 C140.9,2155.6 143.8,2136.5 146.8,2115.7 C149.8,2094.9 152.7,2068.1 155.7,2044.3 C158.7,2020.5 161.6,1996.7 164.6,1972.9 C167.6,1949.1 170.9,1920.8 173.6,1901.4 C176.3,1882.1 177.9,1867.4 180.7,1856.8 C183.5,1846.2 187.5,1839.5 190.5,1838.0 C193.5,1836.5 196.1,1840.3 198.6,1847.9 C201.1,1855.5 203.3,1870.8 205.7,1883.6 C208.1,1896.4 210.5,1911.2 212.9,1924.6 C215.3,1938.0 217.6,1951.4 220.0,1963.9 C222.4,1976.4 224.9,1989.1 227.1,1999.6 C229.3,2010.1 231.0,2019.4 233.0,2027.0 C235.0,2034.6 237.0,2038.5 239.0,2045.0 C241.0,2051.5 242.9,2059.2 245.0,2066.0 C247.1,2072.8 248.8,2079.5 251.3,2086.0 C253.9,2092.5 256.7,2099.7 260.3,2105.0 C263.9,2110.3 268.8,2115.3 273.1,2118.0 C277.4,2120.7 281.5,2118.9 285.9,2121.0 C290.2,2123.1 294.4,2125.8 299.2,2130.3 C304.0,2134.8 309.0,2142.0 314.5,2147.9 C320.0,2153.8 326.2,2160.8 332.1,2165.5 C338.0,2170.2 343.8,2173.7 349.6,2176.0 C355.5,2178.3 361.3,2178.8 367.2,2179.6 C373.1,2180.4 379.9,2180.0 384.8,2180.8 C389.7,2181.6 391.6,2182.0 396.5,2184.3 C401.4,2186.6 408.2,2191.7 414.1,2194.8 C420.0,2197.9 425.7,2200.7 431.7,2203.0 C437.7,2205.3 440.1,2206.8 450.0,2208.9 C459.9,2211.0 477.8,2214.0 490.9,2215.3 C504.0,2216.6 522.4,2216.3 528.7,2216.5 L528.7,2216.5 L128.6,2216.5 Z" fill="#981502" fill-opacity="0.376" stroke="#a52a2a" stroke-width="2.8" stroke-linejoin="round"/>
<line x1="208.5" y1="1819.6" x2="208.5" y2="2236" stroke="#a52a2a" stroke-width="4.7" stroke-dasharray="18.1 18.1"/>
<line x1="219.4" y1="1819.6" x2="219.4" y2="2236" stroke="#ffa500" stroke-width="4.7" stroke-dasharray="18.1 18.1"/>
<line x1="248.3" y1="1819.6" x2="248.3" y2="2236" stroke="#0000ff" stroke-width="4.7" stroke-dasharray="18.1 18.1"/>
<line x1="281.4" y1="1819.6" x2="281.4" y2="2236" stroke="#000" stroke-width="4.7" stroke-dasharray="18.1 18.1"/>
<path d="M109,1820 V2236 H550 M105.5,2217.1 H109 M105.5,2117.4 H109 M105.5,2017.6 H109 M105.5,1917.8 H109 M224.6,2236 V2240 M339.1,2236 V2240 M454.5,2236 V2240" stroke="#000" stroke-width="1.6" fill="none"/>
<text x="94.3" y="2227.4" text-anchor="end">0.0</text>
<text x="94.3" y="2127.7" text-anchor="end">0.3</text>
<text x="94.3" y="2027.9" text-anchor="end">0.6</text>
<text x="94.3" y="1928.1" text-anchor="end">0.9</text>
<text x="224.6" y="2271.0" text-anchor="middle">1</text>
<text x="339.1" y="2271.0" text-anchor="middle">2</text>
<text x="454.5" y="2271.0" text-anchor="middle">3</text>
<text x="308.5" y="2309.6" text-anchor="middle">Amplitude</text>
<text x="27.6" y="2049.0" text-anchor="middle" transform="rotate(-90 27.6 2049)">Density</text>
<text x="337.0" y="1833.7">Condition</text>
<rect x="334.5" y="1847.7" width="46.8" height="46.5" fill="#828282" stroke="#000" stroke-width="5"/>
<rect x="352.8" y="1858.6" width="10" height="39.1" fill="#000"/>
<text x="394.7" y="1881.5" font-size="24.6">6 h_Matched</text>
<rect x="334.5" y="1901.5" width="46.8" height="46.5" fill="#fddbaa" stroke="#ffa500" stroke-width="5"/>
<rect x="352.8" y="1912.4" width="10" height="39.1" fill="#ffa500"/>
<text x="394.7" y="1935.3" font-size="24.6">6 h_Mismatched</text>
<rect x="334.5" y="1954.4" width="46.8" height="46.5" fill="#b4a2e0" stroke="#0000ff" stroke-width="5"/>
<rect x="352.8" y="1965.3" width="10" height="39.1" fill="#0000ff"/>
<text x="394.7" y="1988.2" font-size="24.6">Matched</text>
<rect x="334.5" y="2007.5" width="46.8" height="46.5" fill="#dba89b" stroke="#a52a2a" stroke-width="5"/>
<rect x="352.8" y="2018.4" width="10" height="39.1" fill="#a52a2a"/>
<text x="394.7" y="2041.3" font-size="24.6">Mismatched</text>
<text x="648.0" y="1706.3" font-size="41" font-weight="bold">e</text>
<text x="945.5" y="1718.1" text-anchor="middle">Matched</text>
<path d="M771.4,1905.8 H1104.6 M771.4,1849.1 H1104.6 M771.4,1792.3 H1104.6 M771.4,1735.6 H1104.6 " stroke="#a0a0a0" stroke-width="1.1" fill="none"/>
<path d="M857.7,1735.6 V1966.1 M940.0,1735.6 V1966.1 M1022.3,1735.6 V1966.1 M1104.6,1735.6 V1966.1 " stroke="#808080" stroke-width="1.1" fill="none"/>
<g fill="#0000ff" stroke="#10104a" stroke-width="0.8"><rect x="775.4" y="1902.9" width="13.72" height="59.7"/><rect x="789.1" y="1934.2" width="13.72" height="28.4"/><rect x="802.8" y="1935.8" width="13.72" height="26.8"/><rect x="816.6" y="1938.8" width="13.72" height="23.8"/><rect x="830.3" y="1927.4" width="13.72" height="35.2"/><rect x="844.0" y="1920.6" width="13.72" height="42.0"/><rect x="857.7" y="1873.6" width="13.72" height="89.0"/><rect x="871.4" y="1812.4" width="13.72" height="150.2"/><rect x="885.1" y="1756.0" width="13.72" height="206.6"/><rect x="898.9" y="1771.2" width="13.72" height="191.4"/><rect x="912.6" y="1821.9" width="13.72" height="140.7"/><rect x="926.3" y="1823.0" width="13.72" height="139.6"/><rect x="940.0" y="1893.7" width="13.72" height="68.9"/><rect x="953.7" y="1927.3" width="13.72" height="35.3"/><rect x="967.4" y="1948.0" width="13.72" height="14.6"/><rect x="981.2" y="1954.7" width="13.72" height="7.9"/><rect x="994.9" y="1949.2" width="13.72" height="13.4"/><rect x="1008.6" y="1952.3" width="13.72" height="10.3"/><rect x="1022.3" y="1881.9" width="13.72" height="80.7"/><rect x="1036.0" y="1833.4" width="13.72" height="129.2"/><rect x="1049.7" y="1824.0" width="13.72" height="138.6"/><rect x="1063.5" y="1851.0" width="13.72" height="111.6"/><rect x="1077.2" y="1879.7" width="13.72" height="82.9"/><rect x="1090.9" y="1892.6" width="13.72" height="70.0"/></g>
<path d="M775.4,1735.6 V1962.6 H1104.6" stroke="#808080" stroke-width="1.2" fill="none"/>
<line x1="881.8" y1="1735.6" x2="881.8" y2="1962.6" stroke="#9e3b33" stroke-width="5.2" stroke-dasharray="14.5 5.2"/>
<line x1="881.8" y1="1735.6" x2="881.8" y2="1962.6" stroke="#d05050" stroke-width="1" stroke-opacity="0.6"/>
<line x1="901.6" y1="1735.6" x2="901.6" y2="1962.6" stroke="#9e3b33" stroke-width="5.2" stroke-dasharray="14.5 5.2"/>
<line x1="901.6" y1="1735.6" x2="901.6" y2="1962.6" stroke="#d05050" stroke-width="1" stroke-opacity="0.6"/>
<line x1="891.5" y1="1736.6" x2="891.5" y2="1962.6" stroke="#000" stroke-width="4.4"/>
<text x="761.5" y="1972.1" text-anchor="end">0</text>
<text x="761.5" y="1915.3" text-anchor="end">50</text>
<text x="761.5" y="1858.6" text-anchor="end">100</text>
<text x="761.5" y="1801.8" text-anchor="end">150</text>
<text x="761.5" y="1745.1" text-anchor="end">200</text>
<text x="775.4" y="1996.6" text-anchor="middle">0</text>
<text x="857.7" y="1996.6" text-anchor="middle">6</text>
<text x="940.0" y="1996.6" text-anchor="middle">12</text>
<text x="1022.3" y="1996.6" text-anchor="middle">18</text>
<text x="1104.6" y="1996.6" text-anchor="middle">24</text>
<text x="941.2" y="2038.1" text-anchor="middle">ZT</text>
<text x="693.2" y="1848.3" text-anchor="middle" transform="rotate(-90 693.2 1848.3)">Frequency</text>
<text x="926.3" y="2085.0" font-size="24" text-anchor="middle">Mismatched</text>
<path d="M751.6,2285.2 H1099.0 M751.6,2240.0 H1099.0 M751.6,2194.7 H1099.0 M751.6,2149.5 H1099.0 " stroke="#a0a0a0" stroke-width="1.1" fill="none"/>
<path d="M841.5,2104.3 V2333.9 M927.3,2104.3 V2333.9 M1013.2,2104.3 V2333.9 M1099.0,2104.3 V2333.9 " stroke="#808080" stroke-width="1.1" fill="none"/>
<g fill="#0000ff" stroke="#10104a" stroke-width="0.8"><rect x="755.6" y="2274.7" width="14.31" height="55.7"/><rect x="769.9" y="2149.1" width="14.31" height="181.3"/><rect x="784.2" y="2140.8" width="14.31" height="189.6"/><rect x="798.5" y="2179.5" width="14.31" height="150.9"/><rect x="812.8" y="2207.0" width="14.31" height="123.4"/><rect x="827.1" y="2250.6" width="14.31" height="79.8"/><rect x="841.5" y="2210.6" width="14.31" height="119.8"/><rect x="855.8" y="2216.1" width="14.31" height="114.3"/><rect x="870.1" y="2205.4" width="14.31" height="125.0"/><rect x="884.4" y="2162.7" width="14.31" height="167.7"/><rect x="898.7" y="2122.5" width="14.31" height="207.9"/><rect x="913.0" y="2175.9" width="14.31" height="154.5"/><rect x="927.3" y="2212.5" width="14.31" height="117.9"/><rect x="941.6" y="2175.9" width="14.31" height="154.5"/><rect x="955.9" y="2168.3" width="14.31" height="162.1"/><rect x="970.2" y="2235.2" width="14.31" height="95.2"/><rect x="984.6" y="2228.4" width="14.31" height="102.0"/><rect x="998.9" y="2226.7" width="14.31" height="103.7"/><rect x="1013.2" y="2224.6" width="14.31" height="105.8"/><rect x="1027.5" y="2207.0" width="14.31" height="123.4"/><rect x="1041.8" y="2207.0" width="14.31" height="123.4"/><rect x="1056.1" y="2154.2" width="14.31" height="176.2"/><rect x="1070.4" y="2234.3" width="14.31" height="96.1"/><rect x="1084.7" y="2249.0" width="14.31" height="81.4"/></g>
<path d="M755.6,2104.3 V2330.4 H1099.0" stroke="#808080" stroke-width="1.2" fill="none"/>
<line x1="852.2" y1="2104.3" x2="852.2" y2="2330.4" stroke="#9e3b33" stroke-width="5.2" stroke-dasharray="14.5 5.2"/>
<line x1="852.2" y1="2104.3" x2="852.2" y2="2330.4" stroke="#d05050" stroke-width="1" stroke-opacity="0.6"/>
<line x1="914.1" y1="2104.3" x2="914.1" y2="2330.4" stroke="#9e3b33" stroke-width="5.2" stroke-dasharray="14.5 5.2"/>
<line x1="914.1" y1="2104.3" x2="914.1" y2="2330.4" stroke="#d05050" stroke-width="1" stroke-opacity="0.6"/>
<line x1="883.6" y1="2105.3" x2="883.6" y2="2330.4" stroke="#000" stroke-width="4.4"/>
<text x="740.4" y="2339.9" text-anchor="end">0</text>
<text x="740.4" y="2294.7" text-anchor="end">25</text>
<text x="740.4" y="2249.5" text-anchor="end">50</text>
<text x="740.4" y="2204.2" text-anchor="end">75</text>
<text x="740.4" y="2159.0" text-anchor="end">100</text>
<text x="740.4" y="2113.8" text-anchor="end">125</text>
<text x="755.6" y="2365.9" text-anchor="middle">12</text>
<text x="841.5" y="2365.9" text-anchor="middle">18</text>
<text x="927.3" y="2365.9" text-anchor="middle">0/24</text>
<text x="1013.2" y="2365.9" text-anchor="middle">6</text>
<text x="1099.0" y="2365.9" text-anchor="middle">12</text>
<text x="927.4" y="2405.5" text-anchor="middle">ZT</text>
<text x="673.5" y="2216.0" text-anchor="middle" transform="rotate(-90 673.5 2216)">Frequency</text>
<text x="1229.5" y="1709.0" font-size="41" font-weight="bold">f</text>
<path d="M1331.9,1756.7 V2188.2 H1814.5 M1327.5,2168.5 H1331.9 M1327.5,2044.6 H1331.9 M1327.5,1920.7 H1331.9 M1327.5,1796.8 H1331.9 M1349.6,2188.2 V2192 M1459.8,2188.2 V2192 M1571,2188.2 V2192 M1682,2188.2 V2192 M1792.9,2188.2 V2192" stroke="#a8a8a8" stroke-width="1.6" fill="none"/>
<path d="M1353.7,2167.9 L1353.7,2021.8 C1354.4,2017.8 1356.3,2006.1 1358.1,1997.7 C1359.8,1989.3 1361.8,1979.2 1364.2,1971.5 C1366.6,1963.8 1369.2,1957.0 1372.2,1951.3 C1375.2,1945.6 1378.6,1940.5 1382.3,1937.2 C1386.0,1933.9 1389.7,1932.4 1394.4,1931.2 C1399.1,1930.0 1405.5,1930.2 1410.5,1930.2 C1415.5,1930.2 1420.2,1930.4 1424.6,1931.2 C1429.0,1932.0 1433.0,1933.2 1436.7,1935.2 C1440.4,1937.2 1443.4,1939.6 1446.7,1943.3 C1450.0,1947.0 1453.1,1952.4 1456.8,1957.4 C1460.5,1962.4 1464.9,1967.8 1468.9,1973.5 C1472.9,1979.2 1477.0,1985.2 1481.0,1991.6 C1485.0,1998.0 1489.1,2005.8 1493.1,2011.8 C1497.1,2017.8 1501.5,2024.6 1505.2,2027.9 C1508.9,2031.2 1512.2,2032.2 1515.2,2031.9 C1518.2,2031.6 1520.6,2030.9 1523.3,2025.9 C1526.0,2020.9 1528.9,2010.8 1531.3,2001.7 C1533.7,1992.6 1535.4,1984.9 1537.4,1971.5 C1539.4,1958.1 1541.4,1936.2 1543.4,1921.1 C1545.4,1906.0 1547.5,1894.2 1549.5,1880.8 C1551.5,1867.4 1553.5,1852.3 1555.5,1840.6 C1557.5,1828.9 1559.1,1817.5 1561.5,1810.4 C1563.9,1803.4 1567.4,1799.0 1569.8,1798.3 C1572.2,1797.6 1574.0,1800.9 1576.1,1806.3 C1578.2,1811.7 1580.2,1819.8 1582.2,1830.5 C1584.2,1841.2 1586.2,1855.7 1588.2,1870.8 C1590.2,1885.9 1592.2,1904.3 1594.2,1921.1 C1596.2,1937.9 1598.3,1955.4 1600.3,1971.5 C1602.3,1987.6 1604.3,2004.4 1606.3,2017.8 C1608.3,2031.2 1610.1,2041.2 1612.4,2052.0 C1614.8,2062.8 1617.4,2073.9 1620.4,2082.3 C1623.4,2090.7 1626.5,2097.7 1630.5,2102.4 C1634.5,2107.1 1639.6,2108.2 1644.6,2110.5 C1649.6,2112.8 1654.7,2114.2 1660.7,2116.5 C1666.7,2118.8 1674.1,2122.9 1680.8,2124.6 C1687.5,2126.3 1694.3,2126.9 1701.0,2126.6 C1707.7,2126.2 1714.4,2123.8 1721.1,2122.5 C1727.8,2121.2 1735.2,2119.2 1741.3,2118.5 C1747.3,2117.8 1752.0,2117.5 1757.4,2118.5 C1762.8,2119.5 1768.8,2122.6 1773.5,2124.6 C1778.2,2126.6 1782.4,2128.6 1785.6,2130.6 C1788.8,2132.6 1791.4,2135.6 1792.6,2136.6 L1792.6,2167.9 Z" fill="#a32337" fill-opacity="0.25" stroke="#b0302f" stroke-width="2.6" stroke-linejoin="round"/>
<path d="M1353.7,2167.9 L1353.7,2146.7 C1356.5,2142.7 1365.1,2129.9 1370.2,2122.5 C1375.3,2115.1 1379.3,2109.8 1384.3,2102.4 C1389.3,2095.0 1395.7,2085.9 1400.4,2078.2 C1405.1,2070.5 1408.5,2064.5 1412.5,2056.1 C1416.5,2047.7 1420.6,2038.0 1424.6,2027.9 C1428.6,2017.8 1432.7,2007.3 1436.7,1995.6 C1440.7,1983.8 1444.8,1970.2 1448.8,1957.4 C1452.8,1944.7 1456.8,1930.5 1460.8,1919.1 C1464.8,1907.7 1468.9,1896.6 1472.9,1888.9 C1476.9,1881.2 1481.1,1876.3 1485.0,1872.8 C1488.9,1869.3 1492.7,1867.8 1496.1,1867.8 C1499.5,1867.8 1502.0,1869.3 1505.2,1872.8 C1508.4,1876.3 1511.9,1883.2 1515.2,1888.9 C1518.5,1894.6 1522.1,1902.3 1525.3,1907.0 C1528.5,1911.7 1531.7,1916.8 1534.4,1917.1 C1537.1,1917.4 1539.2,1915.0 1541.4,1909.0 C1543.6,1903.0 1545.5,1892.9 1547.5,1880.8 C1549.5,1868.7 1551.5,1849.9 1553.5,1836.5 C1555.5,1823.1 1557.7,1809.7 1559.5,1800.3 C1561.3,1790.9 1562.8,1784.3 1564.6,1780.1 C1566.4,1775.9 1568.4,1774.4 1570.3,1775.1 C1572.2,1775.8 1574.1,1777.3 1576.1,1784.2 C1578.1,1791.1 1580.2,1803.7 1582.2,1816.4 C1584.2,1829.2 1586.2,1844.9 1588.2,1860.7 C1590.2,1876.5 1592.2,1895.9 1594.2,1911.0 C1596.2,1926.1 1598.0,1937.9 1600.3,1951.3 C1602.6,1964.7 1605.3,1978.8 1608.3,1991.6 C1611.3,2004.4 1614.7,2016.8 1618.4,2027.9 C1622.1,2039.0 1626.1,2049.7 1630.5,2058.1 C1634.9,2066.5 1639.6,2072.5 1644.6,2078.2 C1649.6,2083.9 1654.7,2088.3 1660.7,2092.3 C1666.7,2096.3 1674.1,2099.7 1680.8,2102.4 C1687.5,2105.1 1694.3,2106.1 1701.0,2108.4 C1707.7,2110.8 1714.4,2114.5 1721.1,2116.5 C1727.8,2118.5 1734.6,2119.2 1741.3,2120.5 C1748.0,2121.8 1755.4,2122.6 1761.4,2124.6 C1767.4,2126.6 1772.3,2129.6 1777.5,2132.6 C1782.7,2135.6 1790.1,2141.0 1792.6,2142.7 L1792.6,2167.9 Z" fill="#6c64e7" fill-opacity="0.5" stroke="#3346b0" stroke-width="2.6" stroke-linejoin="round"/>
<defs><clipPath id="fblu"><path d="M1353.7,2167.9 L1353.7,2146.7 C1356.5,2142.7 1365.1,2129.9 1370.2,2122.5 C1375.3,2115.1 1379.3,2109.8 1384.3,2102.4 C1389.3,2095.0 1395.7,2085.9 1400.4,2078.2 C1405.1,2070.5 1408.5,2064.5 1412.5,2056.1 C1416.5,2047.7 1420.6,2038.0 1424.6,2027.9 C1428.6,2017.8 1432.7,2007.3 1436.7,1995.6 C1440.7,1983.8 1444.8,1970.2 1448.8,1957.4 C1452.8,1944.7 1456.8,1930.5 1460.8,1919.1 C1464.8,1907.7 1468.9,1896.6 1472.9,1888.9 C1476.9,1881.2 1481.1,1876.3 1485.0,1872.8 C1488.9,1869.3 1492.7,1867.8 1496.1,1867.8 C1499.5,1867.8 1502.0,1869.3 1505.2,1872.8 C1508.4,1876.3 1511.9,1883.2 1515.2,1888.9 C1518.5,1894.6 1522.1,1902.3 1525.3,1907.0 C1528.5,1911.7 1531.7,1916.8 1534.4,1917.1 C1537.1,1917.4 1539.2,1915.0 1541.4,1909.0 C1543.6,1903.0 1545.5,1892.9 1547.5,1880.8 C1549.5,1868.7 1551.5,1849.9 1553.5,1836.5 C1555.5,1823.1 1557.7,1809.7 1559.5,1800.3 C1561.3,1790.9 1562.8,1784.3 1564.6,1780.1 C1566.4,1775.9 1568.4,1774.4 1570.3,1775.1 C1572.2,1775.8 1574.1,1777.3 1576.1,1784.2 C1578.1,1791.1 1580.2,1803.7 1582.2,1816.4 C1584.2,1829.2 1586.2,1844.9 1588.2,1860.7 C1590.2,1876.5 1592.2,1895.9 1594.2,1911.0 C1596.2,1926.1 1598.0,1937.9 1600.3,1951.3 C1602.6,1964.7 1605.3,1978.8 1608.3,1991.6 C1611.3,2004.4 1614.7,2016.8 1618.4,2027.9 C1622.1,2039.0 1626.1,2049.7 1630.5,2058.1 C1634.9,2066.5 1639.6,2072.5 1644.6,2078.2 C1649.6,2083.9 1654.7,2088.3 1660.7,2092.3 C1666.7,2096.3 1674.1,2099.7 1680.8,2102.4 C1687.5,2105.1 1694.3,2106.1 1701.0,2108.4 C1707.7,2110.8 1714.4,2114.5 1721.1,2116.5 C1727.8,2118.5 1734.6,2119.2 1741.3,2120.5 C1748.0,2121.8 1755.4,2122.6 1761.4,2124.6 C1767.4,2126.6 1772.3,2129.6 1777.5,2132.6 C1782.7,2135.6 1790.1,2141.0 1792.6,2142.7 L1792.6,2167.9 Z"/></clipPath></defs>
<path d="M1353.7,2021.8 C1354.4,2017.8 1356.3,2006.1 1358.1,1997.7 C1359.8,1989.3 1361.8,1979.2 1364.2,1971.5 C1366.6,1963.8 1369.2,1957.0 1372.2,1951.3 C1375.2,1945.6 1378.6,1940.5 1382.3,1937.2 C1386.0,1933.9 1389.7,1932.4 1394.4,1931.2 C1399.1,1930.0 1405.5,1930.2 1410.5,1930.2 C1415.5,1930.2 1420.2,1930.4 1424.6,1931.2 C1429.0,1932.0 1433.0,1933.2 1436.7,1935.2 C1440.4,1937.2 1443.4,1939.6 1446.7,1943.3 C1450.0,1947.0 1453.1,1952.4 1456.8,1957.4 C1460.5,1962.4 1464.9,1967.8 1468.9,1973.5 C1472.9,1979.2 1477.0,1985.2 1481.0,1991.6 C1485.0,1998.0 1489.1,2005.8 1493.1,2011.8 C1497.1,2017.8 1501.5,2024.6 1505.2,2027.9 C1508.9,2031.2 1512.2,2032.2 1515.2,2031.9 C1518.2,2031.6 1520.6,2030.9 1523.3,2025.9 C1526.0,2020.9 1528.9,2010.8 1531.3,2001.7 C1533.7,1992.6 1535.4,1984.9 1537.4,1971.5 C1539.4,1958.1 1541.4,1936.2 1543.4,1921.1 C1545.4,1906.0 1547.5,1894.2 1549.5,1880.8 C1551.5,1867.4 1553.5,1852.3 1555.5,1840.6 C1557.5,1828.9 1559.1,1817.5 1561.5,1810.4 C1563.9,1803.4 1567.4,1799.0 1569.8,1798.3 C1572.2,1797.6 1574.0,1800.9 1576.1,1806.3 C1578.2,1811.7 1580.2,1819.8 1582.2,1830.5 C1584.2,1841.2 1586.2,1855.7 1588.2,1870.8 C1590.2,1885.9 1592.2,1904.3 1594.2,1921.1 C1596.2,1937.9 1598.3,1955.4 1600.3,1971.5 C1602.3,1987.6 1604.3,2004.4 1606.3,2017.8 C1608.3,2031.2 1610.1,2041.2 1612.4,2052.0 C1614.8,2062.8 1617.4,2073.9 1620.4,2082.3 C1623.4,2090.7 1626.5,2097.7 1630.5,2102.4 C1634.5,2107.1 1639.6,2108.2 1644.6,2110.5 C1649.6,2112.8 1654.7,2114.2 1660.7,2116.5 C1666.7,2118.8 1674.1,2122.9 1680.8,2124.6 C1687.5,2126.3 1694.3,2126.9 1701.0,2126.6 C1707.7,2126.2 1714.4,2123.8 1721.1,2122.5 C1727.8,2121.2 1735.2,2119.2 1741.3,2118.5 C1747.3,2117.8 1752.0,2117.5 1757.4,2118.5 C1762.8,2119.5 1768.8,2122.6 1773.5,2124.6 C1778.2,2126.6 1782.4,2128.6 1785.6,2130.6 C1788.8,2132.6 1791.4,2135.6 1792.6,2136.6" fill="none" stroke="#7a2a7e" stroke-width="2.6" clip-path="url(#fblu)"/>
<path d="M1353.7,2167.9 L1353.7,2146.7 C1356.5,2142.7 1365.1,2129.9 1370.2,2122.5 C1375.3,2115.1 1379.3,2109.8 1384.3,2102.4 C1389.3,2095.0 1395.7,2085.9 1400.4,2078.2 C1405.1,2070.5 1408.5,2064.5 1412.5,2056.1 C1416.5,2047.7 1420.6,2038.0 1424.6,2027.9 C1428.6,2017.8 1432.7,2007.3 1436.7,1995.6 C1440.7,1983.8 1444.8,1970.2 1448.8,1957.4 C1452.8,1944.7 1456.8,1930.5 1460.8,1919.1 C1464.8,1907.7 1468.9,1896.6 1472.9,1888.9 C1476.9,1881.2 1481.1,1876.3 1485.0,1872.8 C1488.9,1869.3 1492.7,1867.8 1496.1,1867.8 C1499.5,1867.8 1502.0,1869.3 1505.2,1872.8 C1508.4,1876.3 1511.9,1883.2 1515.2,1888.9 C1518.5,1894.6 1522.1,1902.3 1525.3,1907.0 C1528.5,1911.7 1531.7,1916.8 1534.4,1917.1 C1537.1,1917.4 1539.2,1915.0 1541.4,1909.0 C1543.6,1903.0 1545.5,1892.9 1547.5,1880.8 C1549.5,1868.7 1551.5,1849.9 1553.5,1836.5 C1555.5,1823.1 1557.7,1809.7 1559.5,1800.3 C1561.3,1790.9 1562.8,1784.3 1564.6,1780.1 C1566.4,1775.9 1568.4,1774.4 1570.3,1775.1 C1572.2,1775.8 1574.1,1777.3 1576.1,1784.2 C1578.1,1791.1 1580.2,1803.7 1582.2,1816.4 C1584.2,1829.2 1586.2,1844.9 1588.2,1860.7 C1590.2,1876.5 1592.2,1895.9 1594.2,1911.0 C1596.2,1926.1 1598.0,1937.9 1600.3,1951.3 C1602.6,1964.7 1605.3,1978.8 1608.3,1991.6 C1611.3,2004.4 1614.7,2016.8 1618.4,2027.9 C1622.1,2039.0 1626.1,2049.7 1630.5,2058.1 C1634.9,2066.5 1639.6,2072.5 1644.6,2078.2 C1649.6,2083.9 1654.7,2088.3 1660.7,2092.3 C1666.7,2096.3 1674.1,2099.7 1680.8,2102.4 C1687.5,2105.1 1694.3,2106.1 1701.0,2108.4 C1707.7,2110.8 1714.4,2114.5 1721.1,2116.5 C1727.8,2118.5 1734.6,2119.2 1741.3,2120.5 C1748.0,2121.8 1755.4,2122.6 1761.4,2124.6 C1767.4,2126.6 1772.3,2129.6 1777.5,2132.6 C1782.7,2135.6 1790.1,2141.0 1792.6,2142.7 L1792.6,2167.9 Z" fill="none" stroke="#3346b0" stroke-width="2.6" stroke-linejoin="round"/>
<line x1="1506.9" y1="1757" x2="1506.9" y2="2188" stroke="#b0302f" stroke-width="2.2" stroke-dasharray="9 6"/>
<line x1="1537" y1="1757" x2="1537" y2="2188" stroke="#3346b0" stroke-width="2.2" stroke-dasharray="9 6"/>
<text x="1318.0" y="2179.5" text-anchor="end">0.0</text>
<text x="1318.0" y="2055.6" text-anchor="end">0.1</text>
<text x="1318.0" y="1931.7" text-anchor="end">0.2</text>
<text x="1318.0" y="1807.8" text-anchor="end">0.3</text>
<text x="1349.6" y="2222.0" text-anchor="middle">20</text>
<text x="1459.8" y="2222.0" text-anchor="middle">22</text>
<text x="1571.0" y="2222.0" text-anchor="middle">24</text>
<text x="1682.0" y="2222.0" text-anchor="middle">26</text>
<text x="1792.9" y="2222.0" text-anchor="middle">28</text>
<text x="1559.0" y="2261.3" text-anchor="middle">Period (h)</text>
<text x="1254.2" y="1961.0" text-anchor="middle" transform="rotate(-90 1254.2 1961)">Density</text>
<text x="1360.6" y="1799.2"><tspan font-style="italic">N</tspan> = 1765</text>
<text x="1706.0" y="1857.7">Condition</text>
<rect x="1707.6" y="1882.6" width="25" height="24.4" fill="#ecc8c8" stroke="#b22b2b" stroke-width="4.4"/>
<rect x="1717.5" y="1887.4" width="5.5" height="22.6" fill="#b22b2b"/>
<text x="1747.5" y="1905.0" font-size="24.3">Mismatched</text>
<rect x="1707.6" y="1915.2" width="25" height="24.4" fill="#bfbfee" stroke="#3346b0" stroke-width="4.4"/>
<rect x="1717.5" y="1920.0" width="5.5" height="22.6" fill="#3346b0"/>
<text x="1747.5" y="1936.8" font-size="24.3">Matched</text>
</g>
</svg>
</body></html>
